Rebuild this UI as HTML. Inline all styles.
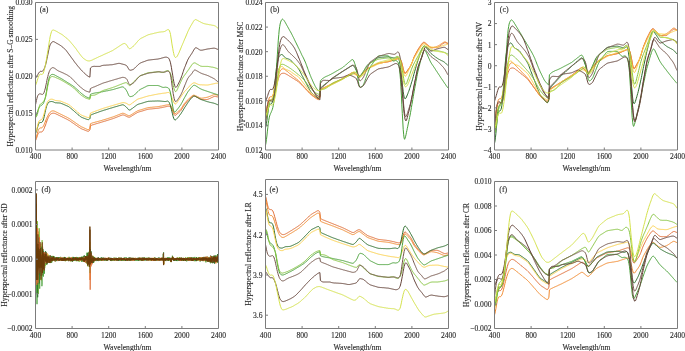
<!DOCTYPE html><html><head><meta charset="utf-8"><style>html,body{margin:0;padding:0;background:#fff;}svg{display:block;will-change:transform}text{font-family:"Liberation Serif",serif;stroke:#2a2a2a;stroke-width:0.12px;}</style></head><body>
<svg width="685" height="351" viewBox="0 0 685 351">
<rect width="685" height="351" fill="#fff"/>
<g><polyline points="35.5,140.7 36.0,139.7 36.4,138.5 36.9,137.1 37.3,135.7 37.8,134.4 38.2,133.5 38.7,132.8 39.2,132.4 39.6,132.1 40.1,132.0 40.5,132.0 41.0,132.0 41.4,132.0 41.9,131.8 42.4,131.5 42.8,131.0 43.3,130.3 43.7,129.4 44.2,128.4 44.6,127.2 45.1,126.0 45.6,124.8 46.0,123.5 46.5,122.2 46.9,120.9 47.4,119.7 47.9,118.5 48.3,117.4 48.8,116.5 49.2,115.8 49.7,115.1 50.1,114.6 50.6,114.2 51.1,113.8 51.5,113.6 52.0,113.4 52.4,113.3 52.9,113.2 53.3,113.2 53.8,113.2 54.3,113.3 54.7,113.4 55.2,113.6 55.6,113.7 56.1,113.9 56.5,114.2 57.0,114.4 57.5,114.6 57.9,114.8 58.4,115.1 58.8,115.3 59.3,115.5 59.7,115.7 60.2,116.0 60.7,116.2 61.1,116.4 61.6,116.6 62.0,116.9 62.5,117.1 63.0,117.3 63.4,117.5 63.9,117.8 64.3,118.0 64.8,118.2 65.2,118.4 65.7,118.7 66.2,118.9 66.6,119.1 67.1,119.3 67.5,119.6 68.0,119.8 68.4,120.1 68.9,120.3 69.4,120.6 69.8,120.9 70.3,121.2 70.7,121.5 71.2,121.8 71.6,122.2 72.1,122.5 72.6,122.8 73.0,123.1 73.5,123.4 73.9,123.7 74.4,124.0 74.8,124.4 75.3,124.7 75.8,125.0 76.2,125.3 76.7,125.6 77.1,125.9 77.6,126.3 78.0,126.6 78.5,126.9 79.0,127.2 79.4,127.5 79.9,127.8 80.3,128.1 80.8,128.4 81.2,128.6 81.7,128.9 82.2,129.1 82.6,129.3 83.1,129.4 83.5,129.6 84.0,129.8 84.5,130.0 84.9,130.2 85.4,130.4 85.8,130.6 86.3,130.7 86.7,130.9 87.2,131.1 87.7,131.2 88.1,131.3 88.6,131.2 89.0,131.0 89.5,130.5 89.9,129.9 90.4,125.8 90.9,125.6 91.3,125.4 91.8,125.2 92.2,125.0 92.7,124.8 93.1,124.7 93.6,124.6 94.1,124.4 94.5,124.3 95.0,124.1 95.4,124.0 95.9,123.9 96.3,123.7 96.8,123.6 97.3,123.5 97.7,123.3 98.2,123.2 98.6,123.0 99.1,122.9 99.5,122.8 100.0,122.6 100.5,122.5 100.9,122.4 101.4,122.2 101.8,122.1 102.3,121.9 102.8,121.8 103.2,121.7 103.7,121.5 104.1,121.4 104.6,121.2 105.0,121.1 105.5,121.0 106.0,120.8 106.4,120.7 106.9,120.5 107.3,120.4 107.8,120.3 108.2,120.1 108.7,120.0 109.2,119.8 109.6,119.7 110.1,119.6 110.5,119.4 111.0,119.3 111.4,119.1 111.9,119.0 112.4,118.8 112.8,118.7 113.3,118.5 113.7,118.3 114.2,118.2 114.6,118.0 115.1,117.8 115.6,117.6 116.0,117.4 116.5,117.3 116.9,117.1 117.4,116.9 117.9,116.7 118.3,116.5 118.8,116.4 119.2,116.2 119.7,116.0 120.1,115.8 120.6,115.6 121.1,115.5 121.5,115.3 122.0,115.1 122.4,115.0 122.9,114.9 123.3,115.0 123.8,115.0 124.3,115.2 124.7,115.4 125.2,115.6 125.6,115.9 126.1,116.1 126.5,116.3 127.0,116.6 127.5,116.8 127.9,117.0 128.4,117.1 128.8,117.2 129.3,117.2 129.7,117.1 130.2,116.9 130.7,116.6 131.1,116.3 131.6,116.1 132.0,115.8 132.5,115.5 132.9,115.2 133.4,114.9 133.9,114.7 134.3,114.4 134.8,114.1 135.2,113.8 135.7,113.5 136.2,113.2 136.6,113.0 137.1,112.7 137.5,112.5 138.0,112.3 138.4,112.1 138.9,112.0 139.4,111.8 139.8,111.7 140.3,111.6 140.7,111.4 141.2,111.3 141.6,111.2 142.1,111.0 142.6,110.9 143.0,110.7 143.5,110.6 143.9,110.5 144.4,110.3 144.8,110.2 145.3,110.0 145.8,109.9 146.2,109.8 146.7,109.6 147.1,109.5 147.6,109.4 148.0,109.3 148.5,109.2 149.0,109.1 149.4,109.1 149.9,109.0 150.3,109.0 150.8,108.9 151.2,108.9 151.7,108.9 152.2,108.8 152.6,108.8 153.1,108.7 153.5,108.7 154.0,108.6 154.4,108.6 154.9,108.6 155.4,108.5 155.8,108.5 156.3,108.4 156.7,108.4 157.2,108.3 157.7,108.3 158.1,108.2 158.6,108.2 159.0,108.1 159.5,108.0 159.9,107.9 160.4,107.8 160.9,107.7 161.3,107.7 161.8,107.6 162.2,107.5 162.7,107.4 163.1,107.3 163.6,107.2 164.1,107.1 164.5,107.0 165.0,106.9 165.4,106.8 165.9,106.7 166.3,106.6 166.8,106.5 167.3,106.4 167.7,106.3 168.2,106.3 168.6,106.2 169.1,106.2 169.5,106.3 170.0,106.4 170.5,106.7 170.9,107.3 171.4,108.0 171.8,109.0 172.3,110.1 172.8,111.4 173.2,112.6 173.7,113.7 174.1,114.6 174.6,115.2 175.0,115.4 175.5,115.3 176.0,115.0 176.4,114.6 176.9,114.2 177.3,113.8 177.8,113.4 178.2,113.0 178.7,112.6 179.2,112.2 179.6,111.8 180.1,111.4 180.5,110.9 181.0,110.3 181.4,109.7 181.9,109.0 182.4,108.2 182.8,107.4 183.3,106.6 183.7,105.9 184.2,105.3 184.6,104.6 185.1,104.0 185.6,103.5 186.0,102.9 186.5,102.4 186.9,101.8 187.4,101.3 187.8,100.8 188.3,100.3 188.8,99.8 189.2,99.4 189.7,99.0 190.1,98.6 190.6,98.2 191.0,97.8 191.5,97.4 192.0,97.0 192.4,96.6 192.9,96.4 193.3,96.2 193.8,96.1 194.3,96.1 194.7,96.2 195.2,96.4 195.6,96.6 196.1,96.9 196.5,97.1 197.0,97.4 197.5,97.6 197.9,97.8 198.4,98.1 198.8,98.3 199.3,98.6 199.7,98.8 200.2,99.0 200.7,99.2 201.1,99.3 201.6,99.4 202.0,99.5 202.5,99.5 202.9,99.5 203.4,99.5 203.9,99.5 204.3,99.5 204.8,99.5 205.2,99.5 205.7,99.5 206.1,99.5 206.6,99.5 207.1,99.4 207.5,99.4 208.0,99.3 208.4,99.1 208.9,98.9 209.3,98.7 209.8,98.5 210.3,98.3 210.7,98.1 211.2,97.8 211.6,97.6 212.1,97.4 212.6,97.2 213.0,96.9 213.5,96.7 213.9,96.6 214.4,96.4 214.8,96.4 215.3,96.4 215.8,96.4 216.2,96.6 216.7,96.7 217.1,96.8 217.6,96.9 218.0,97.0 218.5,97.1" fill="none" stroke="#e06c34" stroke-width="1.0" stroke-linejoin="round"/><polyline points="35.5,138.8 36.0,137.9 36.4,136.6 36.9,135.1 37.3,133.5 37.8,131.9 38.2,130.6 38.7,129.5 39.2,128.7 39.6,128.2 40.1,127.9 40.5,127.9 41.0,127.9 41.4,127.9 41.9,127.7 42.4,127.4 42.8,126.9 43.3,126.2 43.7,125.4 44.2,124.4 44.6,123.3 45.1,122.2 45.6,121.0 46.0,119.9 46.5,118.7 46.9,117.7 47.4,116.7 47.9,115.7 48.3,114.8 48.8,114.0 49.2,113.3 49.7,112.7 50.1,112.2 50.6,111.8 51.1,111.4 51.5,111.2 52.0,111.0 52.4,110.9 52.9,110.9 53.3,110.9 53.8,111.0 54.3,111.1 54.7,111.3 55.2,111.5 55.6,111.7 56.1,111.9 56.5,112.2 57.0,112.4 57.5,112.6 57.9,112.8 58.4,113.1 58.8,113.3 59.3,113.5 59.7,113.7 60.2,114.0 60.7,114.2 61.1,114.4 61.6,114.6 62.0,114.9 62.5,115.1 63.0,115.3 63.4,115.5 63.9,115.8 64.3,116.0 64.8,116.2 65.2,116.4 65.7,116.7 66.2,116.9 66.6,117.1 67.1,117.3 67.5,117.6 68.0,117.8 68.4,118.1 68.9,118.3 69.4,118.6 69.8,118.9 70.3,119.2 70.7,119.5 71.2,119.8 71.6,120.2 72.1,120.5 72.6,120.8 73.0,121.1 73.5,121.4 73.9,121.7 74.4,122.0 74.8,122.4 75.3,122.7 75.8,123.0 76.2,123.3 76.7,123.6 77.1,123.9 77.6,124.3 78.0,124.6 78.5,124.9 79.0,125.2 79.4,125.5 79.9,125.8 80.3,126.1 80.8,126.4 81.2,126.7 81.7,126.9 82.2,127.1 82.6,127.3 83.1,127.5 83.5,127.7 84.0,128.0 84.5,128.2 84.9,128.4 85.4,128.6 85.8,128.8 86.3,129.0 86.7,129.2 87.2,129.4 87.7,129.6 88.1,129.6 88.6,129.6 89.0,129.3 89.5,128.8 89.9,128.2 90.4,123.8 90.9,123.6 91.3,123.4 91.8,123.2 92.2,123.0 92.7,122.9 93.1,122.8 93.6,122.6 94.1,122.5 94.5,122.4 95.0,122.3 95.4,122.1 95.9,122.0 96.3,121.9 96.8,121.8 97.3,121.6 97.7,121.5 98.2,121.4 98.6,121.3 99.1,121.1 99.5,121.0 100.0,120.9 100.5,120.8 100.9,120.6 101.4,120.5 101.8,120.4 102.3,120.2 102.8,120.1 103.2,120.0 103.7,119.8 104.1,119.7 104.6,119.5 105.0,119.4 105.5,119.3 106.0,119.1 106.4,119.0 106.9,118.8 107.3,118.7 107.8,118.6 108.2,118.4 108.7,118.3 109.2,118.1 109.6,118.0 110.1,117.9 110.5,117.7 111.0,117.6 111.4,117.4 111.9,117.3 112.4,117.1 112.8,117.0 113.3,116.8 113.7,116.6 114.2,116.5 114.6,116.3 115.1,116.1 115.6,115.9 116.0,115.7 116.5,115.6 116.9,115.4 117.4,115.2 117.9,115.0 118.3,114.8 118.8,114.7 119.2,114.5 119.7,114.3 120.1,114.1 120.6,113.9 121.1,113.8 121.5,113.6 122.0,113.4 122.4,113.3 122.9,113.2 123.3,113.3 123.8,113.4 124.3,113.5 124.7,113.8 125.2,114.0 125.6,114.2 126.1,114.5 126.5,114.7 127.0,115.0 127.5,115.2 127.9,115.4 128.4,115.6 128.8,115.7 129.3,115.7 129.7,115.5 130.2,115.3 130.7,115.1 131.1,114.8 131.6,114.5 132.0,114.2 132.5,114.0 132.9,113.7 133.4,113.4 133.9,113.1 134.3,112.8 134.8,112.5 135.2,112.2 135.7,111.9 136.2,111.7 136.6,111.4 137.1,111.1 137.5,110.9 138.0,110.7 138.4,110.5 138.9,110.4 139.4,110.2 139.8,110.1 140.3,110.0 140.7,109.8 141.2,109.7 141.6,109.6 142.1,109.4 142.6,109.3 143.0,109.1 143.5,109.0 143.9,108.9 144.4,108.7 144.8,108.6 145.3,108.4 145.8,108.3 146.2,108.2 146.7,108.0 147.1,107.9 147.6,107.8 148.0,107.7 148.5,107.6 149.0,107.5 149.4,107.5 149.9,107.4 150.3,107.4 150.8,107.3 151.2,107.3 151.7,107.3 152.2,107.2 152.6,107.2 153.1,107.1 153.5,107.1 154.0,107.0 154.4,107.0 154.9,107.0 155.4,106.9 155.8,106.9 156.3,106.8 156.7,106.8 157.2,106.7 157.7,106.7 158.1,106.6 158.6,106.6 159.0,106.5 159.5,106.4 159.9,106.3 160.4,106.2 160.9,106.1 161.3,106.1 161.8,106.0 162.2,105.9 162.7,105.8 163.1,105.7 163.6,105.6 164.1,105.5 164.5,105.4 165.0,105.3 165.4,105.2 165.9,105.1 166.3,105.0 166.8,105.0 167.3,104.9 167.7,104.8 168.2,104.7 168.6,104.7 169.1,104.7 169.5,104.7 170.0,104.9 170.5,105.2 170.9,105.8 171.4,106.5 171.8,107.5 172.3,108.6 172.8,109.9 173.2,111.1 173.7,112.2 174.1,113.1 174.6,113.6 175.0,113.8 175.5,113.6 176.0,113.4 176.4,113.0 176.9,112.6 177.3,112.2 177.8,111.8 178.2,111.4 178.7,111.0 179.2,110.6 179.6,110.2 180.1,109.8 180.5,109.3 181.0,108.8 181.4,108.2 181.9,107.5 182.4,106.7 182.8,105.9 183.3,105.2 183.7,104.5 184.2,103.8 184.6,103.2 185.1,102.7 185.6,102.2 186.0,101.7 186.5,101.2 186.9,100.7 187.4,100.2 187.8,99.7 188.3,99.3 188.8,98.8 189.2,98.4 189.7,98.0 190.1,97.6 190.6,97.2 191.0,96.8 191.5,96.4 192.0,96.0 192.4,95.7 192.9,95.4 193.3,95.3 193.8,95.2 194.3,95.3 194.7,95.4 195.2,95.6 195.6,95.8 196.1,96.0 196.5,96.2 197.0,96.4 197.5,96.7 197.9,96.9 198.4,97.1 198.8,97.3 199.3,97.5 199.7,97.8 200.2,97.9 200.7,98.1 201.1,98.2 201.6,98.2 202.0,98.2 202.5,98.1 202.9,98.1 203.4,98.0 203.9,97.9 204.3,97.8 204.8,97.7 205.2,97.7 205.7,97.6 206.1,97.5 206.6,97.4 207.1,97.3 207.5,97.2 208.0,97.1 208.4,96.9 208.9,96.7 209.3,96.5 209.8,96.4 210.3,96.2 210.7,96.0 211.2,95.8 211.6,95.6 212.1,95.4 212.6,95.2 213.0,95.0 213.5,94.8 213.9,94.7 214.4,94.6 214.8,94.6 215.3,94.6 215.8,94.7 216.2,94.8 216.7,95.0 217.1,95.1 217.6,95.3 218.0,95.4 218.5,95.5" fill="none" stroke="#f28a2e" stroke-width="1.0" stroke-linejoin="round"/><polyline points="35.5,133.1 36.0,132.4 36.4,131.3 36.9,129.9 37.3,128.3 37.8,126.6 38.2,125.1 38.7,123.9 39.2,123.0 39.6,122.6 40.1,122.5 40.5,122.5 41.0,122.5 41.4,122.5 41.9,122.2 42.4,121.8 42.8,121.1 43.3,120.0 43.7,118.6 44.2,116.7 44.6,114.6 45.1,112.3 45.6,110.2 46.0,108.3 46.5,106.7 46.9,105.4 47.4,104.3 47.9,103.4 48.3,102.7 48.8,102.3 49.2,102.0 49.7,101.8 50.1,101.7 50.6,101.6 51.1,101.5 51.5,101.5 52.0,101.5 52.4,101.6 52.9,101.8 53.3,101.9 53.8,102.1 54.3,102.4 54.7,102.5 55.2,102.7 55.6,102.8 56.1,102.8 56.5,102.8 57.0,102.9 57.5,102.9 57.9,102.9 58.4,102.9 58.8,103.0 59.3,103.0 59.7,103.0 60.2,103.1 60.7,103.2 61.1,103.4 61.6,103.6 62.0,103.7 62.5,103.9 63.0,104.1 63.4,104.3 63.9,104.5 64.3,104.7 64.8,104.9 65.2,105.1 65.7,105.3 66.2,105.5 66.6,105.7 67.1,105.9 67.5,106.1 68.0,106.3 68.4,106.5 68.9,106.8 69.4,107.1 69.8,107.5 70.3,107.9 70.7,108.3 71.2,108.7 71.6,109.0 72.1,109.4 72.6,109.8 73.0,110.2 73.5,110.6 73.9,111.0 74.4,111.4 74.8,111.8 75.3,112.2 75.8,112.6 76.2,113.0 76.7,113.4 77.1,113.8 77.6,114.2 78.0,114.6 78.5,115.0 79.0,115.3 79.4,115.7 79.9,116.1 80.3,116.5 80.8,116.8 81.2,117.1 81.7,117.3 82.2,117.5 82.6,117.7 83.1,117.9 83.5,118.1 84.0,118.2 84.5,118.4 84.9,118.6 85.4,118.8 85.8,118.9 86.3,119.1 86.7,119.3 87.2,119.4 87.7,119.6 88.1,119.7 88.6,119.6 89.0,119.4 89.5,119.0 89.9,118.6 90.4,115.2 90.9,115.0 91.3,114.8 91.8,114.6 92.2,114.4 92.7,114.2 93.1,114.0 93.6,113.9 94.1,113.7 94.5,113.5 95.0,113.4 95.4,113.2 95.9,113.0 96.3,112.9 96.8,112.7 97.3,112.6 97.7,112.4 98.2,112.2 98.6,112.1 99.1,111.9 99.5,111.7 100.0,111.6 100.5,111.4 100.9,111.2 101.4,111.1 101.8,110.9 102.3,110.8 102.8,110.6 103.2,110.5 103.7,110.3 104.1,110.2 104.6,110.0 105.0,109.9 105.5,109.8 106.0,109.6 106.4,109.5 106.9,109.3 107.3,109.2 107.8,109.1 108.2,108.9 108.7,108.8 109.2,108.6 109.6,108.5 110.1,108.4 110.5,108.2 111.0,108.1 111.4,108.0 111.9,107.8 112.4,107.7 112.8,107.5 113.3,107.4 113.7,107.3 114.2,107.1 114.6,107.0 115.1,106.9 115.6,106.7 116.0,106.6 116.5,106.5 116.9,106.3 117.4,106.2 117.9,106.1 118.3,105.9 118.8,105.8 119.2,105.7 119.7,105.5 120.1,105.4 120.6,105.3 121.1,105.1 121.5,105.0 122.0,104.9 122.4,104.8 122.9,104.8 123.3,104.9 123.8,105.1 124.3,105.4 124.7,105.8 125.2,106.1 125.6,106.5 126.1,106.9 126.5,107.3 127.0,107.8 127.5,108.4 127.9,108.9 128.4,109.5 128.8,109.8 129.3,110.0 129.7,110.0 130.2,109.9 130.7,109.6 131.1,109.3 131.6,108.9 132.0,108.6 132.5,108.3 132.9,107.9 133.4,107.6 133.9,107.2 134.3,106.9 134.8,106.5 135.2,106.2 135.7,105.9 136.2,105.5 136.6,105.2 137.1,104.9 137.5,104.6 138.0,104.4 138.4,104.2 138.9,104.1 139.4,103.9 139.8,103.8 140.3,103.7 140.7,103.5 141.2,103.4 141.6,103.3 142.1,103.1 142.6,103.0 143.0,102.8 143.5,102.7 143.9,102.6 144.4,102.4 144.8,102.3 145.3,102.1 145.8,102.0 146.2,101.9 146.7,101.7 147.1,101.6 147.6,101.5 148.0,101.4 148.5,101.3 149.0,101.3 149.4,101.3 149.9,101.2 150.3,101.2 150.8,101.2 151.2,101.2 151.7,101.2 152.2,101.1 152.6,101.1 153.1,101.1 153.5,101.1 154.0,101.1 154.4,101.1 154.9,101.0 155.4,101.0 155.8,101.0 156.3,101.0 156.7,101.0 157.2,101.0 157.7,100.9 158.1,100.9 158.6,101.0 159.0,101.0 159.5,101.0 159.9,101.0 160.4,101.1 160.9,101.1 161.3,101.2 161.8,101.2 162.2,101.3 162.7,101.3 163.1,101.4 163.6,101.4 164.1,101.5 164.5,101.5 165.0,101.5 165.4,101.5 165.9,101.5 166.3,101.4 166.8,101.2 167.3,101.1 167.7,101.1 168.2,101.3 168.6,101.7 169.1,102.3 169.5,103.2 170.0,104.3 170.5,105.8 170.9,107.5 171.4,109.3 171.8,111.3 172.3,113.2 172.8,115.1 173.2,116.8 173.7,118.2 174.1,119.2 174.6,119.8 175.0,120.0 175.5,119.9 176.0,119.6 176.4,119.2 176.9,118.7 177.3,118.2 177.8,117.7 178.2,117.2 178.7,116.6 179.2,116.0 179.6,115.4 180.1,114.8 180.5,114.1 181.0,113.5 181.4,112.8 181.9,112.1 182.4,111.4 182.8,110.6 183.3,109.9 183.7,109.1 184.2,108.4 184.6,107.6 185.1,106.9 185.6,106.2 186.0,105.5 186.5,104.8 186.9,104.1 187.4,103.4 187.8,102.7 188.3,102.1 188.8,101.4 189.2,100.8 189.7,100.2 190.1,99.7 190.6,99.1 191.0,98.6 191.5,98.1 192.0,97.6 192.4,97.1 192.9,96.7 193.3,96.3 193.8,96.1 194.3,96.1 194.7,96.1 195.2,96.3 195.6,96.5 196.1,96.7 196.5,97.0 197.0,97.2 197.5,97.5 197.9,97.8 198.4,98.0 198.8,98.3 199.3,98.5 199.7,98.8 200.2,99.0 200.7,99.3 201.1,99.5 201.6,99.7 202.0,99.8 202.5,100.0 202.9,100.2 203.4,100.3 203.9,100.5 204.3,100.6 204.8,100.8 205.2,100.9 205.7,101.1 206.1,101.2 206.6,101.4 207.1,101.5 207.5,101.7 208.0,101.8 208.4,101.9 208.9,102.0 209.3,102.2 209.8,102.3 210.3,102.4 210.7,102.5 211.2,102.6 211.6,102.7 212.1,102.8 212.6,102.9 213.0,103.0 213.5,103.1 213.9,103.2 214.4,103.4 214.8,103.5 215.3,103.7 215.8,103.9 216.2,104.1 216.7,104.3 217.1,104.5 217.6,104.7 218.0,104.9 218.5,105.0" fill="none" stroke="#2c6e2c" stroke-width="1.0" stroke-linejoin="round"/><polyline points="35.5,132.2 36.0,131.4 36.4,130.3 36.9,128.8 37.3,127.0 37.8,125.1 38.2,123.3 38.7,121.9 39.2,121.0 39.6,120.5 40.1,120.3 40.5,120.1 41.0,120.0 41.4,119.6 41.9,119.1 42.4,118.4 42.8,117.5 43.3,116.3 43.7,114.9 44.2,113.4 44.6,111.6 45.1,109.8 45.6,107.9 46.0,106.2 46.5,104.6 46.9,103.3 47.4,102.3 47.9,101.5 48.3,100.9 48.8,100.4 49.2,100.0 49.7,99.7 50.1,99.5 50.6,99.3 51.1,99.2 51.5,99.2 52.0,99.2 52.4,99.3 52.9,99.4 53.3,99.6 53.8,99.8 54.3,100.0 54.7,100.2 55.2,100.4 55.6,100.5 56.1,100.6 56.5,100.6 57.0,100.7 57.5,100.7 57.9,100.8 58.4,100.8 58.8,100.9 59.3,100.9 59.7,101.0 60.2,101.1 60.7,101.2 61.1,101.4 61.6,101.5 62.0,101.7 62.5,101.9 63.0,102.1 63.4,102.3 63.9,102.5 64.3,102.7 64.8,102.8 65.2,103.0 65.7,103.2 66.2,103.4 66.6,103.6 67.1,103.8 67.5,104.0 68.0,104.2 68.4,104.4 68.9,104.7 69.4,105.0 69.8,105.4 70.3,105.8 70.7,106.2 71.2,106.6 71.6,106.9 72.1,107.3 72.6,107.7 73.0,108.1 73.5,108.5 73.9,108.9 74.4,109.3 74.8,109.7 75.3,110.1 75.8,110.5 76.2,110.9 76.7,111.3 77.1,111.7 77.6,112.1 78.0,112.5 78.5,112.9 79.0,113.2 79.4,113.6 79.9,114.0 80.3,114.4 80.8,114.7 81.2,115.0 81.7,115.2 82.2,115.4 82.6,115.6 83.1,115.8 83.5,116.0 84.0,116.1 84.5,116.3 84.9,116.5 85.4,116.7 85.8,116.8 86.3,117.0 86.7,117.2 87.2,117.3 87.7,117.5 88.1,117.6 88.6,117.5 89.0,117.3 89.5,117.0 89.9,116.5 90.4,113.2 90.9,113.0 91.3,112.8 91.8,112.6 92.2,112.4 92.7,112.2 93.1,112.0 93.6,111.9 94.1,111.7 94.5,111.5 95.0,111.3 95.4,111.2 95.9,111.0 96.3,110.8 96.8,110.7 97.3,110.5 97.7,110.3 98.2,110.2 98.6,110.0 99.1,109.8 99.5,109.6 100.0,109.5 100.5,109.3 100.9,109.1 101.4,109.0 101.8,108.8 102.3,108.7 102.8,108.5 103.2,108.4 103.7,108.2 104.1,108.1 104.6,107.9 105.0,107.8 105.5,107.7 106.0,107.5 106.4,107.4 106.9,107.2 107.3,107.1 107.8,107.0 108.2,106.8 108.7,106.7 109.2,106.5 109.6,106.4 110.1,106.3 110.5,106.1 111.0,106.0 111.4,105.9 111.9,105.7 112.4,105.6 112.8,105.4 113.3,105.3 113.7,105.2 114.2,105.0 114.6,104.9 115.1,104.8 115.6,104.6 116.0,104.5 116.5,104.4 116.9,104.2 117.4,104.1 117.9,104.0 118.3,103.8 118.8,103.7 119.2,103.6 119.7,103.4 120.1,103.3 120.6,103.2 121.1,103.0 121.5,102.9 122.0,102.8 122.4,102.7 122.9,102.6 123.3,102.6 123.8,102.6 124.3,102.7 124.7,102.8 125.2,102.9 125.6,103.1 126.1,103.2 126.5,103.4 127.0,103.7 127.5,104.0 127.9,104.3 128.4,104.6 128.8,104.8 129.3,104.9 129.7,104.8 130.2,104.6 130.7,104.3 131.1,104.0 131.6,103.6 132.0,103.3 132.5,103.0 132.9,102.6 133.4,102.3 133.9,101.9 134.3,101.6 134.8,101.2 135.2,100.9 135.7,100.6 136.2,100.2 136.6,99.9 137.1,99.6 137.5,99.3 138.0,99.1 138.4,98.9 138.9,98.8 139.4,98.6 139.8,98.5 140.3,98.4 140.7,98.2 141.2,98.1 141.6,98.0 142.1,97.8 142.6,97.7 143.0,97.5 143.5,97.4 143.9,97.3 144.4,97.1 144.8,97.0 145.3,96.8 145.8,96.7 146.2,96.6 146.7,96.4 147.1,96.3 147.6,96.2 148.0,96.1 148.5,95.9 149.0,95.8 149.4,95.7 149.9,95.6 150.3,95.6 150.8,95.5 151.2,95.4 151.7,95.3 152.2,95.2 152.6,95.1 153.1,95.0 153.5,94.9 154.0,94.8 154.4,94.7 154.9,94.6 155.4,94.5 155.8,94.5 156.3,94.4 156.7,94.3 157.2,94.2 157.7,94.1 158.1,94.0 158.6,93.9 159.0,93.9 159.5,93.8 159.9,93.7 160.4,93.7 160.9,93.6 161.3,93.5 161.8,93.5 162.2,93.4 162.7,93.3 163.1,93.3 163.6,93.2 164.1,93.2 164.5,93.1 165.0,93.0 165.4,93.0 165.9,92.9 166.3,92.8 166.8,92.7 167.3,92.6 167.7,92.5 168.2,92.5 168.6,92.5 169.1,92.6 169.5,92.9 170.0,93.4 170.5,94.2 170.9,95.2 171.4,96.3 171.8,97.5 172.3,98.6 172.8,99.8 173.2,101.0 173.7,102.0 174.1,102.9 174.6,103.6 175.0,103.9 175.5,104.0 176.0,103.7 176.4,103.3 176.9,102.7 177.3,102.1 177.8,101.4 178.2,100.7 178.7,100.1 179.2,99.4 179.6,98.7 180.1,98.0 180.5,97.3 181.0,96.6 181.4,95.9 181.9,95.3 182.4,94.6 182.8,93.9 183.3,93.3 183.7,92.6 184.2,92.1 184.6,91.5 185.1,91.0 185.6,90.5 186.0,90.0 186.5,89.5 186.9,89.0 187.4,88.5 187.8,88.0 188.3,87.6 188.8,87.1 189.2,86.6 189.7,86.1 190.1,85.6 190.6,85.1 191.0,84.7 191.5,84.2 192.0,83.9 192.4,83.5 192.9,83.2 193.3,83.0 193.8,82.9 194.3,82.8 194.7,82.9 195.2,83.0 195.6,83.2 196.1,83.4 196.5,83.6 197.0,83.8 197.5,84.1 197.9,84.3 198.4,84.4 198.8,84.6 199.3,84.7 199.7,84.7 200.2,84.8 200.7,84.8 201.1,84.8 201.6,84.8 202.0,84.8 202.5,84.9 202.9,84.9 203.4,84.9 203.9,84.9 204.3,84.9 204.8,85.0 205.2,85.0 205.7,85.0 206.1,85.0 206.6,85.0 207.1,85.0 207.5,85.0 208.0,85.0 208.4,84.9 208.9,84.8 209.3,84.7 209.8,84.6 210.3,84.5 210.7,84.4 211.2,84.3 211.6,84.2 212.1,84.1 212.6,84.0 213.0,83.9 213.5,83.8 213.9,83.7 214.4,83.6 214.8,83.5 215.3,83.4 215.8,83.3 216.2,83.3 216.7,83.2 217.1,83.1 217.6,83.1 218.0,83.0 218.5,83.0" fill="none" stroke="#fcd04a" stroke-width="1.0" stroke-linejoin="round"/><polyline points="35.5,117.0 36.0,116.2 36.4,115.1 36.9,113.7 37.3,112.3 37.8,110.8 38.2,109.5 38.7,108.3 39.2,107.4 39.6,106.7 40.1,106.3 40.5,105.9 41.0,105.7 41.4,105.4 41.9,105.0 42.4,104.6 42.8,104.1 43.3,103.5 43.7,102.6 44.2,101.5 44.6,100.1 45.1,98.4 45.6,96.4 46.0,94.1 46.5,91.5 46.9,88.7 47.4,86.0 47.9,83.4 48.3,81.2 48.8,79.3 49.2,77.8 49.7,76.6 50.1,75.8 50.6,75.2 51.1,74.8 51.5,74.6 52.0,74.4 52.4,74.4 52.9,74.4 53.3,74.5 53.8,74.6 54.3,74.8 54.7,75.0 55.2,75.3 55.6,75.5 56.1,75.8 56.5,76.0 57.0,76.3 57.5,76.5 57.9,76.8 58.4,77.0 58.8,77.3 59.3,77.5 59.7,77.8 60.2,78.0 60.7,78.3 61.1,78.5 61.6,78.8 62.0,79.1 62.5,79.3 63.0,79.6 63.4,79.9 63.9,80.2 64.3,80.5 64.8,80.8 65.2,81.1 65.7,81.3 66.2,81.6 66.6,81.9 67.1,82.2 67.5,82.5 68.0,82.8 68.4,83.1 68.9,83.3 69.4,83.6 69.8,83.9 70.3,84.2 70.7,84.5 71.2,84.8 71.6,85.1 72.1,85.4 72.6,85.7 73.0,86.0 73.5,86.4 73.9,86.7 74.4,87.0 74.8,87.4 75.3,87.8 75.8,88.2 76.2,88.6 76.7,89.0 77.1,89.5 77.6,89.9 78.0,90.3 78.5,90.8 79.0,91.2 79.4,91.6 79.9,92.1 80.3,92.5 80.8,92.9 81.2,93.2 81.7,93.6 82.2,94.0 82.6,94.3 83.1,94.7 83.5,95.0 84.0,95.4 84.5,95.7 84.9,96.1 85.4,96.4 85.8,96.6 86.3,96.9 86.7,97.1 87.2,97.3 87.7,97.5 88.1,97.7 88.6,97.9 89.0,98.0 89.5,98.1 89.9,98.2 90.4,94.4 90.9,94.2 91.3,94.0 91.8,93.8 92.2,93.6 92.7,93.5 93.1,93.4 93.6,93.3 94.1,93.2 94.5,93.1 95.0,93.0 95.4,92.9 95.9,92.9 96.3,92.8 96.8,92.7 97.3,92.6 97.7,92.6 98.2,92.5 98.6,92.4 99.1,92.3 99.5,92.3 100.0,92.2 100.5,92.1 100.9,92.0 101.4,91.9 101.8,91.8 102.3,91.8 102.8,91.7 103.2,91.6 103.7,91.5 104.1,91.4 104.6,91.3 105.0,91.2 105.5,91.1 106.0,91.0 106.4,90.9 106.9,90.8 107.3,90.8 107.8,90.7 108.2,90.6 108.7,90.5 109.2,90.4 109.6,90.3 110.1,90.2 110.5,90.1 111.0,90.0 111.4,89.9 111.9,89.8 112.4,89.7 112.8,89.6 113.3,89.5 113.7,89.4 114.2,89.2 114.6,89.1 115.1,88.9 115.6,88.8 116.0,88.7 116.5,88.5 116.9,88.4 117.4,88.3 117.9,88.1 118.3,88.0 118.8,87.8 119.2,87.7 119.7,87.6 120.1,87.4 120.6,87.3 121.1,87.2 121.5,87.0 122.0,86.9 122.4,86.9 122.9,86.9 123.3,87.1 123.8,87.4 124.3,87.8 124.7,88.2 125.2,88.7 125.6,89.3 126.1,89.9 126.5,90.6 127.0,91.5 127.5,92.5 127.9,93.5 128.4,94.6 128.8,95.5 129.3,96.1 129.7,96.5 130.2,96.6 130.7,96.6 131.1,96.6 131.6,96.4 132.0,96.3 132.5,96.1 132.9,95.9 133.4,95.7 133.9,95.3 134.3,95.0 134.8,94.5 135.2,94.1 135.7,93.6 136.2,93.2 136.6,92.7 137.1,92.3 137.5,91.8 138.0,91.4 138.4,91.0 138.9,90.5 139.4,90.1 139.8,89.8 140.3,89.5 140.7,89.2 141.2,89.0 141.6,88.7 142.1,88.5 142.6,88.3 143.0,88.0 143.5,87.8 143.9,87.6 144.4,87.4 144.8,87.1 145.3,86.9 145.8,86.7 146.2,86.4 146.7,86.2 147.1,86.0 147.6,85.8 148.0,85.7 148.5,85.6 149.0,85.5 149.4,85.5 149.9,85.5 150.3,85.5 150.8,85.5 151.2,85.5 151.7,85.5 152.2,85.5 152.6,85.5 153.1,85.5 153.5,85.5 154.0,85.5 154.4,85.5 154.9,85.5 155.4,85.5 155.8,85.5 156.3,85.5 156.7,85.5 157.2,85.5 157.7,85.5 158.1,85.6 158.6,85.7 159.0,85.8 159.5,86.0 159.9,86.2 160.4,86.4 160.9,86.6 161.3,86.8 161.8,87.0 162.2,87.2 162.7,87.3 163.1,87.4 163.6,87.4 164.1,87.4 164.5,87.3 165.0,87.2 165.4,87.2 165.9,87.2 166.3,87.3 166.8,87.4 167.3,87.5 167.7,87.7 168.2,87.9 168.6,88.3 169.1,88.9 169.5,89.8 170.0,91.1 170.5,92.9 170.9,95.2 171.4,97.9 171.8,100.9 172.3,103.9 172.8,106.8 173.2,109.1 173.7,110.8 174.1,111.8 174.6,112.2 175.0,112.0 175.5,111.6 176.0,111.1 176.4,110.5 176.9,109.9 177.3,109.3 177.8,108.8 178.2,108.2 178.7,107.6 179.2,107.0 179.6,106.3 180.1,105.7 180.5,105.0 181.0,104.3 181.4,103.5 181.9,102.7 182.4,101.8 182.8,100.9 183.3,100.1 183.7,99.2 184.2,98.3 184.6,97.5 185.1,96.7 185.6,95.9 186.0,95.0 186.5,94.2 186.9,93.4 187.4,92.7 187.8,91.9 188.3,91.3 188.8,90.7 189.2,90.1 189.7,89.5 190.1,88.9 190.6,88.4 191.0,87.9 191.5,87.3 192.0,86.8 192.4,86.3 192.9,85.9 193.3,85.6 193.8,85.3 194.3,85.3 194.7,85.3 195.2,85.5 195.6,85.7 196.1,86.0 196.5,86.3 197.0,86.6 197.5,86.9 197.9,87.2 198.4,87.5 198.8,87.8 199.3,88.1 199.7,88.4 200.2,88.6 200.7,88.9 201.1,89.1 201.6,89.3 202.0,89.5 202.5,89.7 202.9,89.9 203.4,90.0 203.9,90.2 204.3,90.3 204.8,90.5 205.2,90.6 205.7,90.8 206.1,90.9 206.6,91.1 207.1,91.3 207.5,91.4 208.0,91.6 208.4,91.7 208.9,91.9 209.3,92.0 209.8,92.2 210.3,92.3 210.7,92.5 211.2,92.6 211.6,92.8 212.1,92.9 212.6,93.1 213.0,93.2 213.5,93.4 213.9,93.5 214.4,93.7 214.8,93.8 215.3,94.0 215.8,94.1 216.2,94.3 216.7,94.4 217.1,94.6 217.6,94.7 218.0,94.8 218.5,94.9" fill="none" stroke="#48a038" stroke-width="1.0" stroke-linejoin="round"/><polyline points="35.5,117.7 36.0,117.4 36.4,116.7 36.9,115.8 37.3,114.4 37.8,112.7 38.2,110.8 38.7,108.8 39.2,106.9 39.6,105.4 40.1,104.5 40.5,104.0 41.0,103.7 41.4,103.5 41.9,103.1 42.4,102.7 42.8,102.1 43.3,101.6 43.7,101.0 44.2,100.4 44.6,99.6 45.1,98.5 45.6,97.1 46.0,95.2 46.5,93.0 46.9,90.5 47.4,87.9 47.9,85.4 48.3,83.2 48.8,81.3 49.2,79.8 49.7,78.6 50.1,77.8 50.6,77.3 51.1,76.9 51.5,76.7 52.0,76.6 52.4,76.5 52.9,76.6 53.3,76.7 53.8,76.8 54.3,76.9 54.7,77.1 55.2,77.3 55.6,77.5 56.1,77.7 56.5,77.9 57.0,78.1 57.5,78.3 57.9,78.5 58.4,78.7 58.8,78.9 59.3,79.1 59.7,79.4 60.2,79.6 60.7,79.8 61.1,80.1 61.6,80.3 62.0,80.6 62.5,80.8 63.0,81.1 63.4,81.3 63.9,81.6 64.3,81.9 64.8,82.1 65.2,82.4 65.7,82.7 66.2,83.0 66.6,83.2 67.1,83.5 67.5,83.8 68.0,84.1 68.4,84.4 68.9,84.6 69.4,84.9 69.8,85.2 70.3,85.5 70.7,85.8 71.2,86.2 71.6,86.5 72.1,86.9 72.6,87.2 73.0,87.6 73.5,87.9 73.9,88.3 74.4,88.7 74.8,89.1 75.3,89.5 75.8,89.9 76.2,90.4 76.7,90.8 77.1,91.3 77.6,91.7 78.0,92.2 78.5,92.7 79.0,93.1 79.4,93.6 79.9,94.0 80.3,94.4 80.8,94.8 81.2,95.1 81.7,95.5 82.2,95.8 82.6,96.1 83.1,96.4 83.5,96.7 84.0,97.0 84.5,97.3 84.9,97.6 85.4,97.9 85.8,98.1 86.3,98.3 86.7,98.4 87.2,98.6 87.7,98.7 88.1,98.9 88.6,99.0 89.0,99.1 89.5,99.2 89.9,99.2 90.4,95.9 90.9,95.7 91.3,95.6 91.8,95.5 92.2,95.4 92.7,95.3 93.1,95.3 93.6,95.2 94.1,95.2 94.5,95.1 95.0,95.0 95.4,94.8 95.9,94.6 96.3,94.4 96.8,94.2 97.3,93.9 97.7,93.7 98.2,93.4 98.6,93.2 99.1,93.0 99.5,92.7 100.0,92.4 100.5,92.1 100.9,91.8 101.4,91.4 101.8,91.1 102.3,90.9 102.8,90.7 103.2,90.5 103.7,90.3 104.1,90.2 104.6,90.0 105.0,89.9 105.5,89.8 106.0,89.6 106.4,89.5 106.9,89.3 107.3,89.2 107.8,89.1 108.2,88.9 108.7,88.8 109.2,88.6 109.6,88.5 110.1,88.4 110.5,88.2 111.0,88.1 111.4,87.9 111.9,87.8 112.4,87.6 112.8,87.5 113.3,87.3 113.7,87.1 114.2,87.0 114.6,86.8 115.1,86.6 115.6,86.4 116.0,86.2 116.5,86.1 116.9,85.9 117.4,85.7 117.9,85.5 118.3,85.3 118.8,85.2 119.2,85.0 119.7,84.8 120.1,84.6 120.6,84.4 121.1,84.3 121.5,84.1 122.0,83.9 122.4,83.7 122.9,83.5 123.3,83.4 123.8,83.2 124.3,83.1 124.7,82.9 125.2,82.8 125.6,82.7 126.1,82.7 126.5,82.8 127.0,83.0 127.5,83.5 127.9,84.1 128.4,84.7 128.8,85.2 129.3,85.5 129.7,85.5 130.2,85.2 130.7,84.9 131.1,84.5 131.6,84.0 132.0,83.6 132.5,83.1 132.9,82.7 133.4,82.2 133.9,81.7 134.3,81.3 134.8,80.8 135.2,80.4 135.7,79.9 136.2,79.5 136.6,79.0 137.1,78.5 137.5,78.1 138.0,77.6 138.4,77.2 138.9,76.8 139.4,76.4 139.8,76.1 140.3,75.8 140.7,75.5 141.2,75.3 141.6,75.2 142.1,75.0 142.6,74.8 143.0,74.6 143.5,74.5 143.9,74.3 144.4,74.1 144.8,73.9 145.3,73.8 145.8,73.6 146.2,73.4 146.7,73.3 147.1,73.1 147.6,72.9 148.0,72.8 148.5,72.7 149.0,72.6 149.4,72.6 149.9,72.5 150.3,72.5 150.8,72.4 151.2,72.4 151.7,72.4 152.2,72.3 152.6,72.3 153.1,72.2 153.5,72.2 154.0,72.1 154.4,72.1 154.9,72.1 155.4,72.0 155.8,72.0 156.3,71.9 156.7,71.9 157.2,71.8 157.7,71.8 158.1,71.8 158.6,71.8 159.0,71.9 159.5,71.9 159.9,72.0 160.4,72.2 160.9,72.3 161.3,72.4 161.8,72.5 162.2,72.5 162.7,72.5 163.1,72.4 163.6,72.3 164.1,72.1 164.5,71.8 165.0,71.5 165.4,71.3 165.9,71.0 166.3,70.8 166.8,70.7 167.3,70.6 167.7,70.7 168.2,70.8 168.6,71.1 169.1,71.4 169.5,71.9 170.0,72.6 170.5,73.6 170.9,75.0 171.4,76.7 171.8,78.8 172.3,81.0 172.8,83.2 173.2,85.4 173.7,87.3 174.1,89.0 174.6,90.3 175.0,91.2 175.5,91.6 176.0,91.5 176.4,91.0 176.9,90.3 177.3,89.4 177.8,88.4 178.2,87.4 178.7,86.4 179.2,85.4 179.6,84.4 180.1,83.4 180.5,82.4 181.0,81.4 181.4,80.4 181.9,79.5 182.4,78.6 182.8,77.8 183.3,77.0 183.7,76.4 184.2,75.7 184.6,75.1 185.1,74.5 185.6,73.8 186.0,73.2 186.5,72.6 186.9,71.9 187.4,71.3 187.8,70.7 188.3,70.0 188.8,69.4 189.2,68.7 189.7,68.0 190.1,67.3 190.6,66.7 191.0,66.0 191.5,65.3 192.0,64.7 192.4,64.1 192.9,63.6 193.3,63.2 193.8,63.0 194.3,62.9 194.7,62.9 195.2,63.0 195.6,63.2 196.1,63.5 196.5,63.8 197.0,64.0 197.5,64.3 197.9,64.6 198.4,64.8 198.8,65.1 199.3,65.4 199.7,65.6 200.2,65.9 200.7,66.1 201.1,66.2 201.6,66.3 202.0,66.4 202.5,66.4 202.9,66.4 203.4,66.4 203.9,66.4 204.3,66.4 204.8,66.4 205.2,66.4 205.7,66.4 206.1,66.4 206.6,66.4 207.1,66.4 207.5,66.4 208.0,66.5 208.4,66.5 208.9,66.6 209.3,66.7 209.8,66.7 210.3,66.8 210.7,66.9 211.2,67.0 211.6,67.1 212.1,67.1 212.6,67.2 213.0,67.3 213.5,67.4 213.9,67.5 214.4,67.6 214.8,67.7 215.3,67.9 215.8,68.1 216.2,68.2 216.7,68.4 217.1,68.6 217.6,68.8 218.0,68.9 218.5,69.0" fill="none" stroke="#86c440" stroke-width="1.0" stroke-linejoin="round"/><polyline points="35.5,104.7 36.0,102.7 36.4,100.5 36.9,98.5 37.3,96.9 37.8,95.7 38.2,94.9 38.7,94.3 39.2,94.0 39.6,93.9 40.1,93.9 40.5,93.9 41.0,94.1 41.4,94.2 41.9,94.4 42.4,94.4 42.8,94.3 43.3,93.9 43.7,93.2 44.2,92.2 44.6,90.7 45.1,89.0 45.6,87.0 46.0,84.8 46.5,82.5 46.9,80.3 47.4,78.2 47.9,76.3 48.3,74.5 48.8,73.0 49.2,71.7 49.7,70.7 50.1,69.8 50.6,69.1 51.1,68.5 51.5,68.1 52.0,67.8 52.4,67.7 52.9,67.6 53.3,67.7 53.8,67.9 54.3,68.1 54.7,68.4 55.2,68.7 55.6,69.0 56.1,69.4 56.5,69.7 57.0,70.1 57.5,70.4 57.9,70.6 58.4,70.9 58.8,71.1 59.3,71.3 59.7,71.5 60.2,71.7 60.7,71.9 61.1,72.1 61.6,72.3 62.0,72.5 62.5,72.7 63.0,72.9 63.4,73.1 63.9,73.3 64.3,73.6 64.8,73.8 65.2,74.0 65.7,74.2 66.2,74.4 66.6,74.7 67.1,74.9 67.5,75.2 68.0,75.5 68.4,75.8 68.9,76.1 69.4,76.3 69.8,76.7 70.3,77.0 70.7,77.4 71.2,77.8 71.6,78.2 72.1,78.7 72.6,79.2 73.0,79.7 73.5,80.2 73.9,80.7 74.4,81.1 74.8,81.6 75.3,82.1 75.8,82.6 76.2,83.0 76.7,83.5 77.1,83.9 77.6,84.4 78.0,84.8 78.5,85.3 79.0,85.8 79.4,86.2 79.9,86.6 80.3,87.0 80.8,87.4 81.2,87.8 81.7,88.1 82.2,88.5 82.6,88.8 83.1,89.2 83.5,89.5 84.0,89.8 84.5,90.2 84.9,90.5 85.4,90.7 85.8,91.0 86.3,91.2 86.7,91.3 87.2,91.5 87.7,91.6 88.1,91.8 88.6,91.9 89.0,92.0 89.5,92.1 89.9,92.1 90.4,88.6 90.9,88.4 91.3,88.1 91.8,87.9 92.2,87.7 92.7,87.5 93.1,87.3 93.6,87.1 94.1,87.0 94.5,86.8 95.0,86.6 95.4,86.4 95.9,86.2 96.3,86.0 96.8,85.8 97.3,85.6 97.7,85.4 98.2,85.2 98.6,85.0 99.1,84.8 99.5,84.6 100.0,84.4 100.5,84.2 100.9,84.0 101.4,83.8 101.8,83.6 102.3,83.4 102.8,83.2 103.2,83.1 103.7,82.9 104.1,82.8 104.6,82.6 105.0,82.5 105.5,82.4 106.0,82.2 106.4,82.1 106.9,81.9 107.3,81.8 107.8,81.7 108.2,81.5 108.7,81.4 109.2,81.2 109.6,81.1 110.1,81.0 110.5,80.8 111.0,80.7 111.4,80.6 111.9,80.4 112.4,80.3 112.8,80.1 113.3,80.0 113.7,79.9 114.2,79.7 114.6,79.6 115.1,79.5 115.6,79.3 116.0,79.2 116.5,79.1 116.9,78.9 117.4,78.8 117.9,78.7 118.3,78.5 118.8,78.4 119.2,78.3 119.7,78.1 120.1,78.0 120.6,77.9 121.1,77.7 121.5,77.6 122.0,77.5 122.4,77.4 122.9,77.3 123.3,77.4 123.8,77.4 124.3,77.5 124.7,77.7 125.2,77.8 125.6,78.1 126.1,78.4 126.5,78.8 127.0,79.5 127.5,80.5 127.9,81.5 128.4,82.7 128.8,83.6 129.3,84.2 129.7,84.6 130.2,84.7 130.7,84.6 131.1,84.4 131.6,84.2 132.0,83.9 132.5,83.6 132.9,83.3 133.4,83.0 133.9,82.6 134.3,82.1 134.8,81.6 135.2,81.1 135.7,80.5 136.2,80.0 136.6,79.5 137.1,78.9 137.5,78.4 138.0,77.9 138.4,77.4 138.9,76.9 139.4,76.5 139.8,76.1 140.3,75.8 140.7,75.6 141.2,75.4 141.6,75.3 142.1,75.1 142.6,75.0 143.0,74.8 143.5,74.7 143.9,74.5 144.4,74.4 144.8,74.2 145.3,74.1 145.8,74.0 146.2,73.8 146.7,73.7 147.1,73.5 147.6,73.4 148.0,73.3 148.5,73.2 149.0,73.1 149.4,73.0 149.9,72.9 150.3,72.9 150.8,72.8 151.2,72.8 151.7,72.7 152.2,72.6 152.6,72.6 153.1,72.5 153.5,72.4 154.0,72.4 154.4,72.3 154.9,72.2 155.4,72.2 155.8,72.1 156.3,72.0 156.7,72.0 157.2,71.9 157.7,71.9 158.1,71.8 158.6,71.8 159.0,71.8 159.5,71.8 159.9,71.8 160.4,71.9 160.9,71.9 161.3,72.0 161.8,72.0 162.2,72.0 162.7,72.1 163.1,72.1 163.6,72.2 164.1,72.2 164.5,72.1 165.0,72.1 165.4,71.9 165.9,71.8 166.3,71.6 166.8,71.3 167.3,71.2 167.7,71.1 168.2,71.1 168.6,71.3 169.1,71.7 169.5,72.3 170.0,73.4 170.5,75.1 170.9,77.4 171.4,80.4 171.8,83.9 172.3,87.4 172.8,90.7 173.2,93.6 173.7,96.2 174.1,98.3 174.6,100.0 175.0,101.0 175.5,101.6 176.0,101.6 176.4,101.3 176.9,100.8 177.3,100.2 177.8,99.5 178.2,98.8 178.7,98.2 179.2,97.5 179.6,96.8 180.1,96.0 180.5,95.3 181.0,94.5 181.4,93.5 181.9,92.5 182.4,91.5 182.8,90.4 183.3,89.2 183.7,88.1 184.2,87.0 184.6,85.8 185.1,84.7 185.6,83.6 186.0,82.4 186.5,81.3 186.9,80.3 187.4,79.3 187.8,78.4 188.3,77.7 188.8,77.1 189.2,76.5 189.7,76.0 190.1,75.5 190.6,75.0 191.0,74.5 191.5,73.9 192.0,73.3 192.4,72.7 192.9,71.9 193.3,71.2 193.8,70.6 194.3,70.2 194.7,70.0 195.2,70.0 195.6,70.2 196.1,70.4 196.5,70.7 197.0,70.9 197.5,71.2 197.9,71.5 198.4,71.7 198.8,72.0 199.3,72.3 199.7,72.5 200.2,72.8 200.7,73.0 201.1,73.3 201.6,73.4 202.0,73.6 202.5,73.8 202.9,73.9 203.4,74.1 203.9,74.2 204.3,74.4 204.8,74.5 205.2,74.7 205.7,74.8 206.1,75.0 206.6,75.1 207.1,75.3 207.5,75.5 208.0,75.6 208.4,75.8 208.9,76.1 209.3,76.3 209.8,76.5 210.3,76.8 210.7,77.0 211.2,77.2 211.6,77.4 212.1,77.7 212.6,77.9 213.0,78.1 213.5,78.4 213.9,78.6 214.4,78.9 214.8,79.2 215.3,79.6 215.8,80.0 216.2,80.4 216.7,80.8 217.1,81.2 217.6,81.5 218.0,81.8 218.5,82.1" fill="none" stroke="#74554a" stroke-width="1.0" stroke-linejoin="round"/><polyline points="35.5,78.1 36.0,77.5 36.4,76.8 36.9,76.1 37.3,75.3 37.8,74.6 38.2,73.8 38.7,73.1 39.2,72.4 39.6,71.9 40.1,71.5 40.5,71.3 41.0,71.3 41.4,71.4 41.9,71.4 42.4,71.2 42.8,70.9 43.3,70.4 43.7,69.7 44.2,68.8 44.6,67.7 45.1,66.3 45.6,64.8 46.0,63.1 46.5,61.1 46.9,58.9 47.4,56.7 47.9,54.3 48.3,52.0 48.8,49.8 49.2,47.8 49.7,46.2 50.1,44.8 50.6,43.9 51.1,43.2 51.5,42.6 52.0,42.2 52.4,41.9 52.9,41.7 53.3,41.6 53.8,41.7 54.3,41.9 54.7,42.1 55.2,42.4 55.6,42.6 56.1,42.9 56.5,43.2 57.0,43.4 57.5,43.7 57.9,43.9 58.4,44.2 58.8,44.5 59.3,44.7 59.7,45.0 60.2,45.3 60.7,45.6 61.1,46.0 61.6,46.3 62.0,46.7 62.5,47.0 63.0,47.4 63.4,47.8 63.9,48.1 64.3,48.5 64.8,49.0 65.2,49.5 65.7,50.0 66.2,50.5 66.6,51.1 67.1,51.7 67.5,52.3 68.0,52.9 68.4,53.5 68.9,54.1 69.4,54.8 69.8,55.4 70.3,56.0 70.7,56.6 71.2,57.3 71.6,57.9 72.1,58.5 72.6,59.2 73.0,59.8 73.5,60.4 73.9,61.1 74.4,61.7 74.8,62.3 75.3,62.9 75.8,63.5 76.2,64.1 76.7,64.6 77.1,65.2 77.6,65.8 78.0,66.3 78.5,66.9 79.0,67.4 79.4,68.0 79.9,68.5 80.3,69.1 80.8,69.6 81.2,70.0 81.7,70.5 82.2,71.0 82.6,71.4 83.1,71.9 83.5,72.3 84.0,72.8 84.5,73.2 84.9,73.7 85.4,74.1 85.8,74.5 86.3,74.9 86.7,75.3 87.2,75.6 87.7,76.0 88.1,76.3 88.6,76.6 89.0,76.9 89.5,77.0 89.9,77.1 90.4,68.1 90.9,67.7 91.3,67.3 91.8,66.9 92.2,66.7 92.7,66.5 93.1,66.4 93.6,66.4 94.1,66.4 94.5,66.3 95.0,66.4 95.4,66.4 95.9,66.4 96.3,66.4 96.8,66.4 97.3,66.4 97.7,66.4 98.2,66.4 98.6,66.4 99.1,66.4 99.5,66.4 100.0,66.3 100.5,66.2 100.9,66.0 101.4,65.8 101.8,65.6 102.3,65.5 102.8,65.4 103.2,65.3 103.7,65.3 104.1,65.3 104.6,65.2 105.0,65.2 105.5,65.2 106.0,65.1 106.4,65.1 106.9,65.1 107.3,65.1 107.8,65.0 108.2,65.0 108.7,65.0 109.2,64.9 109.6,64.9 110.1,64.9 110.5,64.8 111.0,64.8 111.4,64.8 111.9,64.7 112.4,64.7 112.8,64.6 113.3,64.5 113.7,64.4 114.2,64.3 114.6,64.2 115.1,64.1 115.6,64.0 116.0,63.9 116.5,63.8 116.9,63.7 117.4,63.6 117.9,63.5 118.3,63.4 118.8,63.4 119.2,63.4 119.7,63.4 120.1,63.5 120.6,63.6 121.1,63.7 121.5,63.9 122.0,64.0 122.4,64.1 122.9,64.2 123.3,64.3 123.8,64.5 124.3,64.6 124.7,64.7 125.2,64.9 125.6,65.1 126.1,65.3 126.5,65.6 127.0,66.2 127.5,66.9 127.9,67.7 128.4,68.5 128.8,69.3 129.3,69.8 129.7,70.1 130.2,70.2 130.7,70.2 131.1,70.1 131.6,70.0 132.0,69.9 132.5,69.7 132.9,69.5 133.4,69.3 133.9,68.9 134.3,68.5 134.8,68.1 135.2,67.7 135.7,67.2 136.2,66.7 136.6,66.3 137.1,65.8 137.5,65.4 138.0,64.9 138.4,64.5 138.9,64.1 139.4,63.7 139.8,63.4 140.3,63.1 140.7,62.9 141.2,62.7 141.6,62.5 142.1,62.3 142.6,62.1 143.0,62.0 143.5,61.8 143.9,61.6 144.4,61.5 144.8,61.3 145.3,61.1 145.8,61.0 146.2,60.8 146.7,60.6 147.1,60.5 147.6,60.3 148.0,60.2 148.5,60.1 149.0,60.0 149.4,60.0 149.9,59.9 150.3,59.9 150.8,59.8 151.2,59.8 151.7,59.7 152.2,59.7 152.6,59.6 153.1,59.6 153.5,59.5 154.0,59.5 154.4,59.4 154.9,59.4 155.4,59.3 155.8,59.3 156.3,59.2 156.7,59.2 157.2,59.1 157.7,59.1 158.1,59.0 158.6,58.9 159.0,58.8 159.5,58.7 159.9,58.6 160.4,58.5 160.9,58.4 161.3,58.2 161.8,58.1 162.2,58.0 162.7,57.8 163.1,57.7 163.6,57.6 164.1,57.5 164.5,57.3 165.0,57.2 165.4,57.2 165.9,57.1 166.3,57.2 166.8,57.2 167.3,57.4 167.7,57.6 168.2,57.8 168.6,58.2 169.1,58.9 169.5,59.8 170.0,61.1 170.5,62.8 170.9,64.9 171.4,67.3 171.8,70.0 172.3,72.9 172.8,75.8 173.2,78.6 173.7,81.2 174.1,83.4 174.6,85.2 175.0,86.5 175.5,87.3 176.0,87.4 176.4,87.1 176.9,86.5 177.3,85.8 177.8,84.9 178.2,84.0 178.7,83.1 179.2,82.1 179.6,81.2 180.1,80.2 180.5,79.2 181.0,78.1 181.4,76.9 181.9,75.6 182.4,74.2 182.8,72.8 183.3,71.4 183.7,70.1 184.2,68.8 184.6,67.6 185.1,66.5 185.6,65.3 186.0,64.1 186.5,63.0 186.9,61.9 187.4,60.8 187.8,59.8 188.3,58.9 188.8,58.1 189.2,57.3 189.7,56.6 190.1,55.9 190.6,55.3 191.0,54.6 191.5,53.9 192.0,53.2 192.4,52.4 192.9,51.6 193.3,50.8 193.8,50.0 194.3,49.2 194.7,48.5 195.2,48.1 195.6,47.8 196.1,47.8 196.5,47.9 197.0,48.2 197.5,48.4 197.9,48.7 198.4,49.0 198.8,49.3 199.3,49.6 199.7,49.9 200.2,50.1 200.7,50.2 201.1,50.2 201.6,50.2 202.0,50.2 202.5,50.1 202.9,50.0 203.4,49.9 203.9,49.8 204.3,49.7 204.8,49.6 205.2,49.5 205.7,49.4 206.1,49.3 206.6,49.2 207.1,49.1 207.5,49.0 208.0,49.0 208.4,48.9 208.9,48.8 209.3,48.8 209.8,48.7 210.3,48.6 210.7,48.5 211.2,48.5 211.6,48.4 212.1,48.3 212.6,48.3 213.0,48.2 213.5,48.2 213.9,48.2 214.4,48.2 214.8,48.3 215.3,48.4 215.8,48.6 216.2,48.8 216.7,48.9 217.1,49.1 217.6,49.3 218.0,49.4 218.5,49.6" fill="none" stroke="#634238" stroke-width="1.0" stroke-linejoin="round"/><polyline points="35.5,85.1 36.0,84.3 36.4,83.1 36.9,81.7 37.3,80.2 37.8,78.7 38.2,77.3 38.7,76.2 39.2,75.2 39.6,74.6 40.1,74.3 40.5,74.2 41.0,74.3 41.4,74.4 41.9,74.4 42.4,74.3 42.8,73.9 43.3,73.1 43.7,71.9 44.2,70.4 44.6,68.6 45.1,66.6 45.6,64.3 46.0,61.8 46.5,59.2 46.9,56.4 47.4,53.6 47.9,50.7 48.3,47.8 48.8,44.9 49.2,42.1 49.7,39.4 50.1,36.9 50.6,34.8 51.1,33.0 51.5,31.6 52.0,30.7 52.4,30.2 52.9,30.0 53.3,30.0 53.8,30.1 54.3,30.3 54.7,30.5 55.2,30.7 55.6,30.9 56.1,31.1 56.5,31.4 57.0,31.7 57.5,31.9 57.9,32.2 58.4,32.5 58.8,32.7 59.3,33.0 59.7,33.3 60.2,33.5 60.7,33.8 61.1,34.1 61.6,34.3 62.0,34.6 62.5,34.9 63.0,35.3 63.4,35.6 63.9,36.0 64.3,36.4 64.8,36.7 65.2,37.1 65.7,37.5 66.2,37.8 66.6,38.2 67.1,38.6 67.5,39.0 68.0,39.4 68.4,39.8 68.9,40.2 69.4,40.7 69.8,41.2 70.3,41.8 70.7,42.3 71.2,42.8 71.6,43.4 72.1,43.9 72.6,44.5 73.0,45.0 73.5,45.6 73.9,46.1 74.4,46.7 74.8,47.3 75.3,47.8 75.8,48.5 76.2,49.1 76.7,49.7 77.1,50.4 77.6,51.0 78.0,51.7 78.5,52.3 79.0,52.9 79.4,53.5 79.9,54.1 80.3,54.8 80.8,55.4 81.2,55.9 81.7,56.5 82.2,57.1 82.6,57.6 83.1,58.0 83.5,58.4 84.0,58.8 84.5,59.1 84.9,59.4 85.4,59.7 85.8,60.0 86.3,60.3 86.7,60.5 87.2,60.7 87.7,60.8 88.1,60.9 88.6,60.9 89.0,60.9 89.5,60.9 89.9,60.9 90.4,60.7 90.9,60.5 91.3,60.4 91.8,60.2 92.2,60.0 92.7,59.8 93.1,59.5 93.6,59.3 94.1,59.1 94.5,58.9 95.0,58.7 95.4,58.5 95.9,58.2 96.3,58.0 96.8,57.8 97.3,57.6 97.7,57.4 98.2,57.2 98.6,56.9 99.1,56.7 99.5,56.5 100.0,56.3 100.5,56.1 100.9,55.9 101.4,55.7 101.8,55.5 102.3,55.3 102.8,55.1 103.2,54.8 103.7,54.6 104.1,54.4 104.6,54.2 105.0,54.0 105.5,53.8 106.0,53.6 106.4,53.4 106.9,53.2 107.3,53.0 107.8,52.8 108.2,52.6 108.7,52.4 109.2,52.2 109.6,52.0 110.1,51.7 110.5,51.5 111.0,51.3 111.4,51.1 111.9,50.9 112.4,50.7 112.8,50.4 113.3,50.1 113.7,49.8 114.2,49.5 114.6,49.2 115.1,48.9 115.6,48.6 116.0,48.3 116.5,48.0 116.9,47.7 117.4,47.4 117.9,47.1 118.3,46.8 118.8,46.5 119.2,46.2 119.7,45.9 120.1,45.6 120.6,45.3 121.1,45.0 121.5,44.7 122.0,44.4 122.4,44.2 122.9,43.9 123.3,43.7 123.8,43.6 124.3,43.5 124.7,43.5 125.2,43.7 125.6,43.9 126.1,44.4 126.5,44.9 127.0,45.6 127.5,46.3 127.9,47.1 128.4,47.8 128.8,48.3 129.3,48.6 129.7,48.7 130.2,48.5 130.7,48.3 131.1,48.0 131.6,47.7 132.0,47.3 132.5,47.0 132.9,46.6 133.4,46.1 133.9,45.7 134.3,45.2 134.8,44.7 135.2,44.2 135.7,43.6 136.2,43.1 136.6,42.6 137.1,42.0 137.5,41.5 138.0,41.0 138.4,40.5 138.9,40.0 139.4,39.5 139.8,39.2 140.3,38.8 140.7,38.5 141.2,38.3 141.6,38.0 142.1,37.8 142.6,37.6 143.0,37.3 143.5,37.1 143.9,36.9 144.4,36.7 144.8,36.4 145.3,36.2 145.8,36.0 146.2,35.7 146.7,35.5 147.1,35.3 147.6,35.1 148.0,34.9 148.5,34.7 149.0,34.6 149.4,34.5 149.9,34.4 150.3,34.2 150.8,34.1 151.2,34.0 151.7,33.9 152.2,33.8 152.6,33.7 153.1,33.6 153.5,33.5 154.0,33.3 154.4,33.2 154.9,33.1 155.4,33.0 155.8,32.9 156.3,32.8 156.7,32.7 157.2,32.6 157.7,32.4 158.1,32.3 158.6,32.3 159.0,32.2 159.5,32.1 159.9,32.1 160.4,32.0 160.9,32.0 161.3,31.9 161.8,31.9 162.2,31.9 162.7,31.8 163.1,31.8 163.6,31.7 164.1,31.6 164.5,31.5 165.0,31.3 165.4,31.1 165.9,30.8 166.3,30.4 166.8,30.1 167.3,29.8 167.7,29.6 168.2,29.5 168.6,29.7 169.1,30.1 169.5,31.0 170.0,32.4 170.5,34.4 170.9,37.0 171.4,40.0 171.8,43.1 172.3,46.0 172.8,48.8 173.2,51.2 173.7,53.4 174.1,55.2 174.6,56.5 175.0,57.2 175.5,57.5 176.0,57.4 176.4,57.1 176.9,56.6 177.3,56.0 177.8,55.2 178.2,54.3 178.7,53.3 179.2,52.3 179.6,51.2 180.1,50.1 180.5,49.0 181.0,47.9 181.4,46.8 181.9,45.7 182.4,44.6 182.8,43.5 183.3,42.5 183.7,41.4 184.2,40.3 184.6,39.2 185.1,38.2 185.6,37.1 186.0,36.0 186.5,34.9 186.9,33.9 187.4,32.8 187.8,31.7 188.3,30.7 188.8,29.7 189.2,28.8 189.7,27.9 190.1,27.1 190.6,26.3 191.0,25.5 191.5,24.7 192.0,23.9 192.4,23.1 192.9,22.4 193.3,21.6 193.8,20.9 194.3,20.3 194.7,19.9 195.2,19.6 195.6,19.6 196.1,19.7 196.5,19.9 197.0,20.1 197.5,20.4 197.9,20.6 198.4,20.9 198.8,21.1 199.3,21.4 199.7,21.6 200.2,21.9 200.7,22.1 201.1,22.4 201.6,22.6 202.0,22.8 202.5,23.0 202.9,23.2 203.4,23.4 203.9,23.6 204.3,23.7 204.8,23.8 205.2,23.9 205.7,24.0 206.1,24.1 206.6,24.2 207.1,24.3 207.5,24.3 208.0,24.4 208.4,24.5 208.9,24.6 209.3,24.7 209.8,24.8 210.3,24.8 210.7,24.9 211.2,25.0 211.6,25.1 212.1,25.2 212.6,25.3 213.0,25.4 213.5,25.4 213.9,25.5 214.4,25.7 214.8,25.8 215.3,26.0 215.8,26.3 216.2,26.7 216.7,27.1 217.1,27.6 217.6,28.0 218.0,28.3 218.5,28.6" fill="none" stroke="#d4e24a" stroke-width="1.0" stroke-linejoin="round"/></g>
<path d="M35.5,2.5H218.5V150.0H35.5Z" fill="none" stroke="#7c7c7c" stroke-width="1"/>
<text x="32.50" y="5.40" font-size="7.6" fill="#2a2a2a" text-anchor="end">0.030</text>
<path d="M35.5,39.37h2.5" stroke="#7c7c7c" stroke-width="1"/>
<text x="32.50" y="42.27" font-size="7.6" fill="#2a2a2a" text-anchor="end">0.025</text>
<path d="M35.5,76.25h2.5" stroke="#7c7c7c" stroke-width="1"/>
<text x="32.50" y="79.15" font-size="7.6" fill="#2a2a2a" text-anchor="end">0.020</text>
<path d="M35.5,113.13h2.5" stroke="#7c7c7c" stroke-width="1"/>
<text x="32.50" y="116.03" font-size="7.6" fill="#2a2a2a" text-anchor="end">0.015</text>
<text x="32.50" y="152.90" font-size="7.6" fill="#2a2a2a" text-anchor="end">0.010</text>
<text x="35.50" y="158.60" font-size="7.6" fill="#2a2a2a" text-anchor="middle">400</text>
<path d="M72.10,150.0v-2.5" stroke="#7c7c7c" stroke-width="1"/>
<text x="72.10" y="158.60" font-size="7.6" fill="#2a2a2a" text-anchor="middle">800</text>
<path d="M108.70,150.0v-2.5" stroke="#7c7c7c" stroke-width="1"/>
<text x="108.70" y="158.60" font-size="7.6" fill="#2a2a2a" text-anchor="middle">1200</text>
<path d="M145.30,150.0v-2.5" stroke="#7c7c7c" stroke-width="1"/>
<text x="145.30" y="158.60" font-size="7.6" fill="#2a2a2a" text-anchor="middle">1600</text>
<path d="M181.90,150.0v-2.5" stroke="#7c7c7c" stroke-width="1"/>
<text x="181.90" y="158.60" font-size="7.6" fill="#2a2a2a" text-anchor="middle">2000</text>
<text x="218.50" y="158.60" font-size="7.6" fill="#2a2a2a" text-anchor="middle">2400</text>
<text x="127.50" y="170.70" font-size="7.6" fill="#2a2a2a" text-anchor="middle">Wavelength/nm</text>
<text transform="translate(13.0,76.25) rotate(-90)" x="0" y="0" font-size="7.48" fill="#2a2a2a" text-anchor="middle">Hyperspectral reflectance after S–G smoothing</text>
<text x="39.7" y="11.6" font-size="7.9" fill="#2a2a2a">(a)</text>
<g><polyline points="265.5,113.7 266.0,112.2 266.4,110.1 266.9,107.9 267.3,105.6 267.8,103.7 268.2,102.1 268.7,101.0 269.2,100.3 269.6,100.0 270.1,99.8 270.5,99.9 271.0,100.0 271.4,100.1 271.9,100.0 272.4,99.7 272.8,99.0 273.3,98.0 273.7,96.7 274.2,95.2 274.6,93.5 275.1,91.7 275.6,89.8 276.0,87.9 276.5,85.9 276.9,84.0 277.4,82.1 277.9,80.4 278.3,78.8 278.8,77.5 279.2,76.4 279.7,75.5 280.1,74.8 280.6,74.2 281.1,73.8 281.5,73.6 282.0,73.4 282.4,73.3 282.9,73.4 283.3,73.3 283.8,73.2 284.3,73.3 284.7,73.4 285.2,73.6 285.6,73.8 286.1,74.0 286.5,74.3 287.0,74.6 287.5,74.8 287.9,75.1 288.4,75.4 288.8,75.7 289.3,76.0 289.7,76.3 290.2,76.5 290.7,76.8 291.1,77.1 291.6,77.4 292.0,77.7 292.5,78.0 292.9,78.2 293.4,78.5 293.9,78.8 294.3,79.1 294.8,79.4 295.2,79.7 295.7,80.0 296.2,80.2 296.6,80.5 297.1,80.8 297.5,81.1 298.0,81.4 298.4,81.8 298.9,82.2 299.4,82.6 299.8,83.0 300.3,83.5 300.7,83.9 301.2,84.4 301.6,84.9 302.1,85.3 302.6,85.8 303.0,86.3 303.5,86.7 303.9,87.2 304.4,87.6 304.8,88.1 305.3,88.6 305.8,89.0 306.2,89.5 306.7,90.0 307.1,90.4 307.6,90.9 308.0,91.4 308.5,91.8 309.0,92.3 309.4,92.7 309.9,93.2 310.3,93.6 310.8,94.0 311.2,94.4 311.7,94.7 312.2,95.1 312.6,95.4 313.1,95.7 313.5,96.0 314.0,96.3 314.5,96.6 314.9,96.9 315.4,97.2 315.8,97.5 316.3,97.7 316.7,98.0 317.2,98.3 317.7,98.6 318.1,98.7 318.6,98.5 319.0,98.1 319.5,97.3 319.9,96.4 320.4,89.8 320.9,89.5 321.3,89.1 321.8,88.8 322.2,88.6 322.7,88.3 323.1,88.1 323.6,87.9 324.1,87.6 324.5,87.4 325.0,87.2 325.4,87.0 325.9,86.8 326.3,86.5 326.8,86.3 327.3,86.1 327.7,85.9 328.2,85.7 328.6,85.4 329.1,85.2 329.6,85.0 330.0,84.8 330.5,84.5 330.9,84.3 331.4,84.1 331.8,83.9 332.3,83.7 332.8,83.4 333.2,83.2 333.7,83.0 334.1,82.8 334.6,82.5 335.0,82.3 335.5,82.1 336.0,81.9 336.4,81.7 336.9,81.4 337.3,81.2 337.8,81.0 338.2,80.8 338.7,80.5 339.2,80.3 339.6,80.1 340.1,79.9 340.5,79.6 341.0,79.4 341.4,79.2 341.9,79.0 342.4,78.7 342.8,78.5 343.3,78.2 343.7,77.9 344.2,77.6 344.6,77.3 345.1,77.0 345.6,76.8 346.0,76.5 346.5,76.2 346.9,75.9 347.4,75.6 347.9,75.3 348.3,75.0 348.8,74.7 349.2,74.4 349.7,74.1 350.1,73.8 350.6,73.6 351.1,73.3 351.5,73.0 352.0,72.7 352.4,72.6 352.9,72.4 353.3,72.5 353.8,72.6 354.3,72.9 354.7,73.2 355.2,73.6 355.6,74.0 356.1,74.3 356.5,74.7 357.0,75.1 357.5,75.4 357.9,75.7 358.4,76.0 358.8,76.1 359.3,76.0 359.7,75.8 360.2,75.5 360.7,75.1 361.1,74.7 361.6,74.3 362.0,73.8 362.5,73.4 362.9,72.9 363.4,72.4 363.9,72.0 364.3,71.5 364.8,71.1 365.2,70.6 365.7,70.2 366.1,69.7 366.6,69.3 367.1,68.9 367.5,68.5 368.0,68.2 368.4,68.0 368.9,67.7 369.4,67.5 369.8,67.3 370.3,67.0 370.7,66.8 371.2,66.6 371.6,66.4 372.1,66.2 372.6,65.9 373.0,65.7 373.5,65.5 373.9,65.3 374.4,65.1 374.8,64.8 375.3,64.6 375.8,64.4 376.2,64.2 376.7,64.0 377.1,63.8 377.6,63.6 378.0,63.4 378.5,63.3 379.0,63.2 379.4,63.1 379.9,63.0 380.3,62.9 380.8,62.8 381.2,62.8 381.7,62.7 382.2,62.6 382.6,62.6 383.1,62.5 383.5,62.4 384.0,62.4 384.4,62.3 384.9,62.2 385.4,62.2 385.8,62.1 386.3,62.0 386.7,61.9 387.2,61.9 387.7,61.8 388.1,61.7 388.6,61.6 389.0,61.5 389.5,61.4 389.9,61.2 390.4,61.1 390.9,60.9 391.3,60.8 391.8,60.6 392.2,60.5 392.7,60.3 393.1,60.2 393.6,60.0 394.1,59.9 394.5,59.7 395.0,59.6 395.4,59.4 395.9,59.3 396.3,59.1 396.8,59.0 397.3,58.8 397.7,58.7 398.2,58.5 398.6,58.5 399.1,58.4 399.5,58.5 400.0,58.8 400.5,59.3 400.9,60.2 401.4,61.4 401.8,62.9 402.3,64.8 402.8,66.8 403.2,68.7 403.7,70.5 404.1,71.9 404.6,72.8 405.0,73.1 405.5,73.0 406.0,72.5 406.4,72.0 406.9,71.3 407.3,70.7 407.8,70.0 408.2,69.4 408.7,68.7 409.2,68.1 409.6,67.4 410.1,66.7 410.5,65.9 411.0,65.0 411.4,64.0 411.9,62.9 412.4,61.7 412.8,60.4 413.3,59.2 413.7,58.0 414.2,56.9 414.6,55.9 415.1,55.0 415.6,54.1 416.0,53.2 416.5,52.3 416.9,51.4 417.4,50.6 417.8,49.8 418.3,49.0 418.8,48.3 419.2,47.6 419.7,46.9 420.1,46.3 420.6,45.6 421.0,44.9 421.5,44.3 422.0,43.7 422.4,43.1 422.9,42.7 423.3,42.4 423.8,42.3 424.3,42.3 424.7,42.5 425.2,42.8 425.6,43.1 426.1,43.5 426.5,43.9 427.0,44.3 427.5,44.7 427.9,45.1 428.4,45.5 428.8,45.9 429.3,46.2 429.7,46.6 430.2,47.0 430.7,47.2 431.1,47.5 431.6,47.6 432.0,47.7 432.5,47.7 432.9,47.7 433.4,47.7 433.9,47.7 434.3,47.7 434.8,47.7 435.2,47.7 435.7,47.7 436.1,47.7 436.6,47.7 437.1,47.6 437.5,47.5 438.0,47.4 438.4,47.1 438.9,46.8 439.4,46.5 439.8,46.1 440.3,45.8 440.7,45.4 441.2,45.1 441.6,44.7 442.1,44.3 442.6,44.0 443.0,43.6 443.5,43.3 443.9,43.0 444.4,42.8 444.8,42.7 445.3,42.7 445.8,42.8 446.2,43.0 446.7,43.2 447.1,43.4 447.6,43.6 448.0,43.8 448.5,43.9" fill="none" stroke="#e06c34" stroke-width="1.0" stroke-linejoin="round"/><polyline points="265.5,114.9 266.0,113.3 266.4,111.1 266.9,108.6 267.3,106.0 267.8,103.5 268.2,101.2 268.7,99.4 269.2,98.1 269.6,97.2 270.1,96.9 270.5,96.8 271.0,96.9 271.4,96.8 271.9,96.5 272.4,95.9 272.8,95.1 273.3,94.1 273.7,92.7 274.2,91.1 274.6,89.3 275.1,87.4 275.6,85.5 276.0,83.6 276.5,81.7 276.9,80.0 277.4,78.3 277.9,76.7 278.3,75.3 278.8,74.0 279.2,72.8 279.7,71.8 280.1,71.0 280.6,70.2 281.1,69.7 281.5,69.3 282.0,69.0 282.4,68.8 282.9,68.8 283.3,68.8 283.8,69.0 284.3,69.2 284.7,69.5 285.2,69.8 285.6,70.2 286.1,70.5 286.5,70.9 287.0,71.3 287.5,71.6 287.9,72.0 288.4,72.4 288.8,72.7 289.3,73.1 289.7,73.5 290.2,73.8 290.7,74.2 291.1,74.6 291.6,75.0 292.0,75.3 292.5,75.7 292.9,76.1 293.4,76.5 293.9,76.8 294.3,77.2 294.8,77.6 295.2,77.9 295.7,78.3 296.2,78.7 296.6,79.1 297.1,79.4 297.5,79.8 298.0,80.2 298.4,80.6 298.9,81.1 299.4,81.5 299.8,82.0 300.3,82.5 300.7,83.0 301.2,83.6 301.6,84.1 302.1,84.6 302.6,85.1 303.0,85.6 303.5,86.1 303.9,86.7 304.4,87.2 304.8,87.7 305.3,88.2 305.8,88.7 306.2,89.3 306.7,89.8 307.1,90.3 307.6,90.8 308.0,91.3 308.5,91.9 309.0,92.4 309.4,92.9 309.9,93.4 310.3,93.9 310.8,94.3 311.2,94.8 311.7,95.2 312.2,95.5 312.6,95.9 313.1,96.2 313.5,96.6 314.0,96.9 314.5,97.3 314.9,97.6 315.4,97.9 315.8,98.3 316.3,98.6 316.7,99.0 317.2,99.3 317.7,99.5 318.1,99.7 318.6,99.6 319.0,99.1 319.5,98.3 319.9,97.3 320.4,90.1 320.9,89.7 321.3,89.4 321.8,89.1 322.2,88.8 322.7,88.6 323.1,88.4 323.6,88.2 324.1,88.0 324.5,87.8 325.0,87.5 325.4,87.3 325.9,87.1 326.3,86.9 326.8,86.7 327.3,86.5 327.7,86.3 328.2,86.1 328.6,85.9 329.1,85.7 329.6,85.5 330.0,85.3 330.5,85.0 330.9,84.8 331.4,84.6 331.8,84.4 332.3,84.2 332.8,84.0 333.2,83.7 333.7,83.5 334.1,83.3 334.6,83.1 335.0,82.8 335.5,82.6 336.0,82.4 336.4,82.1 336.9,81.9 337.3,81.7 337.8,81.4 338.2,81.2 338.7,81.0 339.2,80.8 339.6,80.5 340.1,80.3 340.5,80.1 341.0,79.8 341.4,79.6 341.9,79.4 342.4,79.1 342.8,78.8 343.3,78.6 343.7,78.3 344.2,78.0 344.6,77.7 345.1,77.4 345.6,77.1 346.0,76.8 346.5,76.5 346.9,76.2 347.4,75.9 347.9,75.6 348.3,75.3 348.8,75.0 349.2,74.7 349.7,74.4 350.1,74.1 350.6,73.8 351.1,73.5 351.5,73.2 352.0,73.0 352.4,72.8 352.9,72.7 353.3,72.7 353.8,72.9 354.3,73.2 354.7,73.5 355.2,73.9 355.6,74.3 356.1,74.7 356.5,75.1 357.0,75.5 357.5,75.9 357.9,76.3 358.4,76.5 358.8,76.7 359.3,76.7 359.7,76.5 360.2,76.1 360.7,75.7 361.1,75.3 361.6,74.8 362.0,74.3 362.5,73.9 362.9,73.4 363.4,72.9 363.9,72.4 364.3,72.0 364.8,71.5 365.2,71.0 365.7,70.5 366.1,70.1 366.6,69.6 367.1,69.2 367.5,68.8 368.0,68.5 368.4,68.2 368.9,68.0 369.4,67.7 369.8,67.5 370.3,67.3 370.7,67.0 371.2,66.8 371.6,66.6 372.1,66.4 372.6,66.1 373.0,65.9 373.5,65.7 373.9,65.5 374.4,65.2 374.8,65.0 375.3,64.8 375.8,64.5 376.2,64.3 376.7,64.1 377.1,63.9 377.6,63.7 378.0,63.5 378.5,63.4 379.0,63.3 379.4,63.2 379.9,63.1 380.3,63.0 380.8,63.0 381.2,62.9 381.7,62.8 382.2,62.7 382.6,62.7 383.1,62.6 383.5,62.5 384.0,62.5 384.4,62.4 384.9,62.3 385.4,62.2 385.8,62.2 386.3,62.1 386.7,62.0 387.2,61.9 387.7,61.9 388.1,61.8 388.6,61.7 389.0,61.6 389.5,61.4 389.9,61.3 390.4,61.1 390.9,61.0 391.3,60.8 391.8,60.7 392.2,60.5 392.7,60.4 393.1,60.2 393.6,60.1 394.1,59.9 394.5,59.8 395.0,59.6 395.4,59.5 395.9,59.3 396.3,59.2 396.8,59.0 397.3,58.9 397.7,58.7 398.2,58.6 398.6,58.6 399.1,58.6 399.5,58.7 400.0,59.0 400.5,59.5 400.9,60.4 401.4,61.6 401.8,63.2 402.3,65.1 402.8,67.1 403.2,69.2 403.7,71.0 404.1,72.4 404.6,73.3 405.0,73.6 405.5,73.3 406.0,72.9 406.4,72.2 406.9,71.6 407.3,70.9 407.8,70.3 408.2,69.7 408.7,69.0 409.2,68.4 409.6,67.7 410.1,67.0 410.5,66.2 411.0,65.3 411.4,64.3 411.9,63.1 412.4,61.9 412.8,60.6 413.3,59.4 413.7,58.2 414.2,57.2 414.6,56.2 415.1,55.3 415.6,54.4 416.0,53.6 416.5,52.8 416.9,52.0 417.4,51.2 417.8,50.4 418.3,49.7 418.8,48.9 419.2,48.2 419.7,47.6 420.1,46.9 420.6,46.2 421.0,45.5 421.5,44.9 422.0,44.2 422.4,43.7 422.9,43.3 423.3,43.0 423.8,43.0 424.3,43.0 424.7,43.2 425.2,43.5 425.6,43.9 426.1,44.2 426.5,44.6 427.0,45.0 427.5,45.3 427.9,45.7 428.4,46.1 428.8,46.5 429.3,46.8 429.7,47.2 430.2,47.5 430.7,47.7 431.1,47.8 431.6,47.9 432.0,47.9 432.5,47.8 432.9,47.6 433.4,47.5 433.9,47.4 434.3,47.3 434.8,47.1 435.2,47.0 435.7,46.9 436.1,46.7 436.6,46.6 437.1,46.4 437.5,46.2 438.0,46.0 438.4,45.8 438.9,45.5 439.4,45.2 439.8,44.9 440.3,44.5 440.7,44.2 441.2,43.9 441.6,43.6 442.1,43.3 442.6,43.0 443.0,42.7 443.5,42.4 443.9,42.1 444.4,42.0 444.8,41.9 445.3,42.0 445.8,42.1 446.2,42.3 446.7,42.6 447.1,42.8 447.6,43.1 448.0,43.3 448.5,43.4" fill="none" stroke="#f28a2e" stroke-width="1.0" stroke-linejoin="round"/><polyline points="265.5,127.8 266.0,126.1 266.4,123.7 266.9,120.6 267.3,117.1 267.8,113.5 268.2,110.1 268.7,107.3 269.2,105.5 269.6,104.6 270.1,104.3 270.5,104.2 271.0,104.1 271.4,103.8 271.9,103.1 272.4,102.0 272.8,100.3 273.3,97.9 273.7,94.6 274.2,90.3 274.6,85.5 275.1,80.4 275.6,75.5 276.0,71.2 276.5,67.5 276.9,64.5 277.4,61.9 277.9,59.9 278.3,58.3 278.8,57.1 279.2,56.3 279.7,55.7 280.1,55.3 280.6,55.0 281.1,54.7 281.5,54.5 282.0,54.4 282.4,54.7 282.9,55.1 283.3,55.6 283.8,56.2 284.3,56.8 284.7,57.2 285.2,57.6 285.6,58.0 286.1,58.2 286.5,58.4 287.0,58.5 287.5,58.7 287.9,58.8 288.4,59.0 288.8,59.1 289.3,59.3 289.7,59.5 290.2,59.8 290.7,60.1 291.1,60.6 291.6,61.0 292.0,61.6 292.5,62.1 292.9,62.6 293.4,63.1 293.9,63.6 294.3,64.1 294.8,64.6 295.2,65.0 295.7,65.5 296.2,66.0 296.6,66.5 297.1,67.0 297.5,67.5 298.0,68.1 298.4,68.7 298.9,69.4 299.4,70.1 299.8,71.0 300.3,71.9 300.7,72.8 301.2,73.7 301.6,74.6 302.1,75.6 302.6,76.4 303.0,77.3 303.5,78.2 303.9,79.0 304.4,79.9 304.8,80.8 305.3,81.6 305.8,82.5 306.2,83.4 306.7,84.2 307.1,85.1 307.6,86.0 308.0,86.8 308.5,87.7 309.0,88.6 309.4,89.4 309.9,90.2 310.3,91.0 310.8,91.7 311.2,92.4 311.7,92.9 312.2,93.4 312.6,93.8 313.1,94.2 313.5,94.6 314.0,94.9 314.5,95.3 314.9,95.7 315.4,96.1 315.8,96.5 316.3,96.9 316.7,97.2 317.2,97.6 317.7,97.9 318.1,98.1 318.6,98.0 319.0,97.5 319.5,96.7 319.9,95.7 320.4,88.2 320.9,87.8 321.3,87.3 321.8,86.9 322.2,86.5 322.7,86.1 323.1,85.7 323.6,85.3 324.1,85.0 324.5,84.6 325.0,84.2 325.4,83.9 325.9,83.5 326.3,83.1 326.8,82.8 327.3,82.4 327.7,82.0 328.2,81.7 328.6,81.3 329.1,80.9 329.6,80.6 330.0,80.2 330.5,79.9 330.9,79.5 331.4,79.1 331.8,78.8 332.3,78.5 332.8,78.1 333.2,77.8 333.7,77.5 334.1,77.2 334.6,76.9 335.0,76.6 335.5,76.3 336.0,76.0 336.4,75.7 336.9,75.3 337.3,75.0 337.8,74.7 338.2,74.4 338.7,74.1 339.2,73.8 339.6,73.5 340.1,73.2 340.5,72.9 341.0,72.6 341.4,72.3 341.9,72.0 342.4,71.7 342.8,71.4 343.3,71.1 343.7,70.8 344.2,70.5 344.6,70.2 345.1,69.9 345.6,69.6 346.0,69.3 346.5,69.0 346.9,68.7 347.4,68.4 347.9,68.1 348.3,67.8 348.8,67.5 349.2,67.2 349.7,66.9 350.1,66.6 350.6,66.3 351.1,66.1 351.5,65.8 352.0,65.6 352.4,65.4 352.9,65.4 353.3,65.7 353.8,66.1 354.3,66.7 354.7,67.4 355.2,68.2 355.6,69.1 356.1,70.0 356.5,70.9 357.0,72.0 357.5,73.2 357.9,74.5 358.4,75.6 358.8,76.4 359.3,76.8 359.7,76.8 360.2,76.5 360.7,75.9 361.1,75.2 361.6,74.5 362.0,73.7 362.5,72.9 362.9,72.2 363.4,71.4 363.9,70.7 364.3,69.9 364.8,69.2 365.2,68.4 365.7,67.7 366.1,66.9 366.6,66.2 367.1,65.6 367.5,65.0 368.0,64.5 368.4,64.1 368.9,63.8 369.4,63.4 369.8,63.1 370.3,62.8 370.7,62.5 371.2,62.2 371.6,61.9 372.1,61.6 372.6,61.3 373.0,61.0 373.5,60.7 373.9,60.4 374.4,60.1 374.8,59.8 375.3,59.5 375.8,59.2 376.2,58.9 376.7,58.6 377.1,58.3 377.6,58.0 378.0,57.8 378.5,57.7 379.0,57.6 379.4,57.5 379.9,57.5 380.3,57.4 380.8,57.4 381.2,57.3 381.7,57.3 382.2,57.3 382.6,57.2 383.1,57.2 383.5,57.2 384.0,57.1 384.4,57.1 384.9,57.0 385.4,57.0 385.8,57.0 386.3,56.9 386.7,56.9 387.2,56.9 387.7,56.8 388.1,56.8 388.6,56.8 389.0,56.9 389.5,57.0 389.9,57.1 390.4,57.2 390.9,57.3 391.3,57.4 391.8,57.5 392.2,57.6 392.7,57.7 393.1,57.8 393.6,57.9 394.1,58.0 394.5,58.1 395.0,58.2 395.4,58.1 395.9,58.0 396.3,57.8 396.8,57.5 397.3,57.2 397.7,57.3 398.2,57.6 398.6,58.5 399.1,59.8 399.5,61.7 400.0,64.3 400.5,67.5 400.9,71.2 401.4,75.3 401.8,79.6 402.3,83.9 402.8,88.0 403.2,91.7 403.7,94.8 404.1,97.1 404.6,98.4 405.0,98.8 405.5,98.6 406.0,98.0 406.4,97.0 406.9,96.0 407.3,94.9 407.8,93.8 408.2,92.6 408.7,91.4 409.2,90.1 409.6,88.7 410.1,87.3 410.5,85.9 411.0,84.4 411.4,82.9 411.9,81.4 412.4,79.8 412.8,78.2 413.3,76.5 413.7,74.8 414.2,73.2 414.6,71.6 415.1,70.0 415.6,68.4 416.0,66.8 416.5,65.3 416.9,63.8 417.4,62.3 417.8,60.8 418.3,59.3 418.8,57.9 419.2,56.6 419.7,55.3 420.1,54.0 420.6,52.8 421.0,51.7 421.5,50.5 422.0,49.4 422.4,48.3 422.9,47.4 423.3,46.7 423.8,46.2 424.3,46.1 424.7,46.2 425.2,46.5 425.6,47.0 426.1,47.5 426.5,48.1 427.0,48.7 427.5,49.2 427.9,49.8 428.4,50.4 428.8,50.9 429.3,51.5 429.7,52.1 430.2,52.6 430.7,53.1 431.1,53.6 431.6,54.0 432.0,54.4 432.5,54.7 432.9,55.1 433.4,55.4 433.9,55.8 434.3,56.1 434.8,56.5 435.2,56.8 435.7,57.1 436.1,57.5 436.6,57.8 437.1,58.1 437.5,58.4 438.0,58.7 438.4,59.0 438.9,59.3 439.4,59.5 439.8,59.7 440.3,60.0 440.7,60.2 441.2,60.4 441.6,60.7 442.1,60.9 442.6,61.1 443.0,61.4 443.5,61.6 443.9,61.9 444.4,62.2 444.8,62.5 445.3,62.9 445.8,63.4 446.2,63.8 446.7,64.3 447.1,64.7 447.6,65.2 448.0,65.5 448.5,65.8" fill="none" stroke="#2c6e2c" stroke-width="1.0" stroke-linejoin="round"/><polyline points="265.5,119.2 266.0,118.0 266.4,116.3 266.9,114.0 267.3,111.3 267.8,108.4 268.2,105.7 268.7,103.5 269.2,102.1 269.6,101.3 270.1,101.0 270.5,100.8 271.0,100.4 271.4,99.8 271.9,98.9 272.4,97.8 272.8,96.3 273.3,94.4 273.7,92.2 274.2,89.7 274.6,86.9 275.1,84.0 275.6,81.1 276.0,78.3 276.5,75.9 276.9,73.8 277.4,72.1 277.9,70.8 278.3,69.8 278.8,68.9 279.2,68.2 279.7,67.7 280.1,67.3 280.6,67.0 281.1,66.7 281.5,66.5 282.0,66.4 282.4,66.7 282.9,67.0 283.3,67.4 283.8,67.8 284.3,68.3 284.7,68.7 285.2,69.0 285.6,69.3 286.1,69.5 286.5,69.7 287.0,69.9 287.5,70.0 287.9,70.2 288.4,70.4 288.8,70.6 289.3,70.7 289.7,71.0 290.2,71.2 290.7,71.5 291.1,71.8 291.6,72.2 292.0,72.6 292.5,73.0 292.9,73.3 293.4,73.6 293.9,73.9 294.3,74.2 294.8,74.5 295.2,74.8 295.7,75.1 296.2,75.4 296.6,75.6 297.1,75.9 297.5,76.2 298.0,76.6 298.4,76.9 298.9,77.4 299.4,77.8 299.8,78.4 300.3,79.0 300.7,79.5 301.2,80.1 301.6,80.7 302.1,81.3 302.6,81.9 303.0,82.5 303.5,83.1 303.9,83.7 304.4,84.3 304.8,84.9 305.3,85.5 305.8,86.1 306.2,86.7 306.7,87.3 307.1,87.9 307.6,88.5 308.0,89.1 308.5,89.7 309.0,90.3 309.4,90.9 309.9,91.5 310.3,92.1 310.8,92.5 311.2,93.0 311.7,93.3 312.2,93.7 312.6,94.0 313.1,94.2 313.5,94.5 314.0,94.8 314.5,95.0 314.9,95.3 315.4,95.6 315.8,95.8 316.3,96.1 316.7,96.3 317.2,96.6 317.7,96.8 318.1,96.9 318.6,96.9 319.0,96.6 319.5,96.0 319.9,95.4 320.4,90.2 320.9,89.9 321.3,89.6 321.8,89.3 322.2,89.0 322.7,88.7 323.1,88.5 323.6,88.2 324.1,88.0 324.5,87.7 325.0,87.4 325.4,87.2 325.9,86.9 326.3,86.7 326.8,86.4 327.3,86.2 327.7,85.9 328.2,85.6 328.6,85.4 329.1,85.1 329.6,84.9 330.0,84.6 330.5,84.3 330.9,84.1 331.4,83.8 331.8,83.6 332.3,83.4 332.8,83.1 333.2,82.9 333.7,82.7 334.1,82.5 334.6,82.3 335.0,82.1 335.5,81.8 336.0,81.6 336.4,81.4 336.9,81.2 337.3,81.0 337.8,80.8 338.2,80.6 338.7,80.4 339.2,80.1 339.6,79.9 340.1,79.7 340.5,79.5 341.0,79.3 341.4,79.1 341.9,78.9 342.4,78.7 342.8,78.4 343.3,78.2 343.7,78.0 344.2,77.8 344.6,77.6 345.1,77.4 345.6,77.2 346.0,77.0 346.5,76.8 346.9,76.6 347.4,76.4 347.9,76.2 348.3,76.0 348.8,75.8 349.2,75.6 349.7,75.4 350.1,75.2 350.6,75.0 351.1,74.8 351.5,74.6 352.0,74.4 352.4,74.2 352.9,74.2 353.3,74.1 353.8,74.2 354.3,74.3 354.7,74.4 355.2,74.6 355.6,74.8 356.1,75.1 356.5,75.3 357.0,75.7 357.5,76.2 357.9,76.7 358.4,77.2 358.8,77.5 359.3,77.6 359.7,77.5 360.2,77.1 360.7,76.7 361.1,76.2 361.6,75.7 362.0,75.2 362.5,74.7 362.9,74.1 363.4,73.6 363.9,73.1 364.3,72.6 364.8,72.1 365.2,71.5 365.7,71.0 366.1,70.5 366.6,70.0 367.1,69.6 367.5,69.2 368.0,68.8 368.4,68.6 368.9,68.3 369.4,68.1 369.8,67.9 370.3,67.7 370.7,67.5 371.2,67.2 371.6,67.0 372.1,66.8 372.6,66.6 373.0,66.4 373.5,66.2 373.9,66.0 374.4,65.8 374.8,65.6 375.3,65.3 375.8,65.1 376.2,64.9 376.7,64.7 377.1,64.5 377.6,64.3 378.0,64.1 378.5,64.0 379.0,63.8 379.4,63.7 379.9,63.5 380.3,63.4 380.8,63.2 381.2,63.1 381.7,63.0 382.2,62.8 382.6,62.7 383.1,62.5 383.5,62.4 384.0,62.3 384.4,62.1 384.9,62.0 385.4,61.8 385.8,61.7 386.3,61.6 386.7,61.4 387.2,61.3 387.7,61.2 388.1,61.0 388.6,60.9 389.0,60.8 389.5,60.7 389.9,60.6 390.4,60.5 390.9,60.4 391.3,60.3 391.8,60.2 392.2,60.1 392.7,60.0 393.1,59.9 393.6,59.8 394.1,59.7 394.5,59.6 395.0,59.5 395.4,59.4 395.9,59.3 396.3,59.2 396.8,59.1 397.3,58.9 397.7,58.8 398.2,58.7 398.6,58.7 399.1,58.9 399.5,59.4 400.0,60.2 400.5,61.3 400.9,62.8 401.4,64.5 401.8,66.3 402.3,68.1 402.8,69.9 403.2,71.6 403.7,73.2 404.1,74.6 404.6,75.6 405.0,76.1 405.5,76.2 406.0,75.8 406.4,75.2 406.9,74.3 407.3,73.3 407.8,72.3 408.2,71.3 408.7,70.2 409.2,69.2 409.6,68.1 410.1,67.1 410.5,66.1 411.0,65.0 411.4,64.0 411.9,62.9 412.4,61.9 412.8,60.9 413.3,59.9 413.7,58.9 414.2,58.1 414.6,57.2 415.1,56.5 415.6,55.7 416.0,54.9 416.5,54.2 416.9,53.4 417.4,52.7 417.8,51.9 418.3,51.2 418.8,50.4 419.2,49.7 419.7,48.9 420.1,48.2 420.6,47.5 421.0,46.8 421.5,46.1 422.0,45.5 422.4,45.0 422.9,44.6 423.3,44.3 423.8,44.0 424.3,44.0 424.7,44.0 425.2,44.2 425.6,44.5 426.1,44.9 426.5,45.2 427.0,45.5 427.5,45.9 427.9,46.2 428.4,46.4 428.8,46.6 429.3,46.8 429.7,46.9 430.2,46.9 430.7,47.0 431.1,47.0 431.6,47.0 432.0,47.1 432.5,47.1 432.9,47.1 433.4,47.2 433.9,47.2 434.3,47.2 434.8,47.2 435.2,47.3 435.7,47.3 436.1,47.3 436.6,47.4 437.1,47.4 437.5,47.3 438.0,47.3 438.4,47.2 438.9,47.0 439.4,46.9 439.8,46.7 440.3,46.6 440.7,46.4 441.2,46.3 441.6,46.1 442.1,45.9 442.6,45.8 443.0,45.6 443.5,45.4 443.9,45.3 444.4,45.1 444.8,45.0 445.3,44.9 445.8,44.8 446.2,44.6 446.7,44.5 447.1,44.4 447.6,44.3 448.0,44.2 448.5,44.2" fill="none" stroke="#fcd04a" stroke-width="1.0" stroke-linejoin="round"/><polyline points="265.5,145.2 266.0,142.9 266.4,139.7 266.9,136.0 267.3,131.9 267.8,127.7 268.2,123.8 268.7,120.5 269.2,117.9 269.6,116.0 270.1,114.7 270.5,113.6 271.0,112.7 271.4,111.6 271.9,110.5 272.4,109.2 272.8,107.6 273.3,105.5 273.7,102.9 274.2,99.6 274.6,95.5 275.1,90.5 275.6,84.5 276.0,77.7 276.5,70.1 276.9,62.2 277.4,54.2 277.9,46.7 278.3,40.1 278.8,34.5 279.2,30.0 279.7,26.6 280.1,24.1 280.6,22.2 281.1,20.9 281.5,20.0 282.0,19.4 282.4,19.1 282.9,19.3 283.3,19.7 283.8,20.2 284.3,20.8 284.7,21.5 285.2,22.3 285.6,23.1 286.1,23.9 286.5,24.7 287.0,25.6 287.5,26.4 287.9,27.2 288.4,28.0 288.8,28.8 289.3,29.7 289.7,30.5 290.2,31.3 290.7,32.1 291.1,33.0 291.6,33.8 292.0,34.7 292.5,35.6 292.9,36.5 293.4,37.4 293.9,38.4 294.3,39.3 294.8,40.3 295.2,41.2 295.7,42.2 296.2,43.1 296.6,44.0 297.1,45.0 297.5,45.9 298.0,46.8 298.4,47.8 298.9,48.7 299.4,49.6 299.8,50.6 300.3,51.5 300.7,52.5 301.2,53.5 301.6,54.5 302.1,55.5 302.6,56.4 303.0,57.2 303.5,58.1 303.9,59.1 304.4,60.0 304.8,61.0 305.3,62.1 305.8,63.3 306.2,64.4 306.7,65.7 307.1,66.9 307.6,68.2 308.0,69.4 308.5,70.7 309.0,71.9 309.4,73.1 309.9,74.3 310.3,75.5 310.8,76.6 311.2,77.7 311.7,78.7 312.2,79.7 312.6,80.8 313.1,81.8 313.5,82.8 314.0,83.8 314.5,84.8 314.9,85.7 315.4,86.6 315.8,87.3 316.3,88.0 316.7,88.6 317.2,89.2 317.7,89.8 318.1,90.3 318.6,90.8 319.0,91.2 319.5,91.5 319.9,91.7 320.4,80.9 320.9,80.3 321.3,79.8 321.8,79.2 322.2,78.8 322.7,78.5 323.1,78.2 323.6,77.9 324.1,77.6 324.5,77.3 325.0,77.1 325.4,76.8 325.9,76.6 326.3,76.4 326.8,76.2 327.3,76.0 327.7,75.8 328.2,75.6 328.6,75.4 329.1,75.1 329.6,74.9 330.0,74.7 330.5,74.5 330.9,74.2 331.4,74.0 331.8,73.7 332.3,73.5 332.8,73.2 333.2,73.0 333.7,72.7 334.1,72.4 334.6,72.2 335.0,71.9 335.5,71.7 336.0,71.4 336.4,71.1 336.9,70.9 337.3,70.6 337.8,70.4 338.2,70.1 338.7,69.8 339.2,69.6 339.6,69.3 340.1,69.1 340.5,68.8 341.0,68.5 341.4,68.3 341.9,68.0 342.4,67.7 342.8,67.4 343.3,67.0 343.7,66.6 344.2,66.3 344.6,65.9 345.1,65.5 345.6,65.1 346.0,64.7 346.5,64.3 346.9,63.9 347.4,63.5 347.9,63.1 348.3,62.7 348.8,62.3 349.2,61.9 349.7,61.5 350.1,61.2 350.6,60.8 351.1,60.4 351.5,60.0 352.0,59.7 352.4,59.6 352.9,59.7 353.3,60.2 353.8,61.0 354.3,62.2 354.7,63.5 355.2,64.9 355.6,66.5 356.1,68.2 356.5,70.2 357.0,72.6 357.5,75.5 357.9,78.5 358.4,81.5 358.8,84.1 359.3,85.9 359.7,87.0 360.2,87.4 360.7,87.3 361.1,87.1 361.6,86.8 362.0,86.4 362.5,85.9 362.9,85.4 363.4,84.6 363.9,83.7 364.3,82.6 364.8,81.4 365.2,80.1 365.7,78.8 366.1,77.6 366.6,76.3 367.1,75.0 367.5,73.7 368.0,72.5 368.4,71.2 368.9,70.0 369.4,68.9 369.8,67.9 370.3,67.0 370.7,66.3 371.2,65.5 371.6,64.9 372.1,64.2 372.6,63.6 373.0,62.9 373.5,62.3 373.9,61.6 374.4,61.0 374.8,60.3 375.3,59.7 375.8,59.0 376.2,58.4 376.7,57.7 377.1,57.2 377.6,56.6 378.0,56.2 378.5,56.0 379.0,55.8 379.4,55.7 379.9,55.7 380.3,55.7 380.8,55.7 381.2,55.7 381.7,55.7 382.2,55.7 382.6,55.7 383.1,55.7 383.5,55.7 384.0,55.7 384.4,55.7 384.9,55.7 385.4,55.7 385.8,55.7 386.3,55.7 386.7,55.7 387.2,55.7 387.7,55.8 388.1,55.9 388.6,56.2 389.0,56.5 389.5,57.0 389.9,57.5 390.4,58.1 390.9,58.7 391.3,59.3 391.8,59.9 392.2,60.4 392.7,60.8 393.1,61.0 393.6,61.0 394.1,61.0 394.5,60.8 395.0,60.6 395.4,60.5 395.9,60.5 396.3,60.7 396.8,61.0 397.3,61.4 397.7,61.9 398.2,62.6 398.6,64.3 399.1,66.5 399.5,69.6 400.0,74.0 400.5,79.7 400.9,86.8 401.4,95.1 401.8,104.2 402.3,113.4 402.8,122.0 403.2,129.3 403.7,134.8 404.1,138.1 404.6,139.3 405.0,138.4 405.5,136.8 406.0,134.8 406.4,132.7 406.9,130.5 407.3,128.3 407.8,126.2 408.2,124.0 408.7,121.8 409.2,119.6 409.6,117.4 410.1,115.1 410.5,112.7 411.0,110.1 411.4,107.4 411.9,104.6 412.4,101.9 412.8,99.3 413.3,96.6 413.7,94.0 414.2,91.4 414.6,88.9 415.1,86.4 415.6,83.9 416.0,81.4 416.5,79.0 416.9,76.6 417.4,74.2 417.8,72.0 418.3,70.0 418.8,68.0 419.2,66.2 419.7,64.4 420.1,62.6 420.6,60.9 421.0,59.2 421.5,57.4 422.0,55.8 422.4,54.2 422.9,52.8 423.3,51.7 423.8,50.8 424.3,50.4 424.7,50.4 425.2,50.7 425.6,51.2 426.1,52.1 426.5,53.1 427.0,54.1 427.5,55.1 427.9,56.2 428.4,57.2 428.8,58.2 429.3,59.2 429.7,60.2 430.2,61.2 430.7,62.1 431.1,62.9 431.6,63.7 432.0,64.3 432.5,65.0 432.9,65.6 433.4,66.3 433.9,67.0 434.3,67.7 434.8,68.4 435.2,69.1 435.7,69.8 436.1,70.5 436.6,71.2 437.1,71.9 437.5,72.6 438.0,73.3 438.4,74.0 438.9,74.7 439.4,75.4 439.8,76.1 440.3,76.8 440.7,77.5 441.2,78.2 441.6,78.8 442.1,79.5 442.6,80.2 443.0,80.9 443.5,81.6 443.9,82.2 444.4,82.9 444.8,83.6 445.3,84.2 445.8,84.9 446.2,85.6 446.7,86.2 447.1,86.9 447.6,87.5 448.0,88.0 448.5,88.5" fill="none" stroke="#48a038" stroke-width="1.0" stroke-linejoin="round"/><polyline points="265.5,119.1 266.0,118.6 266.4,117.8 266.9,116.5 267.3,114.7 267.8,112.4 268.2,109.9 268.7,107.2 269.2,104.7 269.6,102.7 270.1,101.5 270.5,100.8 271.0,100.4 271.4,100.1 271.9,99.7 272.4,99.1 272.8,98.4 273.3,97.6 273.7,96.9 274.2,96.0 274.6,94.9 275.1,93.5 275.6,91.6 276.0,89.1 276.5,86.2 276.9,82.8 277.4,79.4 277.9,76.1 278.3,73.1 278.8,70.6 279.2,68.6 279.7,67.0 280.1,66.0 280.6,65.2 281.1,64.7 281.5,64.4 282.0,64.3 282.4,64.3 282.9,64.3 283.3,64.4 283.8,64.6 284.3,64.8 284.7,65.0 285.2,65.3 285.6,65.5 286.1,65.8 286.5,66.0 287.0,66.3 287.5,66.6 287.9,66.8 288.4,67.1 288.8,67.4 289.3,67.7 289.7,68.0 290.2,68.3 290.7,68.6 291.1,69.0 291.6,69.3 292.0,69.6 292.5,69.9 292.9,70.3 293.4,70.6 293.9,71.0 294.3,71.4 294.8,71.7 295.2,72.1 295.7,72.4 296.2,72.8 296.6,73.2 297.1,73.5 297.5,73.9 298.0,74.3 298.4,74.7 298.9,75.1 299.4,75.4 299.8,75.8 300.3,76.2 300.7,76.6 301.2,77.1 301.6,77.5 302.1,78.0 302.6,78.5 303.0,78.9 303.5,79.4 303.9,79.9 304.4,80.4 304.8,80.9 305.3,81.5 305.8,82.0 306.2,82.6 306.7,83.3 307.1,83.9 307.6,84.5 308.0,85.1 308.5,85.7 309.0,86.3 309.4,86.9 309.9,87.5 310.3,88.1 310.8,88.5 311.2,89.0 311.7,89.4 312.2,89.9 312.6,90.3 313.1,90.7 313.5,91.1 314.0,91.5 314.5,91.9 314.9,92.3 315.4,92.6 315.8,92.9 316.3,93.2 316.7,93.4 317.2,93.6 317.7,93.8 318.1,94.0 318.6,94.2 319.0,94.3 319.5,94.4 319.9,94.5 320.4,90.0 320.9,89.8 321.3,89.6 321.8,89.4 322.2,89.3 322.7,89.3 323.1,89.2 323.6,89.1 324.1,89.0 324.5,88.9 325.0,88.8 325.4,88.6 325.9,88.3 326.3,88.0 326.8,87.7 327.3,87.4 327.7,87.1 328.2,86.8 328.6,86.4 329.1,86.1 329.6,85.8 330.0,85.4 330.5,85.0 330.9,84.5 331.4,84.1 331.8,83.7 332.3,83.4 332.8,83.1 333.2,82.8 333.7,82.6 334.1,82.4 334.6,82.2 335.0,82.1 335.5,81.9 336.0,81.7 336.4,81.5 336.9,81.3 337.3,81.1 337.8,80.9 338.2,80.8 338.7,80.6 339.2,80.4 339.6,80.2 340.1,80.0 340.5,79.8 341.0,79.6 341.4,79.4 341.9,79.3 342.4,79.1 342.8,78.8 343.3,78.6 343.7,78.4 344.2,78.1 344.6,77.9 345.1,77.7 345.6,77.4 346.0,77.2 346.5,76.9 346.9,76.7 347.4,76.5 347.9,76.2 348.3,76.0 348.8,75.7 349.2,75.5 349.7,75.3 350.1,75.0 350.6,74.8 351.1,74.5 351.5,74.3 352.0,74.0 352.4,73.8 352.9,73.6 353.3,73.4 353.8,73.2 354.3,73.0 354.7,72.8 355.2,72.6 355.6,72.4 356.1,72.4 356.5,72.5 357.0,72.9 357.5,73.5 357.9,74.3 358.4,75.2 358.8,75.8 359.3,76.1 359.7,76.1 360.2,75.8 360.7,75.4 361.1,74.8 361.6,74.2 362.0,73.6 362.5,73.0 362.9,72.4 363.4,71.8 363.9,71.2 364.3,70.6 364.8,70.0 365.2,69.4 365.7,68.7 366.1,68.1 366.6,67.5 367.1,66.9 367.5,66.3 368.0,65.7 368.4,65.1 368.9,64.6 369.4,64.1 369.8,63.6 370.3,63.2 370.7,62.9 371.2,62.7 371.6,62.4 372.1,62.2 372.6,62.0 373.0,61.7 373.5,61.5 373.9,61.3 374.4,61.0 374.8,60.8 375.3,60.6 375.8,60.3 376.2,60.1 376.7,59.9 377.1,59.7 377.6,59.5 378.0,59.3 378.5,59.2 379.0,59.1 379.4,59.0 379.9,58.9 380.3,58.9 380.8,58.8 381.2,58.7 381.7,58.7 382.2,58.6 382.6,58.6 383.1,58.5 383.5,58.5 384.0,58.4 384.4,58.3 384.9,58.3 385.4,58.2 385.8,58.2 386.3,58.1 386.7,58.1 387.2,58.0 387.7,58.0 388.1,58.0 388.6,58.0 389.0,58.0 389.5,58.1 389.9,58.3 390.4,58.4 390.9,58.6 391.3,58.7 391.8,58.8 392.2,58.9 392.7,58.9 393.1,58.8 393.6,58.6 394.1,58.3 394.5,58.0 395.0,57.6 395.4,57.2 395.9,56.9 396.3,56.6 396.8,56.4 397.3,56.4 397.7,56.5 398.2,56.7 398.6,57.0 399.1,57.5 399.5,58.1 400.0,59.1 400.5,60.4 400.9,62.2 401.4,64.5 401.8,67.2 402.3,70.2 402.8,73.1 403.2,76.0 403.7,78.6 404.1,80.9 404.6,82.6 405.0,83.8 405.5,84.3 406.0,84.2 406.4,83.6 406.9,82.6 407.3,81.4 407.8,80.1 408.2,78.8 408.7,77.4 409.2,76.1 409.6,74.7 410.1,73.4 410.5,72.0 411.0,70.7 411.4,69.4 411.9,68.1 412.4,67.0 412.8,65.9 413.3,64.9 413.7,64.0 414.2,63.2 414.6,62.3 415.1,61.5 415.6,60.6 416.0,59.8 416.5,59.0 416.9,58.1 417.4,57.3 417.8,56.4 418.3,55.6 418.8,54.7 419.2,53.8 419.7,52.9 420.1,52.0 420.6,51.1 421.0,50.2 421.5,49.4 422.0,48.5 422.4,47.7 422.9,47.1 423.3,46.5 423.8,46.2 424.3,46.0 424.7,46.1 425.2,46.3 425.6,46.5 426.1,46.9 426.5,47.2 427.0,47.6 427.5,48.0 427.9,48.3 428.4,48.7 428.8,49.0 429.3,49.4 429.7,49.7 430.2,50.0 430.7,50.3 431.1,50.5 431.6,50.6 432.0,50.7 432.5,50.7 432.9,50.8 433.4,50.8 433.9,50.8 434.3,50.8 434.8,50.8 435.2,50.8 435.7,50.8 436.1,50.8 436.6,50.8 437.1,50.8 437.5,50.8 438.0,50.9 438.4,50.9 438.9,51.0 439.4,51.1 439.8,51.2 440.3,51.3 440.7,51.4 441.2,51.5 441.6,51.6 442.1,51.8 442.6,51.9 443.0,52.0 443.5,52.1 443.9,52.2 444.4,52.4 444.8,52.5 445.3,52.7 445.8,53.0 446.2,53.2 446.7,53.5 447.1,53.7 447.6,53.9 448.0,54.1 448.5,54.3" fill="none" stroke="#86c440" stroke-width="1.0" stroke-linejoin="round"/><polyline points="265.5,123.3 266.0,118.9 266.4,114.3 266.9,110.1 267.3,106.7 267.8,104.2 268.2,102.5 268.7,101.3 269.2,100.7 269.6,100.3 270.1,100.3 270.5,100.5 271.0,100.8 271.4,101.1 271.9,101.4 272.4,101.5 272.8,101.3 273.3,100.4 273.7,98.9 274.2,96.7 274.6,93.7 275.1,90.0 275.6,85.7 276.0,81.0 276.5,76.3 276.9,71.7 277.4,67.2 277.9,63.0 278.3,59.3 278.8,56.1 279.2,53.4 279.7,51.2 280.1,49.3 280.6,47.8 281.1,46.6 281.5,45.6 282.0,45.1 282.4,44.8 282.9,44.7 283.3,44.9 283.8,45.3 284.3,45.7 284.7,46.3 285.2,47.0 285.6,47.7 286.1,48.4 286.5,49.2 287.0,49.9 287.5,50.5 287.9,51.1 288.4,51.6 288.8,52.1 289.3,52.6 289.7,53.0 290.2,53.4 290.7,53.8 291.1,54.2 291.6,54.7 292.0,55.1 292.5,55.5 292.9,55.9 293.4,56.4 293.9,56.8 294.3,57.3 294.8,57.7 295.2,58.2 295.7,58.6 296.2,59.1 296.6,59.6 297.1,60.2 297.5,60.8 298.0,61.4 298.4,61.9 298.9,62.6 299.4,63.2 299.8,63.8 300.3,64.6 300.7,65.4 301.2,66.2 301.6,67.2 302.1,68.2 302.6,69.2 303.0,70.2 303.5,71.3 303.9,72.3 304.4,73.3 304.8,74.3 305.3,75.3 305.8,76.3 306.2,77.3 306.7,78.3 307.1,79.3 307.6,80.2 308.0,81.2 308.5,82.2 309.0,83.1 309.4,84.1 309.9,85.0 310.3,85.8 310.8,86.7 311.2,87.4 311.7,88.2 312.2,88.9 312.6,89.6 313.1,90.4 313.5,91.1 314.0,91.8 314.5,92.5 314.9,93.1 315.4,93.7 315.8,94.2 316.3,94.6 316.7,94.9 317.2,95.3 317.7,95.6 318.1,95.9 318.6,96.2 319.0,96.4 319.5,96.5 319.9,96.6 320.4,89.1 320.9,88.6 321.3,88.1 321.8,87.6 322.2,87.2 322.7,86.8 323.1,86.4 323.6,86.1 324.1,85.7 324.5,85.3 325.0,85.0 325.4,84.6 325.9,84.2 326.3,83.7 326.8,83.3 327.3,82.9 327.7,82.4 328.2,82.0 328.6,81.5 329.1,81.1 329.6,80.6 330.0,80.2 330.5,79.7 330.9,79.3 331.4,78.9 331.8,78.5 332.3,78.1 332.8,77.8 333.2,77.4 333.7,77.1 334.1,76.8 334.6,76.5 335.0,76.2 335.5,75.9 336.0,75.6 336.4,75.3 336.9,75.0 337.3,74.8 337.8,74.5 338.2,74.2 338.7,73.9 339.2,73.6 339.6,73.3 340.1,73.0 340.5,72.7 341.0,72.4 341.4,72.1 341.9,71.8 342.4,71.5 342.8,71.2 343.3,70.9 343.7,70.6 344.2,70.4 344.6,70.1 345.1,69.8 345.6,69.5 346.0,69.2 346.5,68.9 346.9,68.7 347.4,68.4 347.9,68.1 348.3,67.8 348.8,67.5 349.2,67.2 349.7,67.0 350.1,66.7 350.6,66.4 351.1,66.1 351.5,65.8 352.0,65.6 352.4,65.4 352.9,65.3 353.3,65.3 353.8,65.4 354.3,65.7 354.7,66.0 355.2,66.4 355.6,66.8 356.1,67.5 356.5,68.5 357.0,69.9 357.5,71.9 357.9,74.2 358.4,76.5 358.8,78.5 359.3,79.9 359.7,80.6 360.2,80.8 360.7,80.6 361.1,80.2 361.6,79.7 362.0,79.2 362.5,78.6 362.9,78.0 363.4,77.2 363.9,76.3 364.3,75.3 364.8,74.3 365.2,73.2 365.7,72.1 366.1,70.9 366.6,69.8 367.1,68.7 367.5,67.6 368.0,66.5 368.4,65.4 368.9,64.4 369.4,63.5 369.8,62.7 370.3,62.1 370.7,61.6 371.2,61.3 371.6,60.9 372.1,60.6 372.6,60.3 373.0,60.0 373.5,59.7 373.9,59.4 374.4,59.0 374.8,58.7 375.3,58.4 375.8,58.1 376.2,57.8 376.7,57.5 377.1,57.2 377.6,56.9 378.0,56.7 378.5,56.5 379.0,56.3 379.4,56.1 379.9,56.0 380.3,55.8 380.8,55.7 381.2,55.6 381.7,55.4 382.2,55.3 382.6,55.1 383.1,55.0 383.5,54.9 384.0,54.7 384.4,54.6 384.9,54.5 385.4,54.3 385.8,54.2 386.3,54.0 386.7,53.9 387.2,53.8 387.7,53.7 388.1,53.6 388.6,53.5 389.0,53.5 389.5,53.5 389.9,53.6 390.4,53.7 390.9,53.8 391.3,53.9 391.8,54.0 392.2,54.1 392.7,54.1 393.1,54.2 393.6,54.3 394.1,54.3 394.5,54.3 395.0,54.1 395.4,53.9 395.9,53.5 396.3,53.0 396.8,52.6 397.3,52.2 397.7,52.0 398.2,52.1 398.6,52.4 399.1,53.2 399.5,54.7 400.0,57.0 400.5,60.5 400.9,65.5 401.4,71.8 401.8,79.1 402.3,86.5 402.8,93.5 403.2,99.8 403.7,105.2 404.1,109.7 404.6,113.2 405.0,115.5 405.5,116.6 406.0,116.7 406.4,116.1 406.9,115.0 407.3,113.7 407.8,112.3 408.2,110.8 408.7,109.4 409.2,107.9 409.6,106.5 410.1,104.9 410.5,103.3 411.0,101.6 411.4,99.6 411.9,97.5 412.4,95.2 412.8,92.9 413.3,90.5 413.7,88.1 414.2,85.7 414.6,83.3 415.1,80.9 415.6,78.5 416.0,76.1 416.5,73.7 416.9,71.5 417.4,69.4 417.8,67.6 418.3,66.0 418.8,64.7 419.2,63.5 419.7,62.4 420.1,61.3 420.6,60.3 421.0,59.2 421.5,58.0 422.0,56.8 422.4,55.4 422.9,53.8 423.3,52.3 423.8,51.0 424.3,50.1 424.7,49.7 425.2,49.7 425.6,50.1 426.1,50.6 426.5,51.1 427.0,51.7 427.5,52.3 427.9,52.8 428.4,53.4 428.8,54.0 429.3,54.6 429.7,55.1 430.2,55.7 430.7,56.2 431.1,56.6 431.6,57.0 432.0,57.4 432.5,57.7 432.9,58.1 433.4,58.4 433.9,58.7 434.3,59.0 434.8,59.3 435.2,59.6 435.7,59.9 436.1,60.3 436.6,60.6 437.1,60.9 437.5,61.3 438.0,61.7 438.4,62.1 438.9,62.6 439.4,63.1 439.8,63.5 440.3,64.0 440.7,64.5 441.2,65.0 441.6,65.5 442.1,66.0 442.6,66.5 443.0,67.0 443.5,67.5 443.9,68.1 444.4,68.7 444.8,69.3 445.3,70.1 445.8,70.9 446.2,71.7 446.7,72.5 447.1,73.4 447.6,74.1 448.0,74.8 448.5,75.3" fill="none" stroke="#74554a" stroke-width="1.0" stroke-linejoin="round"/><polyline points="265.5,101.6 266.0,100.5 266.4,99.3 266.9,98.0 267.3,96.6 267.8,95.3 268.2,93.9 268.7,92.5 269.2,91.3 269.6,90.3 270.1,89.7 270.5,89.4 271.0,89.4 271.4,89.5 271.9,89.5 272.4,89.4 272.8,88.9 273.3,88.0 273.7,86.8 274.2,85.1 274.6,83.1 275.1,80.7 275.6,78.0 276.0,74.9 276.5,71.4 276.9,67.5 277.4,63.4 277.9,59.2 278.3,55.0 278.8,51.1 279.2,47.5 279.7,44.5 280.1,42.2 280.6,40.5 281.1,39.2 281.5,38.3 282.0,37.5 282.4,37.0 282.9,36.7 283.3,36.6 283.8,36.7 284.3,37.0 284.7,37.3 285.2,37.7 285.6,38.1 286.1,38.5 286.5,39.0 287.0,39.4 287.5,39.8 287.9,40.2 288.4,40.6 288.8,41.1 289.3,41.5 289.7,41.9 290.2,42.4 290.7,42.9 291.1,43.5 291.6,44.1 292.0,44.6 292.5,45.2 292.9,45.8 293.4,46.5 293.9,47.2 294.3,47.9 294.8,48.7 295.2,49.6 295.7,50.6 296.2,51.6 296.6,52.6 297.1,53.7 297.5,54.8 298.0,55.9 298.4,57.0 298.9,58.1 299.4,59.2 299.8,60.3 300.3,61.5 300.7,62.6 301.2,63.8 301.6,64.9 302.1,66.1 302.6,67.2 303.0,68.4 303.5,69.5 303.9,70.7 304.4,71.8 304.8,72.9 305.3,74.0 305.8,75.1 306.2,76.1 306.7,77.2 307.1,78.2 307.6,79.2 308.0,80.2 308.5,81.3 309.0,82.3 309.4,83.3 309.9,84.3 310.3,85.2 310.8,86.1 311.2,87.0 311.7,87.8 312.2,88.7 312.6,89.5 313.1,90.3 313.5,91.2 314.0,92.0 314.5,92.8 314.9,93.6 315.4,94.4 315.8,95.1 316.3,95.8 316.7,96.5 317.2,97.1 317.7,97.8 318.1,98.4 318.6,99.0 319.0,99.4 319.5,99.6 319.9,99.8 320.4,83.5 320.9,82.8 321.3,82.0 321.8,81.4 322.2,80.9 322.7,80.6 323.1,80.4 323.6,80.3 324.1,80.3 324.5,80.3 325.0,80.3 325.4,80.3 325.9,80.3 326.3,80.4 326.8,80.4 327.3,80.4 327.7,80.4 328.2,80.5 328.6,80.5 329.1,80.4 329.6,80.4 330.0,80.2 330.5,79.9 330.9,79.6 331.4,79.3 331.8,79.0 332.3,78.8 332.8,78.6 333.2,78.5 333.7,78.4 334.1,78.3 334.6,78.3 335.0,78.2 335.5,78.1 336.0,78.1 336.4,78.0 336.9,78.0 337.3,77.9 337.8,77.9 338.2,77.8 338.7,77.8 339.2,77.7 339.6,77.6 340.1,77.6 340.5,77.5 341.0,77.5 341.4,77.4 341.9,77.3 342.4,77.2 342.8,77.1 343.3,77.0 343.7,76.8 344.2,76.6 344.6,76.4 345.1,76.2 345.6,76.0 346.0,75.8 346.5,75.6 346.9,75.4 347.4,75.3 347.9,75.1 348.3,75.0 348.8,74.9 349.2,74.9 349.7,75.0 350.1,75.1 350.6,75.3 351.1,75.5 351.5,75.8 352.0,76.0 352.4,76.2 352.9,76.4 353.3,76.6 353.8,76.9 354.3,77.1 354.7,77.4 355.2,77.6 355.6,77.9 356.1,78.4 356.5,79.0 357.0,80.0 357.5,81.2 357.9,82.7 358.4,84.3 358.8,85.6 359.3,86.5 359.7,87.1 360.2,87.3 360.7,87.2 361.1,87.1 361.6,86.9 362.0,86.7 362.5,86.4 362.9,86.0 363.4,85.6 363.9,85.0 364.3,84.2 364.8,83.5 365.2,82.7 365.7,81.8 366.1,81.0 366.6,80.2 367.1,79.3 367.5,78.5 368.0,77.7 368.4,76.9 368.9,76.1 369.4,75.4 369.8,74.8 370.3,74.4 370.7,73.9 371.2,73.6 371.6,73.3 372.1,73.0 372.6,72.6 373.0,72.3 373.5,72.0 373.9,71.7 374.4,71.4 374.8,71.1 375.3,70.8 375.8,70.5 376.2,70.2 376.7,69.9 377.1,69.6 377.6,69.4 378.0,69.1 378.5,68.9 379.0,68.8 379.4,68.7 379.9,68.6 380.3,68.5 380.8,68.4 381.2,68.3 381.7,68.2 382.2,68.2 382.6,68.1 383.1,68.0 383.5,67.9 384.0,67.8 384.4,67.7 384.9,67.6 385.4,67.5 385.8,67.5 386.3,67.4 386.7,67.3 387.2,67.2 387.7,67.1 388.1,67.0 388.6,66.8 389.0,66.7 389.5,66.5 389.9,66.2 390.4,66.0 390.9,65.8 391.3,65.5 391.8,65.3 392.2,65.1 392.7,64.8 393.1,64.6 393.6,64.4 394.1,64.1 394.5,63.9 395.0,63.7 395.4,63.6 395.9,63.5 396.3,63.6 396.8,63.7 397.3,64.0 397.7,64.3 398.2,64.8 398.6,65.5 399.1,66.7 399.5,68.4 400.0,70.8 400.5,74.1 400.9,78.1 401.4,82.6 401.8,87.7 402.3,93.1 402.8,98.6 403.2,103.8 403.7,108.7 404.1,113.0 404.6,116.5 405.0,119.0 405.5,120.5 406.0,121.0 406.4,120.3 406.9,119.0 407.3,117.4 407.8,115.6 408.2,113.8 408.7,111.9 409.2,110.1 409.6,108.2 410.1,106.2 410.5,104.2 411.0,102.0 411.4,99.6 411.9,97.0 412.4,94.5 412.8,92.0 413.3,89.5 413.7,87.1 414.2,84.8 414.6,82.6 415.1,80.5 415.6,78.3 416.0,76.2 416.5,74.2 416.9,72.1 417.4,70.2 417.8,68.4 418.3,66.7 418.8,65.3 419.2,63.9 419.7,62.6 420.1,61.4 420.6,60.2 421.0,58.9 421.5,57.7 422.0,56.4 422.4,55.0 422.9,53.6 423.3,52.1 423.8,50.6 424.3,49.1 424.7,47.9 425.2,47.1 425.6,46.6 426.1,46.6 426.5,46.8 427.0,47.2 427.5,47.7 427.9,48.3 428.4,48.8 428.8,49.4 429.3,49.9 429.7,50.3 430.2,50.7 430.7,50.9 431.1,51.0 431.6,51.0 432.0,50.9 432.5,50.7 432.9,50.6 433.4,50.4 433.9,50.2 434.3,50.0 434.8,49.8 435.2,49.7 435.7,49.5 436.1,49.3 436.6,49.1 437.1,49.0 437.5,48.8 438.0,48.7 438.4,48.6 438.9,48.4 439.4,48.3 439.8,48.2 440.3,48.1 440.7,47.9 441.2,47.8 441.6,47.7 442.1,47.6 442.6,47.5 443.0,47.4 443.5,47.3 443.9,47.3 444.4,47.3 444.8,47.5 445.3,47.7 445.8,48.0 446.2,48.3 446.7,48.7 447.1,49.0 447.6,49.3 448.0,49.6 448.5,49.8" fill="none" stroke="#634238" stroke-width="1.0" stroke-linejoin="round"/><polyline points="265.5,116.4 266.0,115.5 266.4,114.3 266.9,112.8 267.3,111.2 267.8,109.6 268.2,108.1 268.7,106.8 269.2,105.8 269.6,105.2 270.1,104.8 270.5,104.8 271.0,104.9 271.4,105.1 271.9,105.2 272.4,105.1 272.8,104.7 273.3,103.9 273.7,102.7 274.2,101.1 274.6,99.2 275.1,97.1 275.6,94.7 276.0,92.1 276.5,89.3 276.9,86.4 277.4,83.4 277.9,80.4 278.3,77.3 278.8,74.3 279.2,71.3 279.7,68.5 280.1,65.9 280.6,63.6 281.1,61.7 281.5,60.3 282.0,59.4 282.4,58.8 282.9,58.6 283.3,58.5 283.8,58.6 284.3,58.7 284.7,58.8 285.2,59.0 285.6,59.2 286.1,59.4 286.5,59.6 287.0,59.8 287.5,60.1 287.9,60.3 288.4,60.5 288.8,60.8 289.3,61.0 289.7,61.2 290.2,61.5 290.7,61.7 291.1,62.0 291.6,62.2 292.0,62.5 292.5,62.7 292.9,63.1 293.4,63.4 293.9,63.8 294.3,64.2 294.8,64.6 295.2,65.0 295.7,65.4 296.2,65.8 296.6,66.2 297.1,66.6 297.5,67.0 298.0,67.4 298.4,67.9 298.9,68.4 299.4,68.9 299.8,69.4 300.3,70.0 300.7,70.6 301.2,71.1 301.6,71.7 302.1,72.3 302.6,72.9 303.0,73.5 303.5,74.1 303.9,74.7 304.4,75.3 304.8,75.9 305.3,76.5 305.8,77.2 306.2,77.8 306.7,78.5 307.1,79.2 307.6,79.9 308.0,80.6 308.5,81.3 309.0,81.9 309.4,82.6 309.9,83.3 310.3,83.9 310.8,84.6 311.2,85.2 311.7,85.8 312.2,86.4 312.6,86.9 313.1,87.4 313.5,87.8 314.0,88.2 314.5,88.6 314.9,88.9 315.4,89.2 315.8,89.5 316.3,89.8 316.7,90.1 317.2,90.3 317.7,90.4 318.1,90.5 318.6,90.5 319.0,90.5 319.5,90.5 319.9,90.5 320.4,90.2 320.9,90.1 321.3,89.9 321.8,89.7 322.2,89.5 322.7,89.3 323.1,89.0 323.6,88.8 324.1,88.6 324.5,88.4 325.0,88.1 325.4,87.9 325.9,87.7 326.3,87.4 326.8,87.2 327.3,87.0 327.7,86.7 328.2,86.5 328.6,86.3 329.1,86.0 329.6,85.8 330.0,85.6 330.5,85.3 330.9,85.1 331.4,84.9 331.8,84.7 332.3,84.5 332.8,84.2 333.2,84.0 333.7,83.8 334.1,83.6 334.6,83.3 335.0,83.1 335.5,82.9 336.0,82.7 336.4,82.5 336.9,82.2 337.3,82.0 337.8,81.8 338.2,81.6 338.7,81.4 339.2,81.1 339.6,80.9 340.1,80.7 340.5,80.5 341.0,80.2 341.4,80.0 341.9,79.8 342.4,79.5 342.8,79.2 343.3,79.0 343.7,78.7 344.2,78.3 344.6,78.0 345.1,77.7 345.6,77.4 346.0,77.0 346.5,76.7 346.9,76.4 347.4,76.1 347.9,75.7 348.3,75.4 348.8,75.1 349.2,74.8 349.7,74.5 350.1,74.1 350.6,73.8 351.1,73.5 351.5,73.2 352.0,72.9 352.4,72.6 352.9,72.3 353.3,72.1 353.8,71.9 354.3,71.9 354.7,71.9 355.2,72.0 355.6,72.3 356.1,72.8 356.5,73.4 357.0,74.1 357.5,74.9 357.9,75.7 358.4,76.4 358.8,77.0 359.3,77.3 359.7,77.4 360.2,77.3 360.7,77.0 361.1,76.7 361.6,76.3 362.0,76.0 362.5,75.6 362.9,75.1 363.4,74.7 363.9,74.2 364.3,73.7 364.8,73.1 365.2,72.6 365.7,72.0 366.1,71.4 366.6,70.9 367.1,70.3 367.5,69.7 368.0,69.2 368.4,68.6 368.9,68.1 369.4,67.6 369.8,67.2 370.3,66.8 370.7,66.5 371.2,66.3 371.6,66.0 372.1,65.8 372.6,65.5 373.0,65.3 373.5,65.0 373.9,64.8 374.4,64.5 374.8,64.3 375.3,64.0 375.8,63.8 376.2,63.5 376.7,63.3 377.1,63.1 377.6,62.9 378.0,62.7 378.5,62.5 379.0,62.3 379.4,62.2 379.9,62.1 380.3,61.9 380.8,61.8 381.2,61.7 381.7,61.6 382.2,61.5 382.6,61.3 383.1,61.2 383.5,61.1 384.0,61.0 384.4,60.9 384.9,60.7 385.4,60.6 385.8,60.5 386.3,60.4 386.7,60.2 387.2,60.1 387.7,60.0 388.1,59.9 388.6,59.8 389.0,59.7 389.5,59.7 389.9,59.6 390.4,59.6 390.9,59.5 391.3,59.5 391.8,59.4 392.2,59.4 392.7,59.3 393.1,59.3 393.6,59.2 394.1,59.1 394.5,59.0 395.0,58.8 395.4,58.6 395.9,58.2 396.3,57.8 396.8,57.5 397.3,57.2 397.7,56.9 398.2,56.9 398.6,57.1 399.1,57.5 399.5,58.5 400.0,60.0 400.5,62.1 400.9,64.9 401.4,68.1 401.8,71.4 402.3,74.6 402.8,77.5 403.2,80.1 403.7,82.5 404.1,84.4 404.6,85.7 405.0,86.5 405.5,86.8 406.0,86.7 406.4,86.4 406.9,85.9 407.3,85.3 407.8,84.4 408.2,83.5 408.7,82.4 409.2,81.3 409.6,80.1 410.1,78.9 410.5,77.8 411.0,76.6 411.4,75.4 411.9,74.2 412.4,73.1 412.8,71.9 413.3,70.7 413.7,69.6 414.2,68.4 414.6,67.3 415.1,66.1 415.6,65.0 416.0,63.8 416.5,62.7 416.9,61.5 417.4,60.4 417.8,59.3 418.3,58.2 418.8,57.1 419.2,56.1 419.7,55.2 420.1,54.3 420.6,53.4 421.0,52.6 421.5,51.7 422.0,50.9 422.4,50.0 422.9,49.2 423.3,48.4 423.8,47.7 424.3,47.0 424.7,46.5 425.2,46.3 425.6,46.2 426.1,46.3 426.5,46.5 427.0,46.8 427.5,47.1 427.9,47.4 428.4,47.6 428.8,47.9 429.3,48.2 429.7,48.4 430.2,48.7 430.7,49.0 431.1,49.2 431.6,49.5 432.0,49.7 432.5,49.9 432.9,50.2 433.4,50.4 433.9,50.5 434.3,50.7 434.8,50.8 435.2,50.9 435.7,51.0 436.1,51.1 436.6,51.2 437.1,51.3 437.5,51.3 438.0,51.4 438.4,51.5 438.9,51.6 439.4,51.7 439.8,51.8 440.3,51.9 440.7,52.0 441.2,52.0 441.6,52.1 442.1,52.2 442.6,52.3 443.0,52.4 443.5,52.5 443.9,52.6 444.4,52.7 444.8,52.9 445.3,53.2 445.8,53.5 446.2,53.9 446.7,54.3 447.1,54.8 447.6,55.2 448.0,55.6 448.5,55.9" fill="none" stroke="#d4e24a" stroke-width="1.0" stroke-linejoin="round"/></g>
<path d="M265.5,2.5H448.5V150.0H265.5Z" fill="none" stroke="#7c7c7c" stroke-width="1"/>
<text x="262.50" y="5.40" font-size="7.6" fill="#2a2a2a" text-anchor="end">0.024</text>
<path d="M265.5,27.08h2.5" stroke="#7c7c7c" stroke-width="1"/>
<text x="262.50" y="29.98" font-size="7.6" fill="#2a2a2a" text-anchor="end">0.022</text>
<path d="M265.5,51.67h2.5" stroke="#7c7c7c" stroke-width="1"/>
<text x="262.50" y="54.57" font-size="7.6" fill="#2a2a2a" text-anchor="end">0.020</text>
<path d="M265.5,76.25h2.5" stroke="#7c7c7c" stroke-width="1"/>
<text x="262.50" y="79.15" font-size="7.6" fill="#2a2a2a" text-anchor="end">0.018</text>
<path d="M265.5,100.83h2.5" stroke="#7c7c7c" stroke-width="1"/>
<text x="262.50" y="103.73" font-size="7.6" fill="#2a2a2a" text-anchor="end">0.016</text>
<path d="M265.5,125.42h2.5" stroke="#7c7c7c" stroke-width="1"/>
<text x="262.50" y="128.32" font-size="7.6" fill="#2a2a2a" text-anchor="end">0.014</text>
<text x="262.50" y="152.90" font-size="7.6" fill="#2a2a2a" text-anchor="end">0.012</text>
<text x="265.50" y="158.60" font-size="7.6" fill="#2a2a2a" text-anchor="middle">400</text>
<path d="M302.10,150.0v-2.5" stroke="#7c7c7c" stroke-width="1"/>
<text x="302.10" y="158.60" font-size="7.6" fill="#2a2a2a" text-anchor="middle">800</text>
<path d="M338.70,150.0v-2.5" stroke="#7c7c7c" stroke-width="1"/>
<text x="338.70" y="158.60" font-size="7.6" fill="#2a2a2a" text-anchor="middle">1200</text>
<path d="M375.30,150.0v-2.5" stroke="#7c7c7c" stroke-width="1"/>
<text x="375.30" y="158.60" font-size="7.6" fill="#2a2a2a" text-anchor="middle">1600</text>
<path d="M411.90,150.0v-2.5" stroke="#7c7c7c" stroke-width="1"/>
<text x="411.90" y="158.60" font-size="7.6" fill="#2a2a2a" text-anchor="middle">2000</text>
<text x="448.50" y="158.60" font-size="7.6" fill="#2a2a2a" text-anchor="middle">2400</text>
<text x="357.50" y="170.70" font-size="7.6" fill="#2a2a2a" text-anchor="middle">Wavelength/nm</text>
<text transform="translate(242.9,76.25) rotate(-90)" x="0" y="0" font-size="7.48" fill="#2a2a2a" text-anchor="middle">Hyperspectral reflectance after MSC</text>
<text x="270.3" y="12.3" font-size="7.9" fill="#2a2a2a">(b)</text>
<g><polyline points="494.5,120.6 495.0,118.6 495.4,116.0 495.9,113.1 496.3,110.2 496.8,107.7 497.2,105.7 497.7,104.3 498.2,103.4 498.6,102.9 499.1,102.7 499.5,102.8 500.0,102.9 500.4,103.0 500.9,102.9 501.4,102.4 501.8,101.5 502.3,100.2 502.7,98.5 503.2,96.5 503.6,94.3 504.1,92.0 504.6,89.5 505.0,87.1 505.5,84.5 505.9,82.0 506.4,79.6 506.9,77.3 507.3,75.3 507.8,73.6 508.2,72.2 508.7,71.1 509.1,70.1 509.6,69.3 510.1,68.8 510.5,68.4 511.0,68.2 511.4,68.1 511.9,68.1 512.3,68.0 512.8,67.9 513.3,68.0 513.7,68.2 514.2,68.4 514.6,68.6 515.1,68.9 515.5,69.3 516.0,69.6 516.5,70.0 516.9,70.4 517.4,70.7 517.8,71.1 518.3,71.5 518.7,71.8 519.2,72.2 519.7,72.6 520.1,72.9 520.6,73.3 521.0,73.7 521.5,74.0 522.0,74.4 522.4,74.8 522.9,75.1 523.3,75.5 523.8,75.9 524.2,76.2 524.7,76.6 525.2,77.0 525.6,77.3 526.1,77.7 526.5,78.1 527.0,78.5 527.4,79.0 527.9,79.5 528.4,80.1 528.8,80.7 529.3,81.3 529.7,81.9 530.2,82.5 530.6,83.1 531.1,83.7 531.6,84.3 532.0,84.9 532.5,85.5 532.9,86.2 533.4,86.8 533.8,87.4 534.3,88.0 534.8,88.6 535.2,89.2 535.7,89.8 536.1,90.5 536.6,91.1 537.0,91.7 537.5,92.3 538.0,92.9 538.4,93.5 538.9,94.1 539.3,94.7 539.8,95.2 540.2,95.7 540.7,96.2 541.2,96.6 541.6,97.0 542.1,97.4 542.5,97.8 543.0,98.1 543.5,98.5 543.9,98.9 544.4,99.3 544.8,99.7 545.3,100.0 545.7,100.4 546.2,100.8 546.7,101.1 547.1,101.2 547.6,101.1 548.0,100.5 548.5,99.5 548.9,98.4 549.4,89.8 549.9,89.4 550.3,89.0 550.8,88.6 551.2,88.2 551.7,87.9 552.1,87.6 552.6,87.3 553.1,87.0 553.5,86.7 554.0,86.5 554.4,86.2 554.9,85.9 555.3,85.6 555.8,85.3 556.3,85.0 556.7,84.8 557.2,84.5 557.6,84.2 558.1,83.9 558.5,83.6 559.0,83.3 559.5,83.0 559.9,82.8 560.4,82.5 560.8,82.2 561.3,81.9 561.8,81.6 562.2,81.3 562.7,81.0 563.1,80.8 563.6,80.5 564.0,80.2 564.5,79.9 565.0,79.6 565.4,79.3 565.9,79.0 566.3,78.7 566.8,78.5 567.2,78.2 567.7,77.9 568.2,77.6 568.6,77.3 569.1,77.0 569.5,76.7 570.0,76.4 570.4,76.1 570.9,75.8 571.4,75.5 571.8,75.2 572.3,74.9 572.7,74.5 573.2,74.1 573.6,73.8 574.1,73.4 574.6,73.0 575.0,72.6 575.5,72.3 575.9,71.9 576.4,71.5 576.9,71.1 577.3,70.8 577.8,70.4 578.2,70.0 578.7,69.6 579.1,69.3 579.6,68.9 580.1,68.5 580.5,68.2 581.0,67.8 581.4,67.6 581.9,67.5 582.3,67.5 582.8,67.7 583.3,68.0 583.7,68.4 584.2,68.9 584.6,69.4 585.1,69.9 585.5,70.4 586.0,70.8 586.5,71.3 586.9,71.7 587.4,72.0 587.8,72.1 588.3,72.1 588.7,71.8 589.2,71.4 589.7,70.9 590.1,70.4 590.6,69.8 591.0,69.2 591.5,68.6 591.9,68.0 592.4,67.5 592.9,66.9 593.3,66.3 593.8,65.7 594.2,65.1 594.7,64.5 595.1,64.0 595.6,63.4 596.1,62.9 596.5,62.4 597.0,62.0 597.4,61.7 597.9,61.4 598.4,61.1 598.8,60.8 599.3,60.5 599.7,60.2 600.2,59.9 600.6,59.7 601.1,59.4 601.6,59.1 602.0,58.8 602.5,58.5 602.9,58.2 603.4,57.9 603.8,57.7 604.3,57.4 604.8,57.1 605.2,56.8 605.7,56.5 606.1,56.3 606.6,56.0 607.0,55.8 607.5,55.6 608.0,55.5 608.4,55.4 608.9,55.3 609.3,55.2 609.8,55.1 610.2,55.0 610.7,54.9 611.2,54.8 611.6,54.7 612.1,54.7 612.5,54.6 613.0,54.5 613.5,54.4 613.9,54.3 614.4,54.2 614.8,54.1 615.3,54.0 615.7,53.9 616.2,53.8 616.7,53.7 617.1,53.6 617.6,53.5 618.0,53.3 618.5,53.2 618.9,53.0 619.4,52.8 619.9,52.6 620.3,52.4 620.8,52.2 621.2,52.1 621.7,51.9 622.1,51.7 622.6,51.5 623.1,51.3 623.5,51.1 624.0,50.9 624.4,50.7 624.9,50.5 625.3,50.3 625.8,50.1 626.3,49.9 626.7,49.7 627.2,49.6 627.6,49.4 628.1,49.4 628.5,49.6 629.0,49.9 629.5,50.6 629.9,51.6 630.4,53.2 630.8,55.2 631.3,57.6 631.8,60.1 632.2,62.7 632.7,65.0 633.1,66.8 633.6,67.9 634.0,68.3 634.5,68.1 635.0,67.6 635.4,66.8 635.9,66.0 636.3,65.2 636.8,64.3 637.2,63.5 637.7,62.7 638.2,61.8 638.6,61.0 639.1,60.1 639.5,59.1 640.0,57.9 640.4,56.6 640.9,55.1 641.4,53.6 641.8,52.0 642.3,50.4 642.7,48.9 643.2,47.5 643.6,46.2 644.1,45.0 644.6,43.8 645.0,42.7 645.5,41.5 645.9,40.4 646.4,39.3 646.8,38.3 647.3,37.3 647.8,36.3 648.2,35.5 648.7,34.6 649.1,33.7 649.6,32.9 650.0,32.0 650.5,31.2 651.0,30.4 651.4,29.7 651.9,29.2 652.3,28.8 652.8,28.6 653.3,28.7 653.7,28.9 654.2,29.3 654.6,29.7 655.1,30.2 655.5,30.7 656.0,31.2 656.5,31.7 656.9,32.2 657.4,32.7 657.8,33.2 658.3,33.7 658.7,34.2 659.2,34.6 659.7,35.0 660.1,35.3 660.6,35.5 661.0,35.6 661.5,35.6 661.9,35.6 662.4,35.6 662.9,35.6 663.3,35.6 663.8,35.6 664.2,35.6 664.7,35.6 665.1,35.6 665.6,35.6 666.1,35.5 666.5,35.4 667.0,35.2 667.4,34.8 667.9,34.5 668.4,34.0 668.8,33.6 669.3,33.1 669.7,32.7 670.2,32.2 670.6,31.7 671.1,31.3 671.6,30.8 672.0,30.4 672.5,29.9 672.9,29.6 673.4,29.3 673.8,29.2 674.3,29.2 674.8,29.3 675.2,29.5 675.7,29.8 676.1,30.1 676.6,30.3 677.0,30.5 677.5,30.7" fill="none" stroke="#e06c34" stroke-width="1.0" stroke-linejoin="round"/><polyline points="494.5,122.1 495.0,120.1 495.4,117.3 495.9,114.1 496.3,110.7 496.8,107.5 497.2,104.6 497.7,102.2 498.2,100.5 498.6,99.4 499.1,98.9 499.5,98.9 500.0,98.9 500.4,98.8 500.9,98.5 501.4,97.7 501.8,96.7 502.3,95.3 502.7,93.6 503.2,91.5 503.6,89.2 504.1,86.7 504.6,84.2 505.0,81.8 505.5,79.4 505.9,77.2 506.4,75.0 506.9,73.0 507.3,71.1 507.8,69.4 508.2,68.0 508.7,66.7 509.1,65.6 509.6,64.6 510.1,63.9 510.5,63.4 511.0,63.0 511.4,62.8 511.9,62.7 512.3,62.8 512.8,63.0 513.3,63.3 513.7,63.7 514.2,64.1 514.6,64.5 515.1,65.0 515.5,65.5 516.0,65.9 516.5,66.4 516.9,66.9 517.4,67.4 517.8,67.8 518.3,68.3 518.7,68.8 519.2,69.3 519.7,69.7 520.1,70.2 520.6,70.7 521.0,71.2 521.5,71.7 522.0,72.1 522.4,72.6 522.9,73.1 523.3,73.6 523.8,74.1 524.2,74.5 524.7,75.0 525.2,75.5 525.6,76.0 526.1,76.5 526.5,77.0 527.0,77.5 527.4,78.0 527.9,78.6 528.4,79.2 528.8,79.8 529.3,80.4 529.7,81.1 530.2,81.8 530.6,82.4 531.1,83.1 531.6,83.8 532.0,84.4 532.5,85.1 532.9,85.8 533.4,86.5 533.8,87.1 534.3,87.8 534.8,88.5 535.2,89.1 535.7,89.8 536.1,90.5 536.6,91.1 537.0,91.8 537.5,92.5 538.0,93.1 538.4,93.8 538.9,94.5 539.3,95.1 539.8,95.7 540.2,96.2 540.7,96.7 541.2,97.2 541.6,97.7 542.1,98.1 542.5,98.6 543.0,99.0 543.5,99.4 543.9,99.9 544.4,100.3 544.8,100.8 545.3,101.2 545.7,101.6 546.2,102.0 546.7,102.4 547.1,102.6 547.6,102.4 548.0,101.8 548.5,100.8 548.9,99.5 549.4,90.2 549.9,89.7 550.3,89.3 550.8,88.9 551.2,88.6 551.7,88.3 552.1,88.0 552.6,87.7 553.1,87.5 553.5,87.2 554.0,86.9 554.4,86.6 554.9,86.4 555.3,86.1 555.8,85.8 556.3,85.6 556.7,85.3 557.2,85.0 557.6,84.8 558.1,84.5 558.5,84.2 559.0,84.0 559.5,83.7 559.9,83.4 560.4,83.2 560.8,82.9 561.3,82.6 561.8,82.3 562.2,82.0 562.7,81.7 563.1,81.4 563.6,81.1 564.0,80.8 564.5,80.5 565.0,80.2 565.4,80.0 565.9,79.7 566.3,79.4 566.8,79.1 567.2,78.8 567.7,78.5 568.2,78.2 568.6,77.9 569.1,77.6 569.5,77.3 570.0,77.0 570.4,76.7 570.9,76.4 571.4,76.1 571.8,75.7 572.3,75.4 572.7,75.0 573.2,74.6 573.6,74.2 574.1,73.8 574.6,73.5 575.0,73.1 575.5,72.7 575.9,72.3 576.4,71.9 576.9,71.5 577.3,71.1 577.8,70.8 578.2,70.4 578.7,70.0 579.1,69.6 579.6,69.2 580.1,68.8 580.5,68.5 581.0,68.1 581.4,67.9 581.9,67.8 582.3,67.8 582.8,68.0 583.3,68.4 583.7,68.8 584.2,69.4 584.6,69.9 585.1,70.4 585.5,70.9 586.0,71.5 586.5,72.0 586.9,72.4 587.4,72.7 587.8,72.9 588.3,72.9 588.7,72.6 589.2,72.2 589.7,71.7 590.1,71.1 590.6,70.5 591.0,69.9 591.5,69.3 591.9,68.7 592.4,68.1 592.9,67.4 593.3,66.8 593.8,66.2 594.2,65.6 594.7,65.0 595.1,64.4 595.6,63.8 596.1,63.3 596.5,62.8 597.0,62.4 597.4,62.0 597.9,61.7 598.4,61.4 598.8,61.1 599.3,60.8 599.7,60.5 600.2,60.2 600.6,59.9 601.1,59.6 601.6,59.3 602.0,59.0 602.5,58.7 602.9,58.5 603.4,58.2 603.8,57.9 604.3,57.6 604.8,57.3 605.2,57.0 605.7,56.7 606.1,56.4 606.6,56.2 607.0,56.0 607.5,55.8 608.0,55.6 608.4,55.5 608.9,55.4 609.3,55.3 609.8,55.2 610.2,55.1 610.7,55.0 611.2,55.0 611.6,54.9 612.1,54.8 612.5,54.7 613.0,54.6 613.5,54.5 613.9,54.4 614.4,54.3 614.8,54.2 615.3,54.1 615.7,54.0 616.2,53.9 616.7,53.8 617.1,53.7 617.6,53.6 618.0,53.4 618.5,53.3 618.9,53.1 619.4,52.9 619.9,52.7 620.3,52.5 620.8,52.3 621.2,52.1 621.7,51.9 622.1,51.7 622.6,51.5 623.1,51.3 623.5,51.1 624.0,50.9 624.4,50.7 624.9,50.5 625.3,50.3 625.8,50.2 626.3,50.0 626.7,49.8 627.2,49.7 627.6,49.6 628.1,49.6 628.5,49.7 629.0,50.1 629.5,50.8 629.9,51.9 630.4,53.5 630.8,55.6 631.3,58.0 631.8,60.6 632.2,63.2 632.7,65.6 633.1,67.4 633.6,68.5 634.0,68.9 634.5,68.6 635.0,68.0 635.4,67.2 635.9,66.4 636.3,65.5 636.8,64.7 637.2,63.9 637.7,63.0 638.2,62.2 638.6,61.4 639.1,60.5 639.5,59.5 640.0,58.3 640.4,57.0 640.9,55.5 641.4,53.9 641.8,52.2 642.3,50.6 642.7,49.1 643.2,47.8 643.6,46.5 644.1,45.4 644.6,44.3 645.0,43.2 645.5,42.1 645.9,41.1 646.4,40.1 646.8,39.1 647.3,38.1 647.8,37.2 648.2,36.3 648.7,35.4 649.1,34.5 649.6,33.6 650.0,32.8 650.5,31.9 651.0,31.1 651.4,30.4 651.9,29.9 652.3,29.6 652.8,29.5 653.3,29.6 653.7,29.8 654.2,30.2 654.6,30.6 655.1,31.1 655.5,31.6 656.0,32.1 656.5,32.5 656.9,33.0 657.4,33.5 657.8,34.0 658.3,34.4 658.7,34.9 659.2,35.3 659.7,35.6 660.1,35.8 660.6,35.8 661.0,35.8 661.5,35.7 661.9,35.5 662.4,35.3 662.9,35.2 663.3,35.0 663.8,34.8 664.2,34.7 664.7,34.5 665.1,34.3 665.6,34.1 666.1,33.9 666.5,33.7 667.0,33.4 667.4,33.1 667.9,32.7 668.4,32.3 668.8,31.9 669.3,31.5 669.7,31.1 670.2,30.7 670.6,30.3 671.1,29.9 671.6,29.5 672.0,29.1 672.5,28.7 672.9,28.4 673.4,28.2 673.8,28.1 674.3,28.2 674.8,28.4 675.2,28.7 675.7,29.0 676.1,29.3 676.6,29.6 677.0,29.8 677.5,30.0" fill="none" stroke="#f28a2e" stroke-width="1.0" stroke-linejoin="round"/><polyline points="494.5,143.3 495.0,141.0 495.4,137.8 495.9,133.6 496.3,128.7 496.8,123.7 497.2,119.1 497.7,115.3 498.2,112.8 498.6,111.6 499.1,111.2 499.5,111.1 500.0,111.0 500.4,110.5 500.9,109.6 501.4,108.0 501.8,105.7 502.3,102.4 502.7,97.8 503.2,92.1 503.6,85.4 504.1,78.4 504.6,71.8 505.0,65.8 505.5,60.8 505.9,56.7 506.4,53.2 506.9,50.4 507.3,48.1 507.8,46.5 508.2,45.4 508.7,44.7 509.1,44.1 509.6,43.7 510.1,43.3 510.5,43.0 511.0,42.9 511.4,43.3 511.9,43.9 512.3,44.6 512.8,45.4 513.3,46.2 513.7,46.9 514.2,47.5 514.6,47.9 515.1,48.3 515.5,48.5 516.0,48.8 516.5,49.0 516.9,49.2 517.4,49.5 517.8,49.7 518.3,50.0 518.7,50.3 519.2,50.7 519.7,51.2 520.1,51.8 520.6,52.5 521.0,53.2 521.5,54.0 522.0,54.7 522.4,55.4 522.9,56.0 523.3,56.6 523.8,57.3 524.2,57.9 524.7,58.5 525.2,59.2 525.6,59.8 526.1,60.5 526.5,61.1 527.0,61.9 527.4,62.7 527.9,63.6 528.4,64.6 528.8,65.7 529.3,66.9 529.7,68.1 530.2,69.3 530.6,70.6 531.1,71.8 531.6,73.0 532.0,74.2 532.5,75.4 532.9,76.6 533.4,77.8 533.8,79.0 534.3,80.1 534.8,81.3 535.2,82.5 535.7,83.7 536.1,84.9 536.6,86.1 537.0,87.3 537.5,88.5 538.0,89.6 538.4,90.8 538.9,91.9 539.3,93.0 539.8,94.0 540.2,94.9 540.7,95.6 541.2,96.2 541.6,96.8 542.1,97.3 542.5,97.9 543.0,98.4 543.5,98.9 543.9,99.4 544.4,100.0 544.8,100.5 545.3,101.0 545.7,101.5 546.2,102.0 546.7,102.4 547.1,102.7 547.6,102.6 548.0,101.9 548.5,100.8 548.9,99.5 549.4,89.1 549.9,88.6 550.3,87.9 550.8,87.3 551.2,86.8 551.7,86.2 552.1,85.7 552.6,85.2 553.1,84.7 553.5,84.2 554.0,83.7 554.4,83.2 554.9,82.7 555.3,82.2 555.8,81.7 556.3,81.2 556.7,80.7 557.2,80.2 557.6,79.7 558.1,79.2 558.5,78.7 559.0,78.2 559.5,77.7 559.9,77.2 560.4,76.7 560.8,76.3 561.3,75.8 561.8,75.3 562.2,74.9 562.7,74.5 563.1,74.1 563.6,73.6 564.0,73.2 564.5,72.8 565.0,72.4 565.4,72.0 565.9,71.5 566.3,71.1 566.8,70.7 567.2,70.3 567.7,69.9 568.2,69.4 568.6,69.0 569.1,68.6 569.5,68.2 570.0,67.8 570.4,67.3 570.9,66.9 571.4,66.5 571.8,66.1 572.3,65.7 572.7,65.3 573.2,64.9 573.6,64.5 574.1,64.1 574.6,63.7 575.0,63.3 575.5,62.8 575.9,62.4 576.4,62.0 576.9,61.6 577.3,61.2 577.8,60.8 578.2,60.4 578.7,60.0 579.1,59.6 579.6,59.2 580.1,58.8 580.5,58.4 581.0,58.1 581.4,57.9 581.9,58.0 582.3,58.3 582.8,58.9 583.3,59.7 583.7,60.7 584.2,61.8 584.6,62.9 585.1,64.2 585.5,65.5 586.0,67.0 586.5,68.7 586.9,70.3 587.4,71.9 587.8,73.0 588.3,73.6 588.7,73.6 589.2,73.1 589.7,72.3 590.1,71.3 590.6,70.3 591.0,69.3 591.5,68.3 591.9,67.2 592.4,66.2 592.9,65.1 593.3,64.1 593.8,63.1 594.2,62.0 594.7,61.0 595.1,60.0 595.6,59.0 596.1,58.1 596.5,57.4 597.0,56.7 597.4,56.2 597.9,55.7 598.4,55.2 598.8,54.8 599.3,54.4 599.7,54.0 600.2,53.6 600.6,53.1 601.1,52.7 601.6,52.3 602.0,51.9 602.5,51.5 602.9,51.1 603.4,50.6 603.8,50.2 604.3,49.8 604.8,49.4 605.2,49.0 605.7,48.6 606.1,48.2 606.6,47.9 607.0,47.6 607.5,47.4 608.0,47.2 608.4,47.1 608.9,47.1 609.3,47.0 609.8,47.0 610.2,46.9 610.7,46.8 611.2,46.8 611.6,46.7 612.1,46.7 612.5,46.6 613.0,46.6 613.5,46.5 613.9,46.5 614.4,46.4 614.8,46.4 615.3,46.3 615.7,46.3 616.2,46.2 616.7,46.2 617.1,46.2 617.6,46.2 618.0,46.3 618.5,46.4 618.9,46.5 619.4,46.6 619.9,46.8 620.3,46.9 620.8,47.1 621.2,47.2 621.7,47.4 622.1,47.5 622.6,47.7 623.1,47.8 623.5,47.9 624.0,48.0 624.4,48.0 624.9,47.8 625.3,47.5 625.8,47.1 626.3,46.8 626.7,46.8 627.2,47.3 627.6,48.4 628.1,50.3 628.5,52.9 629.0,56.4 629.5,60.7 629.9,65.9 630.4,71.5 630.8,77.4 631.3,83.3 631.8,88.9 632.2,94.0 632.7,98.2 633.1,101.3 633.6,103.1 634.0,103.7 634.5,103.4 635.0,102.5 635.4,101.3 635.9,99.8 636.3,98.3 636.8,96.8 637.2,95.2 637.7,93.5 638.2,91.7 638.6,89.9 639.1,87.9 639.5,86.0 640.0,83.9 640.4,81.9 640.9,79.8 641.4,77.6 641.8,75.4 642.3,73.1 642.7,70.9 643.2,68.6 643.6,66.4 644.1,64.2 644.6,62.0 645.0,59.9 645.5,57.8 645.9,55.7 646.4,53.7 646.8,51.6 647.3,49.6 647.8,47.7 648.2,45.8 648.7,44.1 649.1,42.4 649.6,40.7 650.0,39.1 650.5,37.5 651.0,36.0 651.4,34.5 651.9,33.2 652.3,32.3 652.8,31.7 653.3,31.5 653.7,31.6 654.2,32.1 654.6,32.7 655.1,33.4 655.5,34.1 656.0,34.8 656.5,35.4 656.9,36.1 657.4,36.8 657.8,37.5 658.3,38.2 658.7,38.9 659.2,39.6 659.7,40.2 660.1,40.7 660.6,41.2 661.0,41.7 661.5,42.1 661.9,42.5 662.4,42.8 662.9,43.2 663.3,43.6 663.8,44.0 664.2,44.4 664.7,44.8 665.1,45.1 665.6,45.5 666.1,45.9 666.5,46.2 667.0,46.5 667.4,46.8 667.9,47.1 668.4,47.3 668.8,47.6 669.3,47.8 669.7,48.0 670.2,48.3 670.6,48.5 671.1,48.7 671.6,49.0 672.0,49.2 672.5,49.5 672.9,49.8 673.4,50.1 673.8,50.5 674.3,50.9 674.8,51.4 675.2,52.0 675.7,52.5 676.1,53.1 676.6,53.6 677.0,54.0 677.5,54.3" fill="none" stroke="#2c6e2c" stroke-width="1.0" stroke-linejoin="round"/><polyline points="494.5,129.4 495.0,127.9 495.4,125.6 495.9,122.5 496.3,118.9 496.8,115.1 497.2,111.5 497.7,108.6 498.2,106.8 498.6,105.8 499.1,105.4 499.5,105.1 500.0,104.6 500.4,103.8 500.9,102.7 501.4,101.3 501.8,99.3 502.3,96.9 502.7,94.1 503.2,90.8 503.6,87.2 504.1,83.4 504.6,79.6 505.0,76.0 505.5,72.8 505.9,70.1 506.4,67.9 506.9,66.3 507.3,64.9 507.8,63.8 508.2,63.0 508.7,62.3 509.1,61.9 509.6,61.5 510.1,61.2 510.5,61.0 511.0,60.9 511.4,61.2 511.9,61.5 512.3,62.0 512.8,62.5 513.3,63.0 513.7,63.5 514.2,63.9 514.6,64.2 515.1,64.5 515.5,64.7 516.0,64.8 516.5,65.0 516.9,65.2 517.4,65.3 517.8,65.5 518.3,65.7 518.7,65.9 519.2,66.2 519.7,66.5 520.1,66.9 520.6,67.3 521.0,67.8 521.5,68.2 522.0,68.7 522.4,69.1 522.9,69.5 523.3,69.8 523.8,70.2 524.2,70.6 524.7,71.0 525.2,71.4 525.6,71.7 526.1,72.1 526.5,72.5 527.0,73.0 527.4,73.5 527.9,74.0 528.4,74.7 528.8,75.4 529.3,76.1 529.7,76.9 530.2,77.7 530.6,78.5 531.1,79.3 531.6,80.1 532.0,80.9 532.5,81.7 532.9,82.5 533.4,83.3 533.8,84.1 534.3,84.9 534.8,85.6 535.2,86.4 535.7,87.2 536.1,88.0 536.6,88.8 537.0,89.6 537.5,90.4 538.0,91.2 538.4,92.0 538.9,92.7 539.3,93.5 539.8,94.1 540.2,94.7 540.7,95.2 541.2,95.6 541.6,96.0 542.1,96.3 542.5,96.7 543.0,97.0 543.5,97.4 543.9,97.7 544.4,98.1 544.8,98.5 545.3,98.8 545.7,99.2 546.2,99.5 546.7,99.8 547.1,99.9 547.6,99.9 548.0,99.5 548.5,98.7 548.9,97.8 549.4,91.0 549.9,90.7 550.3,90.2 550.8,89.8 551.2,89.4 551.7,89.1 552.1,88.7 552.6,88.4 553.1,88.0 553.5,87.7 554.0,87.4 554.4,87.0 554.9,86.7 555.3,86.3 555.8,86.0 556.3,85.7 556.7,85.3 557.2,85.0 557.6,84.6 558.1,84.3 558.5,83.9 559.0,83.6 559.5,83.3 559.9,82.9 560.4,82.6 560.8,82.3 561.3,81.9 561.8,81.6 562.2,81.4 562.7,81.1 563.1,80.8 563.6,80.5 564.0,80.2 564.5,79.9 565.0,79.7 565.4,79.4 565.9,79.1 566.3,78.8 566.8,78.5 567.2,78.3 567.7,78.0 568.2,77.7 568.6,77.4 569.1,77.1 569.5,76.8 570.0,76.6 570.4,76.3 570.9,76.0 571.4,75.7 571.8,75.5 572.3,75.2 572.7,74.9 573.2,74.6 573.6,74.4 574.1,74.1 574.6,73.8 575.0,73.6 575.5,73.3 575.9,73.0 576.4,72.7 576.9,72.5 577.3,72.2 577.8,71.9 578.2,71.7 578.7,71.4 579.1,71.1 579.6,70.9 580.1,70.6 580.5,70.3 581.0,70.1 581.4,69.9 581.9,69.8 582.3,69.7 582.8,69.8 583.3,69.9 583.7,70.1 584.2,70.4 584.6,70.6 585.1,71.0 585.5,71.4 586.0,71.9 586.5,72.5 586.9,73.1 587.4,73.7 587.8,74.2 588.3,74.3 588.7,74.1 589.2,73.7 589.7,73.2 590.1,72.5 590.6,71.8 591.0,71.1 591.5,70.4 591.9,69.8 592.4,69.1 592.9,68.4 593.3,67.7 593.8,67.0 594.2,66.3 594.7,65.6 595.1,64.9 595.6,64.3 596.1,63.7 596.5,63.2 597.0,62.7 597.4,62.4 597.9,62.0 598.4,61.7 598.8,61.5 599.3,61.2 599.7,60.9 600.2,60.6 600.6,60.3 601.1,60.1 601.6,59.8 602.0,59.5 602.5,59.2 602.9,59.0 603.4,58.7 603.8,58.4 604.3,58.1 604.8,57.8 605.2,57.6 605.7,57.3 606.1,57.0 606.6,56.8 607.0,56.5 607.5,56.3 608.0,56.1 608.4,55.9 608.9,55.7 609.3,55.5 609.8,55.3 610.2,55.1 610.7,55.0 611.2,54.8 611.6,54.6 612.1,54.4 612.5,54.2 613.0,54.0 613.5,53.8 613.9,53.7 614.4,53.5 614.8,53.3 615.3,53.1 615.7,52.9 616.2,52.7 616.7,52.6 617.1,52.4 617.6,52.2 618.0,52.1 618.5,51.9 618.9,51.8 619.4,51.7 619.9,51.6 620.3,51.4 620.8,51.3 621.2,51.2 621.7,51.1 622.1,50.9 622.6,50.8 623.1,50.7 623.5,50.6 624.0,50.4 624.4,50.3 624.9,50.1 625.3,50.0 625.8,49.8 626.3,49.6 626.7,49.4 627.2,49.3 627.6,49.4 628.1,49.6 628.5,50.2 629.0,51.3 629.5,52.8 629.9,54.7 630.4,57.0 630.8,59.3 631.3,61.8 631.8,64.1 632.2,66.4 632.7,68.5 633.1,70.3 633.6,71.7 634.0,72.4 634.5,72.5 635.0,72.0 635.4,71.1 635.9,70.0 636.3,68.7 636.8,67.3 637.2,66.0 637.7,64.6 638.2,63.2 638.6,61.8 639.1,60.4 639.5,59.1 640.0,57.7 640.4,56.3 640.9,54.9 641.4,53.5 641.8,52.2 642.3,50.9 642.7,49.6 643.2,48.5 643.6,47.4 644.1,46.3 644.6,45.3 645.0,44.3 645.5,43.3 645.9,42.3 646.4,41.4 646.8,40.4 647.3,39.4 647.8,38.4 648.2,37.4 648.7,36.4 649.1,35.4 649.6,34.4 650.0,33.5 650.5,32.7 651.0,31.9 651.4,31.2 651.9,30.6 652.3,30.2 652.8,29.9 653.3,29.8 653.7,29.9 654.2,30.2 654.6,30.6 655.1,31.0 655.5,31.4 656.0,31.9 656.5,32.3 656.9,32.7 657.4,33.1 657.8,33.3 658.3,33.5 658.7,33.7 659.2,33.7 659.7,33.8 660.1,33.8 660.6,33.9 661.0,33.9 661.5,33.9 661.9,34.0 662.4,34.0 662.9,34.1 663.3,34.1 663.8,34.2 664.2,34.2 664.7,34.2 665.1,34.3 665.6,34.3 666.1,34.3 666.5,34.3 667.0,34.2 667.4,34.0 667.9,33.9 668.4,33.7 668.8,33.5 669.3,33.3 669.7,33.1 670.2,32.8 670.6,32.6 671.1,32.4 671.6,32.2 672.0,32.0 672.5,31.8 672.9,31.6 673.4,31.4 673.8,31.2 674.3,31.0 674.8,30.9 675.2,30.7 675.7,30.6 676.1,30.4 676.6,30.3 677.0,30.2 677.5,30.1" fill="none" stroke="#fcd04a" stroke-width="1.0" stroke-linejoin="round"/><polyline points="494.5,134.5 495.0,132.3 495.4,129.4 495.9,125.9 496.3,122.1 496.8,118.2 497.2,114.6 497.7,111.5 498.2,109.1 498.6,107.4 499.1,106.2 499.5,105.3 500.0,104.5 500.4,103.6 500.9,102.7 501.4,101.5 501.8,100.1 502.3,98.3 502.7,96.0 503.2,93.0 503.6,89.3 504.1,84.7 504.6,79.3 505.0,73.0 505.5,66.1 505.9,58.8 506.4,51.5 506.9,44.7 507.3,38.6 507.8,33.5 508.2,29.4 508.7,26.4 509.1,24.1 509.6,22.5 510.1,21.4 510.5,20.6 511.0,20.2 511.4,19.9 511.9,20.1 512.3,20.4 512.8,20.9 513.3,21.5 513.7,22.1 514.2,22.9 514.6,23.6 515.1,24.3 515.5,25.1 516.0,25.9 516.5,26.6 516.9,27.4 517.4,28.1 517.8,28.9 518.3,29.6 518.7,30.4 519.2,31.1 519.7,31.9 520.1,32.7 520.6,33.4 521.0,34.2 521.5,35.0 522.0,35.9 522.4,36.6 522.9,37.4 523.3,38.2 523.8,38.9 524.2,39.7 524.7,40.5 525.2,41.2 525.6,42.0 526.1,42.7 526.5,43.5 527.0,44.2 527.4,45.0 527.9,45.7 528.4,46.5 528.8,47.3 529.3,48.0 529.7,48.8 530.2,49.6 530.6,50.4 531.1,51.2 531.6,52.0 532.0,52.9 532.5,53.7 532.9,54.6 533.4,55.4 533.8,56.4 534.3,57.4 534.8,58.4 535.2,59.6 535.7,60.7 536.1,61.8 536.6,63.0 537.0,64.2 537.5,65.3 538.0,66.5 538.4,67.6 538.9,68.7 539.3,69.8 539.8,70.8 540.2,71.8 540.7,72.8 541.2,73.7 541.6,74.7 542.1,75.6 542.5,76.6 543.0,77.5 543.5,78.4 543.9,79.3 544.4,80.1 544.8,80.8 545.3,81.4 545.7,82.0 546.2,82.5 546.7,83.1 547.1,83.6 547.6,84.0 548.0,84.4 548.5,84.7 548.9,84.8 549.4,74.8 549.9,74.3 550.3,73.8 550.8,73.3 551.2,72.9 551.7,72.6 552.1,72.3 552.6,72.0 553.1,71.8 553.5,71.5 554.0,71.3 554.4,71.1 554.9,70.8 555.3,70.6 555.8,70.4 556.3,70.3 556.7,70.1 557.2,69.9 557.6,69.7 558.1,69.5 558.5,69.3 559.0,69.1 559.5,68.8 559.9,68.6 560.4,68.4 560.8,68.2 561.3,67.9 561.8,67.7 562.2,67.5 562.7,67.2 563.1,67.0 563.6,66.7 564.0,66.5 564.5,66.2 565.0,66.0 565.4,65.8 565.9,65.5 566.3,65.3 566.8,65.0 567.2,64.8 567.7,64.6 568.2,64.3 568.6,64.1 569.1,63.8 569.5,63.6 570.0,63.3 570.4,63.1 570.9,62.8 571.4,62.6 571.8,62.3 572.3,61.9 572.7,61.6 573.2,61.2 573.6,60.9 574.1,60.5 574.6,60.1 575.0,59.8 575.5,59.4 575.9,59.0 576.4,58.7 576.9,58.3 577.3,58.0 577.8,57.6 578.2,57.2 578.7,56.9 579.1,56.5 579.6,56.1 580.1,55.8 580.5,55.5 581.0,55.2 581.4,55.1 581.9,55.2 582.3,55.6 582.8,56.4 583.3,57.4 583.7,58.7 584.2,60.0 584.6,61.4 585.1,63.0 585.5,64.9 586.0,67.1 586.5,69.8 586.9,72.6 587.4,75.4 587.8,77.8 588.3,79.5 588.7,80.4 589.2,80.8 589.7,80.8 590.1,80.6 590.6,80.3 591.0,79.9 591.5,79.5 591.9,79.0 592.4,78.2 592.9,77.4 593.3,76.4 593.8,75.2 594.2,74.1 594.7,72.9 595.1,71.7 595.6,70.5 596.1,69.3 596.5,68.2 597.0,67.0 597.4,65.8 597.9,64.7 598.4,63.7 598.8,62.8 599.3,61.9 599.7,61.2 600.2,60.6 600.6,59.9 601.1,59.3 601.6,58.7 602.0,58.1 602.5,57.5 602.9,56.9 603.4,56.3 603.8,55.7 604.3,55.1 604.8,54.5 605.2,53.9 605.7,53.3 606.1,52.8 606.6,52.3 607.0,51.9 607.5,51.7 608.0,51.5 608.4,51.5 608.9,51.4 609.3,51.4 609.8,51.4 610.2,51.4 610.7,51.4 611.2,51.4 611.6,51.4 612.1,51.4 612.5,51.4 613.0,51.4 613.5,51.4 613.9,51.4 614.4,51.4 614.8,51.4 615.3,51.4 615.7,51.4 616.2,51.5 616.7,51.5 617.1,51.6 617.6,51.9 618.0,52.2 618.5,52.6 618.9,53.1 619.4,53.7 619.9,54.3 620.3,54.8 620.8,55.3 621.2,55.8 621.7,56.2 622.1,56.4 622.6,56.4 623.1,56.3 623.5,56.2 624.0,56.0 624.4,55.9 624.9,55.9 625.3,56.1 625.8,56.3 626.3,56.7 626.7,57.2 627.2,57.9 627.6,59.2 628.1,61.0 628.5,63.7 629.0,67.6 629.5,72.7 629.9,79.0 630.4,86.5 630.8,94.7 631.3,103.0 631.8,110.8 632.2,117.4 632.7,122.2 633.1,125.1 633.6,126.4 634.0,125.7 634.5,124.3 635.0,122.6 635.4,120.7 635.9,118.8 636.3,117.0 636.8,115.1 637.2,113.2 637.7,111.3 638.2,109.3 638.6,107.4 639.1,105.4 639.5,103.3 640.0,101.0 640.4,99.0 640.9,96.8 641.4,94.5 641.8,92.2 642.3,89.8 642.7,87.6 643.2,85.3 643.6,83.1 644.1,80.9 644.6,78.8 645.0,76.6 645.5,74.5 645.9,72.4 646.4,70.3 646.8,68.4 647.3,66.7 647.8,65.0 648.2,63.5 648.7,61.8 649.1,60.2 649.6,58.6 650.0,57.0 650.5,55.5 651.0,54.0 651.4,52.5 651.9,51.3 652.3,50.2 652.8,49.5 653.3,49.1 653.7,49.1 654.2,49.4 654.6,49.9 655.1,50.9 655.5,51.9 656.0,52.9 656.5,53.9 656.9,54.9 657.4,55.9 657.8,56.9 658.3,57.9 658.7,58.9 659.2,59.9 659.7,60.8 660.1,61.6 660.6,62.4 661.0,63.1 661.5,63.7 661.9,64.4 662.4,65.0 662.9,65.6 663.3,66.2 663.8,66.8 664.2,67.4 664.7,68.0 665.1,68.6 665.6,69.2 666.1,69.8 666.5,70.4 667.0,71.0 667.4,71.6 667.9,72.2 668.4,72.8 668.8,73.4 669.3,74.0 669.7,74.5 670.2,75.1 670.6,75.7 671.1,76.3 671.6,76.8 672.0,77.4 672.5,78.0 672.9,78.5 673.4,79.1 673.8,79.7 674.3,80.2 674.8,80.8 675.2,81.3 675.7,81.9 676.1,82.4 676.6,82.9 677.0,83.4 677.5,83.8" fill="none" stroke="#48a038" stroke-width="1.0" stroke-linejoin="round"/><polyline points="494.5,132.3 495.0,131.6 495.4,130.5 495.9,128.7 496.3,126.2 496.8,123.0 497.2,119.5 497.7,115.7 498.2,112.3 498.6,109.6 499.1,107.8 499.5,106.8 500.0,106.3 500.4,105.8 500.9,105.1 501.4,104.2 501.8,103.2 502.3,102.2 502.7,101.1 503.2,99.8 503.6,98.3 504.1,96.2 504.6,93.6 505.0,90.1 505.5,86.0 505.9,81.3 506.4,76.5 506.9,71.8 507.3,67.6 507.8,64.1 508.2,61.3 508.7,59.1 509.1,57.6 509.6,56.5 510.1,55.8 510.5,55.3 511.0,55.1 511.4,55.0 511.9,55.1 512.3,55.3 512.8,55.6 513.3,55.9 513.7,56.3 514.2,56.7 514.6,57.1 515.1,57.5 515.5,57.9 516.0,58.4 516.5,58.8 516.9,59.2 517.4,59.7 517.8,60.1 518.3,60.6 518.7,61.1 519.2,61.6 519.7,62.1 520.1,62.5 520.6,63.0 521.0,63.5 521.5,64.1 522.0,64.6 522.4,65.1 522.9,65.6 523.3,66.1 523.8,66.6 524.2,67.1 524.7,67.6 525.2,68.1 525.6,68.6 526.1,69.1 526.5,69.6 527.0,70.2 527.4,70.7 527.9,71.2 528.4,71.7 528.8,72.3 529.3,72.8 529.7,73.4 530.2,74.0 530.6,74.7 531.1,75.3 531.6,75.9 532.0,76.6 532.5,77.3 532.9,77.9 533.4,78.6 533.8,79.3 534.3,80.1 534.8,80.9 535.2,81.7 535.7,82.6 536.1,83.4 536.6,84.3 537.0,85.2 537.5,86.0 538.0,86.9 538.4,87.7 538.9,88.5 539.3,89.2 539.8,89.9 540.2,90.6 540.7,91.2 541.2,91.8 541.6,92.3 542.1,92.9 542.5,93.5 543.0,94.1 543.5,94.6 543.9,95.1 544.4,95.6 544.8,96.0 545.3,96.3 545.7,96.7 546.2,97.0 546.7,97.2 547.1,97.5 547.6,97.7 548.0,97.9 548.5,98.0 548.9,98.1 549.4,91.9 549.9,91.6 550.3,91.4 550.8,91.2 551.2,91.0 551.7,90.9 552.1,90.8 552.6,90.7 553.1,90.6 553.5,90.4 554.0,90.2 554.4,89.9 554.9,89.6 555.3,89.2 555.8,88.8 556.3,88.3 556.7,87.9 557.2,87.5 557.6,87.0 558.1,86.5 558.5,86.0 559.0,85.5 559.5,84.9 559.9,84.3 560.4,83.7 560.8,83.2 561.3,82.7 561.8,82.3 562.2,82.0 562.7,81.7 563.1,81.4 563.6,81.2 564.0,80.9 564.5,80.7 565.0,80.4 565.4,80.1 565.9,79.9 566.3,79.6 566.8,79.4 567.2,79.1 567.7,78.9 568.2,78.6 568.6,78.3 569.1,78.1 569.5,77.8 570.0,77.6 570.4,77.3 570.9,77.0 571.4,76.8 571.8,76.5 572.3,76.1 572.7,75.8 573.2,75.5 573.6,75.2 574.1,74.8 574.6,74.5 575.0,74.2 575.5,73.8 575.9,73.5 576.4,73.2 576.9,72.8 577.3,72.5 577.8,72.2 578.2,71.8 578.7,71.5 579.1,71.1 579.6,70.8 580.1,70.5 580.5,70.1 581.0,69.8 581.4,69.5 581.9,69.2 582.3,68.9 582.8,68.6 583.3,68.3 583.7,68.0 584.2,67.8 584.6,67.6 585.1,67.5 585.5,67.7 586.0,68.2 586.5,69.1 586.9,70.2 587.4,71.3 587.8,72.2 588.3,72.7 588.7,72.7 589.2,72.3 589.7,71.7 590.1,70.9 590.6,70.1 591.0,69.2 591.5,68.4 591.9,67.5 592.4,66.7 592.9,65.8 593.3,65.0 593.8,64.2 594.2,63.3 594.7,62.5 595.1,61.6 595.6,60.8 596.1,59.9 596.5,59.1 597.0,58.3 597.4,57.4 597.9,56.7 598.4,56.0 598.8,55.3 599.3,54.8 599.7,54.4 600.2,54.0 600.6,53.7 601.1,53.4 601.6,53.1 602.0,52.7 602.5,52.4 602.9,52.1 603.4,51.8 603.8,51.4 604.3,51.1 604.8,50.8 605.2,50.5 605.7,50.2 606.1,49.9 606.6,49.6 607.0,49.4 607.5,49.2 608.0,49.1 608.4,48.9 608.9,48.9 609.3,48.8 609.8,48.7 610.2,48.6 610.7,48.5 611.2,48.4 611.6,48.4 612.1,48.3 612.5,48.2 613.0,48.1 613.5,48.0 613.9,48.0 614.4,47.9 614.8,47.8 615.3,47.7 615.7,47.6 616.2,47.6 616.7,47.5 617.1,47.5 617.6,47.5 618.0,47.6 618.5,47.8 618.9,47.9 619.4,48.1 619.9,48.3 620.3,48.5 620.8,48.7 621.2,48.8 621.7,48.8 622.1,48.7 622.6,48.4 623.1,48.0 623.5,47.5 624.0,47.0 624.4,46.5 624.9,46.0 625.3,45.7 625.8,45.4 626.3,45.3 626.7,45.4 627.2,45.7 627.6,46.2 628.1,46.8 628.5,47.7 629.0,49.0 629.5,50.9 629.9,53.4 630.4,56.6 630.8,60.4 631.3,64.4 631.8,68.6 632.2,72.5 632.7,76.1 633.1,79.3 633.6,81.7 634.0,83.3 634.5,84.1 635.0,83.9 635.4,83.0 635.9,81.7 636.3,80.0 636.8,78.2 637.2,76.4 637.7,74.5 638.2,72.6 638.6,70.7 639.1,68.9 639.5,67.0 640.0,65.2 640.4,63.4 640.9,61.6 641.4,60.0 641.8,58.5 642.3,57.2 642.7,55.9 643.2,54.7 643.6,53.5 644.1,52.4 644.6,51.2 645.0,50.1 645.5,48.9 645.9,47.8 646.4,46.6 646.8,45.4 647.3,44.2 647.8,43.0 648.2,41.8 648.7,40.5 649.1,39.3 649.6,38.0 650.0,36.8 650.5,35.6 651.0,34.4 651.4,33.4 651.9,32.4 652.3,31.7 652.8,31.2 653.3,31.0 653.7,31.0 654.2,31.3 654.6,31.7 655.1,32.2 655.5,32.6 656.0,33.1 656.5,33.6 656.9,34.1 657.4,34.6 657.8,35.1 658.3,35.6 658.7,36.1 659.2,36.5 659.7,36.9 660.1,37.2 660.6,37.4 661.0,37.5 661.5,37.5 661.9,37.5 662.4,37.5 662.9,37.5 663.3,37.5 663.8,37.5 664.2,37.5 664.7,37.5 665.1,37.5 665.6,37.5 666.1,37.6 666.5,37.6 667.0,37.7 667.4,37.8 667.9,37.9 668.4,38.0 668.8,38.2 669.3,38.3 669.7,38.5 670.2,38.6 670.6,38.8 671.1,38.9 671.6,39.1 672.0,39.2 672.5,39.4 672.9,39.5 673.4,39.7 673.8,40.0 674.3,40.3 674.8,40.6 675.2,40.9 675.7,41.3 676.1,41.6 676.6,41.9 677.0,42.2 677.5,42.4" fill="none" stroke="#86c440" stroke-width="1.0" stroke-linejoin="round"/><polyline points="494.5,129.8 495.0,124.5 495.4,118.9 495.9,113.7 496.3,109.5 496.8,106.4 497.2,104.3 497.7,102.9 498.2,102.1 498.6,101.7 499.1,101.6 499.5,101.8 500.0,102.2 500.4,102.6 500.9,103.0 501.4,103.1 501.8,102.8 502.3,101.8 502.7,99.9 503.2,97.2 503.6,93.5 504.1,88.9 504.6,83.6 505.0,77.9 505.5,72.1 505.9,66.4 506.4,60.9 506.9,55.8 507.3,51.2 507.8,47.3 508.2,44.0 508.7,41.2 509.1,39.0 509.6,37.1 510.1,35.6 510.5,34.4 511.0,33.7 511.4,33.4 511.9,33.3 512.3,33.5 512.8,34.0 513.3,34.6 513.7,35.3 514.2,36.1 514.6,37.0 515.1,37.9 515.5,38.8 516.0,39.6 516.5,40.4 516.9,41.2 517.4,41.8 517.8,42.4 518.3,42.9 518.7,43.5 519.2,44.0 519.7,44.5 520.1,45.0 520.6,45.5 521.0,46.0 521.5,46.6 522.0,47.1 522.4,47.6 522.9,48.2 523.3,48.7 523.8,49.3 524.2,49.8 524.7,50.4 525.2,51.0 525.6,51.6 526.1,52.3 526.5,53.0 527.0,53.7 527.4,54.5 527.9,55.2 528.4,56.0 528.8,56.8 529.3,57.7 529.7,58.7 530.2,59.8 530.6,60.9 531.1,62.2 531.6,63.4 532.0,64.7 532.5,65.9 532.9,67.2 533.4,68.5 533.8,69.7 534.3,70.9 534.8,72.2 535.2,73.4 535.7,74.6 536.1,75.8 536.6,76.9 537.0,78.1 537.5,79.3 538.0,80.5 538.4,81.7 538.9,82.8 539.3,83.8 539.8,84.8 540.2,85.8 540.7,86.7 541.2,87.6 541.6,88.5 542.1,89.4 542.5,90.3 543.0,91.1 543.5,92.0 543.9,92.8 544.4,93.5 544.8,94.1 545.3,94.6 545.7,95.0 546.2,95.4 546.7,95.8 547.1,96.2 547.6,96.5 548.0,96.8 548.5,97.0 548.9,97.1 549.4,87.9 549.9,87.3 550.3,86.6 550.8,86.0 551.2,85.5 551.7,85.0 552.1,84.6 552.6,84.1 553.1,83.7 553.5,83.2 554.0,82.8 554.4,82.3 554.9,81.8 555.3,81.3 555.8,80.7 556.3,80.2 556.7,79.6 557.2,79.1 557.6,78.5 558.1,78.0 558.5,77.4 559.0,76.9 559.5,76.3 559.9,75.8 560.4,75.3 560.8,74.8 561.3,74.3 561.8,73.9 562.2,73.5 562.7,73.1 563.1,72.8 563.6,72.4 564.0,72.0 564.5,71.7 565.0,71.3 565.4,70.9 565.9,70.6 566.3,70.2 566.8,69.9 567.2,69.5 567.7,69.1 568.2,68.8 568.6,68.4 569.1,68.0 569.5,67.7 570.0,67.3 570.4,67.0 570.9,66.6 571.4,66.2 571.8,65.9 572.3,65.5 572.7,65.2 573.2,64.8 573.6,64.5 574.1,64.1 574.6,63.8 575.0,63.4 575.5,63.1 575.9,62.7 576.4,62.4 576.9,62.0 577.3,61.7 577.8,61.3 578.2,61.0 578.7,60.6 579.1,60.3 579.6,59.9 580.1,59.6 580.5,59.3 581.0,59.0 581.4,58.7 581.9,58.6 582.3,58.6 582.8,58.8 583.3,59.1 583.7,59.5 584.2,59.9 584.6,60.5 585.1,61.3 585.5,62.5 586.0,64.3 586.5,66.7 586.9,69.5 587.4,72.4 587.8,74.9 588.3,76.6 588.7,77.4 589.2,77.6 589.7,77.4 590.1,76.9 590.6,76.3 591.0,75.7 591.5,75.0 591.9,74.2 592.4,73.3 592.9,72.2 593.3,70.9 593.8,69.6 594.2,68.3 594.7,66.9 595.1,65.5 595.6,64.1 596.1,62.8 596.5,61.4 597.0,60.0 597.4,58.7 597.9,57.5 598.4,56.4 598.8,55.4 599.3,54.7 599.7,54.1 600.2,53.6 600.6,53.2 601.1,52.8 601.6,52.4 602.0,52.1 602.5,51.7 602.9,51.3 603.4,50.9 603.8,50.5 604.3,50.1 604.8,49.8 605.2,49.4 605.7,49.0 606.1,48.6 606.6,48.3 607.0,48.0 607.5,47.7 608.0,47.5 608.4,47.3 608.9,47.1 609.3,47.0 609.8,46.8 610.2,46.6 610.7,46.5 611.2,46.3 611.6,46.1 612.1,45.9 612.5,45.8 613.0,45.6 613.5,45.4 613.9,45.3 614.4,45.1 614.8,44.9 615.3,44.8 615.7,44.6 616.2,44.4 616.7,44.3 617.1,44.2 617.6,44.1 618.0,44.1 618.5,44.2 618.9,44.2 619.4,44.3 619.9,44.4 620.3,44.6 620.8,44.7 621.2,44.8 621.7,44.9 622.1,45.0 622.6,45.1 623.1,45.1 623.5,45.1 624.0,44.9 624.4,44.5 624.9,44.1 625.3,43.5 625.8,43.0 626.3,42.5 626.7,42.3 627.2,42.3 627.6,42.8 628.1,43.8 628.5,45.5 629.0,48.4 629.5,52.7 629.9,58.8 630.4,66.6 630.8,75.5 631.3,84.7 631.8,93.3 632.2,101.0 632.7,107.6 633.1,113.2 633.6,117.5 634.0,120.3 634.5,121.7 635.0,121.8 635.4,121.0 635.9,119.7 636.3,118.1 636.8,116.3 637.2,114.6 637.7,112.8 638.2,111.0 638.6,109.2 639.1,107.3 639.5,105.3 640.0,103.2 640.4,100.8 640.9,98.2 641.4,95.4 641.8,92.5 642.3,89.6 642.7,86.6 643.2,83.7 643.6,80.7 644.1,77.8 644.6,74.8 645.0,71.9 645.5,69.0 645.9,66.2 646.4,63.7 646.8,61.4 647.3,59.5 647.8,57.8 648.2,56.4 648.7,55.0 649.1,53.7 649.6,52.4 650.0,51.1 650.5,49.7 651.0,48.1 651.4,46.4 651.9,44.5 652.3,42.6 652.8,41.0 653.3,39.9 653.7,39.4 654.2,39.5 654.6,39.9 655.1,40.5 655.5,41.2 656.0,41.9 656.5,42.6 656.9,43.3 657.4,44.0 657.8,44.7 658.3,45.4 658.7,46.1 659.2,46.8 659.7,47.4 660.1,47.9 660.6,48.4 661.0,48.9 661.5,49.3 661.9,49.7 662.4,50.1 662.9,50.5 663.3,50.9 663.8,51.2 664.2,51.6 664.7,52.0 665.1,52.4 665.6,52.8 666.1,53.2 666.5,53.7 667.0,54.2 667.4,54.7 667.9,55.3 668.4,55.8 668.8,56.4 669.3,57.0 669.7,57.7 670.2,58.3 670.6,58.9 671.1,59.5 671.6,60.1 672.0,60.7 672.5,61.3 672.9,62.0 673.4,62.7 673.8,63.5 674.3,64.4 674.8,65.4 675.2,66.4 675.7,67.5 676.1,68.5 676.6,69.5 677.0,70.3 677.5,70.9" fill="none" stroke="#74554a" stroke-width="1.0" stroke-linejoin="round"/><polyline points="494.5,101.0 495.0,99.8 495.4,98.3 495.9,96.8 496.3,95.3 496.8,93.7 497.2,92.1 497.7,90.5 498.2,89.1 498.6,88.0 499.1,87.2 499.5,86.9 500.0,86.9 500.4,87.0 500.9,87.1 501.4,86.9 501.8,86.3 502.3,85.4 502.7,83.9 503.2,82.1 503.6,79.7 504.1,77.0 504.6,73.8 505.0,70.2 505.5,66.2 505.9,61.7 506.4,56.9 506.9,52.1 507.3,47.3 507.8,42.7 508.2,38.6 508.7,35.2 509.1,32.5 509.6,30.5 510.1,29.1 510.5,28.0 511.0,27.1 511.4,26.5 511.9,26.2 512.3,26.0 512.8,26.2 513.3,26.5 513.7,26.9 514.2,27.3 514.6,27.8 515.1,28.2 515.5,28.7 516.0,29.2 516.5,29.7 516.9,30.1 517.4,30.6 517.8,31.1 518.3,31.6 518.7,32.1 519.2,32.6 519.7,33.2 520.1,33.8 520.6,34.5 521.0,35.1 521.5,35.8 522.0,36.5 522.4,37.3 522.9,38.1 523.3,38.9 523.8,39.8 524.2,40.8 524.7,42.0 525.2,43.1 525.6,44.4 526.1,45.6 526.5,46.9 527.0,48.2 527.4,49.4 527.9,50.7 528.4,52.0 528.8,53.3 529.3,54.6 529.7,55.9 530.2,57.2 530.6,58.6 531.1,59.9 531.6,61.2 532.0,62.6 532.5,63.9 532.9,65.2 533.4,66.6 533.8,67.8 534.3,69.1 534.8,70.3 535.2,71.6 535.7,72.7 536.1,73.9 536.6,75.1 537.0,76.3 537.5,77.5 538.0,78.7 538.4,79.8 538.9,80.9 539.3,82.0 539.8,83.1 540.2,84.1 540.7,85.1 541.2,86.0 541.6,87.0 542.1,88.0 542.5,88.9 543.0,89.9 543.5,90.8 543.9,91.7 544.4,92.6 544.8,93.5 545.3,94.3 545.7,95.1 546.2,95.9 546.7,96.6 547.1,97.3 547.6,98.0 548.0,98.5 548.5,98.8 548.9,98.9 549.4,80.1 549.9,79.2 550.3,78.3 550.8,77.6 551.2,77.1 551.7,76.7 552.1,76.5 552.6,76.4 553.1,76.4 553.5,76.3 554.0,76.4 554.4,76.4 554.9,76.4 555.3,76.4 555.8,76.5 556.3,76.5 556.7,76.5 557.2,76.5 557.6,76.6 558.1,76.5 558.5,76.4 559.0,76.2 559.5,76.0 559.9,75.6 560.4,75.2 560.8,74.9 561.3,74.6 561.8,74.4 562.2,74.2 562.7,74.1 563.1,74.1 563.6,74.0 564.0,73.9 564.5,73.9 565.0,73.8 565.4,73.7 565.9,73.7 566.3,73.6 566.8,73.6 567.2,73.5 567.7,73.4 568.2,73.4 568.6,73.3 569.1,73.2 569.5,73.2 570.0,73.1 570.4,73.0 570.9,72.9 571.4,72.8 571.8,72.7 572.3,72.5 572.7,72.3 573.2,72.1 573.6,71.9 574.1,71.6 574.6,71.4 575.0,71.2 575.5,71.0 575.9,70.8 576.4,70.5 576.9,70.3 577.3,70.2 577.8,70.1 578.2,70.1 578.7,70.2 579.1,70.4 579.6,70.6 580.1,70.9 580.5,71.1 581.0,71.4 581.4,71.6 581.9,71.9 582.3,72.1 582.8,72.4 583.3,72.7 583.7,73.0 584.2,73.3 584.6,73.6 585.1,74.1 585.5,74.9 586.0,76.0 586.5,77.5 586.9,79.2 587.4,81.0 587.8,82.5 588.3,83.6 588.7,84.2 589.2,84.4 589.7,84.4 590.1,84.2 590.6,84.0 591.0,83.8 591.5,83.4 591.9,83.0 592.4,82.5 592.9,81.8 593.3,80.9 593.8,80.0 594.2,79.1 594.7,78.1 595.1,77.2 595.6,76.2 596.1,75.3 596.5,74.3 597.0,73.4 597.4,72.4 597.9,71.5 598.4,70.7 598.8,70.1 599.3,69.5 599.7,69.0 600.2,68.6 600.6,68.2 601.1,67.9 601.6,67.5 602.0,67.2 602.5,66.8 602.9,66.5 603.4,66.1 603.8,65.7 604.3,65.4 604.8,65.0 605.2,64.7 605.7,64.3 606.1,64.0 606.6,63.7 607.0,63.4 607.5,63.2 608.0,63.1 608.4,62.9 608.9,62.8 609.3,62.7 609.8,62.6 610.2,62.5 610.7,62.4 611.2,62.3 611.6,62.2 612.1,62.1 612.5,62.0 613.0,61.9 613.5,61.8 613.9,61.7 614.4,61.6 614.8,61.5 615.3,61.4 615.7,61.3 616.2,61.2 616.7,61.1 617.1,60.9 617.6,60.8 618.0,60.6 618.5,60.3 618.9,60.1 619.4,59.8 619.9,59.6 620.3,59.3 620.8,59.0 621.2,58.7 621.7,58.5 622.1,58.2 622.6,57.9 623.1,57.7 623.5,57.4 624.0,57.2 624.4,57.0 624.9,57.0 625.3,57.0 625.8,57.2 626.3,57.5 626.7,57.9 627.2,58.4 627.6,59.3 628.1,60.6 628.5,62.6 629.0,65.4 629.5,69.0 629.9,73.4 630.4,78.4 630.8,84.1 631.3,90.1 631.8,96.2 632.2,102.1 632.7,107.5 633.1,112.2 633.6,116.0 634.0,118.8 634.5,120.3 635.0,120.6 635.4,120.0 635.9,118.8 636.3,117.1 636.8,115.3 637.2,113.4 637.7,111.4 638.2,109.5 638.6,107.5 639.1,105.5 639.5,103.4 640.0,101.0 640.4,98.5 640.9,95.7 641.4,92.8 641.8,89.9 642.3,87.0 642.7,84.2 643.2,81.6 643.6,79.0 644.1,76.6 644.6,74.1 645.0,71.7 645.5,69.3 645.9,66.9 646.4,64.7 646.8,62.6 647.3,60.7 647.8,59.0 648.2,57.4 648.7,55.9 649.1,54.5 649.6,53.1 650.0,51.6 650.5,50.2 651.0,48.7 651.4,47.1 651.9,45.4 652.3,43.7 652.8,42.0 653.3,40.3 653.7,38.9 654.2,37.9 654.6,37.4 655.1,37.4 655.5,37.7 656.0,38.2 656.5,38.8 656.9,39.5 657.4,40.2 657.8,40.8 658.3,41.5 658.7,42.0 659.2,42.5 659.7,42.8 660.1,43.0 660.6,43.0 661.0,42.9 661.5,42.7 661.9,42.6 662.4,42.4 662.9,42.2 663.3,42.1 663.8,41.9 664.2,41.7 664.7,41.5 665.1,41.4 665.6,41.2 666.1,41.1 666.5,40.9 667.0,40.8 667.4,40.7 667.9,40.6 668.4,40.5 668.8,40.4 669.3,40.3 669.7,40.2 670.2,40.1 670.6,40.0 671.1,39.9 671.6,39.8 672.0,39.7 672.5,39.6 672.9,39.7 673.4,39.8 673.8,40.0 674.3,40.3 674.8,40.7 675.2,41.1 675.7,41.5 676.1,41.9 676.6,42.3 677.0,42.7 677.5,42.9" fill="none" stroke="#634238" stroke-width="1.0" stroke-linejoin="round"/><polyline points="494.5,129.3 495.0,128.1 495.4,126.4 495.9,124.3 496.3,122.0 496.8,119.8 497.2,117.7 497.7,115.9 498.2,114.5 498.6,113.6 499.1,113.1 499.5,112.9 500.0,113.0 500.4,113.2 500.9,113.3 501.4,113.1 501.8,112.5 502.3,111.3 502.7,109.5 503.2,107.3 503.6,104.6 504.1,101.5 504.6,98.1 505.0,94.4 505.5,90.4 505.9,86.2 506.4,82.0 506.9,77.6 507.3,73.3 507.8,69.0 508.2,64.7 508.7,60.7 509.1,56.9 509.6,53.7 510.1,51.0 510.5,49.0 511.0,47.6 511.4,46.9 511.9,46.6 512.3,46.6 512.8,46.7 513.3,46.9 513.7,47.2 514.2,47.5 514.6,47.8 515.1,48.2 515.5,48.6 516.0,49.0 516.5,49.4 516.9,49.8 517.4,50.2 517.8,50.6 518.3,51.0 518.7,51.4 519.2,51.8 519.7,52.2 520.1,52.6 520.6,53.0 521.0,53.5 521.5,53.9 522.0,54.4 522.4,55.0 522.9,55.5 523.3,56.1 523.8,56.6 524.2,57.2 524.7,57.7 525.2,58.3 525.6,58.9 526.1,59.4 526.5,60.0 527.0,60.6 527.4,61.2 527.9,61.9 528.4,62.6 528.8,63.4 529.3,64.2 529.7,65.0 530.2,65.8 530.6,66.6 531.1,67.4 531.6,68.3 532.0,69.1 532.5,69.9 532.9,70.7 533.4,71.6 533.8,72.4 534.3,73.3 534.8,74.3 535.2,75.2 535.7,76.2 536.1,77.1 536.6,78.1 537.0,79.1 537.5,80.0 538.0,81.0 538.4,81.9 538.9,82.8 539.3,83.7 539.8,84.6 540.2,85.5 540.7,86.4 541.2,87.2 541.6,88.0 542.1,88.6 542.5,89.2 543.0,89.8 543.5,90.2 543.9,90.7 544.4,91.2 544.8,91.6 545.3,92.0 545.7,92.4 546.2,92.7 546.7,92.8 547.1,92.9 547.6,93.0 548.0,92.9 548.5,92.9 548.9,92.9 549.4,92.6 549.9,92.4 550.3,92.2 550.8,91.9 551.2,91.6 551.7,91.3 552.1,90.9 552.6,90.6 553.1,90.3 553.5,90.0 554.0,89.6 554.4,89.3 554.9,89.0 555.3,88.6 555.8,88.3 556.3,88.0 556.7,87.7 557.2,87.3 557.6,87.0 558.1,86.7 558.5,86.4 559.0,86.1 559.5,85.7 559.9,85.4 560.4,85.1 560.8,84.8 561.3,84.5 561.8,84.2 562.2,83.9 562.7,83.5 563.1,83.2 563.6,82.9 564.0,82.6 564.5,82.3 565.0,82.0 565.4,81.7 565.9,81.4 566.3,81.1 566.8,80.7 567.2,80.4 567.7,80.1 568.2,79.8 568.6,79.5 569.1,79.2 569.5,78.9 570.0,78.6 570.4,78.2 570.9,77.9 571.4,77.6 571.8,77.2 572.3,76.8 572.7,76.3 573.2,75.9 573.6,75.4 574.1,75.0 574.6,74.5 575.0,74.1 575.5,73.6 575.9,73.2 576.4,72.7 576.9,72.3 577.3,71.8 577.8,71.3 578.2,70.9 578.7,70.4 579.1,70.0 579.6,69.5 580.1,69.1 580.5,68.6 581.0,68.2 581.4,67.8 581.9,67.4 582.3,67.1 582.8,66.9 583.3,66.8 583.7,66.8 584.2,67.0 584.6,67.5 585.1,68.1 585.5,68.9 586.0,69.9 586.5,71.0 586.9,72.2 587.4,73.2 587.8,74.0 588.3,74.4 588.7,74.6 589.2,74.4 589.7,74.0 590.1,73.6 590.6,73.1 591.0,72.5 591.5,72.0 591.9,71.4 592.4,70.8 592.9,70.1 593.3,69.3 593.8,68.6 594.2,67.8 594.7,67.0 595.1,66.2 595.6,65.4 596.1,64.6 596.5,63.8 597.0,63.0 597.4,62.3 597.9,61.5 598.4,60.8 598.8,60.2 599.3,59.7 599.7,59.3 600.2,58.9 600.6,58.6 601.1,58.2 601.6,57.9 602.0,57.5 602.5,57.2 602.9,56.8 603.4,56.5 603.8,56.2 604.3,55.8 604.8,55.5 605.2,55.1 605.7,54.8 606.1,54.5 606.6,54.2 607.0,53.9 607.5,53.6 608.0,53.4 608.4,53.2 608.9,53.0 609.3,52.9 609.8,52.7 610.2,52.5 610.7,52.4 611.2,52.2 611.6,52.0 612.1,51.9 612.5,51.7 613.0,51.5 613.5,51.3 613.9,51.2 614.4,51.0 614.8,50.8 615.3,50.7 615.7,50.5 616.2,50.3 616.7,50.2 617.1,50.0 617.6,49.9 618.0,49.8 618.5,49.7 618.9,49.6 619.4,49.5 619.9,49.5 620.3,49.4 620.8,49.3 621.2,49.3 621.7,49.2 622.1,49.1 622.6,49.1 623.1,48.9 623.5,48.8 624.0,48.5 624.4,48.1 624.9,47.6 625.3,47.1 625.8,46.6 626.3,46.1 626.7,45.8 627.2,45.8 627.6,46.0 628.1,46.7 628.5,48.0 629.0,50.1 629.5,53.2 629.9,57.1 630.4,61.6 630.8,66.2 631.3,70.6 631.8,74.7 632.2,78.4 632.7,81.7 633.1,84.3 633.6,86.3 634.0,87.4 634.5,87.8 635.0,87.7 635.4,87.2 635.9,86.5 636.3,85.6 636.8,84.5 637.2,83.1 637.7,81.6 638.2,80.0 638.6,78.4 639.1,76.7 639.5,75.1 640.0,73.4 640.4,71.8 640.9,70.1 641.4,68.5 641.8,66.9 642.3,65.2 642.7,63.6 643.2,62.0 643.6,60.4 644.1,58.8 644.6,57.1 645.0,55.5 645.5,53.9 645.9,52.3 646.4,50.7 646.8,49.1 647.3,47.6 647.8,46.1 648.2,44.7 648.7,43.4 649.1,42.1 649.6,40.9 650.0,39.7 650.5,38.5 651.0,37.3 651.4,36.2 651.9,35.0 652.3,33.9 652.8,32.8 653.3,31.9 653.7,31.2 654.2,30.9 654.6,30.8 655.1,31.0 655.5,31.3 656.0,31.6 656.5,32.0 656.9,32.4 657.4,32.8 657.8,33.2 658.3,33.6 658.7,33.9 659.2,34.3 659.7,34.6 660.1,35.0 660.6,35.3 661.0,35.7 661.5,36.0 661.9,36.3 662.4,36.6 662.9,36.9 663.3,37.1 663.8,37.2 664.2,37.4 664.7,37.5 665.1,37.6 665.6,37.7 666.1,37.9 666.5,38.0 667.0,38.1 667.4,38.2 667.9,38.3 668.4,38.5 668.8,38.6 669.3,38.7 669.7,38.8 670.2,39.0 670.6,39.1 671.1,39.2 671.6,39.4 672.0,39.5 672.5,39.6 672.9,39.8 673.4,40.0 673.8,40.2 674.3,40.5 674.8,41.0 675.2,41.5 675.7,42.2 676.1,42.8 676.6,43.5 677.0,44.0 677.5,44.4" fill="none" stroke="#d4e24a" stroke-width="1.0" stroke-linejoin="round"/></g>
<path d="M494.5,2.5H677.5V150.0H494.5Z" fill="none" stroke="#7c7c7c" stroke-width="1"/>
<text x="491.50" y="5.40" font-size="7.6" fill="#2a2a2a" text-anchor="end">3</text>
<path d="M494.5,23.57h2.5" stroke="#7c7c7c" stroke-width="1"/>
<text x="491.50" y="26.47" font-size="7.6" fill="#2a2a2a" text-anchor="end">2</text>
<path d="M494.5,44.64h2.5" stroke="#7c7c7c" stroke-width="1"/>
<text x="491.50" y="47.54" font-size="7.6" fill="#2a2a2a" text-anchor="end">1</text>
<path d="M494.5,65.71h2.5" stroke="#7c7c7c" stroke-width="1"/>
<text x="491.50" y="68.61" font-size="7.6" fill="#2a2a2a" text-anchor="end">0</text>
<path d="M494.5,86.79h2.5" stroke="#7c7c7c" stroke-width="1"/>
<text x="491.50" y="89.69" font-size="7.6" fill="#2a2a2a" text-anchor="end">−1</text>
<path d="M494.5,107.86h2.5" stroke="#7c7c7c" stroke-width="1"/>
<text x="491.50" y="110.76" font-size="7.6" fill="#2a2a2a" text-anchor="end">−2</text>
<path d="M494.5,128.93h2.5" stroke="#7c7c7c" stroke-width="1"/>
<text x="491.50" y="131.83" font-size="7.6" fill="#2a2a2a" text-anchor="end">−3</text>
<text x="491.50" y="152.90" font-size="7.6" fill="#2a2a2a" text-anchor="end">−4</text>
<text x="494.50" y="158.60" font-size="7.6" fill="#2a2a2a" text-anchor="middle">400</text>
<path d="M531.10,150.0v-2.5" stroke="#7c7c7c" stroke-width="1"/>
<text x="531.10" y="158.60" font-size="7.6" fill="#2a2a2a" text-anchor="middle">800</text>
<path d="M567.70,150.0v-2.5" stroke="#7c7c7c" stroke-width="1"/>
<text x="567.70" y="158.60" font-size="7.6" fill="#2a2a2a" text-anchor="middle">1200</text>
<path d="M604.30,150.0v-2.5" stroke="#7c7c7c" stroke-width="1"/>
<text x="604.30" y="158.60" font-size="7.6" fill="#2a2a2a" text-anchor="middle">1600</text>
<path d="M640.90,150.0v-2.5" stroke="#7c7c7c" stroke-width="1"/>
<text x="640.90" y="158.60" font-size="7.6" fill="#2a2a2a" text-anchor="middle">2000</text>
<text x="677.50" y="158.60" font-size="7.6" fill="#2a2a2a" text-anchor="middle">2400</text>
<text x="586.50" y="170.70" font-size="7.6" fill="#2a2a2a" text-anchor="middle">Wavelength/nm</text>
<text transform="translate(481.5,76.25) rotate(-90)" x="0" y="0" font-size="7.48" fill="#2a2a2a" text-anchor="middle">Hyperspectral reflectance after SNV</text>
<text x="499.8" y="12.3" font-size="7.9" fill="#2a2a2a">(c)</text>
<g><polyline points="35.5,258.7 35.7,238.9 35.9,241.3 36.0,266.5 36.2,263.4 36.4,266.4 36.6,251.5 36.8,259.9 37.0,249.6 37.1,282.5 37.3,239.9 37.5,260.4 37.7,251.2 37.9,260.8 38.1,263.5 38.2,254.1 38.4,250.4 38.6,261.3 38.8,260.8 39.0,252.3 39.2,267.9 39.3,274.0 39.5,255.4 39.7,265.6 39.9,277.1 40.1,266.7 40.3,263.4 40.4,269.8 40.6,272.3 40.8,258.9 41.0,251.6 41.2,261.1 41.4,265.3 41.5,256.1 41.7,253.6 41.9,261.5 42.1,255.1 42.3,251.7 42.5,260.6 42.6,264.5 42.8,257.0 43.0,257.7 43.2,252.9 43.4,266.3 43.6,262.7 43.7,263.5 43.9,267.7 44.1,258.6 44.3,256.8 44.5,262.4 44.6,253.5 44.8,256.0 45.0,256.9 45.2,257.8 45.4,256.0 45.6,263.5 45.7,257.3 45.9,257.4 46.1,264.4 46.3,258.2 46.5,259.9 46.7,257.1 46.8,260.3 47.0,259.2 47.2,258.4 47.4,261.2 47.6,257.9 47.8,259.4 47.9,258.2 48.1,260.2 48.3,257.1 48.5,258.0 48.7,259.5 48.9,258.0 49.0,256.9 49.2,256.0 49.4,261.9 49.6,257.7 49.8,258.4 50.0,259.4 50.1,260.8 50.3,257.3 50.5,261.1 50.7,258.4 50.9,257.3 51.1,261.4 51.2,259.6 51.4,260.9 51.6,258.9 51.8,257.3 52.0,256.7 52.2,261.3 52.3,259.9 52.5,258.4 52.7,257.4 52.9,258.7 53.1,260.0 53.3,258.9 53.4,259.2 53.6,259.4 53.8,259.9 54.0,258.8 54.2,258.9 54.3,259.3 54.5,259.4 54.7,260.4 54.9,259.6 55.1,258.1 55.3,259.4 55.4,260.4 55.6,258.1 55.8,258.8 56.0,257.6 56.2,259.2 56.4,259.5 56.5,260.2 56.7,258.3 56.9,257.5 57.1,259.8 57.3,259.6 57.5,258.8 57.6,259.8 57.8,259.4 58.0,259.4 58.2,259.1 58.4,258.4 58.6,259.2 58.7,258.6 58.9,259.5 59.1,259.0 59.3,260.7 59.5,260.2 59.7,258.6 59.8,259.6 60.0,258.8 60.2,258.8 60.4,258.3 60.6,258.6 60.8,258.5 60.9,259.3 61.1,259.7 61.3,259.7 61.5,259.5 61.7,260.0 61.9,259.6 62.0,259.3 62.2,259.0 62.4,259.4 62.6,260.6 62.8,259.3 63.0,259.0 63.1,258.4 63.3,258.8 63.5,259.7 63.7,259.7 63.9,257.8 64.0,258.7 64.2,257.9 64.4,257.7 64.6,259.8 64.8,258.9 65.0,258.9 65.1,258.8 65.3,258.8 65.5,259.1 65.7,259.1 65.9,260.3 66.1,259.3 66.2,259.7 66.4,259.1 66.6,259.5 66.8,258.8 67.0,258.6 67.2,259.0 67.3,259.0 67.5,259.1 67.7,259.5 67.9,259.3 68.1,259.6 68.3,258.9 68.4,259.2 68.6,258.8 68.8,260.2 69.0,258.6 69.2,259.8 69.4,259.7 69.5,259.3 69.7,259.6 69.9,259.0 70.1,259.6 70.3,260.0 70.5,259.8 70.6,258.2 70.8,259.2 71.0,260.1 71.2,259.2 71.4,260.3 71.6,257.9 71.7,260.3 71.9,258.8 72.1,258.8 72.3,260.3 72.5,259.0 72.6,258.5 72.8,258.9 73.0,259.0 73.2,258.5 73.4,259.1 73.6,259.0 73.7,259.3 73.9,258.7 74.1,259.9 74.3,258.6 74.5,259.6 74.7,260.0 74.8,258.9 75.0,257.9 75.2,258.5 75.4,259.6 75.6,258.7 75.8,259.5 75.9,259.3 76.1,259.1 76.3,260.9 76.5,259.1 76.7,260.0 76.9,259.7 77.0,260.3 77.2,260.3 77.4,259.9 77.6,258.6 77.8,257.9 78.0,259.2 78.1,258.4 78.3,259.4 78.5,260.6 78.7,259.1 78.9,258.9 79.1,259.5 79.2,259.0 79.4,258.8 79.6,259.9 79.8,260.3 80.0,259.4 80.2,259.4 80.3,259.5 80.5,258.4 80.7,257.9 80.9,259.5 81.1,258.7 81.2,258.5 81.4,258.6 81.6,258.3 81.8,259.5 82.0,258.5 82.2,257.3 82.3,258.4 82.5,259.8 82.7,258.6 82.9,257.9 83.1,258.8 83.3,259.8 83.4,257.5 83.6,260.6 83.8,258.6 84.0,259.2 84.2,260.7 84.4,257.6 84.5,258.7 84.7,260.8 84.9,258.4 85.1,259.8 85.3,261.9 85.5,260.2 85.6,258.8 85.8,258.2 86.0,258.9 86.2,259.1 86.4,258.4 86.6,259.6 86.7,256.9 86.9,258.9 87.1,258.6 87.3,258.0 87.5,261.7 87.7,260.9 87.8,255.4 88.0,258.3 88.2,260.0 88.4,258.3 88.6,260.6 88.8,258.4 88.9,261.2 89.1,258.3 89.3,264.3 89.5,254.8 89.7,260.9 89.9,241.9 90.0,259.9 90.2,260.4 90.4,258.7 90.6,262.8 90.8,258.0 90.9,252.4 91.1,262.6 91.3,258.4 91.5,259.9 91.7,258.8 91.9,262.9 92.0,261.4 92.2,258.3 92.4,259.3 92.6,256.5 92.8,260.3 93.0,258.9 93.1,255.8 93.3,260.2 93.5,260.3 93.7,259.2 93.9,259.2 94.1,258.4 94.2,259.1 94.4,259.9 94.6,259.0 94.8,257.3 95.0,258.2 95.2,260.9 95.3,259.3 95.5,259.8 95.7,258.8 95.9,259.3 96.1,258.1 96.3,258.7 96.4,258.7 96.6,259.1 96.8,259.2 97.0,259.0 97.2,258.5 97.4,258.9 97.5,259.4 97.7,258.5 97.9,259.1 98.1,259.2 98.3,259.6 98.5,259.5 98.6,259.6 98.8,260.5 99.0,258.6 99.2,258.9 99.4,259.3 99.5,258.6 99.7,259.0 99.9,259.0 100.1,260.5 100.3,259.3 100.5,258.9 100.6,258.3 100.8,258.2 101.0,258.4 101.2,259.8 101.4,260.4 101.6,258.9 101.7,259.2 101.9,258.7 102.1,259.3 102.3,259.1 102.5,260.0 102.7,259.0 102.8,259.4 103.0,259.0 103.2,258.9 103.4,259.3 103.6,259.0 103.8,259.2 103.9,258.8 104.1,258.9 104.3,259.5 104.5,259.5 104.7,258.2 104.9,259.3 105.0,258.7 105.2,259.0 105.4,259.5 105.6,259.6 105.8,259.1 106.0,259.1 106.1,258.9 106.3,259.9 106.5,259.5 106.7,259.3 106.9,258.3 107.1,260.5 107.2,259.0 107.4,259.5 107.6,259.0 107.8,259.5 108.0,259.0 108.2,258.3 108.3,259.0 108.5,259.0 108.7,259.0 108.9,259.6 109.1,258.9 109.2,259.3 109.4,259.7 109.6,259.2 109.8,259.3 110.0,258.8 110.2,259.2 110.3,259.5 110.5,258.4 110.7,258.7 110.9,258.5 111.1,258.9 111.3,259.3 111.4,259.4 111.6,259.4 111.8,258.7 112.0,259.1 112.2,260.0 112.4,259.2 112.5,260.0 112.7,259.1 112.9,259.9 113.1,259.9 113.3,259.1 113.5,259.2 113.6,260.1 113.8,258.8 114.0,258.0 114.2,260.0 114.4,258.2 114.6,259.6 114.7,259.5 114.9,259.3 115.1,260.0 115.3,258.5 115.5,258.9 115.7,259.6 115.8,259.4 116.0,260.0 116.2,259.4 116.4,258.7 116.6,260.2 116.8,259.4 116.9,259.1 117.1,258.6 117.3,258.5 117.5,259.5 117.7,259.6 117.9,259.0 118.0,259.4 118.2,259.4 118.4,258.6 118.6,258.3 118.8,259.1 118.9,259.3 119.1,258.9 119.3,260.2 119.5,259.2 119.7,259.8 119.9,257.9 120.0,258.8 120.2,259.1 120.4,259.3 120.6,260.5 120.8,258.8 121.0,258.3 121.1,259.6 121.3,258.8 121.5,258.8 121.7,260.1 121.9,258.7 122.1,258.4 122.2,259.1 122.4,259.2 122.6,258.8 122.8,260.1 123.0,259.1 123.2,258.6 123.3,259.9 123.5,258.6 123.7,259.4 123.9,260.4 124.1,259.3 124.3,259.7 124.4,259.0 124.6,259.8 124.8,258.6 125.0,259.6 125.2,259.0 125.4,259.5 125.5,259.4 125.7,258.5 125.9,259.1 126.1,259.4 126.3,259.9 126.5,258.6 126.6,258.8 126.8,259.4 127.0,259.1 127.2,259.8 127.4,259.8 127.5,259.7 127.7,259.0 127.9,259.0 128.1,259.6 128.3,258.8 128.5,258.8 128.6,259.1 128.8,258.6 129.0,259.4 129.2,259.3 129.4,258.9 129.6,259.2 129.7,258.8 129.9,259.9 130.1,258.4 130.3,259.6 130.5,259.3 130.7,260.0 130.8,258.9 131.0,258.5 131.2,258.6 131.4,258.7 131.6,260.1 131.8,259.6 131.9,259.5 132.1,259.7 132.3,258.6 132.5,259.1 132.7,259.2 132.9,258.9 133.0,259.7 133.2,259.7 133.4,259.7 133.6,258.9 133.8,259.0 134.0,258.9 134.1,258.6 134.3,260.0 134.5,259.5 134.7,259.1 134.9,259.9 135.1,259.5 135.2,258.6 135.4,258.6 135.6,258.6 135.8,259.2 136.0,259.3 136.2,258.6 136.3,259.4 136.5,259.0 136.7,258.5 136.9,259.4 137.1,259.5 137.2,259.2 137.4,258.9 137.6,258.9 137.8,259.1 138.0,258.9 138.2,260.1 138.3,259.7 138.5,259.1 138.7,259.7 138.9,259.9 139.1,259.9 139.3,259.7 139.4,259.3 139.6,259.8 139.8,259.1 140.0,258.3 140.2,259.3 140.4,258.5 140.5,259.0 140.7,259.8 140.9,259.3 141.1,259.7 141.3,258.8 141.5,259.8 141.6,258.5 141.8,258.9 142.0,260.3 142.2,258.8 142.4,258.3 142.6,259.6 142.7,258.7 142.9,260.2 143.1,259.1 143.3,260.1 143.5,258.9 143.7,260.2 143.8,260.5 144.0,259.0 144.2,257.9 144.4,259.5 144.6,258.7 144.8,259.1 144.9,259.4 145.1,258.9 145.3,258.3 145.5,259.9 145.7,258.9 145.8,259.0 146.0,260.0 146.2,258.3 146.4,258.1 146.6,259.7 146.8,258.2 146.9,259.2 147.1,259.3 147.3,258.4 147.5,259.1 147.7,259.0 147.9,258.4 148.0,258.5 148.2,258.7 148.4,260.0 148.6,260.1 148.8,258.6 149.0,259.7 149.1,259.1 149.3,259.8 149.5,259.3 149.7,259.9 149.9,258.3 150.1,259.8 150.2,259.3 150.4,259.3 150.6,258.5 150.8,260.0 151.0,259.2 151.2,259.3 151.3,258.9 151.5,258.9 151.7,259.5 151.9,259.1 152.1,259.4 152.3,258.9 152.4,259.3 152.6,259.6 152.8,259.2 153.0,259.0 153.2,257.9 153.4,259.5 153.5,259.0 153.7,258.4 153.9,260.4 154.1,260.2 154.3,259.9 154.4,259.3 154.6,257.9 154.8,259.0 155.0,258.5 155.2,259.3 155.4,260.5 155.5,260.5 155.7,258.6 155.9,259.1 156.1,259.9 156.3,258.6 156.5,260.1 156.6,258.6 156.8,258.4 157.0,259.6 157.2,259.8 157.4,258.7 157.6,259.8 157.7,258.7 157.9,259.9 158.1,258.8 158.3,259.1 158.5,259.4 158.7,259.7 158.8,259.1 159.0,260.2 159.2,259.4 159.4,259.4 159.6,258.8 159.8,259.9 159.9,258.2 160.1,259.4 160.3,259.8 160.5,258.4 160.7,258.3 160.9,259.3 161.0,259.7 161.2,259.2 161.4,259.6 161.6,259.4 161.8,258.3 162.0,259.0 162.1,259.1 162.3,259.0 162.5,259.2 162.7,258.7 162.9,258.7 163.1,259.4 163.2,259.1 163.4,257.8 163.6,259.0 163.8,259.3 164.0,258.0 164.1,259.2 164.3,259.8 164.5,258.8 164.7,259.7 164.9,259.5 165.1,259.0 165.2,259.3 165.4,259.6 165.6,259.5 165.8,259.5 166.0,258.5 166.2,259.6 166.3,259.5 166.5,258.0 166.7,259.5 166.9,258.3 167.1,258.4 167.3,259.3 167.4,260.0 167.6,258.9 167.8,258.8 168.0,258.6 168.2,259.2 168.4,258.5 168.5,258.4 168.7,259.8 168.9,258.4 169.1,259.1 169.3,259.5 169.5,259.4 169.6,258.1 169.8,258.6 170.0,260.3 170.2,259.4 170.4,259.8 170.6,260.2 170.7,260.7 170.9,261.5 171.1,259.9 171.3,260.6 171.5,259.9 171.7,259.7 171.8,259.4 172.0,258.1 172.2,257.9 172.4,258.1 172.6,258.0 172.8,257.9 172.9,257.5 173.1,258.5 173.3,258.8 173.5,259.3 173.7,259.3 173.8,259.1 174.0,260.3 174.2,258.2 174.4,259.7 174.6,259.5 174.8,258.4 174.9,259.1 175.1,259.2 175.3,259.6 175.5,260.2 175.7,259.1 175.9,258.5 176.0,259.8 176.2,258.4 176.4,259.9 176.6,259.7 176.8,258.9 177.0,259.2 177.1,258.8 177.3,259.7 177.5,259.8 177.7,260.4 177.9,259.9 178.1,259.9 178.2,260.1 178.4,259.0 178.6,259.6 178.8,260.4 179.0,257.7 179.2,259.7 179.3,260.0 179.5,258.4 179.7,258.5 179.9,259.9 180.1,260.1 180.3,259.8 180.4,258.5 180.6,259.4 180.8,259.7 181.0,259.2 181.2,258.4 181.4,260.1 181.5,259.4 181.7,260.1 181.9,257.8 182.1,258.1 182.3,258.6 182.4,259.3 182.6,258.8 182.8,260.5 183.0,259.0 183.2,260.0 183.4,260.0 183.5,259.6 183.7,259.4 183.9,258.8 184.1,258.8 184.3,259.0 184.5,259.8 184.6,258.8 184.8,259.3 185.0,258.4 185.2,259.8 185.4,260.7 185.6,259.5 185.7,257.8 185.9,258.9 186.1,259.3 186.3,258.6 186.5,258.9 186.7,258.9 186.8,259.5 187.0,259.2 187.2,259.1 187.4,259.6 187.6,259.9 187.8,259.1 187.9,258.6 188.1,258.8 188.3,258.9 188.5,258.9 188.7,257.6 188.9,259.0 189.0,258.5 189.2,257.9 189.4,259.2 189.6,259.0 189.8,258.5 190.0,258.1 190.1,259.0 190.3,259.0 190.5,259.1 190.7,260.0 190.9,258.5 191.0,259.4 191.2,260.3 191.4,259.3 191.6,260.3 191.8,259.9 192.0,259.2 192.1,259.8 192.3,258.5 192.5,260.2 192.7,259.0 192.9,258.8 193.1,258.2 193.2,258.6 193.4,259.0 193.6,259.1 193.8,259.2 194.0,258.4 194.2,259.6 194.3,258.8 194.5,259.3 194.7,259.0 194.9,259.4 195.1,257.8 195.3,259.6 195.4,259.0 195.6,259.0 195.8,258.8 196.0,258.9 196.2,258.9 196.4,258.5 196.5,260.2 196.7,259.2 196.9,260.0 197.1,259.0 197.3,260.0 197.5,259.8 197.6,259.2 197.8,258.2 198.0,258.8 198.2,259.0 198.4,258.2 198.6,259.8 198.7,260.6 198.9,259.5 199.1,259.4 199.3,258.3 199.5,257.7 199.7,260.1 199.8,257.5 200.0,258.1 200.2,258.6 200.4,258.9 200.6,257.5 200.7,259.1 200.9,259.5 201.1,259.1 201.3,260.2 201.5,258.8 201.7,259.3 201.8,258.9 202.0,258.9 202.2,260.0 202.4,258.1 202.6,260.0 202.8,258.5 202.9,260.5 203.1,258.9 203.3,259.9 203.5,259.2 203.7,259.7 203.9,261.1 204.0,260.2 204.2,259.1 204.4,258.6 204.6,260.5 204.8,261.1 205.0,260.0 205.1,259.4 205.3,259.8 205.5,259.9 205.7,258.4 205.9,258.3 206.1,258.5 206.2,260.1 206.4,259.1 206.6,259.4 206.8,260.6 207.0,258.3 207.2,259.1 207.3,259.7 207.5,257.7 207.7,258.4 207.9,258.3 208.1,257.9 208.3,258.4 208.4,260.5 208.6,259.6 208.8,258.1 209.0,260.0 209.2,259.1 209.3,258.7 209.5,257.6 209.7,257.7 209.9,258.1 210.1,259.4 210.3,258.1 210.4,258.6 210.6,259.4 210.8,257.5 211.0,258.6 211.2,260.1 211.4,257.6 211.5,259.5 211.7,258.4 211.9,261.2 212.1,259.2 212.3,260.4 212.5,260.5 212.6,261.8 212.8,256.2 213.0,259.4 213.2,258.9 213.4,257.6 213.6,259.4 213.7,258.4 213.9,261.2 214.1,258.9 214.3,259.8 214.5,258.4 214.7,258.9 214.8,261.3 215.0,262.0 215.2,260.8 215.4,258.0 215.6,258.5 215.8,258.5 215.9,262.4 216.1,263.1 216.3,260.2 216.5,259.7 216.7,260.2 216.9,258.6 217.0,259.5 217.2,261.2 217.4,260.7 217.6,258.9 217.8,259.1 218.0,259.3 218.1,255.2 218.3,259.7 218.5,259.0" fill="none" stroke="#fcd04a" stroke-width="0.8"/><polyline points="35.5,274.3 35.7,264.5 35.9,251.5 36.0,251.0 36.2,261.4 36.4,253.8 36.6,258.4 36.8,284.0 37.0,290.1 37.1,230.1 37.3,249.0 37.5,259.9 37.7,279.7 37.9,273.9 38.1,244.0 38.2,285.5 38.4,262.7 38.6,250.2 38.8,257.7 39.0,251.6 39.2,260.5 39.3,235.8 39.5,269.1 39.7,272.1 39.9,256.6 40.1,246.1 40.3,259.7 40.4,249.9 40.6,263.8 40.8,269.4 41.0,247.4 41.2,246.2 41.4,246.7 41.5,262.7 41.7,268.3 41.9,268.2 42.1,260.9 42.3,255.0 42.5,255.7 42.6,268.6 42.8,258.0 43.0,259.1 43.2,258.7 43.4,259.3 43.6,260.3 43.7,256.2 43.9,258.6 44.1,258.1 44.3,262.3 44.5,257.5 44.6,259.7 44.8,267.5 45.0,257.4 45.2,260.1 45.4,256.1 45.6,259.7 45.7,259.5 45.9,258.6 46.1,259.2 46.3,260.5 46.5,264.1 46.7,254.4 46.8,263.2 47.0,260.0 47.2,257.7 47.4,258.4 47.6,258.0 47.8,257.6 47.9,256.6 48.1,258.6 48.3,254.5 48.5,261.1 48.7,258.8 48.9,259.9 49.0,260.2 49.2,258.7 49.4,256.7 49.6,260.4 49.8,260.4 50.0,258.0 50.1,258.3 50.3,256.2 50.5,257.6 50.7,258.9 50.9,259.7 51.1,258.9 51.2,259.4 51.4,261.0 51.6,259.2 51.8,259.4 52.0,259.5 52.2,259.7 52.3,257.2 52.5,258.4 52.7,258.1 52.9,259.9 53.1,260.3 53.3,259.5 53.4,258.9 53.6,259.6 53.8,259.4 54.0,258.3 54.2,258.9 54.3,260.1 54.5,259.6 54.7,259.8 54.9,259.0 55.1,260.2 55.3,259.4 55.4,258.6 55.6,259.2 55.8,259.9 56.0,259.7 56.2,259.1 56.4,258.8 56.5,258.6 56.7,259.3 56.9,260.1 57.1,258.2 57.3,259.0 57.5,258.9 57.6,259.0 57.8,259.9 58.0,259.4 58.2,259.0 58.4,258.5 58.6,259.2 58.7,260.9 58.9,259.4 59.1,259.0 59.3,258.3 59.5,258.7 59.7,257.5 59.8,258.2 60.0,258.3 60.2,258.5 60.4,260.2 60.6,258.6 60.8,258.8 60.9,259.6 61.1,258.8 61.3,258.9 61.5,259.5 61.7,259.3 61.9,259.4 62.0,259.0 62.2,259.5 62.4,258.8 62.6,260.6 62.8,259.4 63.0,260.4 63.1,259.5 63.3,258.8 63.5,259.2 63.7,259.3 63.9,259.2 64.0,258.1 64.2,260.0 64.4,258.6 64.6,260.3 64.8,259.5 65.0,259.1 65.1,259.8 65.3,259.1 65.5,258.7 65.7,260.1 65.9,259.3 66.1,259.5 66.2,260.6 66.4,259.3 66.6,259.8 66.8,258.2 67.0,259.8 67.2,258.0 67.3,259.6 67.5,257.8 67.7,258.8 67.9,258.9 68.1,258.6 68.3,258.5 68.4,258.2 68.6,257.9 68.8,259.5 69.0,260.1 69.2,260.9 69.4,259.5 69.5,258.6 69.7,258.9 69.9,259.1 70.1,259.5 70.3,259.7 70.5,259.4 70.6,258.9 70.8,260.5 71.0,258.7 71.2,260.3 71.4,259.3 71.6,259.7 71.7,259.5 71.9,260.0 72.1,260.1 72.3,259.4 72.5,260.0 72.6,257.4 72.8,259.5 73.0,259.7 73.2,259.6 73.4,260.0 73.6,261.0 73.7,259.4 73.9,259.0 74.1,260.3 74.3,259.2 74.5,260.1 74.7,259.2 74.8,258.9 75.0,258.8 75.2,258.9 75.4,259.7 75.6,258.5 75.8,259.5 75.9,258.9 76.1,258.7 76.3,259.4 76.5,260.2 76.7,258.7 76.9,260.0 77.0,259.9 77.2,260.0 77.4,258.6 77.6,259.3 77.8,260.9 78.0,258.7 78.1,257.6 78.3,257.8 78.5,259.6 78.7,259.1 78.9,258.8 79.1,258.5 79.2,259.2 79.4,260.0 79.6,258.6 79.8,258.7 80.0,260.2 80.2,259.5 80.3,259.0 80.5,259.2 80.7,258.8 80.9,258.6 81.1,258.8 81.2,259.3 81.4,260.3 81.6,258.7 81.8,258.0 82.0,257.5 82.2,259.2 82.3,259.2 82.5,257.8 82.7,257.8 82.9,258.9 83.1,258.5 83.3,260.1 83.4,258.6 83.6,260.2 83.8,259.4 84.0,259.4 84.2,259.8 84.4,261.9 84.5,260.3 84.7,258.8 84.9,259.3 85.1,259.8 85.3,258.6 85.5,258.2 85.6,258.0 85.8,260.5 86.0,259.2 86.2,259.8 86.4,260.8 86.6,262.0 86.7,259.4 86.9,261.0 87.1,254.6 87.3,259.5 87.5,259.8 87.7,260.2 87.8,254.6 88.0,261.7 88.2,259.7 88.4,261.4 88.6,259.6 88.8,259.4 88.9,255.9 89.1,263.7 89.3,259.3 89.5,253.9 89.7,261.0 89.9,259.8 90.0,262.2 90.2,267.2 90.4,259.6 90.6,255.5 90.8,260.7 90.9,264.5 91.1,258.5 91.3,259.0 91.5,256.9 91.7,257.3 91.9,259.8 92.0,258.5 92.2,262.6 92.4,257.3 92.6,258.9 92.8,257.5 93.0,257.6 93.1,259.6 93.3,259.4 93.5,260.3 93.7,261.6 93.9,259.4 94.1,259.1 94.2,260.2 94.4,258.6 94.6,259.1 94.8,258.8 95.0,259.8 95.2,260.5 95.3,258.7 95.5,258.8 95.7,259.3 95.9,259.4 96.1,259.4 96.3,259.3 96.4,259.5 96.6,260.3 96.8,258.8 97.0,260.0 97.2,259.4 97.4,259.4 97.5,259.1 97.7,260.1 97.9,258.5 98.1,258.8 98.3,258.8 98.5,258.5 98.6,259.7 98.8,260.5 99.0,259.0 99.2,258.5 99.4,258.6 99.5,259.5 99.7,259.3 99.9,259.0 100.1,260.2 100.3,259.6 100.5,259.6 100.6,258.3 100.8,259.6 101.0,258.3 101.2,259.2 101.4,260.1 101.6,258.0 101.7,259.7 101.9,258.9 102.1,258.3 102.3,259.5 102.5,259.9 102.7,258.6 102.8,259.2 103.0,259.9 103.2,259.8 103.4,259.4 103.6,258.7 103.8,259.4 103.9,258.8 104.1,258.3 104.3,258.5 104.5,258.4 104.7,258.5 104.9,260.1 105.0,258.5 105.2,259.0 105.4,259.3 105.6,259.8 105.8,260.1 106.0,259.8 106.1,259.2 106.3,259.9 106.5,259.7 106.7,259.5 106.9,258.8 107.1,259.4 107.2,259.3 107.4,258.5 107.6,259.4 107.8,258.9 108.0,259.8 108.2,259.0 108.3,259.1 108.5,259.1 108.7,259.5 108.9,259.8 109.1,259.4 109.2,259.5 109.4,258.6 109.6,258.7 109.8,259.9 110.0,258.9 110.2,259.5 110.3,258.9 110.5,259.5 110.7,260.0 110.9,258.6 111.1,258.9 111.3,259.9 111.4,260.2 111.6,259.5 111.8,259.9 112.0,259.4 112.2,258.9 112.4,258.4 112.5,259.4 112.7,258.4 112.9,258.6 113.1,259.4 113.3,260.1 113.5,258.7 113.6,258.9 113.8,257.9 114.0,258.4 114.2,258.8 114.4,258.3 114.6,259.8 114.7,259.1 114.9,259.3 115.1,258.2 115.3,258.9 115.5,260.5 115.7,258.4 115.8,259.7 116.0,258.8 116.2,259.5 116.4,259.1 116.6,258.8 116.8,259.1 116.9,259.7 117.1,258.4 117.3,259.0 117.5,259.2 117.7,258.8 117.9,259.5 118.0,258.1 118.2,259.1 118.4,259.0 118.6,259.0 118.8,259.7 118.9,259.8 119.1,259.1 119.3,259.0 119.5,258.4 119.7,258.9 119.9,259.8 120.0,258.9 120.2,258.7 120.4,258.6 120.6,259.0 120.8,259.9 121.0,258.5 121.1,259.6 121.3,258.9 121.5,260.1 121.7,258.8 121.9,259.6 122.1,258.6 122.2,258.2 122.4,258.5 122.6,259.8 122.8,259.7 123.0,259.7 123.2,258.8 123.3,259.0 123.5,259.1 123.7,259.0 123.9,258.9 124.1,258.8 124.3,258.3 124.4,259.2 124.6,259.1 124.8,260.2 125.0,259.9 125.2,259.6 125.4,259.9 125.5,259.1 125.7,258.6 125.9,259.4 126.1,259.5 126.3,259.5 126.5,259.1 126.6,259.5 126.8,259.0 127.0,259.0 127.2,259.0 127.4,258.8 127.5,259.2 127.7,259.1 127.9,258.2 128.1,259.2 128.3,258.8 128.5,259.2 128.6,259.5 128.8,259.5 129.0,259.7 129.2,259.2 129.4,259.5 129.6,259.4 129.7,258.5 129.9,259.3 130.1,258.6 130.3,259.1 130.5,258.7 130.7,259.5 130.8,259.1 131.0,257.9 131.2,258.7 131.4,258.6 131.6,259.1 131.8,258.7 131.9,259.8 132.1,259.7 132.3,259.0 132.5,258.7 132.7,259.4 132.9,259.3 133.0,259.4 133.2,259.3 133.4,259.9 133.6,260.0 133.8,259.3 134.0,260.2 134.1,259.7 134.3,259.6 134.5,259.8 134.7,259.1 134.9,259.5 135.1,259.3 135.2,259.8 135.4,259.6 135.6,258.9 135.8,259.0 136.0,259.5 136.2,259.0 136.3,259.1 136.5,259.1 136.7,258.3 136.9,259.4 137.1,259.0 137.2,259.0 137.4,259.3 137.6,259.9 137.8,258.8 138.0,259.1 138.2,259.2 138.3,259.2 138.5,259.2 138.7,259.7 138.9,259.1 139.1,260.2 139.3,259.2 139.4,260.1 139.6,259.4 139.8,258.8 140.0,259.4 140.2,259.5 140.4,258.9 140.5,259.4 140.7,259.5 140.9,259.4 141.1,258.4 141.3,258.9 141.5,259.0 141.6,259.9 141.8,258.9 142.0,259.9 142.2,259.0 142.4,259.8 142.6,258.1 142.7,260.2 142.9,258.6 143.1,258.8 143.3,260.2 143.5,259.4 143.7,258.4 143.8,258.6 144.0,260.2 144.2,259.5 144.4,259.9 144.6,259.8 144.8,259.6 144.9,258.2 145.1,259.2 145.3,259.4 145.5,259.4 145.7,258.9 145.8,258.9 146.0,259.7 146.2,258.4 146.4,259.8 146.6,259.4 146.8,259.0 146.9,258.3 147.1,259.4 147.3,259.1 147.5,258.5 147.7,258.9 147.9,258.6 148.0,258.7 148.2,259.1 148.4,258.9 148.6,258.7 148.8,259.3 149.0,258.4 149.1,260.3 149.3,259.7 149.5,258.4 149.7,259.0 149.9,259.6 150.1,259.0 150.2,258.6 150.4,259.5 150.6,258.8 150.8,259.3 151.0,259.3 151.2,259.3 151.3,258.6 151.5,259.9 151.7,259.4 151.9,258.9 152.1,259.9 152.3,260.1 152.4,258.9 152.6,259.2 152.8,259.3 153.0,259.2 153.2,259.8 153.4,257.9 153.5,259.8 153.7,259.5 153.9,260.0 154.1,259.5 154.3,258.4 154.4,259.2 154.6,258.9 154.8,259.5 155.0,258.2 155.2,259.1 155.4,259.9 155.5,258.8 155.7,259.4 155.9,258.9 156.1,259.2 156.3,259.1 156.5,259.2 156.6,259.7 156.8,260.1 157.0,258.7 157.2,259.3 157.4,259.1 157.6,259.5 157.7,260.4 157.9,259.9 158.1,258.5 158.3,259.7 158.5,259.4 158.7,260.0 158.8,259.5 159.0,259.4 159.2,259.4 159.4,259.3 159.6,259.6 159.8,259.6 159.9,259.2 160.1,259.1 160.3,259.3 160.5,258.3 160.7,259.1 160.9,259.1 161.0,259.6 161.2,258.7 161.4,259.8 161.6,260.1 161.8,259.8 162.0,258.9 162.1,259.9 162.3,258.5 162.5,259.3 162.7,260.1 162.9,259.4 163.1,258.2 163.2,259.7 163.4,260.0 163.6,258.9 163.8,258.5 164.0,258.7 164.1,259.4 164.3,259.1 164.5,259.1 164.7,258.6 164.9,258.0 165.1,259.3 165.2,258.5 165.4,259.4 165.6,258.9 165.8,259.8 166.0,259.7 166.2,259.0 166.3,259.8 166.5,258.7 166.7,259.6 166.9,259.2 167.1,259.3 167.3,259.4 167.4,259.2 167.6,258.6 167.8,257.8 168.0,259.9 168.2,259.1 168.4,259.3 168.5,259.8 168.7,259.1 168.9,259.8 169.1,259.3 169.3,258.5 169.5,260.4 169.6,259.1 169.8,259.0 170.0,259.9 170.2,259.2 170.4,259.5 170.6,260.3 170.7,259.8 170.9,261.4 171.1,260.1 171.3,260.3 171.5,260.4 171.7,259.5 171.8,259.2 172.0,258.1 172.2,259.0 172.4,257.8 172.6,257.8 172.8,256.7 172.9,258.8 173.1,258.0 173.3,260.0 173.5,258.9 173.7,259.3 173.8,259.0 174.0,259.7 174.2,260.4 174.4,260.2 174.6,258.5 174.8,259.1 174.9,259.8 175.1,258.7 175.3,259.7 175.5,259.7 175.7,260.0 175.9,258.5 176.0,258.1 176.2,259.8 176.4,259.1 176.6,258.7 176.8,258.0 177.0,260.7 177.1,259.2 177.3,258.9 177.5,260.2 177.7,259.0 177.9,259.1 178.1,258.8 178.2,259.6 178.4,259.0 178.6,259.6 178.8,258.9 179.0,259.2 179.2,259.5 179.3,260.1 179.5,258.2 179.7,258.6 179.9,258.7 180.1,259.7 180.3,259.5 180.4,258.2 180.6,258.8 180.8,259.8 181.0,259.2 181.2,259.2 181.4,259.4 181.5,259.9 181.7,258.5 181.9,258.9 182.1,259.4 182.3,260.3 182.4,259.6 182.6,259.3 182.8,258.7 183.0,259.5 183.2,258.6 183.4,259.2 183.5,259.7 183.7,260.7 183.9,260.0 184.1,260.2 184.3,259.3 184.5,259.0 184.6,258.4 184.8,259.3 185.0,260.0 185.2,257.7 185.4,259.0 185.6,259.4 185.7,259.4 185.9,260.1 186.1,258.8 186.3,259.0 186.5,258.2 186.7,258.5 186.8,258.7 187.0,258.4 187.2,259.4 187.4,259.5 187.6,259.3 187.8,260.1 187.9,259.3 188.1,259.5 188.3,258.8 188.5,259.3 188.7,260.5 188.9,259.2 189.0,258.3 189.2,260.4 189.4,259.7 189.6,259.2 189.8,260.1 190.0,259.6 190.1,259.2 190.3,260.1 190.5,259.0 190.7,259.0 190.9,260.1 191.0,259.2 191.2,258.5 191.4,259.3 191.6,258.9 191.8,258.8 192.0,259.4 192.1,258.6 192.3,259.0 192.5,259.9 192.7,258.9 192.9,258.6 193.1,258.7 193.2,259.7 193.4,258.9 193.6,258.3 193.8,259.1 194.0,258.4 194.2,258.3 194.3,259.2 194.5,258.8 194.7,259.4 194.9,258.5 195.1,259.3 195.3,259.6 195.4,259.2 195.6,259.3 195.8,259.0 196.0,258.9 196.2,260.0 196.4,259.7 196.5,259.0 196.7,258.9 196.9,259.2 197.1,257.6 197.3,258.4 197.5,259.3 197.6,258.7 197.8,258.3 198.0,259.0 198.2,260.4 198.4,259.1 198.6,259.2 198.7,257.7 198.9,260.5 199.1,258.1 199.3,259.3 199.5,258.6 199.7,259.4 199.8,259.1 200.0,258.4 200.2,259.1 200.4,258.5 200.6,259.3 200.7,259.5 200.9,259.4 201.1,259.6 201.3,259.3 201.5,258.2 201.7,260.1 201.8,260.5 202.0,259.2 202.2,257.9 202.4,258.4 202.6,258.1 202.8,258.2 202.9,259.8 203.1,259.1 203.3,261.2 203.5,259.7 203.7,258.7 203.9,260.5 204.0,261.0 204.2,260.3 204.4,259.0 204.6,258.1 204.8,257.0 205.0,257.9 205.1,260.6 205.3,261.3 205.5,259.0 205.7,258.2 205.9,260.7 206.1,259.7 206.2,259.6 206.4,259.1 206.6,259.3 206.8,258.6 207.0,258.1 207.2,259.1 207.3,258.4 207.5,257.1 207.7,260.2 207.9,260.2 208.1,258.6 208.3,257.2 208.4,259.0 208.6,258.0 208.8,259.5 209.0,258.1 209.2,259.8 209.3,258.4 209.5,258.7 209.7,258.7 209.9,257.5 210.1,257.9 210.3,259.8 210.4,258.0 210.6,261.1 210.8,257.9 211.0,256.2 211.2,258.4 211.4,258.4 211.5,259.0 211.7,258.0 211.9,259.7 212.1,258.2 212.3,259.4 212.5,259.6 212.6,258.9 212.8,259.1 213.0,261.4 213.2,256.1 213.4,258.8 213.6,261.4 213.7,257.5 213.9,259.1 214.1,258.7 214.3,258.0 214.5,260.4 214.7,262.8 214.8,259.2 215.0,258.6 215.2,257.4 215.4,260.2 215.6,259.4 215.8,258.4 215.9,259.5 216.1,259.4 216.3,258.6 216.5,260.6 216.7,256.4 216.9,260.5 217.0,258.9 217.2,259.5 217.4,260.2 217.6,258.1 217.8,257.2 218.0,256.4 218.1,257.9 218.3,259.8 218.5,257.4" fill="none" stroke="#d4e24a" stroke-width="0.8"/><polyline points="35.5,280.6 35.7,256.5 35.9,249.2 36.0,248.8 36.2,274.6 36.4,279.3 36.6,233.8 36.8,264.8 37.0,280.2 37.1,274.3 37.3,257.6 37.5,242.7 37.7,257.9 37.9,243.3 38.1,255.3 38.2,231.5 38.4,246.9 38.6,262.3 38.8,254.9 39.0,262.4 39.2,265.0 39.3,251.4 39.5,266.7 39.7,257.5 39.9,266.2 40.1,259.2 40.3,263.5 40.4,248.1 40.6,257.7 40.8,257.8 41.0,243.7 41.2,280.4 41.4,268.3 41.5,279.6 41.7,258.7 41.9,255.1 42.1,253.6 42.3,256.7 42.5,265.2 42.6,246.6 42.8,256.8 43.0,260.6 43.2,265.7 43.4,256.5 43.6,261.7 43.7,261.4 43.9,257.9 44.1,257.9 44.3,263.0 44.5,253.3 44.6,263.5 44.8,263.7 45.0,257.9 45.2,258.6 45.4,258.9 45.6,260.5 45.7,259.0 45.9,260.9 46.1,264.3 46.3,256.9 46.5,262.1 46.7,259.8 46.8,257.2 47.0,259.1 47.2,253.3 47.4,262.5 47.6,260.8 47.8,259.0 47.9,256.2 48.1,259.7 48.3,262.1 48.5,256.8 48.7,261.0 48.9,259.6 49.0,257.5 49.2,260.4 49.4,260.0 49.6,258.3 49.8,259.5 50.0,258.7 50.1,260.8 50.3,259.4 50.5,260.9 50.7,261.6 50.9,256.5 51.1,258.5 51.2,257.9 51.4,260.6 51.6,259.2 51.8,259.5 52.0,261.0 52.2,258.5 52.3,260.1 52.5,259.4 52.7,261.0 52.9,258.0 53.1,258.3 53.3,258.8 53.4,260.2 53.6,259.8 53.8,257.9 54.0,259.5 54.2,258.9 54.3,259.1 54.5,260.3 54.7,257.7 54.9,261.1 55.1,259.0 55.3,259.3 55.4,260.6 55.6,258.9 55.8,258.8 56.0,259.2 56.2,259.9 56.4,258.8 56.5,258.3 56.7,259.0 56.9,257.9 57.1,258.6 57.3,258.6 57.5,258.2 57.6,259.7 57.8,259.6 58.0,258.8 58.2,258.8 58.4,258.1 58.6,258.3 58.7,259.1 58.9,259.0 59.1,259.4 59.3,259.5 59.5,259.5 59.7,258.5 59.8,259.5 60.0,259.5 60.2,259.1 60.4,259.6 60.6,259.4 60.8,260.8 60.9,258.9 61.1,259.4 61.3,259.0 61.5,258.9 61.7,260.6 61.9,257.4 62.0,259.0 62.2,259.0 62.4,260.5 62.6,258.7 62.8,258.8 63.0,259.4 63.1,258.9 63.3,258.2 63.5,259.4 63.7,259.8 63.9,258.1 64.0,258.9 64.2,259.2 64.4,257.4 64.6,259.0 64.8,259.2 65.0,258.9 65.1,259.4 65.3,258.9 65.5,259.0 65.7,259.6 65.9,259.3 66.1,258.9 66.2,258.8 66.4,258.6 66.6,258.5 66.8,258.9 67.0,258.7 67.2,259.4 67.3,259.3 67.5,258.3 67.7,260.6 67.9,258.8 68.1,257.4 68.3,260.5 68.4,258.0 68.6,260.5 68.8,258.8 69.0,257.9 69.2,258.0 69.4,259.8 69.5,260.1 69.7,260.3 69.9,258.6 70.1,259.5 70.3,259.1 70.5,259.0 70.6,258.8 70.8,258.7 71.0,259.1 71.2,260.4 71.4,258.0 71.6,261.1 71.7,258.2 71.9,259.6 72.1,259.3 72.3,259.6 72.5,259.5 72.6,259.2 72.8,259.4 73.0,260.0 73.2,258.5 73.4,259.6 73.6,258.1 73.7,259.3 73.9,259.7 74.1,258.8 74.3,258.5 74.5,259.9 74.7,259.4 74.8,258.0 75.0,260.0 75.2,259.8 75.4,259.0 75.6,260.1 75.8,261.1 75.9,260.5 76.1,258.9 76.3,258.7 76.5,258.7 76.7,258.9 76.9,260.2 77.0,258.6 77.2,258.3 77.4,259.7 77.6,258.4 77.8,259.5 78.0,259.0 78.1,258.9 78.3,260.4 78.5,258.0 78.7,259.9 78.9,259.2 79.1,259.6 79.2,258.8 79.4,258.8 79.6,259.2 79.8,258.0 80.0,258.9 80.2,259.5 80.3,261.1 80.5,259.4 80.7,259.4 80.9,259.9 81.1,259.9 81.2,258.7 81.4,258.3 81.6,257.5 81.8,258.1 82.0,259.8 82.2,258.9 82.3,260.5 82.5,258.4 82.7,258.8 82.9,259.8 83.1,259.3 83.3,259.4 83.4,259.9 83.6,257.5 83.8,256.2 84.0,258.1 84.2,257.7 84.4,258.9 84.5,259.6 84.7,256.0 84.9,259.7 85.1,258.5 85.3,259.3 85.5,258.2 85.6,259.2 85.8,258.2 86.0,261.3 86.2,259.3 86.4,256.5 86.6,261.2 86.7,260.5 86.9,256.1 87.1,258.2 87.3,256.6 87.5,264.6 87.7,258.7 87.8,262.5 88.0,262.9 88.2,257.9 88.4,255.6 88.6,263.6 88.8,262.6 88.9,261.0 89.1,259.5 89.3,263.6 89.5,251.1 89.7,257.0 89.9,260.3 90.0,280.0 90.2,250.8 90.4,251.1 90.6,260.7 90.8,258.0 90.9,255.3 91.1,262.5 91.3,260.7 91.5,255.8 91.7,260.7 91.9,260.1 92.0,261.9 92.2,260.6 92.4,257.9 92.6,260.6 92.8,261.4 93.0,260.2 93.1,256.5 93.3,258.9 93.5,259.9 93.7,259.0 93.9,258.7 94.1,259.1 94.2,261.0 94.4,258.9 94.6,259.4 94.8,258.5 95.0,260.3 95.2,258.4 95.3,259.6 95.5,260.4 95.7,258.3 95.9,259.5 96.1,259.0 96.3,259.3 96.4,258.5 96.6,258.5 96.8,258.5 97.0,258.8 97.2,260.2 97.4,260.2 97.5,259.1 97.7,259.8 97.9,258.9 98.1,259.1 98.3,260.0 98.5,259.8 98.6,259.9 98.8,259.7 99.0,259.3 99.2,258.8 99.4,258.4 99.5,259.8 99.7,259.5 99.9,258.3 100.1,258.7 100.3,259.1 100.5,260.6 100.6,259.8 100.8,259.1 101.0,259.6 101.2,258.0 101.4,259.1 101.6,259.0 101.7,259.9 101.9,259.8 102.1,259.6 102.3,259.6 102.5,259.3 102.7,259.0 102.8,259.1 103.0,258.6 103.2,260.0 103.4,259.1 103.6,259.1 103.8,258.3 103.9,259.3 104.1,259.0 104.3,259.7 104.5,259.0 104.7,259.0 104.9,259.6 105.0,259.5 105.2,259.2 105.4,258.9 105.6,259.9 105.8,258.7 106.0,259.4 106.1,258.1 106.3,258.3 106.5,259.4 106.7,259.6 106.9,257.8 107.1,258.8 107.2,258.9 107.4,259.5 107.6,259.3 107.8,258.7 108.0,258.8 108.2,259.7 108.3,258.5 108.5,259.0 108.7,259.8 108.9,258.6 109.1,259.3 109.2,258.7 109.4,259.5 109.6,259.0 109.8,260.2 110.0,259.0 110.2,260.1 110.3,259.1 110.5,260.6 110.7,259.2 110.9,258.8 111.1,258.9 111.3,258.5 111.4,259.8 111.6,258.3 111.8,258.2 112.0,259.9 112.2,259.7 112.4,259.5 112.5,259.2 112.7,259.1 112.9,260.6 113.1,258.8 113.3,259.4 113.5,259.8 113.6,258.6 113.8,259.4 114.0,258.5 114.2,258.9 114.4,259.4 114.6,258.5 114.7,258.7 114.9,259.5 115.1,260.2 115.3,259.5 115.5,258.8 115.7,259.3 115.8,258.2 116.0,259.0 116.2,259.1 116.4,259.0 116.6,259.7 116.8,259.3 116.9,259.6 117.1,260.6 117.3,260.3 117.5,258.8 117.7,259.5 117.9,259.3 118.0,260.1 118.2,259.6 118.4,258.7 118.6,259.1 118.8,259.5 118.9,258.3 119.1,259.2 119.3,259.4 119.5,258.5 119.7,260.2 119.9,258.9 120.0,259.9 120.2,259.7 120.4,259.6 120.6,259.1 120.8,259.1 121.0,259.0 121.1,259.1 121.3,258.4 121.5,258.2 121.7,258.8 121.9,258.8 122.1,259.4 122.2,259.9 122.4,258.9 122.6,259.2 122.8,258.7 123.0,260.3 123.2,257.8 123.3,260.0 123.5,259.2 123.7,258.6 123.9,260.0 124.1,259.5 124.3,260.4 124.4,260.1 124.6,260.4 124.8,259.1 125.0,259.0 125.2,259.4 125.4,258.5 125.5,258.4 125.7,259.2 125.9,259.3 126.1,259.4 126.3,259.5 126.5,258.4 126.6,259.1 126.8,259.4 127.0,259.3 127.2,258.9 127.4,259.4 127.5,259.0 127.7,259.2 127.9,258.4 128.1,258.5 128.3,260.0 128.5,259.3 128.6,258.8 128.8,259.5 129.0,258.7 129.2,259.0 129.4,258.8 129.6,259.2 129.7,259.0 129.9,258.9 130.1,260.1 130.3,259.7 130.5,259.8 130.7,258.2 130.8,259.0 131.0,259.0 131.2,259.1 131.4,259.5 131.6,259.6 131.8,258.7 131.9,259.4 132.1,258.3 132.3,259.1 132.5,259.1 132.7,259.3 132.9,259.2 133.0,259.2 133.2,258.3 133.4,257.8 133.6,259.9 133.8,259.0 134.0,258.8 134.1,259.7 134.3,259.6 134.5,259.5 134.7,260.6 134.9,258.8 135.1,259.2 135.2,259.3 135.4,259.1 135.6,259.0 135.8,257.8 136.0,259.1 136.2,258.7 136.3,259.5 136.5,259.0 136.7,259.4 136.9,259.3 137.1,259.7 137.2,259.7 137.4,258.9 137.6,258.8 137.8,258.9 138.0,259.6 138.2,259.0 138.3,260.6 138.5,258.6 138.7,259.2 138.9,259.0 139.1,258.5 139.3,259.4 139.4,258.6 139.6,259.5 139.8,258.9 140.0,259.4 140.2,259.0 140.4,258.3 140.5,259.6 140.7,259.5 140.9,259.4 141.1,259.0 141.3,257.8 141.5,259.5 141.6,260.4 141.8,259.6 142.0,260.1 142.2,259.5 142.4,259.2 142.6,259.8 142.7,259.6 142.9,260.3 143.1,259.1 143.3,259.6 143.5,258.5 143.7,258.6 143.8,259.7 144.0,259.4 144.2,259.1 144.4,258.7 144.6,260.2 144.8,259.2 144.9,258.1 145.1,259.2 145.3,259.0 145.5,259.2 145.7,259.9 145.8,258.6 146.0,259.0 146.2,259.1 146.4,258.7 146.6,258.7 146.8,260.3 146.9,258.9 147.1,259.5 147.3,259.1 147.5,259.6 147.7,259.7 147.9,258.6 148.0,259.2 148.2,259.3 148.4,259.3 148.6,259.1 148.8,259.2 149.0,260.6 149.1,259.7 149.3,259.3 149.5,258.7 149.7,258.4 149.9,259.7 150.1,258.0 150.2,259.1 150.4,258.9 150.6,259.5 150.8,259.5 151.0,258.3 151.2,259.3 151.3,259.2 151.5,258.5 151.7,258.1 151.9,260.0 152.1,259.3 152.3,259.2 152.4,258.1 152.6,257.8 152.8,259.2 153.0,258.9 153.2,258.6 153.4,258.5 153.5,259.3 153.7,258.6 153.9,259.6 154.1,260.6 154.3,260.0 154.4,259.0 154.6,258.7 154.8,260.5 155.0,260.2 155.2,259.2 155.4,260.6 155.5,258.8 155.7,258.5 155.9,260.6 156.1,258.7 156.3,259.2 156.5,258.3 156.6,259.0 156.8,259.3 157.0,259.1 157.2,258.6 157.4,259.0 157.6,259.1 157.7,260.0 157.9,258.8 158.1,259.1 158.3,258.0 158.5,259.1 158.7,259.2 158.8,259.5 159.0,258.7 159.2,259.2 159.4,259.5 159.6,258.2 159.8,258.1 159.9,259.4 160.1,259.7 160.3,258.4 160.5,259.6 160.7,257.8 160.9,259.2 161.0,258.5 161.2,259.9 161.4,259.1 161.6,258.5 161.8,258.8 162.0,259.4 162.1,257.8 162.3,258.7 162.5,259.2 162.7,259.5 162.9,259.3 163.1,258.3 163.2,259.6 163.4,263.4 163.6,259.6 163.8,258.3 164.0,259.2 164.1,258.6 164.3,258.8 164.5,259.5 164.7,258.7 164.9,258.5 165.1,259.8 165.2,258.7 165.4,257.7 165.6,259.3 165.8,258.7 166.0,259.9 166.2,258.8 166.3,259.5 166.5,258.6 166.7,259.1 166.9,259.8 167.1,258.4 167.3,259.2 167.4,259.7 167.6,259.1 167.8,259.7 168.0,258.9 168.2,259.1 168.4,259.3 168.5,258.7 168.7,259.9 168.9,258.5 169.1,260.4 169.3,258.1 169.5,259.0 169.6,259.3 169.8,259.6 170.0,258.8 170.2,259.4 170.4,259.7 170.6,259.3 170.7,260.6 170.9,260.6 171.1,260.1 171.3,259.3 171.5,259.7 171.7,259.1 171.8,258.9 172.0,258.0 172.2,257.0 172.4,258.2 172.6,257.5 172.8,257.6 172.9,257.6 173.1,257.5 173.3,258.8 173.5,258.9 173.7,258.3 173.8,259.9 174.0,259.6 174.2,259.4 174.4,259.1 174.6,259.0 174.8,259.4 174.9,258.0 175.1,259.6 175.3,259.2 175.5,258.4 175.7,258.6 175.9,259.1 176.0,258.9 176.2,258.6 176.4,259.1 176.6,258.7 176.8,259.7 177.0,259.1 177.1,260.2 177.3,259.7 177.5,259.9 177.7,258.3 177.9,259.4 178.1,258.9 178.2,259.7 178.4,259.2 178.6,259.3 178.8,259.7 179.0,258.5 179.2,260.2 179.3,258.7 179.5,257.6 179.7,259.7 179.9,259.1 180.1,260.2 180.3,259.1 180.4,260.3 180.6,258.7 180.8,259.5 181.0,260.4 181.2,260.0 181.4,260.2 181.5,259.3 181.7,258.6 181.9,259.4 182.1,259.9 182.3,259.7 182.4,259.1 182.6,260.8 182.8,258.7 183.0,258.9 183.2,260.8 183.4,258.3 183.5,260.3 183.7,259.3 183.9,258.3 184.1,260.3 184.3,260.4 184.5,259.9 184.6,259.9 184.8,259.3 185.0,259.5 185.2,259.5 185.4,259.5 185.6,259.3 185.7,259.8 185.9,258.9 186.1,259.2 186.3,259.9 186.5,257.9 186.7,260.1 186.8,258.7 187.0,259.7 187.2,258.9 187.4,258.8 187.6,258.6 187.8,258.2 187.9,259.8 188.1,257.5 188.3,258.9 188.5,259.7 188.7,260.1 188.9,257.5 189.0,258.0 189.2,259.2 189.4,258.6 189.6,258.2 189.8,259.1 190.0,259.5 190.1,259.2 190.3,258.5 190.5,259.1 190.7,260.0 190.9,258.6 191.0,260.4 191.2,259.7 191.4,258.3 191.6,259.0 191.8,259.0 192.0,259.1 192.1,258.4 192.3,259.2 192.5,260.6 192.7,259.0 192.9,260.9 193.1,260.6 193.2,258.0 193.4,258.4 193.6,259.5 193.8,259.2 194.0,259.1 194.2,258.4 194.3,259.7 194.5,259.8 194.7,259.6 194.9,259.0 195.1,259.0 195.3,259.4 195.4,258.6 195.6,259.9 195.8,259.2 196.0,259.7 196.2,259.9 196.4,258.2 196.5,259.4 196.7,259.9 196.9,259.1 197.1,259.9 197.3,258.7 197.5,258.5 197.6,258.4 197.8,259.9 198.0,259.3 198.2,257.8 198.4,259.3 198.6,258.2 198.7,258.0 198.9,260.2 199.1,258.2 199.3,258.6 199.5,258.5 199.7,257.9 199.8,258.8 200.0,259.1 200.2,258.7 200.4,259.4 200.6,258.8 200.7,260.7 200.9,257.8 201.1,259.6 201.3,258.7 201.5,258.9 201.7,259.1 201.8,259.0 202.0,259.1 202.2,260.5 202.4,259.6 202.6,258.1 202.8,260.0 202.9,260.1 203.1,257.2 203.3,258.0 203.5,257.7 203.7,259.1 203.9,258.9 204.0,258.4 204.2,258.6 204.4,259.2 204.6,260.6 204.8,259.9 205.0,260.6 205.1,257.6 205.3,259.5 205.5,259.3 205.7,258.8 205.9,259.1 206.1,258.6 206.2,259.8 206.4,260.8 206.6,257.3 206.8,259.9 207.0,259.7 207.2,260.0 207.3,259.8 207.5,259.1 207.7,258.3 207.9,260.3 208.1,258.8 208.3,259.9 208.4,257.8 208.6,260.6 208.8,259.0 209.0,258.3 209.2,260.8 209.3,259.0 209.5,259.0 209.7,260.1 209.9,259.4 210.1,257.9 210.3,258.8 210.4,259.7 210.6,259.4 210.8,258.6 211.0,257.5 211.2,258.1 211.4,258.2 211.5,257.0 211.7,261.3 211.9,261.2 212.1,262.4 212.3,258.0 212.5,262.5 212.6,259.2 212.8,258.1 213.0,261.3 213.2,260.2 213.4,259.6 213.6,258.1 213.7,261.5 213.9,258.7 214.1,258.1 214.3,259.0 214.5,258.9 214.7,257.2 214.8,258.8 215.0,259.2 215.2,259.7 215.4,258.1 215.6,259.7 215.8,258.1 215.9,259.0 216.1,257.2 216.3,260.6 216.5,259.1 216.7,258.6 216.9,258.4 217.0,257.1 217.2,258.5 217.4,257.5 217.6,255.6 217.8,257.6 218.0,261.2 218.1,261.9 218.3,257.9 218.5,259.9" fill="none" stroke="#f28a2e" stroke-width="0.8"/><polyline points="35.5,253.3 35.7,262.5 35.9,233.9 36.0,236.5 36.2,279.9 36.4,254.2 36.6,228.0 36.8,281.8 37.0,248.2 37.1,261.5 37.3,252.0 37.5,221.2 37.7,238.6 37.9,242.4 38.1,265.2 38.2,276.2 38.4,293.9 38.6,263.3 38.8,258.6 39.0,264.2 39.2,257.9 39.3,228.3 39.5,263.2 39.7,262.7 39.9,256.7 40.1,255.7 40.3,273.5 40.4,280.0 40.6,265.9 40.8,261.6 41.0,268.0 41.2,270.2 41.4,269.4 41.5,263.5 41.7,260.6 41.9,275.8 42.1,240.1 42.3,256.0 42.5,260.5 42.6,271.1 42.8,262.3 43.0,259.5 43.2,253.6 43.4,271.2 43.6,254.6 43.7,262.5 43.9,258.1 44.1,255.1 44.3,264.5 44.5,263.9 44.6,260.0 44.8,255.6 45.0,262.0 45.2,265.9 45.4,262.4 45.6,257.7 45.7,254.6 45.9,261.4 46.1,260.6 46.3,260.0 46.5,259.8 46.7,262.6 46.8,260.8 47.0,258.6 47.2,259.0 47.4,259.3 47.6,262.1 47.8,260.8 47.9,261.2 48.1,256.6 48.3,255.6 48.5,258.5 48.7,255.4 48.9,260.0 49.0,260.0 49.2,262.3 49.4,258.8 49.6,260.3 49.8,259.1 50.0,258.3 50.1,259.8 50.3,261.5 50.5,259.4 50.7,259.4 50.9,259.2 51.1,258.0 51.2,259.6 51.4,259.7 51.6,256.3 51.8,257.5 52.0,259.4 52.2,260.7 52.3,259.9 52.5,258.7 52.7,258.0 52.9,255.8 53.1,259.6 53.3,259.0 53.4,259.7 53.6,259.1 53.8,259.7 54.0,260.6 54.2,257.9 54.3,259.1 54.5,257.7 54.7,259.8 54.9,258.9 55.1,258.5 55.3,261.3 55.4,260.6 55.6,258.4 55.8,259.1 56.0,261.1 56.2,259.9 56.4,260.2 56.5,259.6 56.7,257.8 56.9,259.7 57.1,257.4 57.3,259.4 57.5,259.9 57.6,257.8 57.8,258.3 58.0,257.9 58.2,257.4 58.4,258.2 58.6,258.1 58.7,260.7 58.9,259.9 59.1,258.8 59.3,259.0 59.5,258.5 59.7,259.6 59.8,258.2 60.0,257.3 60.2,258.6 60.4,258.4 60.6,258.7 60.8,258.3 60.9,259.0 61.1,259.6 61.3,259.0 61.5,259.1 61.7,260.6 61.9,258.9 62.0,259.1 62.2,259.0 62.4,259.7 62.6,258.7 62.8,258.6 63.0,259.8 63.1,258.9 63.3,258.4 63.5,258.5 63.7,260.0 63.9,260.1 64.0,259.1 64.2,260.1 64.4,256.9 64.6,259.9 64.8,259.9 65.0,258.6 65.1,259.6 65.3,261.4 65.5,259.3 65.7,260.1 65.9,259.7 66.1,260.7 66.2,260.1 66.4,259.4 66.6,259.3 66.8,260.3 67.0,259.9 67.2,260.0 67.3,259.1 67.5,259.4 67.7,260.4 67.9,258.6 68.1,259.9 68.3,258.9 68.4,260.1 68.6,259.0 68.8,259.4 69.0,259.2 69.2,258.8 69.4,258.8 69.5,259.1 69.7,259.1 69.9,260.5 70.1,259.3 70.3,261.3 70.5,261.4 70.6,259.6 70.8,259.5 71.0,257.8 71.2,258.6 71.4,258.2 71.6,259.5 71.7,258.8 71.9,258.1 72.1,258.7 72.3,258.9 72.5,259.1 72.6,260.1 72.8,260.1 73.0,260.6 73.2,258.8 73.4,259.5 73.6,259.9 73.7,258.9 73.9,259.8 74.1,258.2 74.3,257.4 74.5,258.8 74.7,259.9 74.8,260.7 75.0,257.3 75.2,258.8 75.4,260.4 75.6,258.2 75.8,260.8 75.9,259.6 76.1,259.5 76.3,259.6 76.5,260.3 76.7,256.9 76.9,259.6 77.0,258.8 77.2,259.2 77.4,260.8 77.6,259.8 77.8,259.0 78.0,258.3 78.1,259.6 78.3,258.9 78.5,259.5 78.7,258.6 78.9,261.6 79.1,258.6 79.2,259.8 79.4,259.8 79.6,261.6 79.8,260.3 80.0,258.6 80.2,256.9 80.3,259.9 80.5,259.9 80.7,258.7 80.9,258.9 81.1,259.8 81.2,259.4 81.4,259.6 81.6,258.5 81.8,258.3 82.0,257.2 82.2,258.1 82.3,258.4 82.5,259.0 82.7,258.0 82.9,260.5 83.1,256.2 83.3,258.8 83.4,257.1 83.6,260.4 83.8,257.6 84.0,258.6 84.2,259.5 84.4,260.3 84.5,260.7 84.7,256.1 84.9,257.0 85.1,259.0 85.3,258.8 85.5,260.6 85.6,262.8 85.8,262.8 86.0,260.5 86.2,259.5 86.4,261.9 86.6,257.2 86.7,257.9 86.9,258.8 87.1,264.1 87.3,259.8 87.5,259.3 87.7,263.2 87.8,266.4 88.0,252.7 88.2,257.0 88.4,260.6 88.6,253.2 88.8,254.9 88.9,257.4 89.1,258.3 89.3,255.9 89.5,252.8 89.7,247.1 89.9,260.2 90.0,256.7 90.2,269.7 90.4,258.8 90.6,260.9 90.8,259.3 90.9,259.9 91.1,258.0 91.3,258.9 91.5,259.0 91.7,259.6 91.9,258.0 92.0,260.5 92.2,256.8 92.4,263.1 92.6,258.8 92.8,258.3 93.0,261.7 93.1,260.0 93.3,256.9 93.5,259.4 93.7,260.5 93.9,262.5 94.1,258.8 94.2,259.1 94.4,258.5 94.6,256.9 94.8,259.2 95.0,259.1 95.2,259.8 95.3,259.3 95.5,259.2 95.7,258.6 95.9,258.8 96.1,259.8 96.3,259.5 96.4,258.2 96.6,259.9 96.8,258.7 97.0,258.0 97.2,258.7 97.4,259.0 97.5,258.2 97.7,258.9 97.9,259.2 98.1,259.3 98.3,258.4 98.5,258.7 98.6,258.1 98.8,259.4 99.0,259.4 99.2,259.5 99.4,259.0 99.5,259.7 99.7,258.5 99.9,259.0 100.1,259.9 100.3,260.9 100.5,260.5 100.6,258.2 100.8,259.2 101.0,259.1 101.2,259.5 101.4,258.9 101.6,260.6 101.7,260.7 101.9,260.4 102.1,259.2 102.3,258.7 102.5,258.9 102.7,259.3 102.8,260.1 103.0,258.6 103.2,259.4 103.4,259.2 103.6,259.3 103.8,259.5 103.9,259.7 104.1,259.6 104.3,260.1 104.5,259.0 104.7,259.3 104.9,258.5 105.0,260.5 105.2,258.4 105.4,259.3 105.6,259.3 105.8,259.8 106.0,259.8 106.1,260.3 106.3,258.5 106.5,259.4 106.7,258.7 106.9,258.6 107.1,259.6 107.2,259.4 107.4,259.5 107.6,258.5 107.8,259.1 108.0,259.1 108.2,258.7 108.3,259.3 108.5,257.7 108.7,259.9 108.9,258.3 109.1,258.2 109.2,260.0 109.4,258.6 109.6,259.0 109.8,258.6 110.0,260.1 110.2,259.0 110.3,259.9 110.5,259.4 110.7,258.2 110.9,259.3 111.1,260.8 111.3,260.2 111.4,260.0 111.6,258.5 111.8,259.7 112.0,260.3 112.2,258.4 112.4,259.0 112.5,259.0 112.7,259.8 112.9,258.2 113.1,259.3 113.3,260.6 113.5,260.0 113.6,259.8 113.8,259.3 114.0,258.6 114.2,259.7 114.4,259.6 114.6,257.6 114.7,259.1 114.9,259.6 115.1,259.2 115.3,260.1 115.5,258.8 115.7,258.5 115.8,259.6 116.0,258.5 116.2,259.4 116.4,259.0 116.6,259.7 116.8,259.8 116.9,260.3 117.1,259.0 117.3,259.4 117.5,259.4 117.7,260.0 117.9,260.0 118.0,259.7 118.2,258.9 118.4,259.0 118.6,259.7 118.8,259.0 118.9,257.9 119.1,259.1 119.3,257.7 119.5,258.9 119.7,258.2 119.9,259.6 120.0,258.3 120.2,260.1 120.4,259.0 120.6,259.4 120.8,260.7 121.0,260.2 121.1,258.4 121.3,258.8 121.5,258.3 121.7,259.1 121.9,260.9 122.1,259.0 122.2,259.6 122.4,259.6 122.6,259.5 122.8,259.8 123.0,259.9 123.2,258.3 123.3,258.9 123.5,259.7 123.7,259.5 123.9,258.5 124.1,258.9 124.3,259.1 124.4,260.1 124.6,259.5 124.8,260.0 125.0,260.6 125.2,258.6 125.4,259.4 125.5,259.5 125.7,259.9 125.9,258.7 126.1,257.7 126.3,258.8 126.5,258.5 126.6,260.1 126.8,259.1 127.0,259.0 127.2,258.1 127.4,259.2 127.5,259.9 127.7,259.3 127.9,259.5 128.1,258.2 128.3,258.7 128.5,259.0 128.6,259.1 128.8,258.6 129.0,259.6 129.2,259.9 129.4,260.6 129.6,258.3 129.7,258.8 129.9,258.7 130.1,259.2 130.3,258.0 130.5,259.9 130.7,258.3 130.8,259.8 131.0,259.5 131.2,260.1 131.4,259.1 131.6,259.4 131.8,258.9 131.9,259.6 132.1,260.2 132.3,258.8 132.5,258.3 132.7,258.7 132.9,259.3 133.0,258.9 133.2,260.5 133.4,259.5 133.6,258.4 133.8,258.9 134.0,259.8 134.1,258.6 134.3,259.3 134.5,258.7 134.7,260.2 134.9,259.6 135.1,259.0 135.2,259.0 135.4,258.8 135.6,259.2 135.8,259.4 136.0,258.9 136.2,258.6 136.3,260.3 136.5,259.5 136.7,259.4 136.9,259.1 137.1,258.5 137.2,260.2 137.4,258.8 137.6,260.5 137.8,259.8 138.0,259.6 138.2,259.4 138.3,259.7 138.5,259.6 138.7,259.5 138.9,259.4 139.1,260.6 139.3,260.2 139.4,259.5 139.6,258.8 139.8,258.5 140.0,257.5 140.2,259.1 140.4,259.8 140.5,259.1 140.7,258.7 140.9,259.1 141.1,260.0 141.3,259.3 141.5,259.2 141.6,260.2 141.8,260.1 142.0,258.3 142.2,260.8 142.4,259.1 142.6,259.4 142.7,258.2 142.9,258.8 143.1,259.8 143.3,258.3 143.5,259.6 143.7,257.8 143.8,258.0 144.0,259.3 144.2,258.7 144.4,259.1 144.6,259.9 144.8,258.4 144.9,258.9 145.1,258.6 145.3,258.4 145.5,258.2 145.7,258.5 145.8,259.3 146.0,259.1 146.2,258.9 146.4,259.3 146.6,259.4 146.8,257.9 146.9,258.9 147.1,257.8 147.3,259.8 147.5,259.2 147.7,259.5 147.9,259.5 148.0,259.4 148.2,259.3 148.4,259.5 148.6,257.9 148.8,258.7 149.0,259.7 149.1,259.6 149.3,258.7 149.5,258.8 149.7,259.6 149.9,258.5 150.1,260.2 150.2,259.5 150.4,258.0 150.6,260.9 150.8,259.3 151.0,258.5 151.2,259.3 151.3,259.8 151.5,259.8 151.7,260.7 151.9,260.2 152.1,259.2 152.3,259.6 152.4,259.2 152.6,259.3 152.8,259.0 153.0,260.4 153.2,259.4 153.4,259.4 153.5,259.4 153.7,259.8 153.9,260.8 154.1,258.7 154.3,258.6 154.4,257.5 154.6,258.7 154.8,258.0 155.0,258.8 155.2,259.5 155.4,258.8 155.5,260.0 155.7,259.0 155.9,259.3 156.1,260.0 156.3,258.3 156.5,258.4 156.6,258.9 156.8,258.6 157.0,258.0 157.2,259.3 157.4,260.2 157.6,259.9 157.7,258.7 157.9,259.0 158.1,260.3 158.3,258.2 158.5,259.0 158.7,258.0 158.8,258.4 159.0,259.5 159.2,259.1 159.4,259.7 159.6,259.8 159.8,259.4 159.9,258.8 160.1,258.2 160.3,259.8 160.5,258.7 160.7,259.2 160.9,259.4 161.0,258.4 161.2,259.4 161.4,258.2 161.6,259.4 161.8,259.9 162.0,258.6 162.1,260.3 162.3,260.1 162.5,259.3 162.7,259.2 162.9,259.4 163.1,260.6 163.2,260.2 163.4,258.8 163.6,258.8 163.8,259.9 164.0,264.1 164.1,259.0 164.3,258.4 164.5,259.7 164.7,258.1 164.9,259.4 165.1,258.1 165.2,258.5 165.4,259.9 165.6,259.4 165.8,259.0 166.0,258.4 166.2,260.2 166.3,259.6 166.5,258.7 166.7,258.8 166.9,260.0 167.1,259.9 167.3,258.8 167.4,260.0 167.6,259.0 167.8,258.5 168.0,259.2 168.2,261.0 168.4,258.3 168.5,258.3 168.7,258.1 168.9,258.5 169.1,260.5 169.3,258.1 169.5,258.9 169.6,258.5 169.8,259.3 170.0,259.4 170.2,259.6 170.4,258.4 170.6,259.8 170.7,260.6 170.9,261.6 171.1,260.0 171.3,260.0 171.5,259.5 171.7,258.5 171.8,258.4 172.0,258.6 172.2,257.9 172.4,257.6 172.6,256.9 172.8,257.1 172.9,258.0 173.1,259.2 173.3,258.2 173.5,258.4 173.7,260.0 173.8,258.9 174.0,259.5 174.2,260.9 174.4,259.2 174.6,258.4 174.8,259.8 174.9,259.7 175.1,258.4 175.3,260.1 175.5,259.9 175.7,259.4 175.9,258.7 176.0,258.7 176.2,259.6 176.4,259.4 176.6,259.1 176.8,259.5 177.0,259.9 177.1,260.1 177.3,258.6 177.5,259.4 177.7,257.3 177.9,258.7 178.1,259.8 178.2,259.2 178.4,258.9 178.6,258.9 178.8,258.8 179.0,258.8 179.2,259.3 179.3,258.7 179.5,257.4 179.7,259.5 179.9,259.5 180.1,258.6 180.3,258.2 180.4,258.5 180.6,258.2 180.8,259.2 181.0,259.4 181.2,258.6 181.4,258.6 181.5,257.8 181.7,257.9 181.9,260.7 182.1,258.5 182.3,259.7 182.4,260.9 182.6,258.9 182.8,259.3 183.0,259.5 183.2,260.3 183.4,260.0 183.5,259.4 183.7,260.4 183.9,259.3 184.1,259.1 184.3,259.3 184.5,258.9 184.6,259.2 184.8,260.2 185.0,260.1 185.2,259.1 185.4,258.4 185.6,259.1 185.7,259.6 185.9,259.1 186.1,260.7 186.3,260.0 186.5,259.5 186.7,259.2 186.8,259.5 187.0,259.4 187.2,260.2 187.4,259.7 187.6,259.0 187.8,260.8 187.9,260.2 188.1,259.5 188.3,257.9 188.5,258.6 188.7,257.9 188.9,258.1 189.0,259.6 189.2,259.3 189.4,260.2 189.6,258.2 189.8,258.6 190.0,258.7 190.1,258.6 190.3,258.8 190.5,259.0 190.7,259.0 190.9,258.2 191.0,259.9 191.2,260.1 191.4,259.2 191.6,258.2 191.8,259.0 192.0,259.4 192.1,258.5 192.3,259.1 192.5,260.9 192.7,260.1 192.9,261.0 193.1,259.4 193.2,259.6 193.4,258.8 193.6,257.3 193.8,259.7 194.0,259.2 194.2,259.5 194.3,261.3 194.5,259.9 194.7,259.8 194.9,259.0 195.1,259.9 195.3,260.3 195.4,258.7 195.6,259.3 195.8,260.0 196.0,259.9 196.2,259.5 196.4,258.5 196.5,257.9 196.7,260.4 196.9,258.2 197.1,259.1 197.3,258.9 197.5,258.3 197.6,260.1 197.8,258.4 198.0,260.4 198.2,259.6 198.4,260.0 198.6,257.7 198.7,257.7 198.9,258.5 199.1,258.7 199.3,259.7 199.5,257.6 199.7,257.9 199.8,258.4 200.0,259.3 200.2,259.5 200.4,259.3 200.6,258.0 200.7,260.1 200.9,259.1 201.1,257.6 201.3,258.3 201.5,257.5 201.7,258.8 201.8,258.7 202.0,257.8 202.2,258.5 202.4,258.8 202.6,259.7 202.8,260.7 202.9,257.6 203.1,259.6 203.3,260.0 203.5,258.2 203.7,260.1 203.9,260.7 204.0,259.8 204.2,259.2 204.4,258.8 204.6,258.6 204.8,258.0 205.0,259.3 205.1,258.7 205.3,259.3 205.5,259.9 205.7,258.6 205.9,258.7 206.1,256.8 206.2,258.4 206.4,260.0 206.6,258.4 206.8,259.5 207.0,257.1 207.2,261.4 207.3,260.0 207.5,260.0 207.7,259.0 207.9,259.3 208.1,261.3 208.3,261.7 208.4,258.9 208.6,257.1 208.8,257.1 209.0,259.7 209.2,258.5 209.3,260.4 209.5,261.2 209.7,257.3 209.9,258.1 210.1,259.6 210.3,259.7 210.4,257.7 210.6,258.6 210.8,259.6 211.0,258.7 211.2,259.1 211.4,259.8 211.5,260.3 211.7,257.6 211.9,259.9 212.1,261.1 212.3,256.0 212.5,256.9 212.6,258.2 212.8,259.2 213.0,258.7 213.2,261.7 213.4,259.1 213.6,258.6 213.7,259.5 213.9,258.3 214.1,260.6 214.3,258.8 214.5,262.1 214.7,259.2 214.8,260.3 215.0,261.7 215.2,259.9 215.4,259.1 215.6,260.3 215.8,257.2 215.9,260.6 216.1,257.2 216.3,257.6 216.5,260.4 216.7,256.0 216.9,262.1 217.0,258.0 217.2,259.0 217.4,257.4 217.6,262.6 217.8,261.8 218.0,261.0 218.1,259.1 218.3,258.9 218.5,259.1" fill="none" stroke="#86c440" stroke-width="0.8"/><polyline points="35.5,264.1 35.7,273.2 35.9,286.3 36.0,267.2 36.2,293.2 36.4,215.9 36.6,268.2 36.8,239.5 37.0,304.2 37.1,245.5 37.3,277.4 37.5,254.9 37.7,274.4 37.9,274.3 38.1,267.4 38.2,237.7 38.4,268.8 38.6,250.2 38.8,256.9 39.0,254.9 39.2,254.8 39.3,250.6 39.5,274.9 39.7,288.7 39.9,254.6 40.1,266.4 40.3,254.6 40.4,271.5 40.6,250.4 40.8,267.3 41.0,262.3 41.2,250.1 41.4,247.0 41.5,265.3 41.7,265.9 41.9,286.2 42.1,284.3 42.3,245.9 42.5,246.9 42.6,268.7 42.8,248.9 43.0,256.1 43.2,255.5 43.4,276.6 43.6,262.7 43.7,260.5 43.9,261.9 44.1,261.6 44.3,260.9 44.5,273.7 44.6,260.3 44.8,262.9 45.0,259.6 45.2,261.6 45.4,259.2 45.6,257.9 45.7,251.6 45.9,262.6 46.1,252.4 46.3,260.1 46.5,262.5 46.7,264.4 46.8,256.2 47.0,264.2 47.2,256.3 47.4,258.1 47.6,260.8 47.8,261.1 47.9,257.8 48.1,258.8 48.3,257.2 48.5,259.2 48.7,260.5 48.9,257.8 49.0,262.2 49.2,257.1 49.4,259.1 49.6,261.8 49.8,261.5 50.0,259.9 50.1,263.1 50.3,256.2 50.5,257.2 50.7,261.4 50.9,259.4 51.1,255.9 51.2,258.4 51.4,261.0 51.6,263.0 51.8,262.0 52.0,257.2 52.2,258.7 52.3,261.3 52.5,258.1 52.7,259.8 52.9,260.2 53.1,260.0 53.3,259.9 53.4,256.8 53.6,260.5 53.8,259.8 54.0,257.4 54.2,257.2 54.3,260.5 54.5,256.5 54.7,257.8 54.9,261.0 55.1,257.0 55.3,260.9 55.4,258.4 55.6,260.5 55.8,261.2 56.0,258.3 56.2,258.8 56.4,259.3 56.5,259.0 56.7,259.3 56.9,259.4 57.1,260.2 57.3,258.6 57.5,259.2 57.6,259.4 57.8,259.7 58.0,259.5 58.2,260.7 58.4,259.5 58.6,260.2 58.7,258.0 58.9,260.1 59.1,259.6 59.3,259.2 59.5,258.4 59.7,258.8 59.8,259.2 60.0,257.1 60.2,259.2 60.4,258.9 60.6,256.8 60.8,260.1 60.9,258.3 61.1,258.8 61.3,260.5 61.5,259.8 61.7,258.4 61.9,260.6 62.0,259.4 62.2,258.3 62.4,259.4 62.6,258.9 62.8,259.9 63.0,259.8 63.1,259.8 63.3,259.5 63.5,258.6 63.7,259.1 63.9,257.2 64.0,258.7 64.2,258.9 64.4,257.0 64.6,259.3 64.8,260.0 65.0,259.0 65.1,260.3 65.3,258.7 65.5,257.8 65.7,258.6 65.9,259.6 66.1,259.3 66.2,258.7 66.4,258.0 66.6,259.6 66.8,259.6 67.0,258.1 67.2,259.0 67.3,258.9 67.5,258.7 67.7,260.0 67.9,259.3 68.1,258.1 68.3,259.4 68.4,259.4 68.6,258.9 68.8,258.8 69.0,256.8 69.2,260.0 69.4,259.1 69.5,257.2 69.7,259.2 69.9,258.8 70.1,260.7 70.3,258.2 70.5,258.3 70.6,258.4 70.8,259.4 71.0,258.8 71.2,259.3 71.4,258.3 71.6,259.2 71.7,258.4 71.9,260.6 72.1,259.5 72.3,261.7 72.5,259.3 72.6,258.4 72.8,259.5 73.0,256.8 73.2,260.2 73.4,259.5 73.6,260.1 73.7,259.7 73.9,259.7 74.1,260.7 74.3,260.2 74.5,257.1 74.7,259.5 74.8,258.2 75.0,260.5 75.2,259.3 75.4,258.6 75.6,259.4 75.8,259.7 75.9,259.4 76.1,259.2 76.3,258.3 76.5,257.9 76.7,260.6 76.9,261.3 77.0,259.4 77.2,259.2 77.4,258.4 77.6,258.1 77.8,259.9 78.0,257.0 78.1,258.9 78.3,261.1 78.5,258.2 78.7,258.9 78.9,258.9 79.1,260.9 79.2,259.5 79.4,259.0 79.6,259.4 79.8,258.5 80.0,257.9 80.2,257.6 80.3,257.9 80.5,259.4 80.7,257.4 80.9,258.9 81.1,258.3 81.2,259.5 81.4,260.7 81.6,261.8 81.8,259.0 82.0,260.0 82.2,259.2 82.3,258.0 82.5,261.3 82.7,261.7 82.9,258.8 83.1,258.7 83.3,259.6 83.4,260.0 83.6,261.8 83.8,259.3 84.0,260.5 84.2,258.4 84.4,257.5 84.5,260.2 84.7,258.4 84.9,258.8 85.1,257.8 85.3,256.1 85.5,257.8 85.6,257.7 85.8,257.5 86.0,260.1 86.2,259.2 86.4,258.3 86.6,256.0 86.7,255.6 86.9,252.7 87.1,262.5 87.3,259.3 87.5,264.8 87.7,261.0 87.8,264.9 88.0,255.0 88.2,256.4 88.4,263.3 88.6,257.8 88.8,256.1 88.9,251.8 89.1,255.6 89.3,258.6 89.5,259.6 89.7,256.3 89.9,257.8 90.0,261.4 90.2,273.1 90.4,254.3 90.6,262.4 90.8,260.3 90.9,256.0 91.1,259.4 91.3,255.3 91.5,262.8 91.7,256.9 91.9,263.0 92.0,263.3 92.2,261.9 92.4,258.9 92.6,260.8 92.8,262.2 93.0,256.7 93.1,261.1 93.3,259.4 93.5,258.8 93.7,260.0 93.9,258.7 94.1,258.4 94.2,259.3 94.4,257.9 94.6,259.9 94.8,260.4 95.0,259.0 95.2,260.2 95.3,258.8 95.5,259.3 95.7,259.6 95.9,258.8 96.1,258.8 96.3,261.1 96.4,259.4 96.6,259.1 96.8,258.8 97.0,259.6 97.2,260.1 97.4,259.1 97.5,258.7 97.7,260.8 97.9,260.4 98.1,259.7 98.3,261.1 98.5,259.7 98.6,258.6 98.8,260.0 99.0,259.1 99.2,259.9 99.4,258.9 99.5,258.7 99.7,258.2 99.9,259.1 100.1,258.4 100.3,258.9 100.5,259.6 100.6,258.1 100.8,259.7 101.0,259.1 101.2,257.3 101.4,258.5 101.6,259.8 101.7,259.0 101.9,259.6 102.1,259.3 102.3,260.4 102.5,259.0 102.7,260.4 102.8,258.9 103.0,258.9 103.2,258.5 103.4,257.5 103.6,260.5 103.8,260.1 103.9,260.0 104.1,259.6 104.3,258.5 104.5,259.5 104.7,259.7 104.9,260.1 105.0,259.7 105.2,259.5 105.4,259.3 105.6,260.3 105.8,259.3 106.0,258.8 106.1,258.9 106.3,260.2 106.5,258.6 106.7,258.6 106.9,259.0 107.1,260.2 107.2,260.3 107.4,259.2 107.6,260.0 107.8,260.2 108.0,258.5 108.2,258.5 108.3,258.7 108.5,258.2 108.7,258.5 108.9,260.1 109.1,258.3 109.2,259.1 109.4,258.9 109.6,258.0 109.8,258.9 110.0,258.0 110.2,259.2 110.3,259.5 110.5,259.7 110.7,259.3 110.9,260.5 111.1,259.2 111.3,259.3 111.4,259.6 111.6,260.9 111.8,260.9 112.0,258.7 112.2,259.9 112.4,258.1 112.5,259.8 112.7,258.9 112.9,260.3 113.1,259.7 113.3,259.4 113.5,258.8 113.6,257.9 113.8,258.5 114.0,260.3 114.2,259.2 114.4,259.3 114.6,259.7 114.7,258.7 114.9,258.0 115.1,259.6 115.3,258.3 115.5,258.1 115.7,260.0 115.8,257.8 116.0,257.9 116.2,259.0 116.4,257.9 116.6,259.0 116.8,258.3 116.9,258.7 117.1,259.9 117.3,259.0 117.5,259.3 117.7,259.6 117.9,260.1 118.0,259.8 118.2,260.2 118.4,258.3 118.6,260.7 118.8,259.1 118.9,259.7 119.1,260.2 119.3,258.6 119.5,259.8 119.7,258.3 119.9,259.3 120.0,258.9 120.2,259.3 120.4,258.7 120.6,258.5 120.8,259.5 121.0,259.2 121.1,257.8 121.3,259.6 121.5,257.8 121.7,259.5 121.9,259.6 122.1,260.5 122.2,259.9 122.4,260.6 122.6,259.6 122.8,258.7 123.0,259.2 123.2,259.7 123.3,260.0 123.5,259.7 123.7,260.3 123.9,260.2 124.1,257.7 124.3,259.0 124.4,259.9 124.6,258.7 124.8,258.0 125.0,259.7 125.2,259.3 125.4,260.2 125.5,260.4 125.7,258.1 125.9,257.3 126.1,259.8 126.3,260.5 126.5,258.1 126.6,258.4 126.8,258.8 127.0,258.1 127.2,259.5 127.4,259.0 127.5,258.6 127.7,259.4 127.9,258.8 128.1,259.4 128.3,258.8 128.5,259.1 128.6,260.7 128.8,259.1 129.0,260.3 129.2,259.9 129.4,260.5 129.6,258.6 129.7,259.5 129.9,259.5 130.1,258.2 130.3,258.7 130.5,259.4 130.7,260.8 130.8,258.7 131.0,259.4 131.2,259.5 131.4,258.6 131.6,259.7 131.8,259.3 131.9,258.5 132.1,258.8 132.3,259.7 132.5,258.1 132.7,258.3 132.9,257.7 133.0,259.2 133.2,259.0 133.4,258.4 133.6,258.9 133.8,259.1 134.0,259.3 134.1,259.4 134.3,259.7 134.5,259.7 134.7,258.9 134.9,259.4 135.1,260.3 135.2,259.2 135.4,257.9 135.6,258.1 135.8,260.8 136.0,259.9 136.2,258.6 136.3,259.1 136.5,259.1 136.7,259.3 136.9,259.2 137.1,260.0 137.2,258.3 137.4,260.0 137.6,259.3 137.8,258.0 138.0,258.4 138.2,259.2 138.3,259.2 138.5,259.7 138.7,259.6 138.9,259.4 139.1,258.2 139.3,259.5 139.4,258.8 139.6,258.9 139.8,258.9 140.0,259.4 140.2,258.6 140.4,259.1 140.5,259.1 140.7,259.6 140.9,260.9 141.1,258.6 141.3,258.6 141.5,259.6 141.6,259.3 141.8,259.0 142.0,259.9 142.2,258.6 142.4,258.6 142.6,258.5 142.7,258.5 142.9,260.6 143.1,258.8 143.3,259.5 143.5,258.3 143.7,258.4 143.8,258.5 144.0,259.2 144.2,257.3 144.4,259.2 144.6,260.0 144.8,258.4 144.9,260.3 145.1,257.7 145.3,258.4 145.5,258.2 145.7,258.4 145.8,258.9 146.0,260.2 146.2,259.6 146.4,258.7 146.6,259.3 146.8,258.9 146.9,259.7 147.1,259.8 147.3,258.9 147.5,258.6 147.7,259.2 147.9,259.9 148.0,260.4 148.2,257.6 148.4,260.0 148.6,259.8 148.8,259.7 149.0,258.5 149.1,259.8 149.3,258.8 149.5,258.9 149.7,260.1 149.9,259.1 150.1,260.1 150.2,259.3 150.4,258.6 150.6,259.4 150.8,259.9 151.0,259.5 151.2,259.3 151.3,258.9 151.5,260.9 151.7,260.6 151.9,258.8 152.1,259.3 152.3,259.2 152.4,259.0 152.6,259.3 152.8,259.5 153.0,259.1 153.2,258.7 153.4,258.9 153.5,259.2 153.7,260.0 153.9,259.0 154.1,260.1 154.3,259.7 154.4,259.1 154.6,259.1 154.8,258.4 155.0,258.5 155.2,258.8 155.4,259.5 155.5,259.2 155.7,259.4 155.9,257.9 156.1,258.9 156.3,259.7 156.5,259.9 156.6,258.3 156.8,259.9 157.0,258.9 157.2,259.1 157.4,258.4 157.6,259.9 157.7,258.8 157.9,259.0 158.1,258.6 158.3,258.2 158.5,259.1 158.7,259.4 158.8,258.5 159.0,260.3 159.2,259.1 159.4,260.0 159.6,260.1 159.8,260.4 159.9,260.5 160.1,258.6 160.3,258.5 160.5,259.1 160.7,258.4 160.9,259.2 161.0,259.6 161.2,260.0 161.4,258.6 161.6,258.6 161.8,258.2 162.0,259.8 162.1,259.4 162.3,260.2 162.5,258.3 162.7,258.6 162.9,258.8 163.1,259.2 163.2,254.0 163.4,259.5 163.6,258.3 163.8,259.7 164.0,258.5 164.1,259.0 164.3,260.0 164.5,260.3 164.7,259.8 164.9,259.2 165.1,260.2 165.2,258.7 165.4,258.3 165.6,258.8 165.8,260.5 166.0,261.1 166.2,258.5 166.3,258.0 166.5,259.5 166.7,258.8 166.9,259.4 167.1,259.7 167.3,258.4 167.4,259.6 167.6,258.5 167.8,257.8 168.0,259.3 168.2,257.7 168.4,260.2 168.5,258.4 168.7,259.2 168.9,257.2 169.1,259.1 169.3,259.8 169.5,257.9 169.6,260.4 169.8,258.8 170.0,259.9 170.2,258.3 170.4,259.8 170.6,259.4 170.7,260.5 170.9,261.5 171.1,262.2 171.3,258.6 171.5,259.5 171.7,260.3 171.8,259.2 172.0,257.8 172.2,259.3 172.4,255.7 172.6,257.7 172.8,257.9 172.9,257.0 173.1,258.4 173.3,259.7 173.5,258.3 173.7,258.8 173.8,258.2 174.0,260.0 174.2,260.1 174.4,258.7 174.6,259.6 174.8,261.0 174.9,259.7 175.1,258.7 175.3,259.8 175.5,258.1 175.7,259.6 175.9,259.3 176.0,260.6 176.2,259.9 176.4,259.4 176.6,258.7 176.8,259.0 177.0,258.3 177.1,261.1 177.3,259.2 177.5,259.3 177.7,260.1 177.9,259.2 178.1,259.8 178.2,258.8 178.4,259.5 178.6,258.8 178.8,260.0 179.0,258.1 179.2,258.9 179.3,257.6 179.5,259.3 179.7,259.6 179.9,259.1 180.1,259.6 180.3,260.1 180.4,259.2 180.6,259.3 180.8,259.8 181.0,259.5 181.2,260.1 181.4,259.1 181.5,260.4 181.7,257.7 181.9,259.2 182.1,258.4 182.3,260.3 182.4,258.9 182.6,259.3 182.8,258.3 183.0,258.4 183.2,260.7 183.4,258.2 183.5,260.5 183.7,258.0 183.9,259.2 184.1,260.3 184.3,258.6 184.5,259.2 184.6,260.1 184.8,259.9 185.0,258.8 185.2,260.4 185.4,260.0 185.6,257.5 185.7,259.9 185.9,258.9 186.1,258.8 186.3,258.3 186.5,258.4 186.7,261.4 186.8,259.6 187.0,258.1 187.2,259.9 187.4,257.5 187.6,259.0 187.8,260.3 187.9,258.7 188.1,257.4 188.3,259.8 188.5,258.7 188.7,260.0 188.9,259.7 189.0,259.1 189.2,258.7 189.4,258.9 189.6,259.0 189.8,257.0 190.0,260.2 190.1,260.9 190.3,258.7 190.5,259.0 190.7,260.5 190.9,257.6 191.0,259.9 191.2,260.5 191.4,258.8 191.6,258.6 191.8,257.0 192.0,260.6 192.1,260.4 192.3,259.5 192.5,259.6 192.7,259.3 192.9,259.9 193.1,260.7 193.2,259.6 193.4,258.5 193.6,258.4 193.8,259.8 194.0,258.7 194.2,258.8 194.3,259.7 194.5,259.5 194.7,259.1 194.9,256.9 195.1,259.0 195.3,260.0 195.4,259.3 195.6,259.7 195.8,258.1 196.0,261.3 196.2,260.2 196.4,258.4 196.5,258.8 196.7,259.2 196.9,258.5 197.1,260.5 197.3,258.8 197.5,260.3 197.6,260.4 197.8,258.7 198.0,260.0 198.2,259.5 198.4,258.6 198.6,260.2 198.7,258.6 198.9,257.0 199.1,259.4 199.3,258.3 199.5,258.4 199.7,260.4 199.8,260.5 200.0,259.2 200.2,261.3 200.4,259.1 200.6,258.9 200.7,258.7 200.9,258.7 201.1,257.8 201.3,259.5 201.5,257.7 201.7,258.6 201.8,258.6 202.0,259.3 202.2,258.1 202.4,260.0 202.6,258.4 202.8,257.9 202.9,260.0 203.1,260.3 203.3,260.1 203.5,259.2 203.7,258.7 203.9,258.1 204.0,256.8 204.2,257.2 204.4,258.8 204.6,259.7 204.8,260.7 205.0,258.1 205.1,258.5 205.3,259.5 205.5,259.4 205.7,259.3 205.9,262.4 206.1,259.2 206.2,258.7 206.4,259.3 206.6,260.7 206.8,259.1 207.0,258.5 207.2,256.6 207.3,257.6 207.5,258.3 207.7,259.2 207.9,261.1 208.1,259.9 208.3,261.2 208.4,259.3 208.6,257.5 208.8,257.6 209.0,257.8 209.2,259.1 209.3,257.6 209.5,259.6 209.7,262.3 209.9,258.9 210.1,259.1 210.3,262.1 210.4,260.1 210.6,263.3 210.8,260.0 211.0,257.0 211.2,260.3 211.4,256.8 211.5,258.7 211.7,260.5 211.9,262.4 212.1,257.8 212.3,257.9 212.5,262.0 212.6,260.0 212.8,257.0 213.0,260.6 213.2,258.4 213.4,263.1 213.6,261.0 213.7,257.7 213.9,261.6 214.1,262.2 214.3,262.1 214.5,260.0 214.7,262.5 214.8,259.4 215.0,257.9 215.2,255.8 215.4,260.0 215.6,255.5 215.8,257.9 215.9,259.7 216.1,258.0 216.3,255.6 216.5,255.7 216.7,257.4 216.9,259.4 217.0,257.2 217.2,258.6 217.4,258.7 217.6,258.5 217.8,254.7 218.0,262.1 218.1,259.3 218.3,261.9 218.5,256.9" fill="none" stroke="#48a038" stroke-width="0.8"/><polyline points="35.5,237.3 35.7,233.2 35.9,265.3 36.0,257.8 36.2,245.1 36.4,255.6 36.6,253.8 36.8,255.5 37.0,254.3 37.1,260.6 37.3,251.9 37.5,281.1 37.7,297.3 37.9,278.1 38.1,260.1 38.2,268.9 38.4,251.6 38.6,242.3 38.8,274.9 39.0,268.8 39.2,283.5 39.3,241.0 39.5,249.4 39.7,253.5 39.9,259.5 40.1,264.0 40.3,254.5 40.4,253.2 40.6,257.1 40.8,265.2 41.0,276.0 41.2,267.8 41.4,262.8 41.5,270.7 41.7,255.7 41.9,272.8 42.1,261.8 42.3,255.8 42.5,251.9 42.6,257.0 42.8,249.4 43.0,263.5 43.2,264.6 43.4,251.4 43.6,264.9 43.7,260.0 43.9,269.8 44.1,252.3 44.3,255.0 44.5,263.2 44.6,268.2 44.8,257.8 45.0,257.8 45.2,253.9 45.4,251.3 45.6,258.1 45.7,260.0 45.9,260.0 46.1,260.2 46.3,264.0 46.5,262.2 46.7,259.4 46.8,264.4 47.0,263.2 47.2,255.6 47.4,261.0 47.6,257.0 47.8,256.3 47.9,259.1 48.1,257.1 48.3,259.6 48.5,261.3 48.7,259.4 48.9,259.0 49.0,258.9 49.2,259.0 49.4,260.0 49.6,256.9 49.8,259.6 50.0,260.0 50.1,257.3 50.3,261.1 50.5,259.2 50.7,256.4 50.9,259.0 51.1,256.6 51.2,259.6 51.4,260.0 51.6,259.4 51.8,260.0 52.0,259.7 52.2,259.8 52.3,258.0 52.5,258.6 52.7,259.4 52.9,260.2 53.1,256.0 53.3,259.4 53.4,257.3 53.6,260.7 53.8,260.1 54.0,257.6 54.2,260.5 54.3,260.4 54.5,259.2 54.7,260.0 54.9,259.5 55.1,259.0 55.3,258.2 55.4,259.0 55.6,258.9 55.8,257.8 56.0,257.8 56.2,259.5 56.4,260.9 56.5,260.1 56.7,258.2 56.9,259.6 57.1,259.8 57.3,259.6 57.5,257.8 57.6,259.1 57.8,259.5 58.0,259.8 58.2,260.1 58.4,257.1 58.6,259.2 58.7,259.0 58.9,259.4 59.1,258.2 59.3,260.0 59.5,260.8 59.7,259.7 59.8,258.9 60.0,257.2 60.2,259.2 60.4,259.9 60.6,259.4 60.8,259.9 60.9,259.9 61.1,259.1 61.3,258.9 61.5,259.7 61.7,258.2 61.9,259.2 62.0,259.1 62.2,259.6 62.4,258.8 62.6,258.8 62.8,258.6 63.0,259.9 63.1,258.6 63.3,259.7 63.5,259.1 63.7,258.5 63.9,257.8 64.0,259.6 64.2,260.1 64.4,259.0 64.6,258.1 64.8,259.4 65.0,257.1 65.1,260.9 65.3,257.8 65.5,258.1 65.7,258.1 65.9,259.9 66.1,257.9 66.2,258.1 66.4,258.0 66.6,259.4 66.8,259.4 67.0,258.0 67.2,258.8 67.3,259.5 67.5,259.9 67.7,258.9 67.9,260.4 68.1,258.6 68.3,259.0 68.4,260.6 68.6,258.7 68.8,258.0 69.0,258.9 69.2,260.4 69.4,259.7 69.5,258.4 69.7,260.3 69.9,259.5 70.1,258.1 70.3,259.4 70.5,259.7 70.6,258.4 70.8,257.7 71.0,258.8 71.2,260.4 71.4,260.6 71.6,259.4 71.7,260.8 71.9,259.2 72.1,258.3 72.3,261.4 72.5,259.3 72.6,258.9 72.8,259.7 73.0,258.8 73.2,258.7 73.4,258.2 73.6,257.0 73.7,258.9 73.9,260.0 74.1,260.1 74.3,260.3 74.5,258.5 74.7,258.8 74.8,258.7 75.0,259.0 75.2,257.7 75.4,258.1 75.6,258.2 75.8,259.8 75.9,259.5 76.1,260.4 76.3,259.8 76.5,259.1 76.7,260.3 76.9,259.8 77.0,257.2 77.2,259.3 77.4,260.6 77.6,260.3 77.8,259.2 78.0,258.4 78.1,259.2 78.3,258.3 78.5,258.9 78.7,260.2 78.9,258.2 79.1,259.6 79.2,257.4 79.4,259.7 79.6,259.3 79.8,259.7 80.0,259.4 80.2,258.7 80.3,259.3 80.5,258.0 80.7,258.7 80.9,257.6 81.1,259.1 81.2,257.9 81.4,257.9 81.6,259.3 81.8,256.6 82.0,257.5 82.2,258.5 82.3,259.4 82.5,259.2 82.7,259.3 82.9,258.7 83.1,260.6 83.3,259.0 83.4,260.0 83.6,256.7 83.8,258.0 84.0,256.5 84.2,255.4 84.4,258.3 84.5,255.8 84.7,258.4 84.9,258.0 85.1,260.7 85.3,258.9 85.5,256.4 85.6,258.1 85.8,259.8 86.0,259.0 86.2,260.6 86.4,260.5 86.6,262.4 86.7,256.3 86.9,256.2 87.1,259.3 87.3,262.8 87.5,259.7 87.7,252.9 87.8,263.1 88.0,260.6 88.2,260.5 88.4,256.1 88.6,263.5 88.8,257.9 88.9,262.1 89.1,260.3 89.3,263.8 89.5,256.7 89.7,260.9 89.9,261.3 90.0,254.3 90.2,257.4 90.4,249.2 90.6,257.2 90.8,258.6 90.9,258.5 91.1,251.2 91.3,255.0 91.5,259.8 91.7,258.1 91.9,260.3 92.0,257.4 92.2,260.2 92.4,260.2 92.6,258.1 92.8,256.3 93.0,257.4 93.1,257.7 93.3,259.0 93.5,262.8 93.7,259.3 93.9,259.4 94.1,258.4 94.2,257.1 94.4,258.3 94.6,261.0 94.8,259.1 95.0,259.4 95.2,258.5 95.3,259.2 95.5,260.7 95.7,259.8 95.9,259.4 96.1,260.6 96.3,259.2 96.4,259.4 96.6,258.4 96.8,259.2 97.0,259.6 97.2,259.2 97.4,259.1 97.5,258.5 97.7,259.8 97.9,260.7 98.1,257.5 98.3,258.6 98.5,259.1 98.6,257.5 98.8,260.0 99.0,259.7 99.2,259.5 99.4,258.8 99.5,259.5 99.7,258.6 99.9,259.4 100.1,258.3 100.3,258.8 100.5,260.3 100.6,259.2 100.8,260.0 101.0,259.3 101.2,259.2 101.4,257.6 101.6,259.3 101.7,260.3 101.9,259.1 102.1,260.0 102.3,257.9 102.5,258.7 102.7,258.1 102.8,259.5 103.0,259.9 103.2,259.0 103.4,260.1 103.6,259.9 103.8,259.7 103.9,259.3 104.1,260.2 104.3,260.6 104.5,258.2 104.7,259.6 104.9,259.3 105.0,258.8 105.2,258.9 105.4,259.6 105.6,259.5 105.8,258.0 106.0,258.3 106.1,258.6 106.3,258.0 106.5,260.5 106.7,259.1 106.9,259.4 107.1,260.5 107.2,258.9 107.4,258.7 107.6,259.0 107.8,260.4 108.0,259.3 108.2,259.0 108.3,259.3 108.5,259.0 108.7,258.8 108.9,258.2 109.1,259.0 109.2,257.5 109.4,259.0 109.6,259.0 109.8,258.6 110.0,259.2 110.2,259.4 110.3,258.3 110.5,260.7 110.7,260.4 110.9,257.7 111.1,258.6 111.3,258.8 111.4,258.9 111.6,259.0 111.8,259.8 112.0,259.4 112.2,259.9 112.4,258.3 112.5,258.7 112.7,259.0 112.9,258.9 113.1,259.2 113.3,260.0 113.5,257.9 113.6,258.7 113.8,259.3 114.0,258.7 114.2,258.2 114.4,258.3 114.6,258.7 114.7,258.6 114.9,259.3 115.1,258.2 115.3,258.5 115.5,258.5 115.7,260.1 115.8,258.7 116.0,258.7 116.2,258.6 116.4,260.9 116.6,260.5 116.8,259.0 116.9,259.8 117.1,258.9 117.3,259.2 117.5,258.5 117.7,259.6 117.9,259.9 118.0,258.8 118.2,259.4 118.4,260.0 118.6,260.6 118.8,257.5 118.9,259.4 119.1,259.3 119.3,260.6 119.5,259.9 119.7,259.3 119.9,258.9 120.0,258.6 120.2,259.7 120.4,258.8 120.6,258.4 120.8,259.5 121.0,259.2 121.1,260.5 121.3,259.8 121.5,260.2 121.7,258.7 121.9,259.3 122.1,258.0 122.2,259.0 122.4,258.6 122.6,258.8 122.8,259.0 123.0,259.9 123.2,258.0 123.3,259.2 123.5,260.5 123.7,259.6 123.9,260.0 124.1,258.3 124.3,258.4 124.4,258.1 124.6,257.6 124.8,259.6 125.0,260.5 125.2,259.8 125.4,258.9 125.5,260.9 125.7,259.6 125.9,258.6 126.1,259.8 126.3,259.3 126.5,259.8 126.6,257.9 126.8,257.8 127.0,259.9 127.2,259.8 127.4,259.1 127.5,258.7 127.7,258.8 127.9,258.7 128.1,258.4 128.3,258.3 128.5,257.8 128.6,259.0 128.8,259.4 129.0,259.2 129.2,257.5 129.4,258.5 129.6,258.6 129.7,258.1 129.9,258.2 130.1,257.5 130.3,259.7 130.5,258.9 130.7,258.5 130.8,258.5 131.0,259.4 131.2,260.3 131.4,259.3 131.6,259.6 131.8,259.2 131.9,258.3 132.1,258.6 132.3,259.9 132.5,259.6 132.7,259.0 132.9,258.3 133.0,259.1 133.2,258.9 133.4,260.2 133.6,259.5 133.8,259.7 134.0,259.0 134.1,259.3 134.3,259.8 134.5,259.9 134.7,259.0 134.9,259.6 135.1,258.3 135.2,259.0 135.4,259.3 135.6,258.5 135.8,260.0 136.0,258.5 136.2,259.7 136.3,258.6 136.5,259.6 136.7,259.8 136.9,260.5 137.1,259.1 137.2,258.8 137.4,260.2 137.6,257.9 137.8,259.2 138.0,260.0 138.2,257.8 138.3,259.5 138.5,258.1 138.7,260.9 138.9,257.6 139.1,259.0 139.3,259.2 139.4,258.9 139.6,260.0 139.8,258.5 140.0,258.9 140.2,258.9 140.4,259.6 140.5,260.0 140.7,258.9 140.9,258.6 141.1,259.1 141.3,259.3 141.5,259.6 141.6,258.7 141.8,258.1 142.0,259.3 142.2,259.8 142.4,257.5 142.6,260.3 142.7,259.0 142.9,259.3 143.1,258.2 143.3,259.3 143.5,260.4 143.7,260.0 143.8,259.1 144.0,259.2 144.2,259.7 144.4,259.6 144.6,260.3 144.8,260.2 144.9,259.6 145.1,259.7 145.3,259.3 145.5,260.0 145.7,258.1 145.8,260.4 146.0,258.6 146.2,258.8 146.4,258.0 146.6,258.2 146.8,260.1 146.9,258.9 147.1,258.6 147.3,258.5 147.5,258.8 147.7,259.6 147.9,258.2 148.0,259.2 148.2,259.5 148.4,259.0 148.6,259.5 148.8,259.6 149.0,259.1 149.1,257.5 149.3,258.9 149.5,259.1 149.7,259.5 149.9,258.9 150.1,260.0 150.2,258.8 150.4,259.0 150.6,259.1 150.8,258.8 151.0,259.3 151.2,258.7 151.3,258.8 151.5,258.8 151.7,259.1 151.9,258.5 152.1,259.3 152.3,258.2 152.4,259.2 152.6,258.2 152.8,259.0 153.0,259.2 153.2,259.9 153.4,258.7 153.5,258.9 153.7,259.1 153.9,258.9 154.1,259.1 154.3,259.8 154.4,260.0 154.6,258.7 154.8,259.0 155.0,258.1 155.2,257.7 155.4,258.6 155.5,258.7 155.7,258.7 155.9,259.1 156.1,259.6 156.3,260.9 156.5,258.6 156.6,258.7 156.8,259.1 157.0,259.1 157.2,258.5 157.4,258.5 157.6,259.0 157.7,259.3 157.9,258.7 158.1,258.6 158.3,257.6 158.5,259.8 158.7,258.8 158.8,259.8 159.0,259.5 159.2,257.5 159.4,259.4 159.6,259.2 159.8,259.6 159.9,258.5 160.1,259.4 160.3,260.3 160.5,259.0 160.7,258.6 160.9,259.2 161.0,259.0 161.2,259.7 161.4,259.8 161.6,259.1 161.8,260.0 162.0,259.5 162.1,259.9 162.3,259.3 162.5,258.6 162.7,259.2 162.9,258.3 163.1,258.9 163.2,259.3 163.4,259.8 163.6,252.3 163.8,260.0 164.0,258.6 164.1,260.2 164.3,260.2 164.5,259.8 164.7,260.4 164.9,259.1 165.1,259.7 165.2,259.5 165.4,258.7 165.6,260.8 165.8,259.4 166.0,258.9 166.2,258.4 166.3,259.1 166.5,259.7 166.7,258.5 166.9,258.5 167.1,257.5 167.3,257.6 167.4,259.3 167.6,258.1 167.8,259.0 168.0,259.9 168.2,258.6 168.4,258.2 168.5,260.9 168.7,258.2 168.9,259.8 169.1,258.0 169.3,259.0 169.5,259.1 169.6,258.1 169.8,259.4 170.0,257.7 170.2,260.1 170.4,260.1 170.6,260.9 170.7,260.0 170.9,260.6 171.1,259.8 171.3,259.2 171.5,259.0 171.7,258.5 171.8,258.1 172.0,258.6 172.2,258.6 172.4,258.4 172.6,256.9 172.8,258.0 172.9,258.8 173.1,259.2 173.3,259.1 173.5,258.9 173.7,259.4 173.8,260.0 174.0,258.8 174.2,260.9 174.4,259.5 174.6,258.4 174.8,259.0 174.9,258.3 175.1,259.1 175.3,258.8 175.5,259.2 175.7,259.6 175.9,258.9 176.0,258.5 176.2,260.8 176.4,259.9 176.6,260.9 176.8,260.0 177.0,260.2 177.1,259.6 177.3,259.5 177.5,258.5 177.7,258.3 177.9,259.9 178.1,259.6 178.2,258.8 178.4,259.8 178.6,259.6 178.8,260.7 179.0,258.7 179.2,259.0 179.3,260.0 179.5,260.3 179.7,260.1 179.9,258.9 180.1,259.6 180.3,260.2 180.4,259.5 180.6,258.6 180.8,258.2 181.0,258.2 181.2,259.1 181.4,259.0 181.5,259.0 181.7,258.7 181.9,258.8 182.1,260.0 182.3,259.8 182.4,259.5 182.6,258.7 182.8,259.6 183.0,259.9 183.2,258.4 183.4,258.0 183.5,260.0 183.7,259.3 183.9,258.3 184.1,259.6 184.3,258.5 184.5,260.4 184.6,259.4 184.8,258.7 185.0,258.0 185.2,258.4 185.4,260.6 185.6,260.5 185.7,259.9 185.9,258.5 186.1,258.6 186.3,258.3 186.5,258.7 186.7,259.7 186.8,259.5 187.0,260.0 187.2,258.5 187.4,260.3 187.6,259.2 187.8,259.0 187.9,258.2 188.1,259.9 188.3,258.9 188.5,260.1 188.7,258.4 188.9,259.5 189.0,259.5 189.2,260.0 189.4,259.7 189.6,259.8 189.8,259.7 190.0,258.3 190.1,260.1 190.3,259.0 190.5,258.5 190.7,260.2 190.9,261.0 191.0,258.8 191.2,260.6 191.4,259.9 191.6,259.3 191.8,259.0 192.0,259.5 192.1,259.8 192.3,258.4 192.5,259.0 192.7,257.6 192.9,260.0 193.1,259.3 193.2,259.3 193.4,258.8 193.6,259.0 193.8,259.2 194.0,257.6 194.2,259.4 194.3,258.9 194.5,259.1 194.7,259.7 194.9,258.6 195.1,260.8 195.3,258.2 195.4,260.6 195.6,259.5 195.8,259.1 196.0,259.7 196.2,259.7 196.4,258.2 196.5,257.2 196.7,258.3 196.9,259.1 197.1,259.8 197.3,259.9 197.5,258.2 197.6,258.4 197.8,258.1 198.0,258.4 198.2,258.1 198.4,259.7 198.6,259.9 198.7,260.1 198.9,259.3 199.1,259.4 199.3,259.1 199.5,260.3 199.7,259.1 199.8,258.5 200.0,259.2 200.2,261.3 200.4,259.3 200.6,259.6 200.7,258.4 200.9,259.4 201.1,258.6 201.3,259.6 201.5,258.9 201.7,258.3 201.8,259.5 202.0,258.9 202.2,259.1 202.4,258.6 202.6,259.4 202.8,258.7 202.9,261.1 203.1,259.5 203.3,258.4 203.5,258.5 203.7,260.3 203.9,260.1 204.0,258.8 204.2,258.8 204.4,258.7 204.6,259.2 204.8,259.1 205.0,258.1 205.1,260.3 205.3,260.9 205.5,258.1 205.7,260.1 205.9,258.4 206.1,260.1 206.2,260.6 206.4,257.4 206.6,259.3 206.8,261.0 207.0,259.5 207.2,259.5 207.3,259.5 207.5,259.0 207.7,260.8 207.9,259.6 208.1,258.7 208.3,258.4 208.4,259.2 208.6,260.3 208.8,261.9 209.0,257.3 209.2,260.8 209.3,259.9 209.5,259.2 209.7,258.6 209.9,259.3 210.1,260.5 210.3,259.3 210.4,256.2 210.6,255.6 210.8,259.6 211.0,258.3 211.2,262.0 211.4,258.9 211.5,258.1 211.7,259.8 211.9,256.3 212.1,257.8 212.3,258.2 212.5,263.2 212.6,260.3 212.8,258.0 213.0,260.1 213.2,262.4 213.4,260.3 213.6,256.5 213.7,258.0 213.9,257.7 214.1,258.9 214.3,256.3 214.5,263.7 214.7,261.5 214.8,255.6 215.0,257.2 215.2,258.8 215.4,259.9 215.6,262.8 215.8,260.1 215.9,259.5 216.1,261.1 216.3,256.4 216.5,257.1 216.7,259.9 216.9,257.4 217.0,259.3 217.2,258.7 217.4,260.3 217.6,254.0 217.8,262.5 218.0,259.6 218.1,257.0 218.3,257.0 218.5,262.9" fill="none" stroke="#2c6e2c" stroke-width="0.8"/><polyline points="35.5,275.9 35.7,261.3 35.9,272.8 36.0,270.4 36.2,263.6 36.4,262.0 36.6,242.8 36.8,284.9 37.0,244.2 37.1,262.8 37.3,251.4 37.5,264.3 37.7,228.2 37.9,282.9 38.1,244.4 38.2,265.0 38.4,262.2 38.6,242.8 38.8,261.8 39.0,249.1 39.2,243.1 39.3,266.0 39.5,237.3 39.7,245.8 39.9,261.7 40.1,257.0 40.3,266.6 40.4,256.3 40.6,250.7 40.8,249.5 41.0,257.1 41.2,264.1 41.4,265.2 41.5,267.9 41.7,261.7 41.9,254.0 42.1,264.2 42.3,264.8 42.5,267.5 42.6,255.0 42.8,261.1 43.0,270.2 43.2,252.1 43.4,252.7 43.6,259.1 43.7,261.3 43.9,259.4 44.1,264.2 44.3,254.1 44.5,252.5 44.6,254.5 44.8,258.2 45.0,258.3 45.2,257.1 45.4,252.8 45.6,262.1 45.7,259.3 45.9,261.6 46.1,263.2 46.3,258.2 46.5,255.8 46.7,262.4 46.8,256.4 47.0,257.4 47.2,258.0 47.4,255.8 47.6,260.8 47.8,255.5 47.9,260.0 48.1,258.0 48.3,262.6 48.5,257.1 48.7,259.2 48.9,260.4 49.0,261.3 49.2,258.8 49.4,256.6 49.6,258.2 49.8,259.9 50.0,260.6 50.1,261.1 50.3,259.8 50.5,262.0 50.7,259.9 50.9,257.5 51.1,259.3 51.2,259.5 51.4,260.1 51.6,258.2 51.8,258.3 52.0,257.3 52.2,260.2 52.3,260.7 52.5,260.0 52.7,260.8 52.9,259.3 53.1,259.8 53.3,260.3 53.4,259.3 53.6,258.1 53.8,258.4 54.0,259.9 54.2,259.2 54.3,258.9 54.5,258.5 54.7,259.6 54.9,260.5 55.1,258.9 55.3,260.2 55.4,259.6 55.6,259.5 55.8,258.4 56.0,259.6 56.2,259.1 56.4,259.4 56.5,259.7 56.7,258.5 56.9,259.6 57.1,258.9 57.3,259.0 57.5,260.7 57.6,260.5 57.8,261.1 58.0,259.0 58.2,259.0 58.4,259.6 58.6,259.6 58.7,259.5 58.9,259.7 59.1,259.3 59.3,259.3 59.5,259.9 59.7,258.1 59.8,258.4 60.0,259.6 60.2,257.5 60.4,257.3 60.6,258.2 60.8,258.3 60.9,259.7 61.1,259.5 61.3,260.5 61.5,259.6 61.7,258.4 61.9,259.5 62.0,260.6 62.2,257.9 62.4,257.7 62.6,258.0 62.8,260.4 63.0,258.6 63.1,259.9 63.3,259.3 63.5,258.7 63.7,258.0 63.9,259.7 64.0,259.5 64.2,260.2 64.4,259.2 64.6,260.0 64.8,259.6 65.0,258.6 65.1,259.2 65.3,259.1 65.5,259.0 65.7,258.6 65.9,258.1 66.1,260.2 66.2,260.5 66.4,258.8 66.6,258.7 66.8,258.1 67.0,258.6 67.2,257.8 67.3,258.8 67.5,259.7 67.7,258.4 67.9,259.9 68.1,259.8 68.3,258.9 68.4,259.4 68.6,258.5 68.8,259.5 69.0,257.7 69.2,260.1 69.4,258.6 69.5,259.6 69.7,258.1 69.9,259.7 70.1,258.6 70.3,261.2 70.5,259.8 70.6,257.8 70.8,259.1 71.0,259.1 71.2,258.5 71.4,257.2 71.6,260.1 71.7,259.3 71.9,259.6 72.1,258.6 72.3,259.8 72.5,260.5 72.6,260.5 72.8,258.7 73.0,259.0 73.2,258.5 73.4,260.5 73.6,260.0 73.7,259.7 73.9,258.5 74.1,258.8 74.3,259.3 74.5,260.0 74.7,259.0 74.8,259.6 75.0,258.5 75.2,257.7 75.4,259.1 75.6,260.1 75.8,257.2 75.9,258.7 76.1,258.7 76.3,259.1 76.5,259.1 76.7,259.1 76.9,259.0 77.0,260.5 77.2,259.8 77.4,259.3 77.6,259.1 77.8,259.0 78.0,258.8 78.1,260.7 78.3,260.0 78.5,259.8 78.7,259.1 78.9,259.4 79.1,257.5 79.2,259.5 79.4,259.4 79.6,260.5 79.8,257.6 80.0,259.1 80.2,259.3 80.3,259.7 80.5,259.1 80.7,259.5 80.9,258.1 81.1,259.9 81.2,259.6 81.4,259.7 81.6,258.6 81.8,258.9 82.0,258.2 82.2,258.6 82.3,258.6 82.5,259.1 82.7,258.2 82.9,258.6 83.1,258.8 83.3,261.2 83.4,259.8 83.6,260.1 83.8,261.6 84.0,257.4 84.2,257.1 84.4,257.6 84.5,258.3 84.7,256.9 84.9,261.8 85.1,257.2 85.3,262.5 85.5,258.9 85.6,259.0 85.8,258.3 86.0,258.0 86.2,257.8 86.4,260.6 86.6,260.6 86.7,261.0 86.9,258.9 87.1,260.0 87.3,263.2 87.5,256.7 87.7,262.3 87.8,260.6 88.0,261.4 88.2,261.5 88.4,257.4 88.6,261.5 88.8,264.0 88.9,261.5 89.1,262.9 89.3,264.8 89.5,255.8 89.7,254.9 89.9,264.6 90.0,253.3 90.2,289.7 90.4,264.4 90.6,257.7 90.8,260.2 90.9,256.6 91.1,266.4 91.3,257.5 91.5,260.2 91.7,258.1 91.9,257.2 92.0,264.4 92.2,259.3 92.4,259.2 92.6,258.1 92.8,257.2 93.0,257.9 93.1,260.4 93.3,258.1 93.5,260.3 93.7,258.2 93.9,259.4 94.1,259.4 94.2,259.1 94.4,260.8 94.6,259.5 94.8,260.3 95.0,258.4 95.2,258.2 95.3,260.3 95.5,260.8 95.7,259.0 95.9,259.6 96.1,259.8 96.3,257.8 96.4,259.5 96.6,259.8 96.8,259.4 97.0,259.0 97.2,258.2 97.4,259.0 97.5,260.0 97.7,259.5 97.9,258.1 98.1,260.3 98.3,259.2 98.5,258.5 98.6,259.0 98.8,259.3 99.0,259.8 99.2,259.1 99.4,258.9 99.5,259.1 99.7,258.6 99.9,259.1 100.1,258.4 100.3,259.1 100.5,258.6 100.6,259.4 100.8,258.1 101.0,258.4 101.2,258.8 101.4,259.8 101.6,259.1 101.7,260.7 101.9,259.4 102.1,259.1 102.3,259.7 102.5,259.1 102.7,258.8 102.8,258.1 103.0,259.2 103.2,260.2 103.4,260.7 103.6,259.3 103.8,258.6 103.9,258.5 104.1,259.1 104.3,259.6 104.5,259.6 104.7,259.3 104.9,259.1 105.0,258.8 105.2,259.1 105.4,257.9 105.6,259.1 105.8,258.9 106.0,258.5 106.1,258.6 106.3,259.6 106.5,260.2 106.7,260.0 106.9,259.0 107.1,258.8 107.2,259.0 107.4,258.7 107.6,258.4 107.8,259.7 108.0,257.7 108.2,257.7 108.3,258.7 108.5,259.3 108.7,259.0 108.9,260.1 109.1,259.2 109.2,259.7 109.4,259.2 109.6,259.4 109.8,257.9 110.0,259.7 110.2,259.0 110.3,259.4 110.5,258.2 110.7,258.5 110.9,260.1 111.1,259.8 111.3,259.0 111.4,259.6 111.6,258.9 111.8,259.1 112.0,259.9 112.2,259.4 112.4,258.9 112.5,259.2 112.7,259.1 112.9,258.9 113.1,259.3 113.3,258.3 113.5,260.0 113.6,258.9 113.8,259.5 114.0,258.9 114.2,258.7 114.4,258.8 114.6,258.8 114.7,258.7 114.9,258.8 115.1,259.3 115.3,258.7 115.5,258.6 115.7,258.6 115.8,259.0 116.0,259.0 116.2,260.4 116.4,259.7 116.6,259.3 116.8,258.6 116.9,258.4 117.1,259.1 117.3,259.9 117.5,258.9 117.7,258.6 117.9,258.7 118.0,259.6 118.2,259.9 118.4,259.7 118.6,259.9 118.8,258.6 118.9,259.0 119.1,257.8 119.3,258.2 119.5,258.6 119.7,259.6 119.9,258.8 120.0,258.9 120.2,260.1 120.4,260.0 120.6,259.6 120.8,258.4 121.0,259.4 121.1,260.1 121.3,259.1 121.5,258.8 121.7,259.9 121.9,258.0 122.1,259.7 122.2,258.5 122.4,258.8 122.6,259.6 122.8,259.3 123.0,259.2 123.2,259.4 123.3,258.7 123.5,259.2 123.7,260.3 123.9,259.1 124.1,259.9 124.3,259.3 124.4,259.0 124.6,259.3 124.8,258.6 125.0,259.2 125.2,259.5 125.4,258.2 125.5,258.7 125.7,259.3 125.9,259.2 126.1,259.4 126.3,259.1 126.5,259.8 126.6,258.1 126.8,258.4 127.0,260.6 127.2,259.8 127.4,259.2 127.5,259.6 127.7,260.5 127.9,258.8 128.1,259.9 128.3,258.8 128.5,258.9 128.6,258.2 128.8,259.8 129.0,258.1 129.2,260.0 129.4,258.3 129.6,258.5 129.7,258.9 129.9,259.9 130.1,258.2 130.3,258.7 130.5,260.2 130.7,260.7 130.8,259.6 131.0,259.7 131.2,258.7 131.4,259.1 131.6,259.0 131.8,259.5 131.9,258.6 132.1,259.6 132.3,260.1 132.5,260.7 132.7,258.9 132.9,259.6 133.0,260.3 133.2,259.7 133.4,259.4 133.6,258.8 133.8,260.5 134.0,259.5 134.1,258.7 134.3,258.9 134.5,258.7 134.7,257.9 134.9,259.7 135.1,259.6 135.2,258.5 135.4,258.2 135.6,259.0 135.8,259.4 136.0,259.9 136.2,258.8 136.3,259.0 136.5,259.8 136.7,259.5 136.9,259.8 137.1,258.8 137.2,259.3 137.4,258.4 137.6,258.3 137.8,259.0 138.0,258.4 138.2,258.5 138.3,258.2 138.5,259.5 138.7,258.8 138.9,258.0 139.1,258.7 139.3,259.4 139.4,259.0 139.6,257.7 139.8,259.4 140.0,259.5 140.2,258.6 140.4,259.4 140.5,260.1 140.7,260.1 140.9,259.1 141.1,259.5 141.3,258.2 141.5,259.5 141.6,260.0 141.8,259.6 142.0,259.9 142.2,258.4 142.4,259.6 142.6,258.2 142.7,258.8 142.9,257.9 143.1,259.2 143.3,258.6 143.5,260.5 143.7,259.4 143.8,259.6 144.0,258.4 144.2,259.2 144.4,258.7 144.6,259.6 144.8,260.0 144.9,259.2 145.1,258.3 145.3,259.2 145.5,258.1 145.7,259.3 145.8,259.4 146.0,259.4 146.2,259.3 146.4,259.6 146.6,259.3 146.8,259.6 146.9,259.8 147.1,258.2 147.3,258.6 147.5,259.3 147.7,259.5 147.9,260.1 148.0,258.8 148.2,259.6 148.4,257.9 148.6,260.2 148.8,258.9 149.0,258.4 149.1,259.5 149.3,257.8 149.5,258.5 149.7,258.5 149.9,259.7 150.1,258.5 150.2,258.5 150.4,259.0 150.6,258.0 150.8,258.9 151.0,260.6 151.2,258.9 151.3,258.0 151.5,259.5 151.7,258.6 151.9,259.5 152.1,259.1 152.3,260.7 152.4,260.3 152.6,259.3 152.8,259.5 153.0,260.3 153.2,258.7 153.4,258.9 153.5,259.7 153.7,260.4 153.9,258.8 154.1,259.4 154.3,258.7 154.4,258.4 154.6,259.4 154.8,259.3 155.0,258.7 155.2,259.3 155.4,260.4 155.5,258.8 155.7,259.0 155.9,259.5 156.1,258.8 156.3,259.4 156.5,259.4 156.6,258.7 156.8,260.1 157.0,260.2 157.2,259.3 157.4,260.0 157.6,258.6 157.7,259.7 157.9,260.3 158.1,259.4 158.3,260.6 158.5,258.3 158.7,259.2 158.8,258.8 159.0,258.9 159.2,259.1 159.4,259.9 159.6,258.7 159.8,259.4 159.9,259.7 160.1,260.5 160.3,258.4 160.5,259.3 160.7,259.5 160.9,260.4 161.0,258.6 161.2,259.3 161.4,258.5 161.6,259.2 161.8,259.7 162.0,258.8 162.1,260.2 162.3,260.2 162.5,259.2 162.7,258.7 162.9,258.5 163.1,259.3 163.2,259.3 163.4,259.1 163.6,259.3 163.8,264.4 164.0,258.9 164.1,259.5 164.3,259.3 164.5,258.4 164.7,259.0 164.9,259.5 165.1,258.7 165.2,259.3 165.4,258.7 165.6,259.8 165.8,259.7 166.0,260.1 166.2,258.5 166.3,258.3 166.5,258.4 166.7,259.0 166.9,259.1 167.1,259.3 167.3,258.8 167.4,259.3 167.6,259.9 167.8,258.5 168.0,258.6 168.2,258.8 168.4,259.2 168.5,259.4 168.7,259.1 168.9,259.1 169.1,260.0 169.3,259.5 169.5,259.9 169.6,258.5 169.8,260.1 170.0,260.1 170.2,260.0 170.4,259.6 170.6,260.7 170.7,259.3 170.9,260.1 171.1,262.0 171.3,259.9 171.5,259.4 171.7,260.2 171.8,259.1 172.0,258.5 172.2,258.5 172.4,257.7 172.6,257.2 172.8,258.0 172.9,258.1 173.1,259.4 173.3,258.5 173.5,259.5 173.7,258.3 173.8,257.8 174.0,258.1 174.2,259.5 174.4,258.9 174.6,259.4 174.8,258.9 174.9,259.8 175.1,259.9 175.3,259.2 175.5,259.8 175.7,258.4 175.9,258.7 176.0,259.0 176.2,259.3 176.4,259.3 176.6,258.5 176.8,259.2 177.0,259.2 177.1,257.9 177.3,259.1 177.5,259.4 177.7,259.4 177.9,258.3 178.1,259.6 178.2,259.5 178.4,258.4 178.6,258.4 178.8,258.2 179.0,259.8 179.2,258.9 179.3,259.6 179.5,258.9 179.7,260.3 179.9,259.3 180.1,258.4 180.3,259.1 180.4,260.9 180.6,258.5 180.8,258.9 181.0,259.4 181.2,259.2 181.4,259.4 181.5,258.4 181.7,259.2 181.9,260.3 182.1,259.8 182.3,258.0 182.4,258.4 182.6,258.6 182.8,259.8 183.0,258.8 183.2,258.5 183.4,259.1 183.5,258.7 183.7,258.4 183.9,258.4 184.1,258.9 184.3,258.9 184.5,260.1 184.6,259.4 184.8,258.6 185.0,258.0 185.2,259.1 185.4,258.4 185.6,259.2 185.7,259.9 185.9,258.9 186.1,258.9 186.3,259.8 186.5,259.8 186.7,259.2 186.8,259.6 187.0,258.8 187.2,260.2 187.4,258.6 187.6,259.6 187.8,258.9 187.9,260.3 188.1,258.5 188.3,259.0 188.5,257.6 188.7,260.4 188.9,260.5 189.0,258.7 189.2,258.5 189.4,260.5 189.6,258.8 189.8,258.5 190.0,258.1 190.1,259.1 190.3,260.3 190.5,260.6 190.7,257.6 190.9,258.9 191.0,258.4 191.2,259.4 191.4,259.4 191.6,259.3 191.8,259.9 192.0,259.4 192.1,260.0 192.3,259.5 192.5,258.3 192.7,259.2 192.9,259.7 193.1,257.9 193.2,258.2 193.4,259.2 193.6,260.5 193.8,258.2 194.0,258.2 194.2,259.6 194.3,258.1 194.5,259.8 194.7,259.4 194.9,259.5 195.1,259.0 195.3,259.3 195.4,258.1 195.6,259.5 195.8,258.8 196.0,259.1 196.2,259.0 196.4,259.8 196.5,259.2 196.7,258.1 196.9,258.5 197.1,260.1 197.3,259.5 197.5,260.0 197.6,259.7 197.8,259.7 198.0,260.1 198.2,258.8 198.4,258.5 198.6,259.1 198.7,259.6 198.9,259.1 199.1,259.8 199.3,258.4 199.5,257.4 199.7,261.1 199.8,258.9 200.0,259.1 200.2,259.0 200.4,259.4 200.6,260.4 200.7,259.2 200.9,259.5 201.1,259.3 201.3,259.2 201.5,259.6 201.7,257.2 201.8,260.3 202.0,259.5 202.2,260.3 202.4,259.3 202.6,257.8 202.8,259.2 202.9,260.0 203.1,260.4 203.3,258.7 203.5,259.9 203.7,258.6 203.9,259.9 204.0,259.7 204.2,259.2 204.4,260.8 204.6,258.0 204.8,260.3 205.0,259.0 205.1,258.7 205.3,256.7 205.5,258.7 205.7,258.3 205.9,259.7 206.1,259.3 206.2,259.2 206.4,258.0 206.6,260.3 206.8,258.7 207.0,256.5 207.2,260.3 207.3,261.3 207.5,259.8 207.7,259.3 207.9,257.2 208.1,258.6 208.3,257.8 208.4,260.0 208.6,259.2 208.8,258.8 209.0,260.2 209.2,258.8 209.3,259.5 209.5,258.9 209.7,261.0 209.9,261.8 210.1,257.4 210.3,259.1 210.4,259.3 210.6,255.9 210.8,257.8 211.0,258.5 211.2,260.1 211.4,258.6 211.5,258.8 211.7,259.5 211.9,257.0 212.1,258.0 212.3,258.3 212.5,260.4 212.6,260.2 212.8,257.4 213.0,258.7 213.2,260.0 213.4,258.6 213.6,259.0 213.7,259.8 213.9,259.4 214.1,257.8 214.3,258.5 214.5,260.5 214.7,260.3 214.8,258.6 215.0,260.9 215.2,258.8 215.4,259.3 215.6,261.4 215.8,263.4 215.9,260.6 216.1,259.1 216.3,259.1 216.5,256.8 216.7,259.1 216.9,259.2 217.0,258.4 217.2,259.9 217.4,255.8 217.6,260.2 217.8,260.8 218.0,260.1 218.1,256.7 218.3,260.3 218.5,260.7" fill="none" stroke="#e06c34" stroke-width="0.8"/><polyline points="35.5,248.5 35.7,238.8 35.9,265.5 36.0,247.4 36.2,269.1 36.4,203.8 36.6,275.0 36.8,262.8 37.0,265.0 37.1,272.0 37.3,260.0 37.5,249.8 37.7,269.9 37.9,234.3 38.1,255.8 38.2,254.8 38.4,268.3 38.6,259.8 38.8,248.8 39.0,270.4 39.2,266.8 39.3,268.2 39.5,273.3 39.7,252.4 39.9,267.5 40.1,242.1 40.3,271.9 40.4,262.6 40.6,258.7 40.8,268.7 41.0,279.5 41.2,265.2 41.4,259.4 41.5,267.7 41.7,256.8 41.9,275.3 42.1,256.7 42.3,242.3 42.5,251.7 42.6,251.8 42.8,261.7 43.0,262.0 43.2,251.9 43.4,261.2 43.6,255.3 43.7,264.8 43.9,257.1 44.1,258.3 44.3,270.5 44.5,259.8 44.6,256.6 44.8,256.8 45.0,257.6 45.2,254.1 45.4,259.4 45.6,262.0 45.7,256.0 45.9,252.0 46.1,260.3 46.3,254.4 46.5,259.7 46.7,263.6 46.8,261.7 47.0,261.5 47.2,256.1 47.4,258.9 47.6,260.5 47.8,258.9 47.9,256.0 48.1,259.4 48.3,260.8 48.5,258.4 48.7,261.0 48.9,258.2 49.0,257.2 49.2,258.8 49.4,260.0 49.6,259.0 49.8,261.8 50.0,256.3 50.1,255.0 50.3,259.2 50.5,262.7 50.7,260.3 50.9,261.5 51.1,262.2 51.2,259.4 51.4,259.4 51.6,260.1 51.8,257.6 52.0,259.1 52.2,260.5 52.3,258.7 52.5,260.8 52.7,259.6 52.9,260.2 53.1,258.8 53.3,259.5 53.4,259.9 53.6,258.9 53.8,258.7 54.0,258.9 54.2,258.0 54.3,260.3 54.5,258.8 54.7,257.5 54.9,259.2 55.1,261.4 55.3,258.3 55.4,259.4 55.6,258.6 55.8,259.0 56.0,258.7 56.2,258.2 56.4,259.1 56.5,258.6 56.7,260.2 56.9,259.9 57.1,259.3 57.3,258.0 57.5,259.8 57.6,259.5 57.8,258.7 58.0,259.6 58.2,260.2 58.4,260.7 58.6,258.6 58.7,260.1 58.9,258.9 59.1,258.8 59.3,260.0 59.5,258.8 59.7,260.9 59.8,259.3 60.0,260.0 60.2,259.0 60.4,259.0 60.6,259.1 60.8,258.7 60.9,259.7 61.1,260.4 61.3,260.2 61.5,258.4 61.7,260.0 61.9,259.5 62.0,258.9 62.2,259.3 62.4,260.0 62.6,260.9 62.8,258.5 63.0,259.7 63.1,260.5 63.3,259.7 63.5,259.2 63.7,260.8 63.9,259.1 64.0,259.2 64.2,258.8 64.4,259.2 64.6,260.0 64.8,260.5 65.0,259.4 65.1,259.6 65.3,258.0 65.5,259.4 65.7,258.9 65.9,259.2 66.1,260.6 66.2,258.6 66.4,259.6 66.6,260.4 66.8,258.9 67.0,258.2 67.2,259.3 67.3,259.4 67.5,259.7 67.7,259.6 67.9,258.3 68.1,259.1 68.3,258.9 68.4,258.7 68.6,261.2 68.8,259.1 69.0,258.8 69.2,259.0 69.4,260.4 69.5,259.9 69.7,258.7 69.9,258.9 70.1,258.9 70.3,260.2 70.5,259.0 70.6,258.0 70.8,259.2 71.0,258.1 71.2,258.5 71.4,258.5 71.6,259.8 71.7,259.8 71.9,259.8 72.1,258.3 72.3,258.2 72.5,260.1 72.6,260.3 72.8,259.1 73.0,258.1 73.2,259.0 73.4,258.7 73.6,258.8 73.7,258.7 73.9,259.3 74.1,258.8 74.3,258.7 74.5,259.3 74.7,257.8 74.8,260.1 75.0,259.5 75.2,259.9 75.4,258.3 75.6,258.3 75.8,259.8 75.9,259.2 76.1,259.6 76.3,260.4 76.5,259.9 76.7,258.9 76.9,258.8 77.0,259.8 77.2,259.2 77.4,258.5 77.6,258.1 77.8,258.9 78.0,259.9 78.1,260.5 78.3,259.2 78.5,259.5 78.7,259.7 78.9,259.8 79.1,259.7 79.2,259.1 79.4,258.6 79.6,259.9 79.8,257.6 80.0,258.0 80.2,259.4 80.3,259.0 80.5,257.9 80.7,260.0 80.9,259.7 81.1,259.7 81.2,260.1 81.4,258.6 81.6,259.4 81.8,259.1 82.0,259.1 82.2,259.4 82.3,257.6 82.5,259.4 82.7,260.2 82.9,260.8 83.1,260.0 83.3,259.0 83.4,259.0 83.6,258.8 83.8,259.8 84.0,258.6 84.2,258.6 84.4,260.9 84.5,258.6 84.7,258.6 84.9,259.6 85.1,257.5 85.3,259.1 85.5,260.4 85.6,257.6 85.8,256.2 86.0,261.3 86.2,259.3 86.4,257.5 86.6,257.9 86.7,257.0 86.9,256.2 87.1,263.5 87.3,257.5 87.5,263.4 87.7,261.8 87.8,262.2 88.0,257.8 88.2,264.2 88.4,258.9 88.6,264.1 88.8,252.7 88.9,261.0 89.1,259.3 89.3,263.5 89.5,261.4 89.7,254.4 89.9,258.3 90.0,229.7 90.2,261.1 90.4,259.8 90.6,253.0 90.8,259.6 90.9,257.9 91.1,256.1 91.3,252.6 91.5,257.5 91.7,261.8 91.9,261.5 92.0,255.5 92.2,258.4 92.4,263.0 92.6,260.2 92.8,260.0 93.0,259.8 93.1,258.2 93.3,258.2 93.5,257.4 93.7,261.6 93.9,258.9 94.1,259.4 94.2,260.3 94.4,258.4 94.6,260.5 94.8,260.5 95.0,257.8 95.2,258.9 95.3,258.6 95.5,258.3 95.7,260.1 95.9,258.4 96.1,259.1 96.3,258.9 96.4,258.7 96.6,258.8 96.8,259.4 97.0,259.2 97.2,259.1 97.4,258.5 97.5,260.6 97.7,258.3 97.9,259.8 98.1,257.8 98.3,258.9 98.5,258.1 98.6,259.3 98.8,258.1 99.0,258.9 99.2,258.9 99.4,258.9 99.5,260.7 99.7,260.1 99.9,260.2 100.1,259.1 100.3,259.3 100.5,258.7 100.6,259.0 100.8,258.4 101.0,259.6 101.2,259.0 101.4,259.5 101.6,259.9 101.7,260.3 101.9,259.3 102.1,259.8 102.3,259.5 102.5,259.8 102.7,259.9 102.8,257.7 103.0,259.2 103.2,260.0 103.4,259.3 103.6,259.2 103.8,260.1 103.9,258.5 104.1,259.8 104.3,258.9 104.5,259.5 104.7,259.7 104.9,257.7 105.0,259.6 105.2,260.2 105.4,259.6 105.6,259.9 105.8,258.5 106.0,259.0 106.1,260.0 106.3,258.1 106.5,259.4 106.7,260.1 106.9,258.5 107.1,258.8 107.2,259.9 107.4,259.9 107.6,259.3 107.8,259.7 108.0,258.9 108.2,259.1 108.3,260.0 108.5,259.9 108.7,259.4 108.9,258.4 109.1,259.6 109.2,258.9 109.4,259.6 109.6,259.0 109.8,259.6 110.0,259.0 110.2,259.8 110.3,259.7 110.5,258.0 110.7,258.7 110.9,260.0 111.1,258.5 111.3,259.3 111.4,258.4 111.6,260.1 111.8,259.3 112.0,259.5 112.2,259.7 112.4,260.0 112.5,258.0 112.7,259.2 112.9,259.4 113.1,260.3 113.3,258.5 113.5,258.5 113.6,259.3 113.8,260.1 114.0,258.9 114.2,259.2 114.4,260.2 114.6,257.9 114.7,258.8 114.9,259.9 115.1,259.7 115.3,258.7 115.5,258.5 115.7,258.9 115.8,258.9 116.0,259.5 116.2,257.9 116.4,259.4 116.6,259.1 116.8,259.0 116.9,259.4 117.1,258.7 117.3,258.2 117.5,260.6 117.7,259.3 117.9,258.4 118.0,258.3 118.2,259.5 118.4,258.8 118.6,259.1 118.8,259.1 118.9,259.6 119.1,258.6 119.3,258.4 119.5,258.2 119.7,259.0 119.9,259.1 120.0,258.5 120.2,257.7 120.4,259.3 120.6,259.2 120.8,258.1 121.0,259.9 121.1,260.7 121.3,258.6 121.5,258.3 121.7,258.3 121.9,258.5 122.1,258.5 122.2,259.6 122.4,258.5 122.6,259.8 122.8,260.2 123.0,259.3 123.2,260.0 123.3,259.9 123.5,259.6 123.7,259.4 123.9,259.1 124.1,259.8 124.3,259.6 124.4,259.3 124.6,259.1 124.8,258.9 125.0,258.7 125.2,259.0 125.4,258.9 125.5,258.8 125.7,259.2 125.9,259.1 126.1,259.8 126.3,259.0 126.5,258.6 126.6,259.6 126.8,258.4 127.0,259.5 127.2,258.5 127.4,258.1 127.5,259.0 127.7,259.4 127.9,258.9 128.1,259.4 128.3,259.8 128.5,258.5 128.6,260.4 128.8,258.6 129.0,259.7 129.2,258.6 129.4,259.5 129.6,258.0 129.7,259.5 129.9,260.6 130.1,257.7 130.3,259.2 130.5,259.3 130.7,259.2 130.8,259.4 131.0,259.0 131.2,259.7 131.4,257.8 131.6,259.6 131.8,258.8 131.9,258.3 132.1,259.3 132.3,258.6 132.5,259.5 132.7,259.8 132.9,259.7 133.0,258.5 133.2,258.5 133.4,259.8 133.6,258.6 133.8,259.8 134.0,259.1 134.1,258.8 134.3,260.5 134.5,258.8 134.7,259.4 134.9,260.1 135.1,258.8 135.2,259.0 135.4,259.0 135.6,259.4 135.8,259.6 136.0,260.0 136.2,259.4 136.3,259.9 136.5,259.5 136.7,259.0 136.9,258.7 137.1,258.9 137.2,259.0 137.4,259.4 137.6,258.6 137.8,258.5 138.0,259.5 138.2,259.5 138.3,259.8 138.5,259.4 138.7,259.5 138.9,258.0 139.1,258.4 139.3,260.1 139.4,258.7 139.6,259.4 139.8,260.3 140.0,259.1 140.2,259.6 140.4,259.0 140.5,258.9 140.7,259.6 140.9,258.3 141.1,259.1 141.3,259.7 141.5,260.2 141.6,257.8 141.8,259.7 142.0,259.2 142.2,259.0 142.4,258.7 142.6,260.1 142.7,260.7 142.9,259.1 143.1,260.2 143.3,259.4 143.5,257.9 143.7,259.6 143.8,258.8 144.0,259.9 144.2,257.7 144.4,259.5 144.6,259.0 144.8,259.3 144.9,259.6 145.1,258.5 145.3,259.4 145.5,259.8 145.7,259.6 145.8,259.4 146.0,259.2 146.2,259.1 146.4,259.8 146.6,259.6 146.8,257.9 146.9,259.4 147.1,258.4 147.3,259.5 147.5,259.0 147.7,259.6 147.9,260.5 148.0,259.6 148.2,258.7 148.4,258.5 148.6,258.6 148.8,259.6 149.0,259.5 149.1,260.0 149.3,259.1 149.5,258.8 149.7,259.1 149.9,259.7 150.1,259.0 150.2,259.2 150.4,259.0 150.6,259.4 150.8,259.1 151.0,259.7 151.2,259.8 151.3,260.7 151.5,259.1 151.7,259.2 151.9,259.9 152.1,258.3 152.3,258.5 152.4,258.2 152.6,259.3 152.8,259.4 153.0,259.0 153.2,258.7 153.4,258.3 153.5,259.9 153.7,259.4 153.9,260.5 154.1,259.4 154.3,258.7 154.4,258.8 154.6,257.7 154.8,258.8 155.0,259.5 155.2,259.7 155.4,259.1 155.5,258.2 155.7,260.0 155.9,259.8 156.1,259.2 156.3,259.5 156.5,258.7 156.6,259.5 156.8,259.2 157.0,259.2 157.2,259.1 157.4,258.4 157.6,260.1 157.7,260.3 157.9,260.2 158.1,259.4 158.3,259.2 158.5,258.9 158.7,259.0 158.8,259.2 159.0,260.4 159.2,259.7 159.4,259.0 159.6,260.0 159.8,259.5 159.9,259.5 160.1,258.9 160.3,259.8 160.5,260.3 160.7,259.5 160.9,259.4 161.0,258.7 161.2,259.6 161.4,259.4 161.6,259.6 161.8,259.5 162.0,257.9 162.1,260.7 162.3,258.9 162.5,259.8 162.7,259.2 162.9,260.2 163.1,259.1 163.2,259.8 163.4,253.0 163.6,258.3 163.8,260.1 164.0,260.3 164.1,258.5 164.3,258.0 164.5,259.2 164.7,260.6 164.9,260.3 165.1,258.6 165.2,258.1 165.4,259.3 165.6,260.1 165.8,258.5 166.0,260.1 166.2,259.7 166.3,259.7 166.5,259.7 166.7,258.9 166.9,259.9 167.1,259.1 167.3,258.5 167.4,258.5 167.6,258.3 167.8,259.5 168.0,260.4 168.2,259.1 168.4,259.1 168.5,259.0 168.7,259.5 168.9,258.9 169.1,259.9 169.3,258.7 169.5,258.0 169.6,259.1 169.8,259.2 170.0,258.9 170.2,259.1 170.4,259.4 170.6,260.0 170.7,260.7 170.9,259.5 171.1,261.3 171.3,259.3 171.5,260.3 171.7,259.0 171.8,259.7 172.0,259.7 172.2,258.8 172.4,258.4 172.6,256.6 172.8,258.1 172.9,258.6 173.1,259.3 173.3,259.0 173.5,259.1 173.7,258.8 173.8,259.7 174.0,260.1 174.2,259.3 174.4,258.6 174.6,258.7 174.8,259.9 174.9,259.6 175.1,259.0 175.3,259.6 175.5,260.2 175.7,259.1 175.9,259.5 176.0,259.0 176.2,258.7 176.4,259.6 176.6,260.0 176.8,259.8 177.0,258.7 177.1,259.2 177.3,258.7 177.5,259.5 177.7,258.7 177.9,259.6 178.1,259.7 178.2,259.2 178.4,259.3 178.6,259.4 178.8,259.2 179.0,258.6 179.2,259.7 179.3,260.5 179.5,258.9 179.7,257.9 179.9,258.5 180.1,260.1 180.3,258.9 180.4,258.4 180.6,258.6 180.8,257.9 181.0,258.6 181.2,260.9 181.4,258.8 181.5,259.8 181.7,259.9 181.9,260.5 182.1,260.2 182.3,259.5 182.4,258.4 182.6,258.4 182.8,258.8 183.0,258.3 183.2,259.5 183.4,259.8 183.5,257.8 183.7,258.9 183.9,259.5 184.1,258.7 184.3,259.8 184.5,258.1 184.6,260.2 184.8,259.6 185.0,259.4 185.2,259.4 185.4,260.2 185.6,258.6 185.7,258.8 185.9,259.2 186.1,258.8 186.3,259.6 186.5,258.5 186.7,259.7 186.8,260.0 187.0,259.4 187.2,259.4 187.4,259.0 187.6,258.7 187.8,258.0 187.9,260.2 188.1,260.4 188.3,259.0 188.5,258.2 188.7,258.4 188.9,259.3 189.0,259.4 189.2,259.4 189.4,257.9 189.6,259.4 189.8,259.0 190.0,260.1 190.1,258.5 190.3,259.3 190.5,259.4 190.7,259.4 190.9,259.3 191.0,257.4 191.2,258.7 191.4,258.7 191.6,259.8 191.8,260.3 192.0,260.8 192.1,259.6 192.3,259.1 192.5,259.0 192.7,260.3 192.9,258.7 193.1,259.6 193.2,258.3 193.4,259.4 193.6,259.2 193.8,259.7 194.0,259.7 194.2,259.2 194.3,258.7 194.5,258.6 194.7,259.7 194.9,260.1 195.1,258.9 195.3,258.2 195.4,259.6 195.6,259.5 195.8,259.5 196.0,258.9 196.2,258.4 196.4,259.9 196.5,258.8 196.7,258.1 196.9,258.7 197.1,259.8 197.3,260.3 197.5,259.1 197.6,258.1 197.8,258.6 198.0,258.1 198.2,259.5 198.4,259.1 198.6,259.8 198.7,258.7 198.9,259.3 199.1,259.8 199.3,259.5 199.5,258.7 199.7,258.5 199.8,258.5 200.0,257.3 200.2,258.6 200.4,259.9 200.6,258.3 200.7,259.8 200.9,260.0 201.1,258.5 201.3,259.6 201.5,259.1 201.7,259.6 201.8,259.3 202.0,260.6 202.2,258.3 202.4,258.0 202.6,259.3 202.8,258.0 202.9,258.3 203.1,258.0 203.3,257.7 203.5,260.3 203.7,258.3 203.9,259.3 204.0,258.4 204.2,259.4 204.4,257.1 204.6,257.4 204.8,259.1 205.0,258.6 205.1,258.9 205.3,258.8 205.5,258.1 205.7,260.1 205.9,260.6 206.1,257.9 206.2,258.7 206.4,259.6 206.6,259.8 206.8,260.7 207.0,259.4 207.2,261.0 207.3,258.9 207.5,258.8 207.7,259.9 207.9,257.9 208.1,258.2 208.3,258.9 208.4,260.0 208.6,259.9 208.8,260.3 209.0,261.5 209.2,259.1 209.3,258.2 209.5,261.1 209.7,258.7 209.9,259.5 210.1,259.0 210.3,258.2 210.4,257.9 210.6,260.1 210.8,258.1 211.0,259.7 211.2,262.6 211.4,256.3 211.5,259.1 211.7,259.6 211.9,257.2 212.1,258.5 212.3,260.0 212.5,258.9 212.6,258.7 212.8,259.5 213.0,262.9 213.2,258.9 213.4,260.7 213.6,260.9 213.7,259.1 213.9,255.6 214.1,261.2 214.3,258.7 214.5,261.7 214.7,261.9 214.8,259.8 215.0,257.6 215.2,258.7 215.4,258.7 215.6,257.0 215.8,258.3 215.9,260.3 216.1,260.9 216.3,259.8 216.5,258.5 216.7,259.8 216.9,259.6 217.0,260.3 217.2,260.7 217.4,261.5 217.6,260.8 217.8,255.7 218.0,257.0 218.1,256.4 218.3,259.0 218.5,259.4" fill="none" stroke="#7a4a1c" stroke-width="0.8"/><polyline points="35.5,245.8 35.7,265.1 35.9,241.2 36.0,257.1 36.2,193.4 36.4,195.1 36.6,280.0 36.8,256.2 37.0,249.9 37.1,269.1 37.3,268.2 37.5,250.0 37.7,279.8 37.9,243.8 38.1,266.2 38.2,247.8 38.4,266.6 38.6,259.6 38.8,258.2 39.0,249.2 39.2,268.2 39.3,253.3 39.5,256.1 39.7,251.3 39.9,267.5 40.1,259.1 40.3,266.2 40.4,262.7 40.6,249.1 40.8,248.2 41.0,267.5 41.2,260.6 41.4,259.8 41.5,267.2 41.7,262.4 41.9,267.9 42.1,254.7 42.3,266.4 42.5,248.8 42.6,272.9 42.8,255.3 43.0,255.3 43.2,263.2 43.4,269.2 43.6,258.2 43.7,265.9 43.9,253.5 44.1,258.7 44.3,259.3 44.5,258.7 44.6,255.9 44.8,259.3 45.0,257.1 45.2,257.9 45.4,261.1 45.6,255.4 45.7,253.9 45.9,255.7 46.1,258.9 46.3,257.2 46.5,262.3 46.7,261.5 46.8,261.6 47.0,260.7 47.2,257.2 47.4,261.2 47.6,260.7 47.8,262.5 47.9,260.7 48.1,262.8 48.3,257.4 48.5,259.6 48.7,257.4 48.9,256.6 49.0,258.3 49.2,258.6 49.4,259.0 49.6,260.0 49.8,263.0 50.0,258.9 50.1,260.4 50.3,260.9 50.5,260.2 50.7,259.3 50.9,258.2 51.1,260.7 51.2,261.0 51.4,257.7 51.6,258.5 51.8,258.2 52.0,259.6 52.2,261.0 52.3,257.6 52.5,257.7 52.7,259.9 52.9,258.7 53.1,258.0 53.3,256.5 53.4,257.9 53.6,258.6 53.8,259.4 54.0,259.7 54.2,259.3 54.3,259.9 54.5,258.6 54.7,259.1 54.9,259.4 55.1,260.1 55.3,259.1 55.4,259.5 55.6,258.9 55.8,260.0 56.0,258.6 56.2,259.3 56.4,257.7 56.5,259.8 56.7,257.7 56.9,257.4 57.1,259.2 57.3,257.7 57.5,258.3 57.6,260.1 57.8,259.6 58.0,258.4 58.2,258.9 58.4,258.5 58.6,258.8 58.7,258.1 58.9,259.3 59.1,259.9 59.3,259.6 59.5,259.2 59.7,259.8 59.8,259.2 60.0,259.3 60.2,259.4 60.4,259.2 60.6,259.4 60.8,258.4 60.9,259.1 61.1,258.6 61.3,260.2 61.5,259.1 61.7,259.5 61.9,260.6 62.0,257.6 62.2,260.1 62.4,258.5 62.6,258.6 62.8,258.3 63.0,259.5 63.1,261.0 63.3,258.7 63.5,259.2 63.7,258.6 63.9,259.3 64.0,258.2 64.2,258.7 64.4,259.4 64.6,257.4 64.8,259.6 65.0,260.8 65.1,259.0 65.3,258.8 65.5,258.7 65.7,259.5 65.9,259.1 66.1,259.8 66.2,259.4 66.4,258.6 66.6,259.5 66.8,258.6 67.0,259.3 67.2,259.1 67.3,259.4 67.5,258.3 67.7,259.0 67.9,259.7 68.1,259.0 68.3,258.2 68.4,258.9 68.6,259.9 68.8,259.7 69.0,259.9 69.2,258.1 69.4,259.0 69.5,258.5 69.7,258.5 69.9,259.4 70.1,258.3 70.3,259.2 70.5,258.9 70.6,260.7 70.8,259.2 71.0,259.5 71.2,259.8 71.4,259.0 71.6,260.2 71.7,259.4 71.9,261.1 72.1,259.4 72.3,259.7 72.5,257.8 72.6,259.0 72.8,258.7 73.0,261.1 73.2,259.5 73.4,260.1 73.6,258.2 73.7,258.4 73.9,259.1 74.1,259.1 74.3,259.1 74.5,259.3 74.7,258.7 74.8,258.7 75.0,259.3 75.2,259.8 75.4,257.9 75.6,259.5 75.8,259.8 75.9,257.4 76.1,259.1 76.3,259.3 76.5,260.3 76.7,260.0 76.9,258.1 77.0,259.4 77.2,258.3 77.4,260.0 77.6,258.5 77.8,259.1 78.0,259.5 78.1,260.6 78.3,258.1 78.5,259.0 78.7,259.2 78.9,258.4 79.1,259.9 79.2,258.0 79.4,258.5 79.6,258.7 79.8,258.6 80.0,259.7 80.2,259.3 80.3,258.8 80.5,259.5 80.7,258.0 80.9,258.4 81.1,258.0 81.2,260.3 81.4,257.8 81.6,259.5 81.8,259.8 82.0,259.4 82.2,257.7 82.3,258.6 82.5,258.7 82.7,258.0 82.9,257.9 83.1,257.8 83.3,258.0 83.4,258.7 83.6,258.4 83.8,260.8 84.0,259.3 84.2,262.0 84.4,259.2 84.5,258.9 84.7,260.1 84.9,259.8 85.1,257.5 85.3,259.6 85.5,259.0 85.6,256.1 85.8,258.5 86.0,257.5 86.2,258.2 86.4,258.0 86.6,256.8 86.7,259.5 86.9,257.4 87.1,260.1 87.3,260.0 87.5,257.5 87.7,260.6 87.8,265.6 88.0,259.7 88.2,255.4 88.4,262.0 88.6,257.3 88.8,260.2 88.9,264.0 89.1,260.2 89.3,266.9 89.5,254.9 89.7,260.5 89.9,226.6 90.0,259.2 90.2,264.4 90.4,260.6 90.6,255.3 90.8,256.6 90.9,260.3 91.1,261.2 91.3,259.4 91.5,262.4 91.7,258.6 91.9,262.7 92.0,260.8 92.2,257.6 92.4,259.2 92.6,260.4 92.8,259.0 93.0,259.6 93.1,258.8 93.3,257.7 93.5,259.3 93.7,261.3 93.9,258.7 94.1,260.0 94.2,258.1 94.4,258.3 94.6,259.2 94.8,258.8 95.0,260.4 95.2,260.5 95.3,259.5 95.5,259.0 95.7,258.4 95.9,259.6 96.1,259.7 96.3,259.7 96.4,259.6 96.6,259.1 96.8,260.0 97.0,258.8 97.2,260.0 97.4,257.9 97.5,259.3 97.7,259.1 97.9,260.2 98.1,259.0 98.3,260.3 98.5,258.7 98.6,259.6 98.8,259.1 99.0,258.9 99.2,258.7 99.4,258.4 99.5,258.5 99.7,258.8 99.9,259.6 100.1,259.9 100.3,258.8 100.5,259.0 100.6,259.5 100.8,259.2 101.0,258.7 101.2,258.7 101.4,259.6 101.6,260.0 101.7,260.3 101.9,259.5 102.1,259.4 102.3,260.0 102.5,258.6 102.7,258.1 102.8,259.6 103.0,258.8 103.2,259.3 103.4,258.9 103.6,259.1 103.8,259.2 103.9,258.7 104.1,258.8 104.3,259.4 104.5,258.9 104.7,259.5 104.9,259.2 105.0,258.8 105.2,258.9 105.4,260.1 105.6,258.9 105.8,259.9 106.0,259.1 106.1,258.8 106.3,260.1 106.5,259.8 106.7,258.7 106.9,259.0 107.1,260.4 107.2,258.6 107.4,259.6 107.6,259.9 107.8,259.0 108.0,259.6 108.2,259.2 108.3,259.0 108.5,257.8 108.7,258.7 108.9,259.0 109.1,259.1 109.2,259.0 109.4,258.9 109.6,259.6 109.8,258.9 110.0,259.6 110.2,259.5 110.3,259.2 110.5,258.6 110.7,258.7 110.9,260.6 111.1,258.5 111.3,259.2 111.4,259.2 111.6,258.4 111.8,259.6 112.0,259.8 112.2,260.3 112.4,259.9 112.5,258.7 112.7,259.7 112.9,259.8 113.1,259.0 113.3,259.8 113.5,259.6 113.6,259.7 113.8,259.0 114.0,259.6 114.2,259.5 114.4,259.3 114.6,260.3 114.7,259.4 114.9,260.3 115.1,259.9 115.3,259.5 115.5,259.2 115.7,259.4 115.8,258.6 116.0,259.2 116.2,258.9 116.4,259.5 116.6,259.6 116.8,258.3 116.9,260.2 117.1,258.5 117.3,259.7 117.5,258.8 117.7,260.0 117.9,258.9 118.0,259.0 118.2,260.4 118.4,259.6 118.6,258.9 118.8,258.6 118.9,259.1 119.1,259.6 119.3,259.3 119.5,260.0 119.7,259.8 119.9,259.1 120.0,259.2 120.2,258.8 120.4,259.1 120.6,258.9 120.8,259.3 121.0,258.9 121.1,257.8 121.3,259.8 121.5,259.1 121.7,259.5 121.9,258.9 122.1,258.9 122.2,259.7 122.4,259.1 122.6,259.1 122.8,259.3 123.0,259.0 123.2,258.4 123.3,258.9 123.5,259.4 123.7,259.1 123.9,258.0 124.1,259.6 124.3,258.6 124.4,259.6 124.6,260.1 124.8,259.6 125.0,259.0 125.2,259.3 125.4,259.6 125.5,259.7 125.7,259.8 125.9,259.8 126.1,259.6 126.3,260.6 126.5,259.0 126.6,259.0 126.8,259.1 127.0,258.7 127.2,259.5 127.4,259.2 127.5,260.6 127.7,259.1 127.9,259.4 128.1,258.9 128.3,258.7 128.5,259.3 128.6,259.9 128.8,259.0 129.0,258.7 129.2,258.7 129.4,259.5 129.6,259.7 129.7,259.4 129.9,259.8 130.1,260.5 130.3,259.0 130.5,259.0 130.7,258.8 130.8,259.7 131.0,259.2 131.2,259.9 131.4,260.1 131.6,258.9 131.8,260.3 131.9,259.4 132.1,257.9 132.3,258.5 132.5,258.8 132.7,258.9 132.9,259.3 133.0,259.6 133.2,258.1 133.4,259.3 133.6,259.6 133.8,258.8 134.0,259.2 134.1,258.5 134.3,259.6 134.5,259.7 134.7,259.4 134.9,258.3 135.1,258.7 135.2,259.1 135.4,259.2 135.6,259.0 135.8,259.8 136.0,258.9 136.2,259.5 136.3,259.1 136.5,259.2 136.7,259.0 136.9,259.5 137.1,258.6 137.2,259.0 137.4,259.6 137.6,258.9 137.8,259.4 138.0,259.0 138.2,258.7 138.3,259.5 138.5,259.2 138.7,259.2 138.9,259.2 139.1,258.0 139.3,259.0 139.4,259.9 139.6,259.1 139.8,259.5 140.0,257.8 140.2,259.6 140.4,259.8 140.5,258.8 140.7,259.5 140.9,259.4 141.1,259.3 141.3,259.6 141.5,259.4 141.6,260.5 141.8,259.2 142.0,258.8 142.2,258.1 142.4,259.2 142.6,258.7 142.7,259.6 142.9,258.3 143.1,257.9 143.3,259.0 143.5,259.4 143.7,259.2 143.8,258.3 144.0,259.9 144.2,258.4 144.4,259.8 144.6,259.7 144.8,259.0 144.9,258.8 145.1,258.6 145.3,258.4 145.5,259.8 145.7,259.1 145.8,258.7 146.0,259.0 146.2,258.5 146.4,259.2 146.6,259.3 146.8,260.5 146.9,260.3 147.1,258.7 147.3,259.8 147.5,259.0 147.7,258.8 147.9,259.2 148.0,258.6 148.2,259.6 148.4,258.8 148.6,259.2 148.8,260.0 149.0,260.3 149.1,259.3 149.3,258.2 149.5,258.5 149.7,258.9 149.9,258.7 150.1,258.7 150.2,259.3 150.4,258.4 150.6,259.0 150.8,259.5 151.0,257.8 151.2,258.8 151.3,259.2 151.5,258.7 151.7,259.9 151.9,259.9 152.1,258.1 152.3,258.8 152.4,259.8 152.6,260.1 152.8,259.2 153.0,259.8 153.2,258.4 153.4,260.3 153.5,258.5 153.7,259.8 153.9,259.9 154.1,259.2 154.3,259.9 154.4,259.5 154.6,259.5 154.8,260.6 155.0,259.9 155.2,259.0 155.4,260.4 155.5,260.0 155.7,259.7 155.9,258.7 156.1,258.7 156.3,258.3 156.5,259.8 156.6,258.7 156.8,259.1 157.0,260.0 157.2,258.9 157.4,259.2 157.6,259.6 157.7,259.8 157.9,260.2 158.1,258.9 158.3,258.9 158.5,259.4 158.7,259.4 158.8,259.6 159.0,258.8 159.2,259.1 159.4,260.3 159.6,259.2 159.8,258.9 159.9,259.6 160.1,259.5 160.3,259.6 160.5,258.8 160.7,259.4 160.9,259.2 161.0,259.2 161.2,258.3 161.4,260.1 161.6,257.8 161.8,259.9 162.0,259.3 162.1,259.7 162.3,259.1 162.5,258.9 162.7,257.8 162.9,258.5 163.1,259.6 163.2,259.1 163.4,259.1 163.6,265.1 163.8,258.8 164.0,259.0 164.1,259.5 164.3,259.6 164.5,258.8 164.7,259.3 164.9,258.5 165.1,258.7 165.2,259.9 165.4,260.5 165.6,259.2 165.8,259.6 166.0,259.8 166.2,259.6 166.3,258.3 166.5,259.3 166.7,258.0 166.9,258.7 167.1,260.3 167.3,258.9 167.4,258.3 167.6,260.3 167.8,260.0 168.0,259.3 168.2,259.5 168.4,258.1 168.5,259.7 168.7,258.1 168.9,260.1 169.1,259.7 169.3,259.0 169.5,258.9 169.6,259.1 169.8,258.2 170.0,258.1 170.2,258.2 170.4,259.8 170.6,259.5 170.7,260.6 170.9,259.7 171.1,261.9 171.3,260.5 171.5,259.8 171.7,259.6 171.8,258.0 172.0,259.5 172.2,258.6 172.4,258.4 172.6,257.5 172.8,258.2 172.9,257.5 173.1,258.0 173.3,260.3 173.5,260.5 173.7,258.6 173.8,258.9 174.0,260.2 174.2,259.2 174.4,260.0 174.6,258.7 174.8,260.0 174.9,259.6 175.1,258.9 175.3,259.2 175.5,258.5 175.7,258.9 175.9,260.2 176.0,259.0 176.2,259.9 176.4,258.2 176.6,258.2 176.8,258.4 177.0,257.8 177.1,258.7 177.3,258.2 177.5,258.6 177.7,258.6 177.9,258.6 178.1,259.0 178.2,258.0 178.4,259.9 178.6,260.2 178.8,259.7 179.0,258.1 179.2,259.4 179.3,259.7 179.5,259.8 179.7,258.9 179.9,259.2 180.1,258.4 180.3,259.4 180.4,258.6 180.6,259.8 180.8,258.8 181.0,257.6 181.2,259.3 181.4,259.3 181.5,258.5 181.7,259.9 181.9,259.5 182.1,259.6 182.3,259.0 182.4,260.1 182.6,258.2 182.8,259.1 183.0,259.1 183.2,259.3 183.4,259.2 183.5,260.8 183.7,258.3 183.9,259.8 184.1,258.6 184.3,259.3 184.5,259.3 184.6,258.8 184.8,258.0 185.0,259.3 185.2,259.6 185.4,258.9 185.6,260.8 185.7,259.8 185.9,259.9 186.1,259.4 186.3,260.1 186.5,258.6 186.7,259.4 186.8,259.1 187.0,259.2 187.2,259.4 187.4,259.6 187.6,258.3 187.8,258.6 187.9,258.2 188.1,259.3 188.3,259.0 188.5,258.9 188.7,259.4 188.9,259.2 189.0,260.3 189.2,260.0 189.4,259.8 189.6,260.0 189.8,258.9 190.0,258.9 190.1,258.9 190.3,259.4 190.5,258.5 190.7,258.5 190.9,258.8 191.0,259.4 191.2,258.1 191.4,260.0 191.6,260.3 191.8,260.1 192.0,258.3 192.1,259.1 192.3,259.6 192.5,260.8 192.7,259.4 192.9,259.9 193.1,260.7 193.2,258.4 193.4,259.2 193.6,258.2 193.8,259.2 194.0,258.8 194.2,259.7 194.3,258.7 194.5,259.5 194.7,258.8 194.9,259.0 195.1,260.0 195.3,259.2 195.4,259.1 195.6,259.7 195.8,259.3 196.0,258.5 196.2,258.3 196.4,259.1 196.5,260.8 196.7,258.6 196.9,257.9 197.1,259.4 197.3,259.8 197.5,259.0 197.6,259.0 197.8,258.5 198.0,259.6 198.2,257.9 198.4,258.5 198.6,259.9 198.7,258.4 198.9,259.3 199.1,258.7 199.3,258.9 199.5,259.1 199.7,259.0 199.8,259.5 200.0,259.7 200.2,259.4 200.4,259.4 200.6,258.9 200.7,259.0 200.9,260.4 201.1,258.5 201.3,259.2 201.5,258.5 201.7,258.6 201.8,259.0 202.0,258.7 202.2,260.4 202.4,257.9 202.6,257.5 202.8,258.6 202.9,259.6 203.1,258.6 203.3,259.5 203.5,257.7 203.7,259.6 203.9,260.2 204.0,259.9 204.2,259.9 204.4,258.5 204.6,259.2 204.8,258.9 205.0,259.5 205.1,257.9 205.3,259.2 205.5,258.9 205.7,257.6 205.9,258.9 206.1,259.7 206.2,259.4 206.4,258.0 206.6,258.8 206.8,260.0 207.0,257.9 207.2,260.7 207.3,261.5 207.5,260.2 207.7,261.2 207.9,259.4 208.1,259.1 208.3,259.5 208.4,259.8 208.6,260.4 208.8,258.1 209.0,261.4 209.2,258.3 209.3,258.9 209.5,259.2 209.7,258.6 209.9,261.1 210.1,258.0 210.3,258.5 210.4,257.8 210.6,261.8 210.8,258.8 211.0,259.3 211.2,262.2 211.4,259.6 211.5,259.1 211.7,260.2 211.9,258.6 212.1,258.4 212.3,259.8 212.5,259.7 212.6,258.1 212.8,260.6 213.0,258.4 213.2,257.2 213.4,259.2 213.6,258.6 213.7,259.1 213.9,257.9 214.1,261.5 214.3,261.8 214.5,260.5 214.7,260.2 214.8,257.6 215.0,256.9 215.2,258.2 215.4,257.1 215.6,259.8 215.8,260.1 215.9,261.8 216.1,257.2 216.3,258.2 216.5,259.2 216.7,261.5 216.9,261.0 217.0,258.3 217.2,259.2 217.4,257.2 217.6,258.8 217.8,260.5 218.0,261.4 218.1,259.2 218.3,256.1 218.5,255.4" fill="none" stroke="#6a3c08" stroke-width="0.95"/></g>
<path d="M35.5,181.5H218.5V328.5H35.5Z" fill="none" stroke="#7c7c7c" stroke-width="1"/>
<path d="M35.5,189.90h2.5" stroke="#7c7c7c" stroke-width="1"/>
<text x="32.50" y="192.80" font-size="7.6" fill="#2a2a2a" text-anchor="end">0.0002</text>
<path d="M35.5,224.55h2.5" stroke="#7c7c7c" stroke-width="1"/>
<text x="32.50" y="227.45" font-size="7.6" fill="#2a2a2a" text-anchor="end">0.0001</text>
<path d="M35.5,259.20h2.5" stroke="#7c7c7c" stroke-width="1"/>
<text x="32.50" y="262.10" font-size="7.6" fill="#2a2a2a" text-anchor="end">0.0000</text>
<path d="M35.5,293.85h2.5" stroke="#7c7c7c" stroke-width="1"/>
<text x="32.50" y="296.75" font-size="7.6" fill="#2a2a2a" text-anchor="end">−0.0001</text>
<text x="32.50" y="331.40" font-size="7.6" fill="#2a2a2a" text-anchor="end">−0.0002</text>
<text x="35.50" y="337.90" font-size="7.6" fill="#2a2a2a" text-anchor="middle">400</text>
<path d="M72.10,328.5v-2.5" stroke="#7c7c7c" stroke-width="1"/>
<text x="72.10" y="337.90" font-size="7.6" fill="#2a2a2a" text-anchor="middle">800</text>
<path d="M108.70,328.5v-2.5" stroke="#7c7c7c" stroke-width="1"/>
<text x="108.70" y="337.90" font-size="7.6" fill="#2a2a2a" text-anchor="middle">1200</text>
<path d="M145.30,328.5v-2.5" stroke="#7c7c7c" stroke-width="1"/>
<text x="145.30" y="337.90" font-size="7.6" fill="#2a2a2a" text-anchor="middle">1600</text>
<path d="M181.90,328.5v-2.5" stroke="#7c7c7c" stroke-width="1"/>
<text x="181.90" y="337.90" font-size="7.6" fill="#2a2a2a" text-anchor="middle">2000</text>
<text x="218.50" y="337.90" font-size="7.6" fill="#2a2a2a" text-anchor="middle">2400</text>
<text x="127.50" y="349.90" font-size="7.6" fill="#2a2a2a" text-anchor="middle">Wavelength/nm</text>
<text transform="translate(6.5,255.00) rotate(-90)" x="0" y="0" font-size="7.48" fill="#2a2a2a" text-anchor="middle">Hyperspectral reflectance after SD</text>
<text x="41.5" y="192.4" font-size="7.9" fill="#2a2a2a">(d)</text>
<g><polyline points="265.5,196.2 266.0,197.8 266.4,199.8 266.9,202.0 267.3,204.1 267.8,206.0 268.2,207.4 268.7,208.4 269.2,209.1 269.6,209.4 270.1,209.6 270.5,209.6 271.0,209.6 271.4,209.7 271.9,209.9 272.4,210.3 272.8,211.0 273.3,212.1 273.7,213.3 274.2,214.8 274.6,216.4 275.1,218.1 275.6,219.8 276.0,221.5 276.5,223.2 276.9,224.9 277.4,226.5 277.9,228.0 278.3,229.4 278.8,230.5 279.2,231.4 279.7,232.2 280.1,232.9 280.6,233.4 281.1,233.9 281.5,234.2 282.0,234.4 282.4,234.5 282.9,234.6 283.3,234.6 283.8,234.6 284.3,234.5 284.7,234.3 285.2,234.2 285.6,233.9 286.1,233.7 286.5,233.4 287.0,233.2 287.5,232.9 287.9,232.6 288.4,232.3 288.8,232.1 289.3,231.8 289.7,231.5 290.2,231.2 290.7,230.9 291.1,230.7 291.6,230.4 292.0,230.1 292.5,229.8 292.9,229.5 293.4,229.2 293.9,229.0 294.3,228.7 294.8,228.4 295.2,228.1 295.7,227.8 296.2,227.5 296.6,227.2 297.1,226.9 297.5,226.6 298.0,226.3 298.4,226.0 298.9,225.7 299.4,225.3 299.8,224.9 300.3,224.5 300.7,224.1 301.2,223.7 301.6,223.3 302.1,222.9 302.6,222.4 303.0,222.0 303.5,221.6 303.9,221.2 304.4,220.8 304.8,220.3 305.3,219.9 305.8,219.5 306.2,219.0 306.7,218.6 307.1,218.2 307.6,217.8 308.0,217.3 308.5,216.9 309.0,216.4 309.4,216.0 309.9,215.6 310.3,215.2 310.8,214.8 311.2,214.4 311.7,214.1 312.2,213.8 312.6,213.6 313.1,213.3 313.5,213.0 314.0,212.8 314.5,212.5 314.9,212.2 315.4,212.0 315.8,211.7 316.3,211.4 316.7,211.2 317.2,210.9 317.7,210.7 318.1,210.6 318.6,210.7 319.0,211.1 319.5,211.8 319.9,212.6 320.4,218.4 320.9,218.7 321.3,219.0 321.8,219.2 322.2,219.5 322.7,219.7 323.1,219.9 323.6,220.1 324.1,220.2 324.5,220.4 325.0,220.6 325.4,220.8 325.9,221.0 326.3,221.2 326.8,221.4 327.3,221.5 327.7,221.7 328.2,221.9 328.6,222.1 329.1,222.3 329.6,222.5 330.0,222.6 330.5,222.8 330.9,223.0 331.4,223.2 331.8,223.4 332.3,223.6 332.8,223.7 333.2,223.9 333.7,224.1 334.1,224.3 334.6,224.5 335.0,224.7 335.5,224.8 336.0,225.0 336.4,225.2 336.9,225.4 337.3,225.6 337.8,225.7 338.2,225.9 338.7,226.1 339.2,226.3 339.6,226.5 340.1,226.7 340.5,226.8 341.0,227.0 341.4,227.2 341.9,227.4 342.4,227.6 342.8,227.8 343.3,228.0 343.7,228.2 344.2,228.4 344.6,228.7 345.1,228.9 345.6,229.1 346.0,229.4 346.5,229.6 346.9,229.8 347.4,230.0 347.9,230.3 348.3,230.5 348.8,230.7 349.2,231.0 349.7,231.2 350.1,231.4 350.6,231.6 351.1,231.9 351.5,232.1 352.0,232.3 352.4,232.4 352.9,232.5 353.3,232.5 353.8,232.4 354.3,232.2 354.7,231.9 355.2,231.6 355.6,231.3 356.1,231.0 356.5,230.7 357.0,230.5 357.5,230.2 357.9,229.9 358.4,229.8 358.8,229.7 359.3,229.7 359.7,229.9 360.2,230.1 360.7,230.4 361.1,230.7 361.6,231.1 362.0,231.4 362.5,231.8 362.9,232.1 363.4,232.5 363.9,232.8 364.3,233.2 364.8,233.5 365.2,233.9 365.7,234.2 366.1,234.6 366.6,234.9 367.1,235.2 367.5,235.5 368.0,235.7 368.4,235.9 368.9,236.1 369.4,236.3 369.8,236.4 370.3,236.6 370.7,236.8 371.2,236.9 371.6,237.1 372.1,237.2 372.6,237.4 373.0,237.6 373.5,237.7 373.9,237.9 374.4,238.1 374.8,238.2 375.3,238.4 375.8,238.6 376.2,238.7 376.7,238.9 377.1,239.0 377.6,239.2 378.0,239.3 378.5,239.4 379.0,239.5 379.4,239.5 379.9,239.6 380.3,239.6 380.8,239.7 381.2,239.7 381.7,239.8 382.2,239.8 382.6,239.9 383.1,239.9 383.5,240.0 384.0,240.0 384.4,240.1 384.9,240.1 385.4,240.2 385.8,240.2 386.3,240.3 386.7,240.3 387.2,240.4 387.7,240.5 388.1,240.5 388.6,240.6 389.0,240.7 389.5,240.8 389.9,240.9 390.4,241.0 390.9,241.1 391.3,241.2 391.8,241.3 392.2,241.4 392.7,241.5 393.1,241.6 393.6,241.7 394.1,241.8 394.5,241.9 395.0,242.0 395.4,242.2 395.9,242.3 396.3,242.4 396.8,242.5 397.3,242.6 397.7,242.7 398.2,242.8 398.6,242.9 399.1,242.9 399.5,242.8 400.0,242.6 400.5,242.2 400.9,241.6 401.4,240.8 401.8,239.6 402.3,238.3 402.8,236.8 403.2,235.3 403.7,234.0 404.1,232.9 404.6,232.2 405.0,232.0 405.5,232.1 406.0,232.4 406.4,232.9 406.9,233.4 407.3,233.8 407.8,234.3 408.2,234.8 408.7,235.3 409.2,235.8 409.6,236.3 410.1,236.8 410.5,237.4 411.0,238.1 411.4,238.8 411.9,239.7 412.4,240.6 412.8,241.5 413.3,242.3 413.7,243.2 414.2,243.9 414.6,244.6 415.1,245.3 415.6,245.9 416.0,246.6 416.5,247.2 416.9,247.8 417.4,248.4 417.8,248.9 418.3,249.4 418.8,249.9 419.2,250.4 419.7,250.8 420.1,251.3 420.6,251.7 421.0,252.2 421.5,252.6 422.0,253.0 422.4,253.4 422.9,253.6 423.3,253.8 423.8,253.9 424.3,253.9 424.7,253.8 425.2,253.6 425.6,253.4 426.1,253.1 426.5,252.9 427.0,252.6 427.5,252.3 427.9,252.1 428.4,251.8 428.8,251.6 429.3,251.3 429.7,251.0 430.2,250.8 430.7,250.6 431.1,250.5 431.6,250.4 432.0,250.3 432.5,250.3 432.9,250.3 433.4,250.3 433.9,250.3 434.3,250.3 434.8,250.3 435.2,250.3 435.7,250.3 436.1,250.3 436.6,250.3 437.1,250.4 437.5,250.4 438.0,250.5 438.4,250.7 438.9,250.9 439.4,251.1 439.8,251.4 440.3,251.6 440.7,251.8 441.2,252.1 441.6,252.3 442.1,252.6 442.6,252.8 443.0,253.0 443.5,253.2 443.9,253.4 444.4,253.6 444.8,253.6 445.3,253.6 445.8,253.6 446.2,253.4 446.7,253.3 447.1,253.2 447.6,253.1 448.0,253.0 448.5,252.9" fill="none" stroke="#e06c34" stroke-width="1.0" stroke-linejoin="round"/><polyline points="265.5,199.2 266.0,200.7 266.4,202.7 266.9,205.0 267.3,207.4 267.8,209.7 268.2,211.7 268.7,213.2 269.2,214.4 269.6,215.1 270.1,215.4 270.5,215.5 271.0,215.4 271.4,215.5 271.9,215.7 272.4,216.2 272.8,216.9 273.3,217.8 273.7,218.9 274.2,220.2 274.6,221.7 275.1,223.2 275.6,224.8 276.0,226.3 276.5,227.7 276.9,229.1 277.4,230.4 277.9,231.6 278.3,232.6 278.8,233.6 279.2,234.4 279.7,235.2 280.1,235.8 280.6,236.3 281.1,236.7 281.5,237.0 282.0,237.2 282.4,237.4 282.9,237.4 283.3,237.4 283.8,237.3 284.3,237.1 284.7,236.9 285.2,236.6 285.6,236.4 286.1,236.1 286.5,235.9 287.0,235.6 287.5,235.3 287.9,235.1 288.4,234.8 288.8,234.5 289.3,234.2 289.7,234.0 290.2,233.7 290.7,233.4 291.1,233.1 291.6,232.9 292.0,232.6 292.5,232.3 292.9,232.0 293.4,231.8 293.9,231.5 294.3,231.2 294.8,230.9 295.2,230.6 295.7,230.3 296.2,230.1 296.6,229.8 297.1,229.5 297.5,229.2 298.0,228.9 298.4,228.6 298.9,228.2 299.4,227.9 299.8,227.5 300.3,227.1 300.7,226.7 301.2,226.3 301.6,225.9 302.1,225.5 302.6,225.1 303.0,224.7 303.5,224.2 303.9,223.8 304.4,223.4 304.8,223.0 305.3,222.6 305.8,222.2 306.2,221.7 306.7,221.3 307.1,220.9 307.6,220.5 308.0,220.1 308.5,219.6 309.0,219.2 309.4,218.8 309.9,218.4 310.3,217.9 310.8,217.6 311.2,217.2 311.7,216.9 312.2,216.6 312.6,216.3 313.1,216.0 313.5,215.7 314.0,215.4 314.5,215.1 314.9,214.8 315.4,214.5 315.8,214.2 316.3,213.9 316.7,213.6 317.2,213.4 317.7,213.1 318.1,213.0 318.6,213.1 319.0,213.5 319.5,214.2 319.9,215.1 320.4,221.1 320.9,221.4 321.3,221.6 321.8,221.9 322.2,222.1 322.7,222.3 323.1,222.5 323.6,222.6 324.1,222.8 324.5,223.0 325.0,223.1 325.4,223.3 325.9,223.5 326.3,223.6 326.8,223.8 327.3,224.0 327.7,224.1 328.2,224.3 328.6,224.5 329.1,224.6 329.6,224.8 330.0,225.0 330.5,225.1 330.9,225.3 331.4,225.5 331.8,225.6 332.3,225.8 332.8,226.0 333.2,226.1 333.7,226.3 334.1,226.5 334.6,226.7 335.0,226.9 335.5,227.0 336.0,227.2 336.4,227.4 336.9,227.6 337.3,227.8 337.8,227.9 338.2,228.1 338.7,228.3 339.2,228.5 339.6,228.6 340.1,228.8 340.5,229.0 341.0,229.2 341.4,229.4 341.9,229.5 342.4,229.7 342.8,229.9 343.3,230.1 343.7,230.4 344.2,230.6 344.6,230.8 345.1,231.0 345.6,231.3 346.0,231.5 346.5,231.7 346.9,231.9 347.4,232.2 347.9,232.4 348.3,232.6 348.8,232.8 349.2,233.1 349.7,233.3 350.1,233.5 350.6,233.7 351.1,233.9 351.5,234.2 352.0,234.3 352.4,234.5 352.9,234.6 353.3,234.5 353.8,234.4 354.3,234.2 354.7,233.9 355.2,233.6 355.6,233.3 356.1,233.0 356.5,232.7 357.0,232.4 357.5,232.1 357.9,231.9 358.4,231.7 358.8,231.6 359.3,231.6 359.7,231.7 360.2,232.0 360.7,232.3 361.1,232.6 361.6,233.0 362.0,233.3 362.5,233.7 362.9,234.0 363.4,234.4 363.9,234.7 364.3,235.1 364.8,235.4 365.2,235.8 365.7,236.1 366.1,236.5 366.6,236.8 367.1,237.1 367.5,237.4 368.0,237.6 368.4,237.8 368.9,238.0 369.4,238.2 369.8,238.3 370.3,238.5 370.7,238.7 371.2,238.8 371.6,239.0 372.1,239.1 372.6,239.3 373.0,239.5 373.5,239.6 373.9,239.8 374.4,239.9 374.8,240.1 375.3,240.3 375.8,240.4 376.2,240.6 376.7,240.7 377.1,240.9 377.6,241.0 378.0,241.1 378.5,241.2 379.0,241.3 379.4,241.4 379.9,241.4 380.3,241.5 380.8,241.5 381.2,241.6 381.7,241.6 382.2,241.7 382.6,241.7 383.1,241.8 383.5,241.8 384.0,241.9 384.4,241.9 384.9,242.0 385.4,242.0 385.8,242.1 386.3,242.1 386.7,242.2 387.2,242.2 387.7,242.3 388.1,242.4 388.6,242.4 389.0,242.5 389.5,242.6 389.9,242.7 390.4,242.8 390.9,242.9 391.3,243.0 391.8,243.1 392.2,243.2 392.7,243.3 393.1,243.4 393.6,243.6 394.1,243.7 394.5,243.8 395.0,243.9 395.4,244.0 395.9,244.1 396.3,244.2 396.8,244.3 397.3,244.4 397.7,244.5 398.2,244.5 398.6,244.6 399.1,244.6 399.5,244.5 400.0,244.3 400.5,243.9 400.9,243.3 401.4,242.5 401.8,241.4 402.3,240.0 402.8,238.6 403.2,237.1 403.7,235.8 404.1,234.7 404.6,234.1 405.0,233.9 405.5,234.1 406.0,234.4 406.4,234.9 406.9,235.4 407.3,235.8 407.8,236.3 408.2,236.8 408.7,237.2 409.2,237.7 409.6,238.2 410.1,238.7 410.5,239.2 411.0,239.9 411.4,240.6 411.9,241.4 412.4,242.3 412.8,243.2 413.3,244.0 413.7,244.8 414.2,245.5 414.6,246.2 415.1,246.8 415.6,247.4 416.0,247.9 416.5,248.5 416.9,249.0 417.4,249.5 417.8,250.1 418.3,250.5 418.8,251.0 419.2,251.5 419.7,251.9 420.1,252.4 420.6,252.8 421.0,253.2 421.5,253.6 422.0,254.0 422.4,254.4 422.9,254.6 423.3,254.8 423.8,254.9 424.3,254.8 424.7,254.7 425.2,254.5 425.6,254.3 426.1,254.0 426.5,253.8 427.0,253.6 427.5,253.3 427.9,253.1 428.4,252.9 428.8,252.6 429.3,252.4 429.7,252.2 430.2,252.0 430.7,251.8 431.1,251.7 431.6,251.7 432.0,251.7 432.5,251.8 432.9,251.9 433.4,251.9 433.9,252.0 434.3,252.1 434.8,252.2 435.2,252.3 435.7,252.4 436.1,252.5 436.6,252.5 437.1,252.6 437.5,252.8 438.0,252.9 438.4,253.1 438.9,253.3 439.4,253.5 439.8,253.7 440.3,253.9 440.7,254.1 441.2,254.3 441.6,254.5 442.1,254.7 442.6,254.9 443.0,255.1 443.5,255.2 443.9,255.4 444.4,255.5 444.8,255.5 445.3,255.5 445.8,255.4 446.2,255.2 446.7,255.1 447.1,254.9 447.6,254.8 448.0,254.7 448.5,254.6" fill="none" stroke="#f28a2e" stroke-width="1.0" stroke-linejoin="round"/><polyline points="265.5,207.9 266.0,209.0 266.4,210.6 266.9,212.6 267.3,214.9 267.8,217.2 268.2,219.3 268.7,221.0 269.2,222.1 269.6,222.7 270.1,222.8 270.5,222.8 271.0,222.8 271.4,222.9 271.9,223.2 272.4,223.8 272.8,224.7 273.3,226.1 273.7,227.9 274.2,230.3 274.6,232.9 275.1,235.7 275.6,238.2 276.0,240.4 276.5,242.3 276.9,243.8 277.4,245.0 277.9,246.0 278.3,246.7 278.8,247.3 279.2,247.6 279.7,247.8 280.1,247.9 280.6,248.0 281.1,248.1 281.5,248.1 282.0,248.1 282.4,248.0 282.9,247.8 283.3,247.6 283.8,247.4 284.3,247.2 284.7,247.0 285.2,246.8 285.6,246.7 286.1,246.7 286.5,246.6 287.0,246.6 287.5,246.6 287.9,246.6 288.4,246.5 288.8,246.5 289.3,246.5 289.7,246.4 290.2,246.3 290.7,246.2 291.1,246.0 291.6,245.8 292.0,245.6 292.5,245.4 292.9,245.2 293.4,245.0 293.9,244.8 294.3,244.6 294.8,244.3 295.2,244.1 295.7,243.9 296.2,243.7 296.6,243.5 297.1,243.2 297.5,243.0 298.0,242.7 298.4,242.5 298.9,242.1 299.4,241.8 299.8,241.4 300.3,240.9 300.7,240.5 301.2,240.0 301.6,239.6 302.1,239.1 302.6,238.6 303.0,238.2 303.5,237.7 303.9,237.2 304.4,236.8 304.8,236.3 305.3,235.8 305.8,235.4 306.2,234.9 306.7,234.4 307.1,233.9 307.6,233.4 308.0,233.0 308.5,232.5 309.0,232.0 309.4,231.5 309.9,231.0 310.3,230.6 310.8,230.2 311.2,229.8 311.7,229.5 312.2,229.3 312.6,229.0 313.1,228.8 313.5,228.6 314.0,228.4 314.5,228.1 314.9,227.9 315.4,227.7 315.8,227.5 316.3,227.2 316.7,227.0 317.2,226.8 317.7,226.6 318.1,226.5 318.6,226.6 319.0,226.8 319.5,227.3 319.9,227.9 320.4,232.2 320.9,232.4 321.3,232.7 321.8,232.9 322.2,233.2 322.7,233.4 323.1,233.6 323.6,233.8 324.1,234.0 324.5,234.2 325.0,234.4 325.4,234.6 325.9,234.8 326.3,235.0 326.8,235.2 327.3,235.4 327.7,235.6 328.2,235.8 328.6,236.0 329.1,236.2 329.6,236.4 330.0,236.6 330.5,236.8 330.9,237.0 331.4,237.2 331.8,237.4 332.3,237.6 332.8,237.7 333.2,237.9 333.7,238.1 334.1,238.2 334.6,238.4 335.0,238.6 335.5,238.7 336.0,238.9 336.4,239.1 336.9,239.2 337.3,239.4 337.8,239.5 338.2,239.7 338.7,239.9 339.2,240.0 339.6,240.2 340.1,240.4 340.5,240.5 341.0,240.7 341.4,240.8 341.9,241.0 342.4,241.2 342.8,241.3 343.3,241.5 343.7,241.6 344.2,241.8 344.6,241.9 345.1,242.1 345.6,242.2 346.0,242.4 346.5,242.6 346.9,242.7 347.4,242.9 347.9,243.0 348.3,243.2 348.8,243.3 349.2,243.5 349.7,243.6 350.1,243.8 350.6,243.9 351.1,244.1 351.5,244.2 352.0,244.3 352.4,244.4 352.9,244.4 353.3,244.3 353.8,244.1 354.3,243.7 354.7,243.4 355.2,243.0 355.6,242.5 356.1,242.1 356.5,241.5 357.0,241.0 357.5,240.3 357.9,239.7 358.4,239.1 358.8,238.6 359.3,238.4 359.7,238.4 360.2,238.6 360.7,238.9 361.1,239.3 361.6,239.7 362.0,240.1 362.5,240.5 362.9,240.9 363.4,241.3 363.9,241.7 364.3,242.1 364.8,242.5 365.2,242.9 365.7,243.2 366.1,243.6 366.6,244.0 367.1,244.3 367.5,244.6 368.0,244.9 368.4,245.1 368.9,245.2 369.4,245.4 369.8,245.6 370.3,245.7 370.7,245.9 371.2,246.0 371.6,246.2 372.1,246.3 372.6,246.5 373.0,246.6 373.5,246.8 373.9,246.9 374.4,247.1 374.8,247.3 375.3,247.4 375.8,247.6 376.2,247.7 376.7,247.9 377.1,248.0 377.6,248.1 378.0,248.2 378.5,248.3 379.0,248.3 379.4,248.4 379.9,248.4 380.3,248.4 380.8,248.4 381.2,248.5 381.7,248.5 382.2,248.5 382.6,248.5 383.1,248.5 383.5,248.6 384.0,248.6 384.4,248.6 384.9,248.6 385.4,248.6 385.8,248.7 386.3,248.7 386.7,248.7 387.2,248.7 387.7,248.7 388.1,248.7 388.6,248.7 389.0,248.7 389.5,248.7 389.9,248.6 390.4,248.6 390.9,248.5 391.3,248.5 391.8,248.4 392.2,248.3 392.7,248.3 393.1,248.2 393.6,248.2 394.1,248.1 394.5,248.1 395.0,248.1 395.4,248.1 395.9,248.1 396.3,248.3 396.8,248.4 397.3,248.5 397.7,248.5 398.2,248.3 398.6,247.9 399.1,247.2 399.5,246.3 400.0,245.0 400.5,243.3 400.9,241.4 401.4,239.2 401.8,236.9 402.3,234.6 402.8,232.3 403.2,230.2 403.7,228.4 404.1,227.1 404.6,226.4 405.0,226.1 405.5,226.2 406.0,226.6 406.4,227.1 406.9,227.7 407.3,228.4 407.8,229.0 408.2,229.7 408.7,230.4 409.2,231.1 409.6,231.9 410.1,232.7 410.5,233.5 411.0,234.3 411.4,235.1 411.9,236.0 412.4,236.8 412.8,237.7 413.3,238.6 413.7,239.5 414.2,240.4 414.6,241.2 415.1,242.1 415.6,242.9 416.0,243.7 416.5,244.5 416.9,245.2 417.4,246.0 417.8,246.7 418.3,247.5 418.8,248.2 419.2,248.9 419.7,249.5 420.1,250.1 420.6,250.7 421.0,251.3 421.5,251.8 422.0,252.4 422.4,252.9 422.9,253.3 423.3,253.7 423.8,253.9 424.3,254.0 424.7,253.9 425.2,253.7 425.6,253.5 426.1,253.3 426.5,253.0 427.0,252.7 427.5,252.4 427.9,252.2 428.4,251.9 428.8,251.6 429.3,251.3 429.7,251.1 430.2,250.8 430.7,250.6 431.1,250.3 431.6,250.1 432.0,249.9 432.5,249.8 432.9,249.6 433.4,249.4 433.9,249.2 434.3,249.1 434.8,248.9 435.2,248.7 435.7,248.6 436.1,248.4 436.6,248.2 437.1,248.1 437.5,247.9 438.0,247.8 438.4,247.6 438.9,247.5 439.4,247.4 439.8,247.3 440.3,247.2 440.7,247.0 441.2,246.9 441.6,246.8 442.1,246.7 442.6,246.6 443.0,246.4 443.5,246.3 443.9,246.2 444.4,246.0 444.8,245.9 445.3,245.7 445.8,245.4 446.2,245.2 446.7,245.0 447.1,244.7 447.6,244.5 448.0,244.3 448.5,244.2" fill="none" stroke="#2c6e2c" stroke-width="1.0" stroke-linejoin="round"/><polyline points="265.5,209.3 266.0,210.5 266.4,212.1 266.9,214.3 267.3,216.8 267.8,219.4 268.2,221.7 268.7,223.6 269.2,224.9 269.6,225.5 270.1,225.8 270.5,225.9 271.0,226.2 271.4,226.6 271.9,227.2 272.4,228.1 272.8,229.3 273.3,230.7 273.7,232.5 274.2,234.4 274.6,236.5 275.1,238.7 275.6,240.9 276.0,242.9 276.5,244.7 276.9,246.1 277.4,247.2 277.9,248.1 278.3,248.8 278.8,249.3 279.2,249.8 279.7,250.1 280.1,250.3 280.6,250.5 281.1,250.6 281.5,250.6 282.0,250.6 282.4,250.6 282.9,250.4 283.3,250.2 283.8,250.0 284.3,249.7 284.7,249.5 285.2,249.3 285.6,249.2 286.1,249.1 286.5,249.1 287.0,249.0 287.5,249.0 287.9,248.9 288.4,248.9 288.8,248.8 289.3,248.7 289.7,248.7 290.2,248.6 290.7,248.4 291.1,248.3 291.6,248.1 292.0,247.9 292.5,247.7 292.9,247.5 293.4,247.3 293.9,247.1 294.3,246.8 294.8,246.6 295.2,246.4 295.7,246.2 296.2,246.0 296.6,245.8 297.1,245.6 297.5,245.4 298.0,245.1 298.4,244.8 298.9,244.5 299.4,244.2 299.8,243.8 300.3,243.3 300.7,242.9 301.2,242.5 301.6,242.0 302.1,241.5 302.6,241.1 303.0,240.6 303.5,240.2 303.9,239.7 304.4,239.3 304.8,238.8 305.3,238.3 305.8,237.9 306.2,237.4 306.7,236.9 307.1,236.5 307.6,236.0 308.0,235.5 308.5,235.0 309.0,234.6 309.4,234.1 309.9,233.6 310.3,233.2 310.8,232.8 311.2,232.4 311.7,232.1 312.2,231.9 312.6,231.7 313.1,231.4 313.5,231.2 314.0,231.0 314.5,230.8 314.9,230.6 315.4,230.3 315.8,230.1 316.3,229.9 316.7,229.7 317.2,229.5 317.7,229.3 318.1,229.2 318.6,229.2 319.0,229.5 319.5,230.0 319.9,230.5 320.4,234.7 320.9,234.9 321.3,235.1 321.8,235.4 322.2,235.6 322.7,235.8 323.1,236.0 323.6,236.2 324.1,236.4 324.5,236.7 325.0,236.9 325.4,237.1 325.9,237.3 326.3,237.5 326.8,237.7 327.3,237.9 327.7,238.1 328.2,238.3 328.6,238.5 329.1,238.7 329.6,238.9 330.0,239.1 330.5,239.3 330.9,239.5 331.4,239.7 331.8,239.8 332.3,240.0 332.8,240.2 333.2,240.4 333.7,240.5 334.1,240.7 334.6,240.9 335.0,241.0 335.5,241.2 336.0,241.3 336.4,241.5 336.9,241.7 337.3,241.8 337.8,242.0 338.2,242.1 338.7,242.3 339.2,242.5 339.6,242.6 340.1,242.8 340.5,242.9 341.0,243.1 341.4,243.3 341.9,243.4 342.4,243.6 342.8,243.7 343.3,243.9 343.7,244.0 344.2,244.2 344.6,244.3 345.1,244.5 345.6,244.6 346.0,244.8 346.5,244.9 346.9,245.1 347.4,245.2 347.9,245.4 348.3,245.5 348.8,245.7 349.2,245.8 349.7,246.0 350.1,246.1 350.6,246.3 351.1,246.4 351.5,246.6 352.0,246.7 352.4,246.8 352.9,246.9 353.3,246.9 353.8,246.9 354.3,246.8 354.7,246.7 355.2,246.5 355.6,246.4 356.1,246.2 356.5,246.0 357.0,245.7 357.5,245.4 357.9,245.0 358.4,244.7 358.8,244.4 359.3,244.4 359.7,244.5 360.2,244.7 360.7,245.0 361.1,245.4 361.6,245.7 362.0,246.1 362.5,246.5 362.9,246.9 363.4,247.3 363.9,247.6 364.3,248.0 364.8,248.4 365.2,248.8 365.7,249.1 366.1,249.5 366.6,249.9 367.1,250.2 367.5,250.5 368.0,250.7 368.4,250.9 368.9,251.1 369.4,251.2 369.8,251.4 370.3,251.5 370.7,251.7 371.2,251.8 371.6,252.0 372.1,252.1 372.6,252.3 373.0,252.4 373.5,252.5 373.9,252.7 374.4,252.8 374.8,253.0 375.3,253.1 375.8,253.3 376.2,253.4 376.7,253.6 377.1,253.7 377.6,253.8 378.0,254.0 378.5,254.1 379.0,254.2 379.4,254.3 379.9,254.4 380.3,254.5 380.8,254.6 381.2,254.7 381.7,254.8 382.2,254.9 382.6,255.0 383.1,255.1 383.5,255.2 384.0,255.3 384.4,255.4 384.9,255.4 385.4,255.5 385.8,255.6 386.3,255.7 386.7,255.8 387.2,255.9 387.7,256.0 388.1,256.1 388.6,256.2 389.0,256.3 389.5,256.3 389.9,256.4 390.4,256.5 390.9,256.5 391.3,256.6 391.8,256.7 392.2,256.7 392.7,256.8 393.1,256.8 393.6,256.9 394.1,257.0 394.5,257.0 395.0,257.1 395.4,257.2 395.9,257.3 396.3,257.3 396.8,257.4 397.3,257.5 397.7,257.6 398.2,257.7 398.6,257.6 399.1,257.5 399.5,257.2 400.0,256.7 400.5,255.9 400.9,254.9 401.4,253.7 401.8,252.5 402.3,251.2 402.8,249.9 403.2,248.7 403.7,247.6 404.1,246.6 404.6,245.8 405.0,245.4 405.5,245.4 406.0,245.6 406.4,246.1 406.9,246.8 407.3,247.5 407.8,248.2 408.2,249.0 408.7,249.7 409.2,250.4 409.6,251.2 410.1,251.9 410.5,252.6 411.0,253.4 411.4,254.1 411.9,254.8 412.4,255.5 412.8,256.2 413.3,256.9 413.7,257.5 414.2,258.1 414.6,258.6 415.1,259.2 415.6,259.7 416.0,260.2 416.5,260.7 416.9,261.2 417.4,261.6 417.8,262.1 418.3,262.6 418.8,263.1 419.2,263.6 419.7,264.1 420.1,264.5 420.6,265.0 421.0,265.4 421.5,265.8 422.0,266.2 422.4,266.5 422.9,266.8 423.3,267.0 423.8,267.2 424.3,267.2 424.7,267.2 425.2,267.0 425.6,266.9 426.1,266.7 426.5,266.4 427.0,266.2 427.5,266.0 427.9,265.8 428.4,265.7 428.8,265.5 429.3,265.4 429.7,265.4 430.2,265.3 430.7,265.3 431.1,265.3 431.6,265.3 432.0,265.3 432.5,265.2 432.9,265.2 433.4,265.2 433.9,265.2 434.3,265.2 434.8,265.1 435.2,265.1 435.7,265.1 436.1,265.1 436.6,265.1 437.1,265.1 437.5,265.1 438.0,265.1 438.4,265.2 438.9,265.3 439.4,265.4 439.8,265.5 440.3,265.6 440.7,265.7 441.2,265.8 441.6,265.9 442.1,266.0 442.6,266.1 443.0,266.2 443.5,266.3 443.9,266.4 444.4,266.5 444.8,266.6 445.3,266.6 445.8,266.7 446.2,266.8 446.7,266.9 447.1,266.9 447.6,267.0 448.0,267.0 448.5,267.1" fill="none" stroke="#fcd04a" stroke-width="1.0" stroke-linejoin="round"/><polyline points="265.5,229.9 266.0,231.0 266.4,232.3 266.9,234.0 267.3,235.7 267.8,237.5 268.2,239.1 268.7,240.5 269.2,241.5 269.6,242.3 270.1,242.8 270.5,243.2 271.0,243.5 271.4,243.8 271.9,244.2 272.4,244.6 272.8,245.2 273.3,245.9 273.7,246.9 274.2,248.1 274.6,249.6 275.1,251.4 275.6,253.6 276.0,256.0 276.5,258.7 276.9,261.4 277.4,264.1 277.9,266.6 278.3,268.8 278.8,270.5 279.2,271.9 279.7,273.0 280.1,273.7 280.6,274.3 281.1,274.6 281.5,274.8 282.0,275.0 282.4,275.0 282.9,275.0 283.3,274.9 283.8,274.8 284.3,274.6 284.7,274.4 285.2,274.2 285.6,274.0 286.1,273.8 286.5,273.5 287.0,273.3 287.5,273.1 287.9,272.9 288.4,272.6 288.8,272.4 289.3,272.2 289.7,271.9 290.2,271.7 290.7,271.5 291.1,271.2 291.6,271.0 292.0,270.7 292.5,270.5 292.9,270.2 293.4,270.0 293.9,269.7 294.3,269.4 294.8,269.1 295.2,268.9 295.7,268.6 296.2,268.3 296.6,268.1 297.1,267.8 297.5,267.5 298.0,267.2 298.4,267.0 298.9,266.7 299.4,266.4 299.8,266.2 300.3,265.9 300.7,265.6 301.2,265.3 301.6,265.0 302.1,264.7 302.6,264.4 303.0,264.1 303.5,263.8 303.9,263.5 304.4,263.1 304.8,262.8 305.3,262.4 305.8,262.0 306.2,261.6 306.7,261.2 307.1,260.7 307.6,260.3 308.0,259.9 308.5,259.4 309.0,259.0 309.4,258.5 309.9,258.1 310.3,257.7 310.8,257.3 311.2,256.9 311.7,256.5 312.2,256.1 312.6,255.8 313.1,255.4 313.5,255.0 314.0,254.7 314.5,254.3 314.9,254.0 315.4,253.6 315.8,253.4 316.3,253.1 316.7,252.9 317.2,252.7 317.7,252.4 318.1,252.2 318.6,252.1 319.0,251.9 319.5,251.8 319.9,251.7 320.4,255.7 320.9,255.9 321.3,256.1 321.8,256.3 322.2,256.5 322.7,256.6 323.1,256.7 323.6,256.8 324.1,256.9 324.5,257.0 325.0,257.1 325.4,257.2 325.9,257.3 326.3,257.4 326.8,257.4 327.3,257.5 327.7,257.6 328.2,257.7 328.6,257.7 329.1,257.8 329.6,257.9 330.0,258.0 330.5,258.1 330.9,258.1 331.4,258.2 331.8,258.3 332.3,258.4 332.8,258.5 333.2,258.6 333.7,258.7 334.1,258.8 334.6,258.9 335.0,259.0 335.5,259.1 336.0,259.1 336.4,259.2 336.9,259.3 337.3,259.4 337.8,259.5 338.2,259.6 338.7,259.7 339.2,259.8 339.6,259.9 340.1,260.0 340.5,260.1 341.0,260.2 341.4,260.3 341.9,260.4 342.4,260.5 342.8,260.6 343.3,260.7 343.7,260.8 344.2,261.0 344.6,261.1 345.1,261.2 345.6,261.4 346.0,261.5 346.5,261.7 346.9,261.8 347.4,261.9 347.9,262.1 348.3,262.2 348.8,262.3 349.2,262.5 349.7,262.6 350.1,262.7 350.6,262.9 351.1,263.0 351.5,263.1 352.0,263.2 352.4,263.3 352.9,263.2 353.3,263.1 353.8,262.8 354.3,262.4 354.7,261.9 355.2,261.4 355.6,260.9 356.1,260.3 356.5,259.6 357.0,258.7 357.5,257.7 357.9,256.6 358.4,255.5 358.8,254.6 359.3,253.9 359.7,253.5 360.2,253.3 360.7,253.4 361.1,253.4 361.6,253.6 362.0,253.7 362.5,253.9 362.9,254.1 363.4,254.4 363.9,254.7 364.3,255.1 364.8,255.6 365.2,256.0 365.7,256.5 366.1,256.9 366.6,257.4 367.1,257.9 367.5,258.3 368.0,258.8 368.4,259.2 368.9,259.6 369.4,260.0 369.8,260.4 370.3,260.7 370.7,261.0 371.2,261.2 371.6,261.5 372.1,261.7 372.6,261.9 373.0,262.1 373.5,262.4 373.9,262.6 374.4,262.8 374.8,263.0 375.3,263.3 375.8,263.5 376.2,263.7 376.7,263.9 377.1,264.1 377.6,264.3 378.0,264.4 378.5,264.5 379.0,264.6 379.4,264.6 379.9,264.6 380.3,264.6 380.8,264.6 381.2,264.6 381.7,264.6 382.2,264.6 382.6,264.6 383.1,264.6 383.5,264.6 384.0,264.6 384.4,264.6 384.9,264.6 385.4,264.6 385.8,264.6 386.3,264.6 386.7,264.6 387.2,264.6 387.7,264.6 388.1,264.5 388.6,264.5 389.0,264.3 389.5,264.2 389.9,264.0 390.4,263.8 390.9,263.6 391.3,263.4 391.8,263.2 392.2,263.0 392.7,262.9 393.1,262.8 393.6,262.8 394.1,262.8 394.5,262.9 395.0,262.9 395.4,263.0 395.9,263.0 396.3,262.9 396.8,262.8 397.3,262.7 397.7,262.5 398.2,262.2 398.6,261.9 399.1,261.3 399.5,260.4 400.0,259.1 400.5,257.2 400.9,254.9 401.4,252.0 401.8,248.8 402.3,245.4 402.8,242.2 403.2,239.5 403.7,237.5 404.1,236.3 404.6,235.9 405.0,236.0 405.5,236.5 406.0,237.1 406.4,237.8 406.9,238.5 407.3,239.2 407.8,239.9 408.2,240.6 408.7,241.3 409.2,242.0 409.6,242.7 410.1,243.4 410.5,244.2 411.0,245.0 411.4,245.9 411.9,246.8 412.4,247.8 412.8,248.7 413.3,249.7 413.7,250.6 414.2,251.5 414.6,252.4 415.1,253.3 415.6,254.2 416.0,255.0 416.5,255.9 416.9,256.7 417.4,257.5 417.8,258.2 418.3,258.9 418.8,259.5 419.2,260.1 419.7,260.7 420.1,261.2 420.6,261.8 421.0,262.3 421.5,262.8 422.0,263.4 422.4,263.8 422.9,264.2 423.3,264.6 423.8,264.8 424.3,264.9 424.7,264.8 425.2,264.6 425.6,264.4 426.1,264.1 426.5,263.9 427.0,263.6 427.5,263.3 427.9,263.0 428.4,262.7 428.8,262.4 429.3,262.1 429.7,261.8 430.2,261.5 430.7,261.3 431.1,261.0 431.6,260.8 432.0,260.7 432.5,260.5 432.9,260.3 433.4,260.2 433.9,260.0 434.3,259.9 434.8,259.7 435.2,259.5 435.7,259.4 436.1,259.2 436.6,259.1 437.1,258.9 437.5,258.8 438.0,258.6 438.4,258.5 438.9,258.3 439.4,258.1 439.8,258.0 440.3,257.8 440.7,257.7 441.2,257.5 441.6,257.4 442.1,257.2 442.6,257.1 443.0,256.9 443.5,256.7 443.9,256.6 444.4,256.4 444.8,256.3 445.3,256.1 445.8,256.0 446.2,255.8 446.7,255.7 447.1,255.5 447.6,255.4 448.0,255.3 448.5,255.2" fill="none" stroke="#48a038" stroke-width="1.0" stroke-linejoin="round"/><polyline points="265.5,229.0 266.0,229.5 266.4,230.2 266.9,231.5 267.3,233.1 267.8,235.2 268.2,237.5 268.7,239.9 269.2,242.0 269.6,243.7 270.1,244.8 270.5,245.4 271.0,245.7 271.4,245.9 271.9,246.3 272.4,246.8 272.8,247.4 273.3,248.0 273.7,248.6 274.2,249.4 274.6,250.2 275.1,251.4 275.6,252.9 276.0,254.8 276.5,257.2 276.9,259.7 277.4,262.3 277.9,264.7 278.3,266.9 278.8,268.7 279.2,270.1 279.7,271.1 280.1,271.9 280.6,272.4 281.1,272.7 281.5,272.9 282.0,273.0 282.4,273.1 282.9,273.0 283.3,272.9 283.8,272.8 284.3,272.7 284.7,272.5 285.2,272.4 285.6,272.2 286.1,272.0 286.5,271.8 287.0,271.7 287.5,271.5 287.9,271.3 288.4,271.1 288.8,270.9 289.3,270.7 289.7,270.4 290.2,270.2 290.7,270.0 291.1,269.8 291.6,269.6 292.0,269.3 292.5,269.1 292.9,268.9 293.4,268.6 293.9,268.4 294.3,268.1 294.8,267.8 295.2,267.6 295.7,267.3 296.2,267.1 296.6,266.8 297.1,266.5 297.5,266.3 298.0,266.0 298.4,265.7 298.9,265.5 299.4,265.2 299.8,264.9 300.3,264.6 300.7,264.3 301.2,264.0 301.6,263.6 302.1,263.3 302.6,263.0 303.0,262.6 303.5,262.3 303.9,261.9 304.4,261.5 304.8,261.1 305.3,260.7 305.8,260.3 306.2,259.8 306.7,259.4 307.1,258.9 307.6,258.4 308.0,258.0 308.5,257.5 309.0,257.0 309.4,256.5 309.9,256.1 310.3,255.7 310.8,255.3 311.2,254.9 311.7,254.6 312.2,254.3 312.6,253.9 313.1,253.6 313.5,253.3 314.0,252.9 314.5,252.6 314.9,252.3 315.4,252.1 315.8,251.8 316.3,251.6 316.7,251.4 317.2,251.3 317.7,251.1 318.1,251.0 318.6,250.8 319.0,250.7 319.5,250.6 319.9,250.6 320.4,254.2 320.9,254.3 321.3,254.5 321.8,254.6 322.2,254.7 322.7,254.7 323.1,254.8 323.6,254.8 324.1,254.9 324.5,255.0 325.0,255.1 325.4,255.3 325.9,255.5 326.3,255.7 326.8,255.9 327.3,256.2 327.7,256.4 328.2,256.7 328.6,256.9 329.1,257.2 329.6,257.5 330.0,257.8 330.5,258.1 330.9,258.4 331.4,258.7 331.8,259.0 332.3,259.3 332.8,259.5 333.2,259.7 333.7,259.9 334.1,260.0 334.6,260.1 335.0,260.3 335.5,260.4 336.0,260.6 336.4,260.7 336.9,260.8 337.3,261.0 337.8,261.1 338.2,261.3 338.7,261.4 339.2,261.5 339.6,261.7 340.1,261.8 340.5,261.9 341.0,262.1 341.4,262.2 341.9,262.4 342.4,262.5 342.8,262.7 343.3,262.8 343.7,263.0 344.2,263.2 344.6,263.4 345.1,263.5 345.6,263.7 346.0,263.9 346.5,264.1 346.9,264.3 347.4,264.4 347.9,264.6 348.3,264.8 348.8,265.0 349.2,265.1 349.7,265.3 350.1,265.5 350.6,265.7 351.1,265.8 351.5,266.0 352.0,266.2 352.4,266.3 352.9,266.5 353.3,266.7 353.8,266.8 354.3,267.0 354.7,267.1 355.2,267.2 355.6,267.3 356.1,267.4 356.5,267.3 357.0,267.0 357.5,266.5 357.9,266.0 358.4,265.4 358.8,264.9 359.3,264.7 359.7,264.7 360.2,264.9 360.7,265.2 361.1,265.6 361.6,266.1 362.0,266.5 362.5,266.9 362.9,267.4 363.4,267.8 363.9,268.2 364.3,268.7 364.8,269.1 365.2,269.5 365.7,269.9 366.1,270.4 366.6,270.8 367.1,271.2 367.5,271.6 368.0,272.1 368.4,272.5 368.9,272.9 369.4,273.2 369.8,273.5 370.3,273.7 370.7,274.0 371.2,274.1 371.6,274.3 372.1,274.5 372.6,274.6 373.0,274.8 373.5,274.9 373.9,275.1 374.4,275.2 374.8,275.4 375.3,275.6 375.8,275.7 376.2,275.9 376.7,276.0 377.1,276.2 377.6,276.3 378.0,276.4 378.5,276.5 379.0,276.6 379.4,276.6 379.9,276.7 380.3,276.7 380.8,276.7 381.2,276.8 381.7,276.8 382.2,276.9 382.6,276.9 383.1,276.9 383.5,277.0 384.0,277.0 384.4,277.0 384.9,277.1 385.4,277.1 385.8,277.2 386.3,277.2 386.7,277.2 387.2,277.3 387.7,277.3 388.1,277.3 388.6,277.3 389.0,277.2 389.5,277.2 389.9,277.1 390.4,277.0 390.9,276.9 391.3,276.8 391.8,276.7 392.2,276.7 392.7,276.7 393.1,276.7 393.6,276.9 394.1,277.1 394.5,277.3 395.0,277.5 395.4,277.8 395.9,278.0 396.3,278.2 396.8,278.3 397.3,278.3 397.7,278.3 398.2,278.2 398.6,277.9 399.1,277.6 399.5,277.2 400.0,276.6 400.5,275.7 400.9,274.4 401.4,272.9 401.8,271.0 402.3,268.9 402.8,266.8 403.2,264.8 403.7,262.9 404.1,261.2 404.6,259.8 405.0,259.0 405.5,258.6 406.0,258.6 406.4,259.1 406.9,259.9 407.3,260.8 407.8,261.7 408.2,262.7 408.7,263.7 409.2,264.7 409.6,265.7 410.1,266.7 410.5,267.6 411.0,268.6 411.4,269.5 411.9,270.4 412.4,271.2 412.8,271.9 413.3,272.6 413.7,273.2 414.2,273.8 414.6,274.4 415.1,274.9 415.6,275.5 416.0,276.1 416.5,276.6 416.9,277.2 417.4,277.7 417.8,278.3 418.3,278.9 418.8,279.4 419.2,280.0 419.7,280.6 420.1,281.2 420.6,281.8 421.0,282.3 421.5,282.9 422.0,283.4 422.4,283.9 422.9,284.3 423.3,284.7 423.8,284.9 424.3,285.0 424.7,285.0 425.2,284.8 425.6,284.7 426.1,284.5 426.5,284.2 427.0,284.0 427.5,283.8 427.9,283.6 428.4,283.3 428.8,283.1 429.3,282.9 429.7,282.6 430.2,282.4 430.7,282.3 431.1,282.2 431.6,282.1 432.0,282.0 432.5,282.0 432.9,282.0 433.4,282.0 433.9,282.0 434.3,282.0 434.8,282.0 435.2,282.0 435.7,282.0 436.1,282.0 436.6,282.0 437.1,282.0 437.5,282.0 438.0,281.9 438.4,281.9 438.9,281.8 439.4,281.8 439.8,281.7 440.3,281.6 440.7,281.6 441.2,281.5 441.6,281.4 442.1,281.4 442.6,281.3 443.0,281.2 443.5,281.1 443.9,281.1 444.4,281.0 444.8,280.9 445.3,280.7 445.8,280.6 446.2,280.4 446.7,280.3 447.1,280.1 447.6,279.9 448.0,279.8 448.5,279.7" fill="none" stroke="#86c440" stroke-width="1.0" stroke-linejoin="round"/><polyline points="265.5,244.6 266.0,246.8 266.4,249.2 266.9,251.4 267.3,253.1 267.8,254.3 268.2,255.2 268.7,255.7 269.2,256.1 269.6,256.2 270.1,256.3 270.5,256.2 271.0,256.0 271.4,255.9 271.9,255.7 272.4,255.6 272.8,255.8 273.3,256.2 273.7,256.9 274.2,258.0 274.6,259.4 275.1,261.2 275.6,263.2 276.0,265.3 276.5,267.5 276.9,269.5 277.4,271.5 277.9,273.3 278.3,274.9 278.8,276.2 279.2,277.4 279.7,278.3 280.1,279.1 280.6,279.7 281.1,280.2 281.5,280.6 282.0,280.8 282.4,280.9 282.9,280.9 283.3,280.9 283.8,280.7 284.3,280.5 284.7,280.3 285.2,280.0 285.6,279.7 286.1,279.4 286.5,279.1 287.0,278.8 287.5,278.6 287.9,278.3 288.4,278.1 288.8,277.9 289.3,277.7 289.7,277.5 290.2,277.4 290.7,277.2 291.1,277.0 291.6,276.8 292.0,276.7 292.5,276.5 292.9,276.3 293.4,276.1 293.9,275.9 294.3,275.7 294.8,275.6 295.2,275.4 295.7,275.2 296.2,275.0 296.6,274.7 297.1,274.5 297.5,274.3 298.0,274.0 298.4,273.8 298.9,273.5 299.4,273.2 299.8,272.9 300.3,272.6 300.7,272.3 301.2,271.9 301.6,271.5 302.1,271.1 302.6,270.6 303.0,270.2 303.5,269.7 303.9,269.3 304.4,268.8 304.8,268.3 305.3,267.9 305.8,267.5 306.2,267.0 306.7,266.6 307.1,266.1 307.6,265.7 308.0,265.3 308.5,264.8 309.0,264.4 309.4,263.9 309.9,263.5 310.3,263.1 310.8,262.7 311.2,262.4 311.7,262.0 312.2,261.7 312.6,261.4 313.1,261.0 313.5,260.7 314.0,260.3 314.5,260.0 314.9,259.7 315.4,259.4 315.8,259.2 316.3,259.0 316.7,258.8 317.2,258.7 317.7,258.5 318.1,258.4 318.6,258.2 319.0,258.1 319.5,258.1 319.9,258.0 320.4,261.6 320.9,261.8 321.3,262.1 321.8,262.3 322.2,262.5 322.7,262.7 323.1,262.9 323.6,263.0 324.1,263.2 324.5,263.4 325.0,263.5 325.4,263.7 325.9,263.9 326.3,264.1 326.8,264.3 327.3,264.5 327.7,264.7 328.2,264.9 328.6,265.1 329.1,265.3 329.6,265.5 330.0,265.7 330.5,265.9 330.9,266.1 331.4,266.3 331.8,266.5 332.3,266.7 332.8,266.8 333.2,267.0 333.7,267.1 334.1,267.2 334.6,267.4 335.0,267.5 335.5,267.6 336.0,267.8 336.4,267.9 336.9,268.0 337.3,268.2 337.8,268.3 338.2,268.4 338.7,268.6 339.2,268.7 339.6,268.8 340.1,269.0 340.5,269.1 341.0,269.2 341.4,269.3 341.9,269.5 342.4,269.6 342.8,269.7 343.3,269.9 343.7,270.0 344.2,270.1 344.6,270.2 345.1,270.4 345.6,270.5 346.0,270.6 346.5,270.7 346.9,270.9 347.4,271.0 347.9,271.1 348.3,271.2 348.8,271.4 349.2,271.5 349.7,271.6 350.1,271.7 350.6,271.8 351.1,272.0 351.5,272.1 352.0,272.2 352.4,272.3 352.9,272.3 353.3,272.3 353.8,272.3 354.3,272.2 354.7,272.0 355.2,271.9 355.6,271.7 356.1,271.4 356.5,270.9 357.0,270.3 357.5,269.4 357.9,268.4 358.4,267.4 358.8,266.5 359.3,265.8 359.7,265.5 360.2,265.4 360.7,265.5 361.1,265.7 361.6,265.9 362.0,266.2 362.5,266.4 362.9,266.7 363.4,267.1 363.9,267.5 364.3,267.9 364.8,268.4 365.2,268.9 365.7,269.4 366.1,269.9 366.6,270.4 367.1,270.8 367.5,271.3 368.0,271.8 368.4,272.3 368.9,272.7 369.4,273.1 369.8,273.4 370.3,273.7 370.7,273.9 371.2,274.1 371.6,274.2 372.1,274.3 372.6,274.5 373.0,274.6 373.5,274.7 373.9,274.9 374.4,275.0 374.8,275.1 375.3,275.3 375.8,275.4 376.2,275.5 376.7,275.7 377.1,275.8 377.6,275.9 378.0,276.0 378.5,276.1 379.0,276.2 379.4,276.2 379.9,276.3 380.3,276.3 380.8,276.4 381.2,276.5 381.7,276.5 382.2,276.6 382.6,276.6 383.1,276.7 383.5,276.8 384.0,276.8 384.4,276.9 384.9,276.9 385.4,277.0 385.8,277.0 386.3,277.1 386.7,277.2 387.2,277.2 387.7,277.3 388.1,277.3 388.6,277.3 389.0,277.3 389.5,277.3 389.9,277.3 390.4,277.2 390.9,277.2 391.3,277.2 391.8,277.1 392.2,277.1 392.7,277.1 393.1,277.0 393.6,277.0 394.1,277.0 394.5,277.0 395.0,277.1 395.4,277.2 395.9,277.3 396.3,277.5 396.8,277.7 397.3,277.9 397.7,277.9 398.2,277.9 398.6,277.8 399.1,277.4 399.5,276.8 400.0,275.9 400.5,274.4 400.9,272.2 401.4,269.5 401.8,266.2 402.3,262.8 402.8,259.5 403.2,256.5 403.7,253.9 404.1,251.6 404.6,249.8 405.0,248.6 405.5,248.0 406.0,248.0 406.4,248.3 406.9,248.9 407.3,249.6 407.8,250.3 408.2,251.0 408.7,251.7 409.2,252.5 409.6,253.2 410.1,254.0 410.5,254.8 411.0,255.6 411.4,256.6 411.9,257.6 412.4,258.7 412.8,259.8 413.3,260.9 413.7,262.1 414.2,263.2 414.6,264.3 415.1,265.4 415.6,266.5 416.0,267.6 416.5,268.6 416.9,269.6 417.4,270.5 417.8,271.3 418.3,272.0 418.8,272.6 419.2,273.1 419.7,273.6 420.1,274.0 420.6,274.5 421.0,274.9 421.5,275.4 422.0,276.0 422.4,276.6 422.9,277.2 423.3,277.8 423.8,278.4 424.3,278.7 424.7,278.9 425.2,278.9 425.6,278.7 426.1,278.5 426.5,278.3 427.0,278.1 427.5,277.8 427.9,277.6 428.4,277.4 428.8,277.1 429.3,276.9 429.7,276.7 430.2,276.4 430.7,276.2 431.1,276.0 431.6,275.8 432.0,275.7 432.5,275.6 432.9,275.4 433.4,275.3 433.9,275.1 434.3,275.0 434.8,274.9 435.2,274.7 435.7,274.6 436.1,274.5 436.6,274.3 437.1,274.2 437.5,274.0 438.0,273.9 438.4,273.7 438.9,273.5 439.4,273.3 439.8,273.1 440.3,272.9 440.7,272.7 441.2,272.4 441.6,272.2 442.1,272.0 442.6,271.8 443.0,271.6 443.5,271.4 443.9,271.1 444.4,270.9 444.8,270.6 445.3,270.2 445.8,269.9 446.2,269.5 446.7,269.2 447.1,268.8 447.6,268.4 448.0,268.1 448.5,267.9" fill="none" stroke="#74554a" stroke-width="1.0" stroke-linejoin="round"/><polyline points="265.5,271.6 266.0,272.2 266.4,272.8 266.9,273.5 267.3,274.1 267.8,274.8 268.2,275.5 268.7,276.2 269.2,276.8 269.6,277.2 270.1,277.6 270.5,277.7 271.0,277.7 271.4,277.7 271.9,277.7 272.4,277.8 272.8,278.1 273.3,278.5 273.7,279.1 274.2,279.9 274.6,280.9 275.1,282.1 275.6,283.4 276.0,284.8 276.5,286.4 276.9,288.2 277.4,290.1 277.9,291.9 278.3,293.7 278.8,295.4 279.2,297.0 279.7,298.2 280.1,299.2 280.6,300.0 281.1,300.5 281.5,300.9 282.0,301.2 282.4,301.4 282.9,301.6 283.3,301.6 283.8,301.5 284.3,301.4 284.7,301.2 285.2,301.1 285.6,300.9 286.1,300.7 286.5,300.5 287.0,300.3 287.5,300.1 287.9,299.9 288.4,299.7 288.8,299.5 289.3,299.3 289.7,299.1 290.2,298.9 290.7,298.6 291.1,298.4 291.6,298.1 292.0,297.9 292.5,297.6 292.9,297.3 293.4,297.0 293.9,296.7 294.3,296.4 294.8,296.1 295.2,295.7 295.7,295.3 296.2,294.9 296.6,294.4 297.1,294.0 297.5,293.5 298.0,293.0 298.4,292.5 298.9,292.1 299.4,291.6 299.8,291.1 300.3,290.6 300.7,290.1 301.2,289.6 301.6,289.1 302.1,288.6 302.6,288.0 303.0,287.5 303.5,287.0 303.9,286.5 304.4,286.0 304.8,285.4 305.3,284.9 305.8,284.5 306.2,284.0 306.7,283.5 307.1,283.0 307.6,282.5 308.0,282.1 308.5,281.6 309.0,281.1 309.4,280.6 309.9,280.2 310.3,279.7 310.8,279.3 311.2,278.9 311.7,278.4 312.2,278.0 312.6,277.6 313.1,277.2 313.5,276.8 314.0,276.4 314.5,276.0 314.9,275.6 315.4,275.3 315.8,274.9 316.3,274.6 316.7,274.2 317.2,273.9 317.7,273.6 318.1,273.2 318.6,273.0 319.0,272.8 319.5,272.6 319.9,272.6 320.4,280.5 320.9,280.9 321.3,281.2 321.8,281.5 322.2,281.7 322.7,281.9 323.1,282.0 323.6,282.0 324.1,282.0 324.5,282.0 325.0,282.0 325.4,282.0 325.9,282.0 326.3,282.0 326.8,282.0 327.3,282.0 327.7,282.0 328.2,282.0 328.6,282.0 329.1,282.0 329.6,282.0 330.0,282.1 330.5,282.2 330.9,282.3 331.4,282.5 331.8,282.6 332.3,282.7 332.8,282.8 333.2,282.9 333.7,282.9 334.1,283.0 334.6,283.0 335.0,283.0 335.5,283.0 336.0,283.1 336.4,283.1 336.9,283.1 337.3,283.1 337.8,283.2 338.2,283.2 338.7,283.2 339.2,283.2 339.6,283.3 340.1,283.3 340.5,283.3 341.0,283.3 341.4,283.4 341.9,283.4 342.4,283.5 342.8,283.5 343.3,283.6 343.7,283.7 344.2,283.8 344.6,283.8 345.1,283.9 345.6,284.0 346.0,284.1 346.5,284.2 346.9,284.3 347.4,284.4 347.9,284.5 348.3,284.5 348.8,284.5 349.2,284.5 349.7,284.5 350.1,284.4 350.6,284.3 351.1,284.2 351.5,284.1 352.0,284.0 352.4,283.9 352.9,283.8 353.3,283.7 353.8,283.6 354.3,283.5 354.7,283.4 355.2,283.3 355.6,283.1 356.1,282.9 356.5,282.6 357.0,282.2 357.5,281.6 357.9,280.9 358.4,280.2 358.8,279.5 359.3,279.1 359.7,278.8 360.2,278.7 360.7,278.7 361.1,278.8 361.6,278.9 362.0,279.0 362.5,279.1 362.9,279.3 363.4,279.5 363.9,279.8 364.3,280.2 364.8,280.5 365.2,280.9 365.7,281.3 366.1,281.7 366.6,282.1 367.1,282.5 367.5,282.9 368.0,283.2 368.4,283.6 368.9,284.0 369.4,284.3 369.8,284.6 370.3,284.8 370.7,285.0 371.2,285.1 371.6,285.3 372.1,285.4 372.6,285.6 373.0,285.7 373.5,285.9 373.9,286.0 374.4,286.1 374.8,286.3 375.3,286.4 375.8,286.6 376.2,286.7 376.7,286.8 377.1,287.0 377.6,287.1 378.0,287.2 378.5,287.3 379.0,287.3 379.4,287.4 379.9,287.4 380.3,287.5 380.8,287.5 381.2,287.5 381.7,287.6 382.2,287.6 382.6,287.7 383.1,287.7 383.5,287.7 384.0,287.8 384.4,287.8 384.9,287.8 385.4,287.9 385.8,287.9 386.3,288.0 386.7,288.0 387.2,288.0 387.7,288.1 388.1,288.1 388.6,288.2 389.0,288.3 389.5,288.4 389.9,288.5 390.4,288.6 390.9,288.7 391.3,288.8 391.8,288.9 392.2,289.0 392.7,289.1 393.1,289.2 393.6,289.3 394.1,289.4 394.5,289.5 395.0,289.6 395.4,289.7 395.9,289.7 396.3,289.7 396.8,289.6 397.3,289.5 397.7,289.3 398.2,289.1 398.6,288.8 399.1,288.3 399.5,287.5 400.0,286.4 400.5,285.0 400.9,283.2 401.4,281.2 401.8,278.9 402.3,276.3 402.8,273.7 403.2,271.2 403.7,268.8 404.1,266.6 404.6,264.9 405.0,263.6 405.5,262.9 406.0,262.7 406.4,263.0 406.9,263.6 407.3,264.4 407.8,265.2 408.2,266.1 408.7,267.0 409.2,267.9 409.6,268.8 410.1,269.7 410.5,270.6 411.0,271.6 411.4,272.7 411.9,273.9 412.4,275.2 412.8,276.4 413.3,277.6 413.7,278.8 414.2,279.9 414.6,280.9 415.1,282.0 415.6,282.9 416.0,283.9 416.5,284.9 416.9,285.8 417.4,286.7 417.8,287.5 418.3,288.2 418.8,288.9 419.2,289.5 419.7,290.1 420.1,290.6 420.6,291.2 421.0,291.7 421.5,292.3 422.0,292.8 422.4,293.4 422.9,294.0 423.3,294.7 423.8,295.3 424.3,295.9 424.7,296.4 425.2,296.8 425.6,297.0 426.1,297.0 426.5,296.9 427.0,296.7 427.5,296.5 427.9,296.3 428.4,296.1 428.8,295.8 429.3,295.6 429.7,295.4 430.2,295.3 430.7,295.2 431.1,295.1 431.6,295.1 432.0,295.2 432.5,295.2 432.9,295.3 433.4,295.4 433.9,295.5 434.3,295.5 434.8,295.6 435.2,295.7 435.7,295.8 436.1,295.8 436.6,295.9 437.1,296.0 437.5,296.0 438.0,296.1 438.4,296.2 438.9,296.2 439.4,296.3 439.8,296.3 440.3,296.4 440.7,296.4 441.2,296.5 441.6,296.5 442.1,296.6 442.6,296.6 443.0,296.7 443.5,296.7 443.9,296.7 444.4,296.7 444.8,296.6 445.3,296.5 445.8,296.4 446.2,296.3 446.7,296.1 447.1,296.0 447.6,295.8 448.0,295.7 448.5,295.6" fill="none" stroke="#634238" stroke-width="1.0" stroke-linejoin="round"/><polyline points="265.5,265.0 266.0,265.8 266.4,266.9 266.9,268.2 267.3,269.7 267.8,271.1 268.2,272.3 268.7,273.4 269.2,274.2 269.6,274.8 270.1,275.1 270.5,275.2 271.0,275.1 271.4,275.0 271.9,275.0 272.4,275.1 272.8,275.5 273.3,276.2 273.7,277.2 274.2,278.5 274.6,280.1 275.1,281.8 275.6,283.8 276.0,285.8 276.5,288.0 276.9,290.2 277.4,292.5 277.9,294.8 278.3,297.0 278.8,299.2 279.2,301.2 279.7,303.2 280.1,305.0 280.6,306.6 281.1,307.8 281.5,308.8 282.0,309.4 282.4,309.8 282.9,309.9 283.3,309.9 283.8,309.8 284.3,309.7 284.7,309.6 285.2,309.5 285.6,309.3 286.1,309.1 286.5,309.0 287.0,308.8 287.5,308.6 287.9,308.4 288.4,308.2 288.8,308.0 289.3,307.8 289.7,307.6 290.2,307.5 290.7,307.3 291.1,307.1 291.6,306.9 292.0,306.7 292.5,306.5 292.9,306.2 293.4,306.0 293.9,305.7 294.3,305.4 294.8,305.2 295.2,304.9 295.7,304.6 296.2,304.4 296.6,304.1 297.1,303.8 297.5,303.6 298.0,303.3 298.4,303.0 298.9,302.6 299.4,302.3 299.8,301.9 300.3,301.5 300.7,301.1 301.2,300.7 301.6,300.3 302.1,299.9 302.6,299.5 303.0,299.1 303.5,298.7 303.9,298.3 304.4,297.8 304.8,297.4 305.3,297.0 305.8,296.5 306.2,296.0 306.7,295.5 307.1,295.0 307.6,294.5 308.0,294.0 308.5,293.5 309.0,293.0 309.4,292.5 309.9,292.1 310.3,291.6 310.8,291.1 311.2,290.6 311.7,290.2 312.2,289.7 312.6,289.3 313.1,289.0 313.5,288.6 314.0,288.4 314.5,288.1 314.9,287.8 315.4,287.6 315.8,287.3 316.3,287.1 316.7,286.9 317.2,286.8 317.7,286.7 318.1,286.6 318.6,286.6 319.0,286.6 319.5,286.6 319.9,286.6 320.4,286.8 320.9,286.9 321.3,287.0 321.8,287.2 322.2,287.4 322.7,287.5 323.1,287.7 323.6,287.9 324.1,288.1 324.5,288.2 325.0,288.4 325.4,288.6 325.9,288.8 326.3,289.0 326.8,289.1 327.3,289.3 327.7,289.5 328.2,289.7 328.6,289.8 329.1,290.0 329.6,290.2 330.0,290.3 330.5,290.5 330.9,290.7 331.4,290.8 331.8,291.0 332.3,291.2 332.8,291.3 333.2,291.5 333.7,291.7 334.1,291.8 334.6,292.0 335.0,292.2 335.5,292.3 336.0,292.5 336.4,292.7 336.9,292.8 337.3,293.0 337.8,293.1 338.2,293.3 338.7,293.5 339.2,293.6 339.6,293.8 340.1,293.9 340.5,294.1 341.0,294.3 341.4,294.4 341.9,294.6 342.4,294.8 342.8,295.0 343.3,295.2 343.7,295.4 344.2,295.7 344.6,295.9 345.1,296.1 345.6,296.3 346.0,296.6 346.5,296.8 346.9,297.0 347.4,297.3 347.9,297.5 348.3,297.7 348.8,298.0 349.2,298.2 349.7,298.4 350.1,298.6 350.6,298.9 351.1,299.1 351.5,299.3 352.0,299.5 352.4,299.7 352.9,299.9 353.3,300.1 353.8,300.2 354.3,300.2 354.7,300.2 355.2,300.1 355.6,299.9 356.1,299.6 356.5,299.2 357.0,298.7 357.5,298.1 357.9,297.6 358.4,297.0 358.8,296.6 359.3,296.4 359.7,296.3 360.2,296.4 360.7,296.6 361.1,296.8 361.6,297.1 362.0,297.4 362.5,297.6 362.9,297.9 363.4,298.2 363.9,298.6 364.3,299.0 364.8,299.3 365.2,299.7 365.7,300.1 366.1,300.5 366.6,300.9 367.1,301.3 367.5,301.7 368.0,302.1 368.4,302.5 368.9,302.8 369.4,303.1 369.8,303.4 370.3,303.7 370.7,303.9 371.2,304.1 371.6,304.2 372.1,304.4 372.6,304.6 373.0,304.7 373.5,304.9 373.9,305.1 374.4,305.2 374.8,305.4 375.3,305.6 375.8,305.7 376.2,305.9 376.7,306.0 377.1,306.2 377.6,306.3 378.0,306.5 378.5,306.6 379.0,306.7 379.4,306.8 379.9,306.9 380.3,307.0 380.8,307.0 381.2,307.1 381.7,307.2 382.2,307.3 382.6,307.4 383.1,307.4 383.5,307.5 384.0,307.6 384.4,307.7 384.9,307.8 385.4,307.8 385.8,307.9 386.3,308.0 386.7,308.1 387.2,308.1 387.7,308.2 388.1,308.3 388.6,308.4 389.0,308.4 389.5,308.4 389.9,308.5 390.4,308.5 390.9,308.5 391.3,308.6 391.8,308.6 392.2,308.6 392.7,308.7 393.1,308.7 393.6,308.7 394.1,308.8 394.5,308.9 395.0,309.0 395.4,309.2 395.9,309.4 396.3,309.6 396.8,309.9 397.3,310.1 397.7,310.2 398.2,310.3 398.6,310.1 399.1,309.8 399.5,309.2 400.0,308.3 400.5,306.8 400.9,305.0 401.4,302.8 401.8,300.5 402.3,298.3 402.8,296.2 403.2,294.3 403.7,292.7 404.1,291.2 404.6,290.2 405.0,289.6 405.5,289.4 406.0,289.5 406.4,289.7 406.9,290.1 407.3,290.6 407.8,291.2 408.2,291.9 408.7,292.7 409.2,293.5 409.6,294.4 410.1,295.2 410.5,296.1 411.0,296.9 411.4,297.7 411.9,298.6 412.4,299.4 412.8,300.2 413.3,301.0 413.7,301.8 414.2,302.6 414.6,303.4 415.1,304.2 415.6,304.9 416.0,305.7 416.5,306.5 416.9,307.2 417.4,308.0 417.8,308.7 418.3,309.4 418.8,310.1 419.2,310.8 419.7,311.4 420.1,311.9 420.6,312.5 421.0,313.0 421.5,313.5 422.0,314.1 422.4,314.6 422.9,315.1 423.3,315.6 423.8,316.1 424.3,316.5 424.7,316.8 425.2,316.9 425.6,317.0 426.1,316.9 426.5,316.8 427.0,316.6 427.5,316.4 427.9,316.3 428.4,316.1 428.8,315.9 429.3,315.8 429.7,315.6 430.2,315.4 430.7,315.3 431.1,315.1 431.6,315.0 432.0,314.8 432.5,314.7 432.9,314.5 433.4,314.4 433.9,314.3 434.3,314.2 434.8,314.1 435.2,314.1 435.7,314.0 436.1,313.9 436.6,313.9 437.1,313.8 437.5,313.8 438.0,313.7 438.4,313.7 438.9,313.6 439.4,313.6 439.8,313.5 440.3,313.5 440.7,313.4 441.2,313.3 441.6,313.3 442.1,313.2 442.6,313.2 443.0,313.1 443.5,313.0 443.9,313.0 444.4,312.9 444.8,312.8 445.3,312.6 445.8,312.4 446.2,312.2 446.7,311.9 447.1,311.6 447.6,311.3 448.0,311.1 448.5,310.9" fill="none" stroke="#d4e24a" stroke-width="1.0" stroke-linejoin="round"/></g>
<path d="M265.5,179.5H448.5V328.5H265.5Z" fill="none" stroke="#7c7c7c" stroke-width="1"/>
<path d="M265.5,194.40h2.5" stroke="#7c7c7c" stroke-width="1"/>
<text x="262.50" y="197.30" font-size="7.6" fill="#2a2a2a" text-anchor="end">4.5</text>
<path d="M265.5,234.67h2.5" stroke="#7c7c7c" stroke-width="1"/>
<text x="262.50" y="237.57" font-size="7.6" fill="#2a2a2a" text-anchor="end">4.2</text>
<path d="M265.5,274.93h2.5" stroke="#7c7c7c" stroke-width="1"/>
<text x="262.50" y="277.83" font-size="7.6" fill="#2a2a2a" text-anchor="end">3.9</text>
<path d="M265.5,315.20h2.5" stroke="#7c7c7c" stroke-width="1"/>
<text x="262.50" y="318.10" font-size="7.6" fill="#2a2a2a" text-anchor="end">3.6</text>
<text x="265.50" y="337.90" font-size="7.6" fill="#2a2a2a" text-anchor="middle">400</text>
<path d="M302.10,328.5v-2.5" stroke="#7c7c7c" stroke-width="1"/>
<text x="302.10" y="337.90" font-size="7.6" fill="#2a2a2a" text-anchor="middle">800</text>
<path d="M338.70,328.5v-2.5" stroke="#7c7c7c" stroke-width="1"/>
<text x="338.70" y="337.90" font-size="7.6" fill="#2a2a2a" text-anchor="middle">1200</text>
<path d="M375.30,328.5v-2.5" stroke="#7c7c7c" stroke-width="1"/>
<text x="375.30" y="337.90" font-size="7.6" fill="#2a2a2a" text-anchor="middle">1600</text>
<path d="M411.90,328.5v-2.5" stroke="#7c7c7c" stroke-width="1"/>
<text x="411.90" y="337.90" font-size="7.6" fill="#2a2a2a" text-anchor="middle">2000</text>
<text x="448.50" y="337.90" font-size="7.6" fill="#2a2a2a" text-anchor="middle">2400</text>
<text x="357.50" y="349.90" font-size="7.6" fill="#2a2a2a" text-anchor="middle">Wavelength/nm</text>
<text transform="translate(250.5,254.00) rotate(-90)" x="0" y="0" font-size="7.48" fill="#2a2a2a" text-anchor="middle">Hyperspectral reflectance after LR</text>
<text x="269.4" y="192.0" font-size="7.9" fill="#2a2a2a">(e)</text>
<g><polyline points="494.5,305.1 495.0,303.5 495.4,301.4 495.9,299.1 496.3,296.7 496.8,294.7 497.2,293.1 497.7,291.9 498.2,291.2 498.6,290.8 499.1,290.7 499.5,290.6 500.0,290.6 500.4,290.6 500.9,290.3 501.4,289.8 501.8,289.0 502.3,287.8 502.7,286.3 503.2,284.6 503.6,282.7 504.1,280.7 504.6,278.6 505.0,276.5 505.5,274.3 505.9,272.2 506.4,270.1 506.9,268.2 507.3,266.5 507.8,265.0 508.2,263.7 508.7,262.6 509.1,261.7 509.6,261.0 510.1,260.5 510.5,260.0 511.0,259.7 511.4,259.5 511.9,259.4 512.3,259.4 512.8,259.5 513.3,259.6 513.7,259.8 514.2,260.0 514.6,260.3 515.1,260.7 515.5,261.0 516.0,261.4 516.5,261.7 516.9,262.1 517.4,262.5 517.8,262.9 518.3,263.2 518.7,263.6 519.2,264.0 519.7,264.4 520.1,264.7 520.6,265.1 521.0,265.5 521.5,265.9 522.0,266.2 522.4,266.6 522.9,267.0 523.3,267.4 523.8,267.7 524.2,268.1 524.7,268.5 525.2,268.9 525.6,269.2 526.1,269.6 526.5,270.0 527.0,270.4 527.4,270.8 527.9,271.3 528.4,271.7 528.8,272.2 529.3,272.7 529.7,273.2 530.2,273.8 530.6,274.3 531.1,274.8 531.6,275.3 532.0,275.9 532.5,276.4 532.9,276.9 533.4,277.4 533.8,278.0 534.3,278.5 534.8,279.0 535.2,279.5 535.7,280.0 536.1,280.6 536.6,281.1 537.0,281.6 537.5,282.1 538.0,282.7 538.4,283.2 538.9,283.7 539.3,284.2 539.8,284.6 540.2,285.0 540.7,285.4 541.2,285.8 541.6,286.1 542.1,286.4 542.5,286.7 543.0,287.0 543.5,287.3 543.9,287.6 544.4,287.9 544.8,288.2 545.3,288.5 545.7,288.8 546.2,289.1 546.7,289.4 547.1,289.5 547.6,289.4 548.0,288.9 548.5,288.1 548.9,287.2 549.4,280.3 549.9,279.9 550.3,279.6 550.8,279.3 551.2,279.0 551.7,278.8 552.1,278.5 552.6,278.3 553.1,278.1 553.5,277.8 554.0,277.6 554.4,277.4 554.9,277.1 555.3,276.9 555.8,276.7 556.3,276.5 556.7,276.2 557.2,276.0 557.6,275.8 558.1,275.5 558.5,275.3 559.0,275.1 559.5,274.8 559.9,274.6 560.4,274.4 560.8,274.2 561.3,273.9 561.8,273.7 562.2,273.5 562.7,273.2 563.1,273.0 563.6,272.8 564.0,272.5 564.5,272.3 565.0,272.1 565.4,271.8 565.9,271.6 566.3,271.4 566.8,271.2 567.2,270.9 567.7,270.7 568.2,270.5 568.6,270.2 569.1,270.0 569.5,269.8 570.0,269.5 570.4,269.3 570.9,269.0 571.4,268.8 571.8,268.5 572.3,268.3 572.7,268.0 573.2,267.7 573.6,267.4 574.1,267.1 574.6,266.8 575.0,266.5 575.5,266.2 575.9,265.9 576.4,265.6 576.9,265.3 577.3,265.0 577.8,264.7 578.2,264.4 578.7,264.1 579.1,263.8 579.6,263.5 580.1,263.2 580.5,262.9 581.0,262.6 581.4,262.4 581.9,262.3 582.3,262.3 582.8,262.5 583.3,262.7 583.7,263.1 584.2,263.5 584.6,263.9 585.1,264.3 585.5,264.6 586.0,265.0 586.5,265.4 586.9,265.7 587.4,265.9 587.8,266.1 588.3,266.0 588.7,265.8 589.2,265.5 589.7,265.1 590.1,264.6 590.6,264.2 591.0,263.7 591.5,263.2 591.9,262.8 592.4,262.3 592.9,261.8 593.3,261.4 593.8,260.9 594.2,260.4 594.7,259.9 595.1,259.5 595.6,259.0 596.1,258.6 596.5,258.3 597.0,257.9 597.4,257.6 597.9,257.4 598.4,257.2 598.8,256.9 599.3,256.7 599.7,256.5 600.2,256.2 600.6,256.0 601.1,255.8 601.6,255.5 602.0,255.3 602.5,255.1 602.9,254.9 603.4,254.6 603.8,254.4 604.3,254.2 604.8,253.9 605.2,253.7 605.7,253.5 606.1,253.3 606.6,253.1 607.0,252.9 607.5,252.8 608.0,252.7 608.4,252.6 608.9,252.5 609.3,252.4 609.8,252.3 610.2,252.3 610.7,252.2 611.2,252.1 611.6,252.1 612.1,252.0 612.5,251.9 613.0,251.8 613.5,251.8 613.9,251.7 614.4,251.6 614.8,251.5 615.3,251.5 615.7,251.4 616.2,251.3 616.7,251.2 617.1,251.2 617.6,251.1 618.0,250.9 618.5,250.8 618.9,250.7 619.4,250.5 619.9,250.3 620.3,250.2 620.8,250.0 621.2,249.9 621.7,249.7 622.1,249.6 622.6,249.4 623.1,249.3 623.5,249.1 624.0,249.0 624.4,248.8 624.9,248.6 625.3,248.5 625.8,248.3 626.3,248.2 626.7,248.0 627.2,247.9 627.6,247.8 628.1,247.8 628.5,247.9 629.0,248.2 629.5,248.7 629.9,249.6 630.4,250.8 630.8,252.4 631.3,254.3 631.8,256.4 632.2,258.5 632.7,260.3 633.1,261.8 633.6,262.7 634.0,263.0 634.5,262.8 635.0,262.4 635.4,261.8 635.9,261.1 636.3,260.5 636.8,259.8 637.2,259.1 637.7,258.4 638.2,257.8 638.6,257.1 639.1,256.3 639.5,255.5 640.0,254.6 640.4,253.6 640.9,252.4 641.4,251.1 641.8,249.8 642.3,248.5 642.7,247.3 643.2,246.2 643.6,245.2 644.1,244.2 644.6,243.2 645.0,242.3 645.5,241.4 645.9,240.5 646.4,239.6 646.8,238.8 647.3,238.0 647.8,237.2 648.2,236.5 648.7,235.8 649.1,235.1 649.6,234.4 650.0,233.8 650.5,233.1 651.0,232.5 651.4,231.9 651.9,231.4 652.3,231.1 652.8,231.0 653.3,231.0 653.7,231.2 654.2,231.5 654.6,231.9 655.1,232.3 655.5,232.7 656.0,233.1 656.5,233.5 656.9,233.9 657.4,234.3 657.8,234.7 658.3,235.1 658.7,235.5 659.2,235.9 659.7,236.2 660.1,236.4 660.6,236.5 661.0,236.6 661.5,236.6 661.9,236.7 662.4,236.7 662.9,236.7 663.3,236.7 663.8,236.7 664.2,236.7 664.7,236.7 665.1,236.6 665.6,236.6 666.1,236.6 666.5,236.5 667.0,236.3 667.4,236.0 667.9,235.7 668.4,235.4 668.8,235.0 669.3,234.6 669.7,234.3 670.2,233.9 670.6,233.5 671.1,233.1 671.6,232.8 672.0,232.4 672.5,232.1 672.9,231.8 673.4,231.6 673.8,231.5 674.3,231.5 674.8,231.6 675.2,231.8 675.7,232.0 676.1,232.2 676.6,232.4 677.0,232.5 677.5,232.7" fill="none" stroke="#e06c34" stroke-width="1.0" stroke-linejoin="round"/><polyline points="494.5,314.9 495.0,313.3 495.4,311.1 495.9,308.6 496.3,306.0 496.8,303.4 497.2,301.1 497.7,299.3 498.2,297.9 498.6,297.1 499.1,296.7 499.5,296.7 500.0,296.7 500.4,296.7 500.9,296.4 501.4,295.8 501.8,295.0 502.3,293.9 502.7,292.5 503.2,290.9 503.6,289.1 504.1,287.2 504.6,285.2 505.0,283.3 505.5,281.5 505.9,279.7 506.4,278.0 506.9,276.4 507.3,275.0 507.8,273.7 508.2,272.5 508.7,271.5 509.1,270.6 509.6,269.9 510.1,269.3 510.5,268.9 511.0,268.6 511.4,268.5 511.9,268.4 512.3,268.5 512.8,268.6 513.3,268.9 513.7,269.1 514.2,269.5 514.6,269.8 515.1,270.2 515.5,270.5 516.0,270.9 516.5,271.3 516.9,271.7 517.4,272.0 517.8,272.4 518.3,272.8 518.7,273.2 519.2,273.5 519.7,273.9 520.1,274.3 520.6,274.7 521.0,275.0 521.5,275.4 522.0,275.8 522.4,276.2 522.9,276.5 523.3,276.9 523.8,277.3 524.2,277.7 524.7,278.0 525.2,278.4 525.6,278.8 526.1,279.2 526.5,279.5 527.0,279.9 527.4,280.4 527.9,280.8 528.4,281.3 528.8,281.8 529.3,282.3 529.7,282.8 530.2,283.3 530.6,283.8 531.1,284.4 531.6,284.9 532.0,285.4 532.5,285.9 532.9,286.4 533.4,287.0 533.8,287.5 534.3,288.0 534.8,288.5 535.2,289.1 535.7,289.6 536.1,290.1 536.6,290.6 537.0,291.2 537.5,291.7 538.0,292.2 538.4,292.7 538.9,293.2 539.3,293.7 539.8,294.2 540.2,294.6 540.7,295.0 541.2,295.4 541.6,295.7 542.1,296.1 542.5,296.4 543.0,296.8 543.5,297.1 543.9,297.5 544.4,297.8 544.8,298.2 545.3,298.5 545.7,298.8 546.2,299.2 546.7,299.4 547.1,299.6 547.6,299.5 548.0,299.0 548.5,298.2 548.9,297.2 549.4,289.9 549.9,289.5 550.3,289.2 550.8,288.9 551.2,288.6 551.7,288.4 552.1,288.2 552.6,288.0 553.1,287.8 553.5,287.5 554.0,287.3 554.4,287.1 554.9,286.9 555.3,286.7 555.8,286.5 556.3,286.3 556.7,286.1 557.2,285.9 557.6,285.7 558.1,285.4 558.5,285.2 559.0,285.0 559.5,284.8 559.9,284.6 560.4,284.4 560.8,284.2 561.3,284.0 561.8,283.7 562.2,283.5 562.7,283.3 563.1,283.0 563.6,282.8 564.0,282.6 564.5,282.3 565.0,282.1 565.4,281.9 565.9,281.7 566.3,281.4 566.8,281.2 567.2,281.0 567.7,280.7 568.2,280.5 568.6,280.3 569.1,280.0 569.5,279.8 570.0,279.6 570.4,279.3 570.9,279.1 571.4,278.8 571.8,278.6 572.3,278.3 572.7,278.0 573.2,277.7 573.6,277.4 574.1,277.1 574.6,276.8 575.0,276.5 575.5,276.2 575.9,275.9 576.4,275.6 576.9,275.3 577.3,275.0 577.8,274.7 578.2,274.4 578.7,274.1 579.1,273.8 579.6,273.5 580.1,273.2 580.5,272.9 581.0,272.6 581.4,272.4 581.9,272.3 582.3,272.4 582.8,272.5 583.3,272.8 583.7,273.2 584.2,273.6 584.6,274.0 585.1,274.4 585.5,274.8 586.0,275.2 586.5,275.6 586.9,276.0 587.4,276.2 587.8,276.4 588.3,276.4 588.7,276.2 589.2,275.8 589.7,275.4 590.1,275.0 590.6,274.5 591.0,274.0 591.5,273.5 591.9,273.1 592.4,272.6 592.9,272.1 593.3,271.6 593.8,271.1 594.2,270.7 594.7,270.2 595.1,269.7 595.6,269.3 596.1,268.8 596.5,268.5 597.0,268.1 597.4,267.9 597.9,267.6 598.4,267.4 598.8,267.1 599.3,266.9 599.7,266.7 600.2,266.4 600.6,266.2 601.1,266.0 601.6,265.8 602.0,265.5 602.5,265.3 602.9,265.1 603.4,264.8 603.8,264.6 604.3,264.4 604.8,264.1 605.2,263.9 605.7,263.7 606.1,263.5 606.6,263.3 607.0,263.1 607.5,263.0 608.0,262.9 608.4,262.8 608.9,262.7 609.3,262.6 609.8,262.5 610.2,262.5 610.7,262.4 611.2,262.3 611.6,262.3 612.1,262.2 612.5,262.1 613.0,262.0 613.5,262.0 613.9,261.9 614.4,261.8 614.8,261.8 615.3,261.7 615.7,261.6 616.2,261.5 616.7,261.4 617.1,261.4 617.6,261.3 618.0,261.1 618.5,261.0 618.9,260.9 619.4,260.7 619.9,260.6 620.3,260.4 620.8,260.2 621.2,260.1 621.7,259.9 622.1,259.8 622.6,259.6 623.1,259.5 623.5,259.3 624.0,259.2 624.4,259.0 624.9,258.9 625.3,258.7 625.8,258.6 626.3,258.4 626.7,258.3 627.2,258.2 627.6,258.1 628.1,258.1 628.5,258.2 629.0,258.5 629.5,259.1 629.9,259.9 630.4,261.2 630.8,262.8 631.3,264.7 631.8,266.8 632.2,268.8 632.7,270.7 633.1,272.1 633.6,273.0 634.0,273.2 634.5,273.0 635.0,272.5 635.4,271.9 635.9,271.2 636.3,270.6 636.8,269.9 637.2,269.3 637.7,268.7 638.2,268.0 638.6,267.3 639.1,266.6 639.5,265.9 640.0,265.0 640.4,263.9 640.9,262.7 641.4,261.5 641.8,260.2 642.3,258.9 642.7,257.8 643.2,256.7 643.6,255.7 644.1,254.8 644.6,254.0 645.0,253.1 645.5,252.3 645.9,251.5 646.4,250.7 646.8,249.9 647.3,249.1 647.8,248.4 648.2,247.7 648.7,247.0 649.1,246.3 649.6,245.6 650.0,245.0 650.5,244.3 651.0,243.7 651.4,243.1 651.9,242.7 652.3,242.5 652.8,242.4 653.3,242.5 653.7,242.7 654.2,243.0 654.6,243.3 655.1,243.7 655.5,244.0 656.0,244.4 656.5,244.8 656.9,245.2 657.4,245.5 657.8,245.9 658.3,246.3 658.7,246.6 659.2,246.9 659.7,247.2 660.1,247.3 660.6,247.4 661.0,247.3 661.5,247.2 661.9,247.1 662.4,247.0 662.9,246.9 663.3,246.7 663.8,246.6 664.2,246.5 664.7,246.3 665.1,246.2 665.6,246.0 666.1,245.9 666.5,245.7 667.0,245.5 667.4,245.2 667.9,244.9 668.4,244.6 668.8,244.3 669.3,244.0 669.7,243.7 670.2,243.3 670.6,243.0 671.1,242.7 671.6,242.4 672.0,242.1 672.5,241.8 672.9,241.6 673.4,241.4 673.8,241.3 674.3,241.4 674.8,241.6 675.2,241.8 675.7,242.0 676.1,242.2 676.6,242.5 677.0,242.7 677.5,242.8" fill="none" stroke="#f28a2e" stroke-width="1.0" stroke-linejoin="round"/><polyline points="494.5,304.8 495.0,303.5 495.4,301.7 495.9,299.4 496.3,296.8 496.8,294.0 497.2,291.4 497.7,289.4 498.2,288.0 498.6,287.3 499.1,287.1 499.5,287.1 500.0,287.2 500.4,287.0 500.9,286.6 501.4,285.9 501.8,284.7 502.3,283.0 502.7,280.6 503.2,277.5 503.6,274.0 504.1,270.2 504.6,266.7 505.0,263.5 505.5,260.9 505.9,258.7 506.4,256.9 506.9,255.4 507.3,254.3 507.8,253.5 508.2,253.0 508.7,252.7 509.1,252.5 509.6,252.4 510.1,252.3 510.5,252.2 511.0,252.3 511.4,252.4 511.9,252.6 512.3,253.0 512.8,253.3 513.3,253.6 513.7,253.9 514.2,254.2 514.6,254.3 515.1,254.4 515.5,254.5 516.0,254.5 516.5,254.5 516.9,254.6 517.4,254.6 517.8,254.6 518.3,254.7 518.7,254.8 519.2,254.9 519.7,255.1 520.1,255.4 520.6,255.6 521.0,255.9 521.5,256.3 522.0,256.6 522.4,256.9 522.9,257.2 523.3,257.5 523.8,257.9 524.2,258.2 524.7,258.5 525.2,258.8 525.6,259.2 526.1,259.5 526.5,259.8 527.0,260.2 527.4,260.6 527.9,261.1 528.4,261.6 528.8,262.2 529.3,262.8 529.7,263.5 530.2,264.1 530.6,264.8 531.1,265.4 531.6,266.1 532.0,266.7 532.5,267.4 532.9,268.0 533.4,268.7 533.8,269.3 534.3,270.0 534.8,270.6 535.2,271.3 535.7,272.0 536.1,272.6 536.6,273.3 537.0,273.9 537.5,274.6 538.0,275.2 538.4,275.9 538.9,276.5 539.3,277.1 539.8,277.6 540.2,278.1 540.7,278.5 541.2,278.8 541.6,279.2 542.1,279.5 542.5,279.7 543.0,280.0 543.5,280.3 543.9,280.6 544.4,280.9 544.8,281.2 545.3,281.5 545.7,281.8 546.2,282.0 546.7,282.3 547.1,282.4 547.6,282.3 548.0,282.0 548.5,281.4 548.9,280.6 549.4,274.9 549.9,274.6 550.3,274.3 550.8,273.9 551.2,273.6 551.7,273.3 552.1,273.1 552.6,272.8 553.1,272.5 553.5,272.2 554.0,272.0 554.4,271.7 554.9,271.4 555.3,271.1 555.8,270.9 556.3,270.6 556.7,270.3 557.2,270.0 557.6,269.8 558.1,269.5 558.5,269.2 559.0,268.9 559.5,268.7 559.9,268.4 560.4,268.1 560.8,267.9 561.3,267.6 561.8,267.4 562.2,267.1 562.7,266.9 563.1,266.7 563.6,266.4 564.0,266.2 564.5,266.0 565.0,265.7 565.4,265.5 565.9,265.3 566.3,265.0 566.8,264.8 567.2,264.6 567.7,264.3 568.2,264.1 568.6,263.9 569.1,263.6 569.5,263.4 570.0,263.2 570.4,262.9 570.9,262.7 571.4,262.5 571.8,262.3 572.3,262.0 572.7,261.8 573.2,261.6 573.6,261.4 574.1,261.1 574.6,260.9 575.0,260.7 575.5,260.5 575.9,260.3 576.4,260.0 576.9,259.8 577.3,259.6 577.8,259.4 578.2,259.1 578.7,258.9 579.1,258.7 579.6,258.5 580.1,258.3 580.5,258.1 581.0,257.9 581.4,257.8 581.9,257.8 582.3,258.0 582.8,258.3 583.3,258.7 583.7,259.3 584.2,259.9 584.6,260.5 585.1,261.2 585.5,261.9 586.0,262.8 586.5,263.7 586.9,264.6 587.4,265.4 587.8,266.1 588.3,266.4 588.7,266.4 589.2,266.1 589.7,265.7 590.1,265.1 590.6,264.6 591.0,264.0 591.5,263.5 591.9,262.9 592.4,262.3 592.9,261.7 593.3,261.2 593.8,260.6 594.2,260.0 594.7,259.5 595.1,258.9 595.6,258.4 596.1,257.9 596.5,257.5 597.0,257.1 597.4,256.8 597.9,256.5 598.4,256.3 598.8,256.1 599.3,255.8 599.7,255.6 600.2,255.4 600.6,255.1 601.1,254.9 601.6,254.7 602.0,254.4 602.5,254.2 602.9,254.0 603.4,253.8 603.8,253.5 604.3,253.3 604.8,253.1 605.2,252.8 605.7,252.6 606.1,252.4 606.6,252.2 607.0,252.1 607.5,252.0 608.0,251.9 608.4,251.8 608.9,251.8 609.3,251.8 609.8,251.7 610.2,251.7 610.7,251.7 611.2,251.6 611.6,251.6 612.1,251.6 612.5,251.6 613.0,251.5 613.5,251.5 613.9,251.5 614.4,251.4 614.8,251.4 615.3,251.4 615.7,251.4 616.2,251.3 616.7,251.3 617.1,251.3 617.6,251.3 618.0,251.4 618.5,251.4 618.9,251.5 619.4,251.6 619.9,251.6 620.3,251.7 620.8,251.8 621.2,251.9 621.7,252.0 622.1,252.0 622.6,252.1 623.1,252.2 623.5,252.3 624.0,252.3 624.4,252.3 624.9,252.2 625.3,252.0 625.8,251.8 626.3,251.6 626.7,251.6 627.2,251.9 627.6,252.5 628.1,253.6 628.5,255.0 629.0,256.9 629.5,259.3 629.9,262.1 630.4,265.2 630.8,268.5 631.3,271.7 631.8,274.8 632.2,277.6 632.7,279.9 633.1,281.6 633.6,282.6 634.0,283.0 634.5,282.8 635.0,282.3 635.4,281.6 635.9,280.8 636.3,280.0 636.8,279.2 637.2,278.3 637.7,277.4 638.2,276.4 638.6,275.4 639.1,274.3 639.5,273.2 640.0,272.1 640.4,271.0 640.9,269.8 641.4,268.6 641.8,267.4 642.3,266.1 642.7,264.9 643.2,263.6 643.6,262.4 644.1,261.2 644.6,260.0 645.0,258.8 645.5,257.7 645.9,256.6 646.4,255.4 646.8,254.3 647.3,253.2 647.8,252.1 648.2,251.1 648.7,250.1 649.1,249.2 649.6,248.3 650.0,247.4 650.5,246.5 651.0,245.7 651.4,244.9 651.9,244.2 652.3,243.6 652.8,243.3 653.3,243.2 653.7,243.3 654.2,243.5 654.6,243.9 655.1,244.3 655.5,244.7 656.0,245.1 656.5,245.6 656.9,246.0 657.4,246.4 657.8,246.9 658.3,247.3 658.7,247.7 659.2,248.1 659.7,248.5 660.1,248.9 660.6,249.2 661.0,249.5 661.5,249.7 661.9,250.0 662.4,250.3 662.9,250.5 663.3,250.8 663.8,251.0 664.2,251.3 664.7,251.5 665.1,251.8 665.6,252.0 666.1,252.3 666.5,252.5 667.0,252.7 667.4,252.9 667.9,253.1 668.4,253.3 668.8,253.5 669.3,253.7 669.7,253.9 670.2,254.0 670.6,254.2 671.1,254.4 671.6,254.6 672.0,254.7 672.5,254.9 672.9,255.1 673.4,255.4 673.8,255.6 674.3,255.9 674.8,256.2 675.2,256.6 675.7,256.9 676.1,257.3 676.6,257.6 677.0,257.9 677.5,258.1" fill="none" stroke="#2c6e2c" stroke-width="1.0" stroke-linejoin="round"/><polyline points="494.5,308.0 495.0,306.7 495.4,304.8 495.9,302.3 496.3,299.3 496.8,296.2 497.2,293.2 497.7,290.9 498.2,289.3 498.6,288.5 499.1,288.2 499.5,288.0 500.0,287.7 500.4,287.1 500.9,286.3 501.4,285.1 501.8,283.6 502.3,281.7 502.7,279.3 503.2,276.7 503.6,273.8 504.1,270.8 504.6,267.7 505.0,264.8 505.5,262.2 505.9,260.0 506.4,258.3 506.9,257.0 507.3,256.0 507.8,255.1 508.2,254.5 508.7,254.0 509.1,253.7 509.6,253.4 510.1,253.3 510.5,253.2 511.0,253.2 511.4,253.3 511.9,253.5 512.3,253.8 512.8,254.2 513.3,254.6 513.7,254.9 514.2,255.1 514.6,255.3 515.1,255.5 515.5,255.6 516.0,255.7 516.5,255.7 516.9,255.8 517.4,255.9 517.8,256.0 518.3,256.0 518.7,256.2 519.2,256.3 519.7,256.5 520.1,256.8 520.6,257.1 521.0,257.4 521.5,257.7 522.0,258.0 522.4,258.3 522.9,258.6 523.3,258.9 523.8,259.2 524.2,259.6 524.7,259.9 525.2,260.2 525.6,260.5 526.1,260.8 526.5,261.1 527.0,261.5 527.4,261.9 527.9,262.4 528.4,262.9 528.8,263.5 529.3,264.1 529.7,264.7 530.2,265.4 530.6,266.1 531.1,266.7 531.6,267.4 532.0,268.0 532.5,268.7 532.9,269.3 533.4,270.0 533.8,270.6 534.3,271.3 534.8,271.9 535.2,272.6 535.7,273.2 536.1,273.9 536.6,274.6 537.0,275.2 537.5,275.9 538.0,276.5 538.4,277.2 538.9,277.8 539.3,278.4 539.8,278.9 540.2,279.4 540.7,279.8 541.2,280.1 541.6,280.4 542.1,280.7 542.5,281.0 543.0,281.3 543.5,281.6 543.9,281.9 544.4,282.2 544.8,282.5 545.3,282.8 545.7,283.1 546.2,283.3 546.7,283.6 547.1,283.7 547.6,283.6 548.0,283.3 548.5,282.7 548.9,282.0 549.4,276.4 549.9,276.1 550.3,275.7 550.8,275.4 551.2,275.1 551.7,274.8 552.1,274.5 552.6,274.2 553.1,273.9 553.5,273.6 554.0,273.4 554.4,273.1 554.9,272.8 555.3,272.5 555.8,272.2 556.3,271.9 556.7,271.7 557.2,271.4 557.6,271.1 558.1,270.8 558.5,270.5 559.0,270.3 559.5,270.0 559.9,269.7 560.4,269.4 560.8,269.2 561.3,268.9 561.8,268.6 562.2,268.4 562.7,268.2 563.1,267.9 563.6,267.7 564.0,267.5 564.5,267.2 565.0,267.0 565.4,266.8 565.9,266.6 566.3,266.3 566.8,266.1 567.2,265.9 567.7,265.6 568.2,265.4 568.6,265.2 569.1,264.9 569.5,264.7 570.0,264.5 570.4,264.2 570.9,264.0 571.4,263.8 571.8,263.5 572.3,263.3 572.7,263.1 573.2,262.9 573.6,262.7 574.1,262.4 574.6,262.2 575.0,262.0 575.5,261.8 575.9,261.5 576.4,261.3 576.9,261.1 577.3,260.9 577.8,260.7 578.2,260.4 578.7,260.2 579.1,260.0 579.6,259.8 580.1,259.5 580.5,259.3 581.0,259.1 581.4,259.0 581.9,258.9 582.3,258.8 582.8,258.9 583.3,259.0 583.7,259.2 584.2,259.4 584.6,259.6 585.1,259.8 585.5,260.2 586.0,260.6 586.5,261.1 586.9,261.6 587.4,262.1 587.8,262.5 588.3,262.6 588.7,262.5 589.2,262.1 589.7,261.7 590.1,261.1 590.6,260.6 591.0,260.0 591.5,259.4 591.9,258.9 592.4,258.3 592.9,257.7 593.3,257.1 593.8,256.6 594.2,256.0 594.7,255.4 595.1,254.9 595.6,254.4 596.1,253.9 596.5,253.4 597.0,253.1 597.4,252.8 597.9,252.5 598.4,252.3 598.8,252.0 599.3,251.8 599.7,251.6 600.2,251.3 600.6,251.1 601.1,250.9 601.6,250.7 602.0,250.4 602.5,250.2 602.9,250.0 603.4,249.7 603.8,249.5 604.3,249.3 604.8,249.0 605.2,248.8 605.7,248.6 606.1,248.4 606.6,248.2 607.0,248.0 607.5,247.8 608.0,247.6 608.4,247.4 608.9,247.3 609.3,247.1 609.8,247.0 610.2,246.8 610.7,246.7 611.2,246.5 611.6,246.4 612.1,246.2 612.5,246.1 613.0,245.9 613.5,245.8 613.9,245.6 614.4,245.5 614.8,245.3 615.3,245.2 615.7,245.0 616.2,244.9 616.7,244.7 617.1,244.6 617.6,244.4 618.0,244.3 618.5,244.2 618.9,244.1 619.4,244.0 619.9,243.9 620.3,243.8 620.8,243.7 621.2,243.6 621.7,243.5 622.1,243.4 622.6,243.3 623.1,243.2 623.5,243.1 624.0,242.9 624.4,242.8 624.9,242.7 625.3,242.6 625.8,242.4 626.3,242.3 626.7,242.1 627.2,242.0 627.6,242.1 628.1,242.3 628.5,242.8 629.0,243.6 629.5,244.9 629.9,246.5 630.4,248.3 630.8,250.3 631.3,252.3 631.8,254.2 632.2,256.1 632.7,257.8 633.1,259.3 633.6,260.4 634.0,261.0 634.5,261.1 635.0,260.7 635.4,260.0 635.9,259.0 636.3,258.0 636.8,256.9 637.2,255.7 637.7,254.6 638.2,253.5 638.6,252.3 639.1,251.2 639.5,250.0 640.0,248.9 640.4,247.8 640.9,246.6 641.4,245.5 641.8,244.4 642.3,243.3 642.7,242.3 643.2,241.3 643.6,240.4 644.1,239.6 644.6,238.8 645.0,237.9 645.5,237.1 645.9,236.3 646.4,235.5 646.8,234.7 647.3,233.8 647.8,233.0 648.2,232.2 648.7,231.4 649.1,230.6 649.6,229.8 650.0,229.0 650.5,228.3 651.0,227.7 651.4,227.1 651.9,226.7 652.3,226.3 652.8,226.0 653.3,226.0 653.7,226.0 654.2,226.3 654.6,226.6 655.1,226.9 655.5,227.3 656.0,227.7 656.5,228.0 656.9,228.4 657.4,228.7 657.8,228.9 658.3,229.0 658.7,229.1 659.2,229.2 659.7,229.2 660.1,229.3 660.6,229.3 661.0,229.3 661.5,229.4 661.9,229.4 662.4,229.4 662.9,229.5 663.3,229.5 663.8,229.5 664.2,229.6 664.7,229.6 665.1,229.6 665.6,229.7 666.1,229.7 666.5,229.6 667.0,229.6 667.4,229.5 667.9,229.3 668.4,229.2 668.8,229.0 669.3,228.8 669.7,228.6 670.2,228.5 670.6,228.3 671.1,228.1 671.6,227.9 672.0,227.8 672.5,227.6 672.9,227.4 673.4,227.3 673.8,227.1 674.3,227.0 674.8,226.8 675.2,226.7 675.7,226.6 676.1,226.5 676.6,226.4 677.0,226.3 677.5,226.2" fill="none" stroke="#fcd04a" stroke-width="1.0" stroke-linejoin="round"/><polyline points="494.5,306.7 495.0,305.4 495.4,303.5 495.9,301.4 496.3,299.0 496.8,296.5 497.2,294.2 497.7,292.3 498.2,290.8 498.6,289.7 499.1,288.9 499.5,288.4 500.0,287.9 500.4,287.4 500.9,286.9 501.4,286.2 501.8,285.4 502.3,284.3 502.7,282.9 503.2,281.1 503.6,278.8 504.1,275.9 504.6,272.6 505.0,268.7 505.5,264.4 505.9,259.8 506.4,255.3 506.9,251.0 507.3,247.3 507.8,244.1 508.2,241.6 508.7,239.7 509.1,238.3 509.6,237.3 510.1,236.7 510.5,236.3 511.0,236.0 511.4,235.9 511.9,236.0 512.3,236.1 512.8,236.4 513.3,236.7 513.7,237.0 514.2,237.4 514.6,237.8 515.1,238.3 515.5,238.7 516.0,239.1 516.5,239.5 516.9,239.9 517.4,240.3 517.8,240.8 518.3,241.2 518.7,241.6 519.2,242.0 519.7,242.4 520.1,242.9 520.6,243.3 521.0,243.7 521.5,244.2 522.0,244.7 522.4,245.1 522.9,245.6 523.3,246.1 523.8,246.6 524.2,247.1 524.7,247.5 525.2,248.0 525.6,248.5 526.1,249.0 526.5,249.4 527.0,249.9 527.4,250.4 527.9,250.9 528.4,251.3 528.8,251.8 529.3,252.3 529.7,252.8 530.2,253.3 530.6,253.8 531.1,254.3 531.6,254.8 532.0,255.3 532.5,255.9 532.9,256.4 533.4,257.0 533.8,257.6 534.3,258.2 534.8,258.9 535.2,259.6 535.7,260.3 536.1,261.0 536.6,261.7 537.0,262.5 537.5,263.2 538.0,263.9 538.4,264.6 538.9,265.3 539.3,266.0 539.8,266.7 540.2,267.3 540.7,267.9 541.2,268.5 541.6,269.1 542.1,269.7 542.5,270.3 543.0,270.9 543.5,271.4 543.9,272.0 544.4,272.5 544.8,272.9 545.3,273.3 545.7,273.7 546.2,274.0 546.7,274.4 547.1,274.7 547.6,275.0 548.0,275.2 548.5,275.4 548.9,275.5 549.4,269.2 549.9,268.8 550.3,268.5 550.8,268.2 551.2,268.0 551.7,267.8 552.1,267.6 552.6,267.4 553.1,267.3 553.5,267.1 554.0,266.9 554.4,266.8 554.9,266.7 555.3,266.5 555.8,266.4 556.3,266.3 556.7,266.2 557.2,266.1 557.6,265.9 558.1,265.8 558.5,265.7 559.0,265.5 559.5,265.4 559.9,265.3 560.4,265.1 560.8,265.0 561.3,264.8 561.8,264.7 562.2,264.5 562.7,264.4 563.1,264.2 563.6,264.1 564.0,263.9 564.5,263.8 565.0,263.6 565.4,263.5 565.9,263.3 566.3,263.2 566.8,263.0 567.2,262.9 567.7,262.7 568.2,262.6 568.6,262.4 569.1,262.3 569.5,262.1 570.0,261.9 570.4,261.8 570.9,261.6 571.4,261.5 571.8,261.3 572.3,261.1 572.7,260.8 573.2,260.6 573.6,260.4 574.1,260.2 574.6,259.9 575.0,259.7 575.5,259.5 575.9,259.2 576.4,259.0 576.9,258.8 577.3,258.6 577.8,258.3 578.2,258.1 578.7,257.9 579.1,257.6 579.6,257.4 580.1,257.2 580.5,257.0 581.0,256.8 581.4,256.7 581.9,256.8 582.3,257.1 582.8,257.6 583.3,258.2 583.7,259.0 584.2,259.8 584.6,260.7 585.1,261.7 585.5,262.9 586.0,264.3 586.5,266.0 586.9,267.8 587.4,269.5 587.8,271.0 588.3,272.1 588.7,272.7 589.2,272.9 589.7,272.9 590.1,272.8 590.6,272.6 591.0,272.4 591.5,272.1 591.9,271.8 592.4,271.3 592.9,270.8 593.3,270.1 593.8,269.4 594.2,268.7 594.7,268.0 595.1,267.2 595.6,266.5 596.1,265.7 596.5,265.0 597.0,264.2 597.4,263.5 597.9,262.8 598.4,262.2 598.8,261.6 599.3,261.1 599.7,260.6 600.2,260.2 600.6,259.8 601.1,259.4 601.6,259.0 602.0,258.7 602.5,258.3 602.9,257.9 603.4,257.5 603.8,257.1 604.3,256.8 604.8,256.4 605.2,256.0 605.7,255.6 606.1,255.3 606.6,255.0 607.0,254.8 607.5,254.6 608.0,254.5 608.4,254.5 608.9,254.4 609.3,254.4 609.8,254.4 610.2,254.4 610.7,254.4 611.2,254.4 611.6,254.4 612.1,254.4 612.5,254.4 613.0,254.4 613.5,254.4 613.9,254.4 614.4,254.4 614.8,254.4 615.3,254.4 615.7,254.4 616.2,254.5 616.7,254.5 617.1,254.6 617.6,254.7 618.0,254.9 618.5,255.2 618.9,255.5 619.4,255.9 619.9,256.2 620.3,256.6 620.8,256.9 621.2,257.2 621.7,257.4 622.1,257.5 622.6,257.6 623.1,257.5 623.5,257.4 624.0,257.3 624.4,257.3 624.9,257.3 625.3,257.4 625.8,257.5 626.3,257.8 626.7,258.1 627.2,258.5 627.6,259.1 628.1,260.1 628.5,261.6 629.0,263.8 629.5,266.8 629.9,270.6 630.4,275.1 630.8,280.0 631.3,285.1 631.8,289.8 632.2,293.7 632.7,296.5 633.1,298.1 633.6,298.7 634.0,298.5 634.5,297.9 635.0,297.0 635.4,296.0 635.9,295.0 636.3,294.0 636.8,293.1 637.2,292.1 637.7,291.1 638.2,290.1 638.6,289.0 639.1,288.0 639.5,286.9 640.0,285.7 640.4,284.4 640.9,283.0 641.4,281.6 641.8,280.3 642.3,278.9 642.7,277.5 643.2,276.2 643.6,274.9 644.1,273.6 644.6,272.3 645.0,271.0 645.5,269.8 645.9,268.5 646.4,267.3 646.8,266.2 647.3,265.2 647.8,264.2 648.2,263.3 648.7,262.5 649.1,261.6 649.6,260.8 650.0,260.0 650.5,259.2 651.0,258.4 651.4,257.7 651.9,257.1 652.3,256.6 652.8,256.3 653.3,256.2 653.7,256.4 654.2,256.8 654.6,257.3 655.1,257.9 655.5,258.5 656.0,259.2 656.5,259.8 656.9,260.5 657.4,261.2 657.8,261.8 658.3,262.5 658.7,263.1 659.2,263.8 659.7,264.3 660.1,264.9 660.6,265.4 661.0,265.9 661.5,266.3 661.9,266.7 662.4,267.2 662.9,267.6 663.3,268.0 663.8,268.4 664.2,268.8 664.7,269.3 665.1,269.7 665.6,270.1 666.1,270.5 666.5,270.9 667.0,271.4 667.4,271.8 667.9,272.2 668.4,272.6 668.8,273.1 669.3,273.7 669.7,274.2 670.2,274.7 670.6,275.2 671.1,275.8 671.6,276.3 672.0,276.8 672.5,277.3 672.9,277.8 673.4,278.4 673.8,278.9 674.3,279.4 674.8,279.9 675.2,280.4 675.7,280.9 676.1,281.4 676.6,281.9 677.0,282.4 677.5,282.8" fill="none" stroke="#48a038" stroke-width="1.0" stroke-linejoin="round"/><polyline points="494.5,305.5 495.0,304.9 495.4,303.9 495.9,302.3 496.3,300.0 496.8,297.2 497.2,294.0 497.7,290.6 498.2,287.5 498.6,285.1 499.1,283.5 499.5,282.7 500.0,282.2 500.4,281.8 500.9,281.3 501.4,280.5 501.8,279.6 502.3,278.7 502.7,277.8 503.2,276.7 503.6,275.3 504.1,273.6 504.6,271.2 505.0,268.1 505.5,264.4 505.9,260.3 506.4,256.0 506.9,251.8 507.3,248.1 507.8,245.0 508.2,242.5 508.7,240.6 509.1,239.2 509.6,238.3 510.1,237.7 510.5,237.3 511.0,237.2 511.4,237.1 511.9,237.2 512.3,237.3 512.8,237.5 513.3,237.8 513.7,238.1 514.2,238.4 514.6,238.7 515.1,239.0 515.5,239.3 516.0,239.7 516.5,240.0 516.9,240.3 517.4,240.7 517.8,241.1 518.3,241.4 518.7,241.8 519.2,242.2 519.7,242.6 520.1,243.0 520.6,243.4 521.0,243.8 521.5,244.2 522.0,244.6 522.4,245.1 522.9,245.5 523.3,246.0 523.8,246.4 524.2,246.9 524.7,247.3 525.2,247.8 525.6,248.2 526.1,248.7 526.5,249.2 527.0,249.6 527.4,250.1 527.9,250.6 528.4,251.1 528.8,251.5 529.3,252.0 529.7,252.6 530.2,253.1 530.6,253.7 531.1,254.3 531.6,254.8 532.0,255.4 532.5,256.0 532.9,256.6 533.4,257.2 533.8,257.9 534.3,258.6 534.8,259.3 535.2,260.0 535.7,260.8 536.1,261.6 536.6,262.4 537.0,263.1 537.5,263.9 538.0,264.7 538.4,265.4 538.9,266.1 539.3,266.8 539.8,267.4 540.2,268.0 540.7,268.5 541.2,269.1 541.6,269.6 542.1,270.1 542.5,270.6 543.0,271.1 543.5,271.6 543.9,272.1 544.4,272.5 544.8,272.9 545.3,273.2 545.7,273.5 546.2,273.7 546.7,274.0 547.1,274.2 547.6,274.4 548.0,274.6 548.5,274.7 548.9,274.8 549.4,269.2 549.9,269.0 550.3,268.7 550.8,268.5 551.2,268.4 551.7,268.3 552.1,268.2 552.6,268.1 553.1,268.0 553.5,267.9 554.0,267.7 554.4,267.4 554.9,267.1 555.3,266.8 555.8,266.4 556.3,266.0 556.7,265.6 557.2,265.2 557.6,264.8 558.1,264.4 558.5,263.9 559.0,263.4 559.5,262.9 559.9,262.4 560.4,261.8 560.8,261.4 561.3,260.9 561.8,260.6 562.2,260.3 562.7,260.0 563.1,259.8 563.6,259.5 564.0,259.3 564.5,259.1 565.0,258.8 565.4,258.6 565.9,258.4 566.3,258.1 566.8,257.9 567.2,257.7 567.7,257.5 568.2,257.2 568.6,257.0 569.1,256.8 569.5,256.5 570.0,256.3 570.4,256.1 570.9,255.8 571.4,255.6 571.8,255.3 572.3,255.0 572.7,254.7 573.2,254.4 573.6,254.1 574.1,253.8 574.6,253.5 575.0,253.2 575.5,252.9 575.9,252.6 576.4,252.3 576.9,252.0 577.3,251.7 577.8,251.4 578.2,251.1 578.7,250.8 579.1,250.5 579.6,250.2 580.1,249.9 580.5,249.6 581.0,249.3 581.4,249.0 581.9,248.7 582.3,248.5 582.8,248.2 583.3,248.0 583.7,247.7 584.2,247.5 584.6,247.3 585.1,247.3 585.5,247.4 586.0,247.9 586.5,248.7 586.9,249.7 587.4,250.7 587.8,251.5 588.3,251.9 588.7,251.9 589.2,251.6 589.7,251.0 590.1,250.3 590.6,249.5 591.0,248.8 591.5,248.0 591.9,247.3 592.4,246.5 592.9,245.7 593.3,245.0 593.8,244.2 594.2,243.5 594.7,242.7 595.1,241.9 595.6,241.2 596.1,240.4 596.5,239.7 597.0,238.9 597.4,238.2 597.9,237.5 598.4,236.8 598.8,236.3 599.3,235.8 599.7,235.5 600.2,235.1 600.6,234.8 601.1,234.5 601.6,234.2 602.0,233.9 602.5,233.7 602.9,233.4 603.4,233.1 603.8,232.8 604.3,232.5 604.8,232.2 605.2,231.9 605.7,231.6 606.1,231.4 606.6,231.1 607.0,230.9 607.5,230.8 608.0,230.6 608.4,230.5 608.9,230.5 609.3,230.4 609.8,230.3 610.2,230.2 610.7,230.2 611.2,230.1 611.6,230.0 612.1,229.9 612.5,229.9 613.0,229.8 613.5,229.7 613.9,229.7 614.4,229.6 614.8,229.5 615.3,229.4 615.7,229.4 616.2,229.3 616.7,229.3 617.1,229.2 617.6,229.3 618.0,229.4 618.5,229.5 618.9,229.6 619.4,229.8 619.9,230.0 620.3,230.2 620.8,230.3 621.2,230.4 621.7,230.4 622.1,230.3 622.6,230.1 623.1,229.7 623.5,229.3 624.0,228.8 624.4,228.4 624.9,227.9 625.3,227.6 625.8,227.3 626.3,227.3 626.7,227.4 627.2,227.6 627.6,228.0 628.1,228.6 628.5,229.4 629.0,230.6 629.5,232.3 629.9,234.6 630.4,237.5 630.8,240.8 631.3,244.5 631.8,248.2 632.2,251.7 632.7,255.0 633.1,257.8 633.6,260.0 634.0,261.5 634.5,262.1 635.0,262.0 635.4,261.2 635.9,260.0 636.3,258.5 636.8,256.9 637.2,255.2 637.7,253.5 638.2,251.8 638.6,250.2 639.1,248.5 639.5,246.8 640.0,245.1 640.4,243.5 640.9,241.9 641.4,240.5 641.8,239.1 642.3,237.9 642.7,236.8 643.2,235.7 643.6,234.7 644.1,233.6 644.6,232.6 645.0,231.6 645.5,230.5 645.9,229.5 646.4,228.4 646.8,227.4 647.3,226.3 647.8,225.2 648.2,224.1 648.7,223.0 649.1,221.8 649.6,220.7 650.0,219.6 650.5,218.5 651.0,217.5 651.4,216.5 651.9,215.7 652.3,215.0 652.8,214.6 653.3,214.4 653.7,214.4 654.2,214.6 654.6,215.0 655.1,215.4 655.5,215.9 656.0,216.3 656.5,216.8 656.9,217.2 657.4,217.7 657.8,218.1 658.3,218.6 658.7,219.0 659.2,219.4 659.7,219.7 660.1,220.0 660.6,220.1 661.0,220.2 661.5,220.2 661.9,220.3 662.4,220.3 662.9,220.3 663.3,220.3 663.8,220.3 664.2,220.3 664.7,220.3 665.1,220.3 665.6,220.3 666.1,220.3 666.5,220.3 667.0,220.4 667.4,220.5 667.9,220.6 668.4,220.7 668.8,220.8 669.3,221.0 669.7,221.1 670.2,221.2 670.6,221.4 671.1,221.5 671.6,221.6 672.0,221.8 672.5,221.9 672.9,222.1 673.4,222.3 673.8,222.5 674.3,222.7 674.8,223.0 675.2,223.3 675.7,223.6 676.1,223.9 676.6,224.2 677.0,224.5 677.5,224.7" fill="none" stroke="#86c440" stroke-width="1.0" stroke-linejoin="round"/><polyline points="494.5,296.2 495.0,292.9 495.4,289.2 495.9,285.9 496.3,283.3 496.8,281.3 497.2,279.9 497.7,279.1 498.2,278.5 498.6,278.3 499.1,278.2 499.5,278.4 500.0,278.6 500.4,278.9 500.9,279.1 501.4,279.2 501.8,279.0 502.3,278.3 502.7,277.2 503.2,275.4 503.6,273.1 504.1,270.1 504.6,266.8 505.0,263.2 505.5,259.4 505.9,255.8 506.4,252.3 506.9,249.1 507.3,246.1 507.8,243.6 508.2,241.5 508.7,239.7 509.1,238.3 509.6,237.1 510.1,236.1 510.5,235.4 511.0,235.0 511.4,234.7 511.9,234.7 512.3,234.8 512.8,235.1 513.3,235.5 513.7,236.0 514.2,236.5 514.6,237.0 515.1,237.6 515.5,238.2 516.0,238.7 516.5,239.2 516.9,239.7 517.4,240.1 517.8,240.5 518.3,240.8 518.7,241.2 519.2,241.5 519.7,241.8 520.1,242.1 520.6,242.5 521.0,242.8 521.5,243.1 522.0,243.5 522.4,243.8 522.9,244.2 523.3,244.5 523.8,244.9 524.2,245.2 524.7,245.6 525.2,246.0 525.6,246.4 526.1,246.8 526.5,247.3 527.0,247.7 527.4,248.2 527.9,248.7 528.4,249.2 528.8,249.7 529.3,250.2 529.7,250.9 530.2,251.6 530.6,252.3 531.1,253.1 531.6,253.9 532.0,254.7 532.5,255.5 532.9,256.3 533.4,257.1 533.8,257.9 534.3,258.7 534.8,259.5 535.2,260.2 535.7,261.0 536.1,261.8 536.6,262.5 537.0,263.3 537.5,264.0 538.0,264.8 538.4,265.5 538.9,266.2 539.3,266.9 539.8,267.6 540.2,268.2 540.7,268.8 541.2,269.3 541.6,269.9 542.1,270.5 542.5,271.0 543.0,271.6 543.5,272.1 543.9,272.6 544.4,273.1 544.8,273.4 545.3,273.8 545.7,274.1 546.2,274.3 546.7,274.6 547.1,274.8 547.6,275.0 548.0,275.2 548.5,275.3 548.9,275.3 549.4,269.5 549.9,269.1 550.3,268.7 550.8,268.3 551.2,268.0 551.7,267.7 552.1,267.4 552.6,267.1 553.1,266.8 553.5,266.5 554.0,266.2 554.4,265.9 554.9,265.6 555.3,265.3 555.8,264.9 556.3,264.6 556.7,264.2 557.2,263.9 557.6,263.5 558.1,263.2 558.5,262.8 559.0,262.5 559.5,262.1 559.9,261.8 560.4,261.5 560.8,261.1 561.3,260.8 561.8,260.6 562.2,260.3 562.7,260.1 563.1,259.8 563.6,259.6 564.0,259.4 564.5,259.2 565.0,258.9 565.4,258.7 565.9,258.5 566.3,258.2 566.8,258.0 567.2,257.8 567.7,257.5 568.2,257.3 568.6,257.1 569.1,256.8 569.5,256.6 570.0,256.4 570.4,256.1 570.9,255.9 571.4,255.7 571.8,255.5 572.3,255.2 572.7,255.0 573.2,254.8 573.6,254.6 574.1,254.3 574.6,254.1 575.0,253.9 575.5,253.7 575.9,253.5 576.4,253.2 576.9,253.0 577.3,252.8 577.8,252.6 578.2,252.3 578.7,252.1 579.1,251.9 579.6,251.7 580.1,251.5 580.5,251.2 581.0,251.1 581.4,250.9 581.9,250.8 582.3,250.8 582.8,250.9 583.3,251.1 583.7,251.4 584.2,251.7 584.6,252.0 585.1,252.5 585.5,253.3 586.0,254.4 586.5,256.0 586.9,257.8 587.4,259.6 587.8,261.2 588.3,262.3 588.7,262.8 589.2,263.0 589.7,262.8 590.1,262.5 590.6,262.1 591.0,261.7 591.5,261.3 591.9,260.8 592.4,260.2 592.9,259.5 593.3,258.7 593.8,257.8 594.2,257.0 594.7,256.1 595.1,255.2 595.6,254.4 596.1,253.5 596.5,252.6 597.0,251.7 597.4,250.9 597.9,250.1 598.4,249.4 598.8,248.8 599.3,248.3 599.7,248.0 600.2,247.7 600.6,247.4 601.1,247.1 601.6,246.9 602.0,246.6 602.5,246.4 602.9,246.2 603.4,245.9 603.8,245.7 604.3,245.4 604.8,245.2 605.2,244.9 605.7,244.7 606.1,244.5 606.6,244.3 607.0,244.1 607.5,243.9 608.0,243.8 608.4,243.6 608.9,243.5 609.3,243.4 609.8,243.3 610.2,243.2 610.7,243.1 611.2,243.0 611.6,242.9 612.1,242.8 612.5,242.6 613.0,242.5 613.5,242.4 613.9,242.3 614.4,242.2 614.8,242.1 615.3,242.0 615.7,241.9 616.2,241.8 616.7,241.7 617.1,241.6 617.6,241.6 618.0,241.6 618.5,241.6 618.9,241.7 619.4,241.7 619.9,241.8 620.3,241.9 620.8,241.9 621.2,242.0 621.7,242.1 622.1,242.1 622.6,242.2 623.1,242.2 623.5,242.2 624.0,242.1 624.4,241.8 624.9,241.6 625.3,241.2 625.8,240.9 626.3,240.6 626.7,240.4 627.2,240.4 627.6,240.7 628.1,241.4 628.5,242.5 629.0,244.3 629.5,247.1 629.9,250.9 630.4,255.9 630.8,261.6 631.3,267.5 631.8,272.9 632.2,277.8 632.7,282.1 633.1,285.6 633.6,288.4 634.0,290.2 634.5,291.0 635.0,291.1 635.4,290.6 635.9,289.8 636.3,288.7 636.8,287.6 637.2,286.5 637.7,285.4 638.2,284.2 638.6,283.1 639.1,281.9 639.5,280.6 640.0,279.2 640.4,277.7 640.9,276.1 641.4,274.3 641.8,272.5 642.3,270.6 642.7,268.7 643.2,266.8 643.6,264.9 644.1,263.0 644.6,261.2 645.0,259.3 645.5,257.4 645.9,255.7 646.4,254.0 646.8,252.6 647.3,251.4 647.8,250.3 648.2,249.4 648.7,248.5 649.1,247.7 649.6,246.9 650.0,246.0 650.5,245.1 651.0,244.1 651.4,243.0 651.9,241.8 652.3,240.6 652.8,239.6 653.3,238.9 653.7,238.6 654.2,238.6 654.6,238.9 655.1,239.3 655.5,239.7 656.0,240.1 656.5,240.6 656.9,241.1 657.4,241.5 657.8,242.0 658.3,242.4 658.7,242.8 659.2,243.3 659.7,243.7 660.1,244.0 660.6,244.3 661.0,244.6 661.5,244.9 661.9,245.1 662.4,245.4 662.9,245.6 663.3,245.9 663.8,246.1 664.2,246.4 664.7,246.6 665.1,246.9 665.6,247.1 666.1,247.4 666.5,247.7 667.0,248.0 667.4,248.3 667.9,248.7 668.4,249.1 668.8,249.4 669.3,249.8 669.7,250.2 670.2,250.6 670.6,251.0 671.1,251.4 671.6,251.8 672.0,252.1 672.5,252.6 672.9,253.0 673.4,253.4 673.8,254.0 674.3,254.5 674.8,255.2 675.2,255.8 675.7,256.5 676.1,257.1 676.6,257.7 677.0,258.3 677.5,258.7" fill="none" stroke="#74554a" stroke-width="1.0" stroke-linejoin="round"/><polyline points="494.5,285.8 495.0,284.8 495.4,283.6 495.9,282.4 496.3,281.2 496.8,280.0 497.2,278.7 497.7,277.4 498.2,276.3 498.6,275.4 499.1,274.8 499.5,274.5 500.0,274.5 500.4,274.6 500.9,274.5 501.4,274.3 501.8,273.8 502.3,273.0 502.7,271.9 503.2,270.3 503.6,268.4 504.1,266.2 504.6,263.7 505.0,260.8 505.5,257.5 505.9,253.9 506.4,250.1 506.9,246.3 507.3,242.4 507.8,238.8 508.2,235.5 508.7,232.7 509.1,230.5 509.6,228.9 510.1,227.7 510.5,226.8 511.0,226.1 511.4,225.6 511.9,225.3 512.3,225.2 512.8,225.3 513.3,225.6 513.7,226.0 514.2,226.4 514.6,226.9 515.1,227.3 515.5,227.7 516.0,228.2 516.5,228.6 516.9,229.0 517.4,229.5 517.8,229.9 518.3,230.3 518.7,230.8 519.2,231.3 519.7,231.8 520.1,232.4 520.6,233.0 521.0,233.5 521.5,234.1 522.0,234.7 522.4,235.4 522.9,236.0 523.3,236.6 523.8,237.4 524.2,238.2 524.7,239.1 525.2,240.0 525.6,241.0 526.1,242.0 526.5,243.0 527.0,244.0 527.4,245.0 527.9,246.0 528.4,247.0 528.8,248.0 529.3,249.0 529.7,250.1 530.2,251.1 530.6,252.2 531.1,253.2 531.6,254.3 532.0,255.4 532.5,256.4 532.9,257.5 533.4,258.5 533.8,259.5 534.3,260.5 534.8,261.5 535.2,262.4 535.7,263.4 536.1,264.3 536.6,265.3 537.0,266.2 537.5,267.1 538.0,268.1 538.4,269.0 538.9,269.9 539.3,270.7 539.8,271.6 540.2,272.4 540.7,273.1 541.2,273.9 541.6,274.7 542.1,275.4 542.5,276.2 543.0,276.9 543.5,277.7 543.9,278.4 544.4,279.1 544.8,279.8 545.3,280.4 545.7,281.1 546.2,281.7 546.7,282.3 547.1,282.8 547.6,283.3 548.0,283.7 548.5,284.0 548.9,284.1 549.4,269.2 549.9,268.5 550.3,267.8 550.8,267.2 551.2,266.8 551.7,266.5 552.1,266.4 552.6,266.3 553.1,266.2 553.5,266.2 554.0,266.3 554.4,266.3 554.9,266.3 555.3,266.3 555.8,266.3 556.3,266.4 556.7,266.4 557.2,266.4 557.6,266.4 558.1,266.4 558.5,266.3 559.0,266.2 559.5,265.9 559.9,265.7 560.4,265.4 560.8,265.1 561.3,264.9 561.8,264.7 562.2,264.6 562.7,264.5 563.1,264.4 563.6,264.4 564.0,264.3 564.5,264.3 565.0,264.2 565.4,264.2 565.9,264.1 566.3,264.1 566.8,264.0 567.2,264.0 567.7,263.9 568.2,263.9 568.6,263.8 569.1,263.8 569.5,263.7 570.0,263.7 570.4,263.6 570.9,263.5 571.4,263.5 571.8,263.3 572.3,263.2 572.7,263.0 573.2,262.9 573.6,262.7 574.1,262.5 574.6,262.3 575.0,262.2 575.5,262.0 575.9,261.8 576.4,261.6 576.9,261.5 577.3,261.4 577.8,261.3 578.2,261.3 578.7,261.4 579.1,261.5 579.6,261.7 580.1,261.9 580.5,262.1 581.0,262.3 581.4,262.5 581.9,262.7 582.3,262.9 582.8,263.1 583.3,263.3 583.7,263.6 584.2,263.8 584.6,264.1 585.1,264.5 585.5,265.1 586.0,265.9 586.5,267.1 586.9,268.5 587.4,269.9 587.8,271.1 588.3,272.0 588.7,272.5 589.2,272.6 589.7,272.6 590.1,272.5 590.6,272.3 591.0,272.1 591.5,271.8 591.9,271.5 592.4,271.1 592.9,270.5 593.3,269.9 593.8,269.2 594.2,268.4 594.7,267.7 595.1,266.9 595.6,266.1 596.1,265.4 596.5,264.6 597.0,263.9 597.4,263.1 597.9,262.4 598.4,261.8 598.8,261.3 599.3,260.8 599.7,260.4 600.2,260.1 600.6,259.8 601.1,259.5 601.6,259.3 602.0,259.0 602.5,258.7 602.9,258.4 603.4,258.1 603.8,257.9 604.3,257.6 604.8,257.3 605.2,257.0 605.7,256.7 606.1,256.5 606.6,256.2 607.0,256.0 607.5,255.9 608.0,255.7 608.4,255.6 608.9,255.6 609.3,255.5 609.8,255.4 610.2,255.3 610.7,255.2 611.2,255.2 611.6,255.1 612.1,255.0 612.5,254.9 613.0,254.8 613.5,254.8 613.9,254.7 614.4,254.6 614.8,254.5 615.3,254.4 615.7,254.4 616.2,254.3 616.7,254.2 617.1,254.1 617.6,253.9 618.0,253.8 618.5,253.6 618.9,253.4 619.4,253.2 619.9,253.0 620.3,252.8 620.8,252.5 621.2,252.3 621.7,252.1 622.1,251.9 622.6,251.7 623.1,251.5 623.5,251.3 624.0,251.1 624.4,251.0 624.9,250.9 625.3,251.0 625.8,251.1 626.3,251.3 626.7,251.6 627.2,252.1 627.6,252.8 628.1,253.8 628.5,255.4 629.0,257.6 629.5,260.4 629.9,263.9 630.4,267.9 630.8,272.3 631.3,277.1 631.8,281.9 632.2,286.6 632.7,290.9 633.1,294.6 633.6,297.6 634.0,299.8 634.5,301.0 635.0,301.2 635.4,300.8 635.9,299.8 636.3,298.5 636.8,297.0 637.2,295.5 637.7,294.0 638.2,292.4 638.6,290.9 639.1,289.3 639.5,287.6 640.0,285.8 640.4,283.7 640.9,281.6 641.4,279.3 641.8,277.0 642.3,274.7 642.7,272.5 643.2,270.4 643.6,268.4 644.1,266.4 644.6,264.5 645.0,262.6 645.5,260.6 645.9,258.8 646.4,257.0 646.8,255.4 647.3,253.9 647.8,252.5 648.2,251.3 648.7,250.1 649.1,249.0 649.6,247.8 650.0,246.7 650.5,245.5 651.0,244.4 651.4,243.1 651.9,241.8 652.3,240.4 652.8,239.1 653.3,237.8 653.7,236.6 654.2,235.9 654.6,235.4 655.1,235.4 655.5,235.6 656.0,236.0 656.5,236.5 656.9,237.0 657.4,237.5 657.8,238.0 658.3,238.4 658.7,238.9 659.2,239.2 659.7,239.4 660.1,239.5 660.6,239.5 661.0,239.4 661.5,239.2 661.9,239.1 662.4,238.9 662.9,238.7 663.3,238.6 663.8,238.4 664.2,238.2 664.7,238.1 665.1,237.9 665.6,237.8 666.1,237.6 666.5,237.5 667.0,237.4 667.4,237.2 667.9,237.1 668.4,237.0 668.8,236.9 669.3,236.8 669.7,236.7 670.2,236.6 670.6,236.4 671.1,236.3 671.6,236.2 672.0,236.1 672.5,236.1 672.9,236.0 673.4,236.1 673.8,236.2 674.3,236.4 674.8,236.7 675.2,237.0 675.7,237.3 676.1,237.6 676.6,237.9 677.0,238.2 677.5,238.3" fill="none" stroke="#634238" stroke-width="1.0" stroke-linejoin="round"/><polyline points="494.5,302.5 495.0,301.1 495.4,299.2 495.9,296.9 496.3,294.4 496.8,291.9 497.2,289.6 497.7,287.7 498.2,286.1 498.6,285.1 499.1,284.5 499.5,284.4 500.0,284.5 500.4,284.7 500.9,284.8 501.4,284.6 501.8,283.9 502.3,282.6 502.7,280.6 503.2,278.1 503.6,275.2 504.1,271.8 504.6,268.0 505.0,263.9 505.5,259.5 505.9,254.9 506.4,250.2 506.9,245.4 507.3,240.6 507.8,235.8 508.2,231.2 508.7,226.7 509.1,222.5 509.6,218.9 510.1,216.0 510.5,213.7 511.0,212.3 511.4,211.4 511.9,211.1 512.3,211.1 512.8,211.2 513.3,211.5 513.7,211.8 514.2,212.1 514.6,212.5 515.1,212.9 515.5,213.3 516.0,213.8 516.5,214.2 516.9,214.7 517.4,215.1 517.8,215.5 518.3,216.0 518.7,216.4 519.2,216.9 519.7,217.3 520.1,217.8 520.6,218.2 521.0,218.7 521.5,219.2 522.0,219.8 522.4,220.4 522.9,221.0 523.3,221.6 523.8,222.2 524.2,222.8 524.7,223.4 525.2,224.0 525.6,224.7 526.1,225.3 526.5,225.9 527.0,226.6 527.4,227.3 527.9,228.0 528.4,228.8 528.8,229.7 529.3,230.5 529.7,231.4 530.2,232.3 530.6,233.2 531.1,234.1 531.6,235.0 532.0,236.0 532.5,236.9 532.9,237.8 533.4,238.7 533.8,239.7 534.3,240.7 534.8,241.7 535.2,242.7 535.7,243.8 536.1,244.8 536.6,245.9 537.0,247.0 537.5,248.0 538.0,249.1 538.4,250.1 538.9,251.1 539.3,252.1 539.8,253.1 540.2,254.1 540.7,255.1 541.2,256.0 541.6,256.8 542.1,257.6 542.5,258.2 543.0,258.8 543.5,259.3 543.9,259.8 544.4,260.4 544.8,260.8 545.3,261.3 545.7,261.7 546.2,262.0 546.7,262.2 547.1,262.3 547.6,262.3 548.0,262.3 548.5,262.3 548.9,262.3 549.4,261.9 549.9,261.7 550.3,261.5 550.8,261.1 551.2,260.8 551.7,260.4 552.1,260.1 552.6,259.7 553.1,259.4 553.5,259.0 554.0,258.6 554.4,258.3 554.9,257.9 555.3,257.6 555.8,257.2 556.3,256.8 556.7,256.5 557.2,256.1 557.6,255.8 558.1,255.4 558.5,255.1 559.0,254.7 559.5,254.3 559.9,254.0 560.4,253.7 560.8,253.3 561.3,253.0 561.8,252.6 562.2,252.3 562.7,251.9 563.1,251.6 563.6,251.2 564.0,250.9 564.5,250.6 565.0,250.2 565.4,249.9 565.9,249.5 566.3,249.2 566.8,248.8 567.2,248.5 567.7,248.2 568.2,247.8 568.6,247.5 569.1,247.1 569.5,246.8 570.0,246.4 570.4,246.1 570.9,245.7 571.4,245.3 571.8,244.9 572.3,244.4 572.7,244.0 573.2,243.5 573.6,243.0 574.1,242.5 574.6,242.0 575.0,241.5 575.5,241.0 575.9,240.5 576.4,240.0 576.9,239.5 577.3,239.0 577.8,238.5 578.2,238.0 578.7,237.5 579.1,237.0 579.6,236.5 580.1,236.0 580.5,235.5 581.0,235.0 581.4,234.5 581.9,234.1 582.3,233.8 582.8,233.6 583.3,233.4 583.7,233.5 584.2,233.7 584.6,234.2 585.1,234.9 585.5,235.8 586.0,236.9 586.5,238.1 586.9,239.4 587.4,240.5 587.8,241.4 588.3,241.9 588.7,242.0 589.2,241.8 589.7,241.4 590.1,240.9 590.6,240.4 591.0,239.8 591.5,239.2 591.9,238.5 592.4,237.8 592.9,237.1 593.3,236.2 593.8,235.4 594.2,234.5 594.7,233.7 595.1,232.8 595.6,231.9 596.1,231.0 596.5,230.1 597.0,229.3 597.4,228.4 597.9,227.6 598.4,226.9 598.8,226.2 599.3,225.6 599.7,225.2 600.2,224.7 600.6,224.4 601.1,224.0 601.6,223.6 602.0,223.2 602.5,222.8 602.9,222.4 603.4,222.1 603.8,221.7 604.3,221.3 604.8,220.9 605.2,220.5 605.7,220.2 606.1,219.8 606.6,219.5 607.0,219.2 607.5,218.9 608.0,218.7 608.4,218.5 608.9,218.3 609.3,218.1 609.8,217.9 610.2,217.7 610.7,217.5 611.2,217.3 611.6,217.1 612.1,216.9 612.5,216.7 613.0,216.6 613.5,216.4 613.9,216.2 614.4,216.0 614.8,215.8 615.3,215.6 615.7,215.4 616.2,215.2 616.7,215.1 617.1,214.9 617.6,214.8 618.0,214.6 618.5,214.5 618.9,214.5 619.4,214.4 619.9,214.3 620.3,214.2 620.8,214.2 621.2,214.1 621.7,214.0 622.1,213.9 622.6,213.9 623.1,213.7 623.5,213.5 624.0,213.2 624.4,212.8 624.9,212.3 625.3,211.7 625.8,211.1 626.3,210.6 626.7,210.3 627.2,210.2 627.6,210.5 628.1,211.2 628.5,212.7 629.0,215.0 629.5,218.4 629.9,222.7 630.4,227.7 630.8,232.8 631.3,237.7 631.8,242.2 632.2,246.3 632.7,249.9 633.1,252.8 633.6,255.0 634.0,256.2 634.5,256.6 635.0,256.5 635.4,256.0 635.9,255.2 636.3,254.2 636.8,252.9 637.2,251.4 637.7,249.8 638.2,248.0 638.6,246.2 639.1,244.4 639.5,242.6 640.0,240.8 640.4,238.9 640.9,237.1 641.4,235.3 641.8,233.5 642.3,231.7 642.7,229.9 643.2,228.1 643.6,226.3 644.1,224.6 644.6,222.8 645.0,221.0 645.5,219.2 645.9,217.4 646.4,215.6 646.8,213.9 647.3,212.2 647.8,210.6 648.2,209.0 648.7,207.6 649.1,206.2 649.6,204.8 650.0,203.5 650.5,202.2 651.0,200.9 651.4,199.6 651.9,198.3 652.3,197.1 652.8,195.9 653.3,194.9 653.7,194.2 654.2,193.8 654.6,193.7 655.1,193.9 655.5,194.2 656.0,194.6 656.5,195.0 656.9,195.4 657.4,195.9 657.8,196.3 658.3,196.7 658.7,197.1 659.2,197.5 659.7,197.9 660.1,198.3 660.6,198.7 661.0,199.1 661.5,199.4 661.9,199.8 662.4,200.1 662.9,200.4 663.3,200.6 663.8,200.8 664.2,200.9 664.7,201.1 665.1,201.2 665.6,201.4 666.1,201.5 666.5,201.6 667.0,201.8 667.4,201.9 667.9,202.0 668.4,202.2 668.8,202.3 669.3,202.4 669.7,202.6 670.2,202.7 670.6,202.9 671.1,203.0 671.6,203.1 672.0,203.3 672.5,203.4 672.9,203.6 673.4,203.8 673.8,204.1 674.3,204.4 674.8,204.9 675.2,205.6 675.7,206.2 676.1,207.0 676.6,207.7 677.0,208.3 677.5,208.7" fill="none" stroke="#d4e24a" stroke-width="1.0" stroke-linejoin="round"/></g>
<path d="M494.5,181.5H677.5V328.5H494.5Z" fill="none" stroke="#7c7c7c" stroke-width="1"/>
<text x="491.50" y="184.40" font-size="7.6" fill="#2a2a2a" text-anchor="end">0.010</text>
<path d="M494.5,206.00h2.5" stroke="#7c7c7c" stroke-width="1"/>
<text x="491.50" y="208.90" font-size="7.6" fill="#2a2a2a" text-anchor="end">0.008</text>
<path d="M494.5,230.50h2.5" stroke="#7c7c7c" stroke-width="1"/>
<text x="491.50" y="233.40" font-size="7.6" fill="#2a2a2a" text-anchor="end">0.006</text>
<path d="M494.5,255.00h2.5" stroke="#7c7c7c" stroke-width="1"/>
<text x="491.50" y="257.90" font-size="7.6" fill="#2a2a2a" text-anchor="end">0.004</text>
<path d="M494.5,279.50h2.5" stroke="#7c7c7c" stroke-width="1"/>
<text x="491.50" y="282.40" font-size="7.6" fill="#2a2a2a" text-anchor="end">0.002</text>
<path d="M494.5,304.00h2.5" stroke="#7c7c7c" stroke-width="1"/>
<text x="491.50" y="306.90" font-size="7.6" fill="#2a2a2a" text-anchor="end">0.000</text>
<text x="491.50" y="331.40" font-size="7.6" fill="#2a2a2a" text-anchor="end">−0.002</text>
<text x="494.50" y="337.90" font-size="7.6" fill="#2a2a2a" text-anchor="middle">400</text>
<path d="M531.10,328.5v-2.5" stroke="#7c7c7c" stroke-width="1"/>
<text x="531.10" y="337.90" font-size="7.6" fill="#2a2a2a" text-anchor="middle">800</text>
<path d="M567.70,328.5v-2.5" stroke="#7c7c7c" stroke-width="1"/>
<text x="567.70" y="337.90" font-size="7.6" fill="#2a2a2a" text-anchor="middle">1200</text>
<path d="M604.30,328.5v-2.5" stroke="#7c7c7c" stroke-width="1"/>
<text x="604.30" y="337.90" font-size="7.6" fill="#2a2a2a" text-anchor="middle">1600</text>
<path d="M640.90,328.5v-2.5" stroke="#7c7c7c" stroke-width="1"/>
<text x="640.90" y="337.90" font-size="7.6" fill="#2a2a2a" text-anchor="middle">2000</text>
<text x="677.50" y="337.90" font-size="7.6" fill="#2a2a2a" text-anchor="middle">2400</text>
<text x="586.50" y="349.90" font-size="7.6" fill="#2a2a2a" text-anchor="middle">Wavelength/nm</text>
<text transform="translate(468.5,255.00) rotate(-90)" x="0" y="0" font-size="7.48" fill="#2a2a2a" text-anchor="middle">Hyperspectral reflectance after CR</text>
<text x="499.3" y="192.1" font-size="7.9" fill="#2a2a2a">(f)</text>
</svg></body></html>
